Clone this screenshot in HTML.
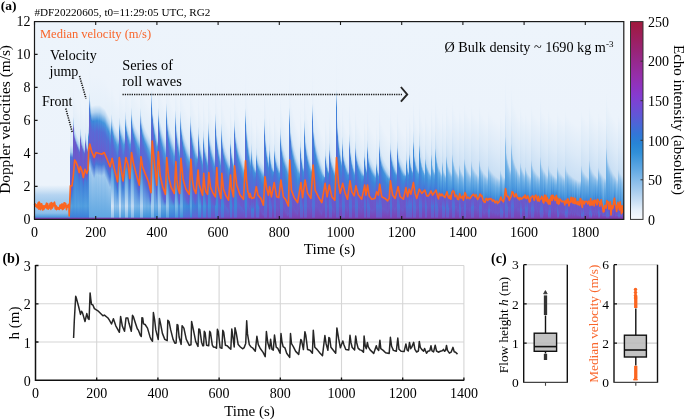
<!DOCTYPE html><html><head><meta charset="utf-8"><style>html,body{margin:0;padding:0;background:#fff;}svg{display:block;will-change:transform;}</style></head><body>
<svg width="685" height="419" viewBox="0 0 685 419" font-family='"Liberation Serif", serif'>
<defs>
<linearGradient id="cb" x1="0" y1="1" x2="0" y2="0"><stop offset="0.000" stop-color="#f8fafd"/><stop offset="0.048" stop-color="#e6f0fa"/><stop offset="0.096" stop-color="#c6ddf3"/><stop offset="0.144" stop-color="#a7ccee"/><stop offset="0.192" stop-color="#89bdea"/><stop offset="0.240" stop-color="#69ade5"/><stop offset="0.288" stop-color="#4d9edf"/><stop offset="0.336" stop-color="#3190d9"/><stop offset="0.384" stop-color="#2784d6"/><stop offset="0.432" stop-color="#3376d7"/><stop offset="0.480" stop-color="#4b66d7"/><stop offset="0.528" stop-color="#6156d6"/><stop offset="0.576" stop-color="#7448d5"/><stop offset="0.624" stop-color="#853bd0"/><stop offset="0.672" stop-color="#8f33c0"/><stop offset="0.720" stop-color="#952fac"/><stop offset="0.768" stop-color="#962b99"/><stop offset="0.816" stop-color="#972786"/><stop offset="0.864" stop-color="#992372"/><stop offset="0.912" stop-color="#9c1f5f"/><stop offset="0.960" stop-color="#9e1c4c"/><stop offset="1" stop-color="#a0193c"/></linearGradient>
<linearGradient id="g0" x2="0" y2="1"><stop offset=".000" stop-color="#edf4fb"/><stop offset=".826" stop-color="#ecf3fb"/><stop offset=".851" stop-color="#d3e5f6"/><stop offset=".876" stop-color="#b5d4f1"/><stop offset=".901" stop-color="#a6ccee"/><stop offset=".937" stop-color="#9cc7ed"/><stop offset=".967" stop-color="#8dbfea"/><stop offset=".987" stop-color="#4c9bde"/><stop offset=".994" stop-color="#7e40b1"/><stop offset="1.000" stop-color="#843aa6"/></linearGradient>
<linearGradient id="g1" x2="0" y2="1"><stop offset=".000" stop-color="#edf4fb"/><stop offset=".826" stop-color="#ecf3fb"/><stop offset=".851" stop-color="#d3e5f6"/><stop offset=".876" stop-color="#b5d4f1"/><stop offset=".901" stop-color="#a6ccee"/><stop offset=".937" stop-color="#9cc7ed"/><stop offset=".967" stop-color="#8dbfea"/><stop offset=".987" stop-color="#4c9bde"/><stop offset=".994" stop-color="#7e40b1"/><stop offset="1.000" stop-color="#843aa6"/></linearGradient>
<linearGradient id="g2" x2="0" y2="1"><stop offset=".000" stop-color="#edf4fb"/><stop offset=".826" stop-color="#ecf3fb"/><stop offset=".851" stop-color="#d3e5f6"/><stop offset=".876" stop-color="#b5d4f1"/><stop offset=".901" stop-color="#a6ccee"/><stop offset=".937" stop-color="#9cc7ed"/><stop offset=".967" stop-color="#8dbfea"/><stop offset=".987" stop-color="#4c9bde"/><stop offset=".994" stop-color="#7e40b1"/><stop offset="1.000" stop-color="#843aa6"/></linearGradient>
<linearGradient id="g3" x2="0" y2="1"><stop offset=".000" stop-color="#edf4fb"/><stop offset=".826" stop-color="#ecf3fb"/><stop offset=".851" stop-color="#d3e5f6"/><stop offset=".876" stop-color="#b5d4f1"/><stop offset=".901" stop-color="#a6ccee"/><stop offset=".937" stop-color="#9cc7ed"/><stop offset=".967" stop-color="#8dbfea"/><stop offset=".987" stop-color="#4c9bde"/><stop offset=".994" stop-color="#7e40b1"/><stop offset="1.000" stop-color="#843aa6"/></linearGradient>
<linearGradient id="g4" x2="0" y2="1"><stop offset=".000" stop-color="#edf4fb"/><stop offset=".826" stop-color="#ecf3fb"/><stop offset=".851" stop-color="#d3e5f6"/><stop offset=".876" stop-color="#b5d4f1"/><stop offset=".901" stop-color="#a6ccee"/><stop offset=".937" stop-color="#9cc7ed"/><stop offset=".967" stop-color="#8dbfea"/><stop offset=".987" stop-color="#4c9bde"/><stop offset=".994" stop-color="#7e40b1"/><stop offset="1.000" stop-color="#843aa6"/></linearGradient>
<linearGradient id="g5" x2="0" y2="1"><stop offset=".000" stop-color="#edf4fb"/><stop offset=".826" stop-color="#ecf3fb"/><stop offset=".851" stop-color="#d3e5f6"/><stop offset=".876" stop-color="#b5d4f1"/><stop offset=".901" stop-color="#a6ccee"/><stop offset=".937" stop-color="#9cc7ed"/><stop offset=".967" stop-color="#8dbfea"/><stop offset=".987" stop-color="#4c9bde"/><stop offset=".994" stop-color="#7e40b1"/><stop offset="1.000" stop-color="#843aa6"/></linearGradient>
<linearGradient id="g6" x2="0" y2="1"><stop offset=".000" stop-color="#edf4fb"/><stop offset=".826" stop-color="#ecf3fb"/><stop offset=".851" stop-color="#d3e5f6"/><stop offset=".876" stop-color="#b5d4f1"/><stop offset=".901" stop-color="#a6ccee"/><stop offset=".937" stop-color="#9cc7ed"/><stop offset=".967" stop-color="#8dbfea"/><stop offset=".987" stop-color="#4c9bde"/><stop offset=".994" stop-color="#7e40b1"/><stop offset="1.000" stop-color="#843aa6"/></linearGradient>
<linearGradient id="g7" x2="0" y2="1"><stop offset=".000" stop-color="#edf4fb"/><stop offset=".826" stop-color="#ecf3fb"/><stop offset=".851" stop-color="#d3e5f6"/><stop offset=".876" stop-color="#b5d4f1"/><stop offset=".901" stop-color="#a6ccee"/><stop offset=".937" stop-color="#9cc7ed"/><stop offset=".967" stop-color="#8dbfea"/><stop offset=".987" stop-color="#4c9bde"/><stop offset=".994" stop-color="#7e40b1"/><stop offset="1.000" stop-color="#843aa6"/></linearGradient>
<linearGradient id="g8" x2="0" y2="1"><stop offset=".000" stop-color="#edf4fb"/><stop offset=".826" stop-color="#ecf3fb"/><stop offset=".851" stop-color="#d3e5f6"/><stop offset=".876" stop-color="#b5d4f1"/><stop offset=".901" stop-color="#a6ccee"/><stop offset=".937" stop-color="#9cc7ed"/><stop offset=".967" stop-color="#8dbfea"/><stop offset=".987" stop-color="#4c9bde"/><stop offset=".994" stop-color="#7e40b1"/><stop offset="1.000" stop-color="#843aa6"/></linearGradient>
<linearGradient id="g9" x2="0" y2="1"><stop offset=".000" stop-color="#edf4fb"/><stop offset=".826" stop-color="#ecf3fb"/><stop offset=".851" stop-color="#d3e5f6"/><stop offset=".876" stop-color="#b5d4f1"/><stop offset=".901" stop-color="#a6ccee"/><stop offset=".937" stop-color="#9cc7ed"/><stop offset=".967" stop-color="#8dbfea"/><stop offset=".987" stop-color="#4c9bde"/><stop offset=".994" stop-color="#7e40b1"/><stop offset="1.000" stop-color="#843aa6"/></linearGradient>
<linearGradient id="g10" x2="0" y2="1"><stop offset=".000" stop-color="#edf4fb"/><stop offset=".826" stop-color="#ecf3fb"/><stop offset=".851" stop-color="#d3e5f6"/><stop offset=".876" stop-color="#b5d4f1"/><stop offset=".901" stop-color="#a6ccee"/><stop offset=".937" stop-color="#9cc7ed"/><stop offset=".967" stop-color="#8dbfea"/><stop offset=".987" stop-color="#4c9bde"/><stop offset=".994" stop-color="#7e40b1"/><stop offset="1.000" stop-color="#843aa6"/></linearGradient>
<linearGradient id="g11" x2="0" y2="1"><stop offset=".000" stop-color="#edf4fb"/><stop offset=".826" stop-color="#ecf3fb"/><stop offset=".851" stop-color="#d3e5f6"/><stop offset=".876" stop-color="#b5d4f1"/><stop offset=".901" stop-color="#a6ccee"/><stop offset=".937" stop-color="#9cc7ed"/><stop offset=".967" stop-color="#8dbfea"/><stop offset=".987" stop-color="#4c9bde"/><stop offset=".994" stop-color="#7e40b1"/><stop offset="1.000" stop-color="#843aa6"/></linearGradient>
<linearGradient id="g12" x2="0" y2="1"><stop offset=".000" stop-color="#edf4fb"/><stop offset=".826" stop-color="#ecf3fb"/><stop offset=".851" stop-color="#d3e5f6"/><stop offset=".876" stop-color="#b5d4f1"/><stop offset=".901" stop-color="#a6ccee"/><stop offset=".937" stop-color="#9cc7ed"/><stop offset=".967" stop-color="#8dbfea"/><stop offset=".987" stop-color="#4c9bde"/><stop offset=".994" stop-color="#7e40b1"/><stop offset="1.000" stop-color="#843aa6"/></linearGradient>
<linearGradient id="g13" x2="0" y2="1"><stop offset=".000" stop-color="#edf4fb"/><stop offset=".826" stop-color="#ecf3fb"/><stop offset=".851" stop-color="#d3e5f6"/><stop offset=".876" stop-color="#b5d4f1"/><stop offset=".901" stop-color="#a6ccee"/><stop offset=".937" stop-color="#9cc7ed"/><stop offset=".967" stop-color="#8dbfea"/><stop offset=".987" stop-color="#4c9bde"/><stop offset=".994" stop-color="#7e40b1"/><stop offset="1.000" stop-color="#843aa6"/></linearGradient>
<linearGradient id="g14" x2="0" y2="1"><stop offset=".000" stop-color="#edf4fb"/><stop offset=".826" stop-color="#ecf3fb"/><stop offset=".851" stop-color="#d3e5f6"/><stop offset=".876" stop-color="#b5d4f1"/><stop offset=".901" stop-color="#a6ccee"/><stop offset=".937" stop-color="#9cc7ed"/><stop offset=".967" stop-color="#8dbfea"/><stop offset=".987" stop-color="#4c9bde"/><stop offset=".994" stop-color="#7e40b1"/><stop offset="1.000" stop-color="#843aa6"/></linearGradient>
<linearGradient id="g15" x2="0" y2="1"><stop offset=".000" stop-color="#edf4fb"/><stop offset=".826" stop-color="#ecf3fb"/><stop offset=".851" stop-color="#d3e5f6"/><stop offset=".876" stop-color="#b5d4f1"/><stop offset=".901" stop-color="#a6ccee"/><stop offset=".937" stop-color="#9cc7ed"/><stop offset=".967" stop-color="#8dbfea"/><stop offset=".987" stop-color="#4c9bde"/><stop offset=".994" stop-color="#7e40b1"/><stop offset="1.000" stop-color="#843aa6"/></linearGradient>
<linearGradient id="g16" x2="0" y2="1"><stop offset=".000" stop-color="#edf4fb"/><stop offset=".826" stop-color="#ecf3fb"/><stop offset=".851" stop-color="#d3e5f6"/><stop offset=".876" stop-color="#b5d4f1"/><stop offset=".901" stop-color="#a6ccee"/><stop offset=".937" stop-color="#9cc7ed"/><stop offset=".967" stop-color="#8dbfea"/><stop offset=".987" stop-color="#4c9bde"/><stop offset=".994" stop-color="#7e40b1"/><stop offset="1.000" stop-color="#843aa6"/></linearGradient>
<linearGradient id="g17" x2="0" y2="1"><stop offset=".000" stop-color="#edf4fb"/><stop offset=".826" stop-color="#ecf3fb"/><stop offset=".851" stop-color="#d3e5f6"/><stop offset=".876" stop-color="#b5d4f1"/><stop offset=".901" stop-color="#a6ccee"/><stop offset=".937" stop-color="#9cc7ed"/><stop offset=".967" stop-color="#8dbfea"/><stop offset=".987" stop-color="#4c9bde"/><stop offset=".994" stop-color="#7e40b1"/><stop offset="1.000" stop-color="#843aa6"/></linearGradient>
<linearGradient id="g18" x2="0" y2="1"><stop offset=".000" stop-color="#edf4fb"/><stop offset=".826" stop-color="#ecf3fb"/><stop offset=".851" stop-color="#d3e5f6"/><stop offset=".876" stop-color="#b5d4f1"/><stop offset=".901" stop-color="#a6ccee"/><stop offset=".937" stop-color="#9cc7ed"/><stop offset=".967" stop-color="#8dbfea"/><stop offset=".987" stop-color="#4c9bde"/><stop offset=".994" stop-color="#7e40b1"/><stop offset="1.000" stop-color="#843aa6"/></linearGradient>
<linearGradient id="g19" x2="0" y2="1"><stop offset=".000" stop-color="#edf4fb"/><stop offset=".826" stop-color="#ecf3fb"/><stop offset=".851" stop-color="#d3e5f6"/><stop offset=".876" stop-color="#b5d4f1"/><stop offset=".901" stop-color="#a6ccee"/><stop offset=".937" stop-color="#9cc7ed"/><stop offset=".967" stop-color="#8dbfea"/><stop offset=".987" stop-color="#4c9bde"/><stop offset=".994" stop-color="#7e40b1"/><stop offset="1.000" stop-color="#843aa6"/></linearGradient>
<linearGradient id="g20" x2="0" y2="1"><stop offset=".000" stop-color="#edf4fb"/><stop offset=".826" stop-color="#ecf3fb"/><stop offset=".851" stop-color="#d3e5f6"/><stop offset=".876" stop-color="#b5d4f1"/><stop offset=".901" stop-color="#a6ccee"/><stop offset=".937" stop-color="#9cc7ed"/><stop offset=".967" stop-color="#8dbfea"/><stop offset=".987" stop-color="#4c9bde"/><stop offset=".994" stop-color="#7e40b1"/><stop offset="1.000" stop-color="#843aa6"/></linearGradient>
<linearGradient id="g21" x2="0" y2="1"><stop offset=".000" stop-color="#edf4fb"/><stop offset=".826" stop-color="#ecf3fb"/><stop offset=".851" stop-color="#d3e5f6"/><stop offset=".876" stop-color="#b5d4f1"/><stop offset=".901" stop-color="#a6ccee"/><stop offset=".937" stop-color="#9cc7ed"/><stop offset=".967" stop-color="#8dbfea"/><stop offset=".987" stop-color="#4c9bde"/><stop offset=".994" stop-color="#7e40b1"/><stop offset="1.000" stop-color="#843aa6"/></linearGradient>
<linearGradient id="g22" x2="0" y2="1"><stop offset=".000" stop-color="#edf4fb"/><stop offset=".826" stop-color="#ecf3fb"/><stop offset=".851" stop-color="#d3e5f6"/><stop offset=".876" stop-color="#b5d4f1"/><stop offset=".901" stop-color="#a6ccee"/><stop offset=".937" stop-color="#9cc7ed"/><stop offset=".967" stop-color="#8dbfea"/><stop offset=".987" stop-color="#4c9bde"/><stop offset=".994" stop-color="#7e40b1"/><stop offset="1.000" stop-color="#843aa6"/></linearGradient>
<linearGradient id="g23" x2="0" y2="1"><stop offset=".000" stop-color="#edf4fb"/><stop offset=".826" stop-color="#ecf3fb"/><stop offset=".851" stop-color="#d3e5f6"/><stop offset=".876" stop-color="#b5d4f1"/><stop offset=".901" stop-color="#a6ccee"/><stop offset=".937" stop-color="#9cc7ed"/><stop offset=".967" stop-color="#8dbfea"/><stop offset=".987" stop-color="#4c9bde"/><stop offset=".994" stop-color="#7e40b1"/><stop offset="1.000" stop-color="#843aa6"/></linearGradient>
<linearGradient id="g24" x2="0" y2="1"><stop offset=".000" stop-color="#edf4fb"/><stop offset=".826" stop-color="#ecf3fb"/><stop offset=".851" stop-color="#d3e5f6"/><stop offset=".876" stop-color="#b5d4f1"/><stop offset=".901" stop-color="#a6ccee"/><stop offset=".937" stop-color="#9cc7ed"/><stop offset=".967" stop-color="#8dbfea"/><stop offset=".987" stop-color="#4c9bde"/><stop offset=".994" stop-color="#7e40b1"/><stop offset="1.000" stop-color="#843aa6"/></linearGradient>
<linearGradient id="g25" x2="0" y2="1"><stop offset=".000" stop-color="#edf4fb"/><stop offset=".826" stop-color="#ecf3fb"/><stop offset=".851" stop-color="#d3e5f6"/><stop offset=".876" stop-color="#b5d4f1"/><stop offset=".901" stop-color="#a6ccee"/><stop offset=".937" stop-color="#9cc7ed"/><stop offset=".967" stop-color="#8dbfea"/><stop offset=".987" stop-color="#4c9bde"/><stop offset=".994" stop-color="#7e40b1"/><stop offset="1.000" stop-color="#843aa6"/></linearGradient>
<linearGradient id="g26" x2="0" y2="1"><stop offset=".000" stop-color="#edf4fb"/><stop offset=".826" stop-color="#ecf3fb"/><stop offset=".851" stop-color="#d3e5f6"/><stop offset=".876" stop-color="#b5d4f1"/><stop offset=".901" stop-color="#a6ccee"/><stop offset=".937" stop-color="#9cc7ed"/><stop offset=".967" stop-color="#8dbfea"/><stop offset=".987" stop-color="#4c9bde"/><stop offset=".994" stop-color="#7e40b1"/><stop offset="1.000" stop-color="#843aa6"/></linearGradient>
<linearGradient id="g27" x2="0" y2="1"><stop offset=".000" stop-color="#edf4fb"/><stop offset=".826" stop-color="#ecf3fb"/><stop offset=".851" stop-color="#d3e5f6"/><stop offset=".876" stop-color="#b5d4f1"/><stop offset=".901" stop-color="#a6ccee"/><stop offset=".937" stop-color="#9cc7ed"/><stop offset=".967" stop-color="#8dbfea"/><stop offset=".987" stop-color="#4c9bde"/><stop offset=".994" stop-color="#7e40b1"/><stop offset="1.000" stop-color="#843aa6"/></linearGradient>
<linearGradient id="g28" x2="0" y2="1"><stop offset=".000" stop-color="#edf4fb"/><stop offset=".826" stop-color="#ecf3fb"/><stop offset=".851" stop-color="#d3e5f6"/><stop offset=".876" stop-color="#b5d4f1"/><stop offset=".901" stop-color="#a6ccee"/><stop offset=".937" stop-color="#9cc7ed"/><stop offset=".967" stop-color="#8dbfea"/><stop offset=".987" stop-color="#4c9bde"/><stop offset=".994" stop-color="#7e40b1"/><stop offset="1.000" stop-color="#843aa6"/></linearGradient>
<linearGradient id="g29" x2="0" y2="1"><stop offset=".000" stop-color="#edf4fb"/><stop offset=".826" stop-color="#ecf3fb"/><stop offset=".851" stop-color="#d3e5f6"/><stop offset=".876" stop-color="#b5d4f1"/><stop offset=".901" stop-color="#a6ccee"/><stop offset=".937" stop-color="#9cc7ed"/><stop offset=".967" stop-color="#8dbfea"/><stop offset=".987" stop-color="#4c9bde"/><stop offset=".994" stop-color="#7e40b1"/><stop offset="1.000" stop-color="#843aa6"/></linearGradient>
<linearGradient id="g30" x2="0" y2="1"><stop offset=".000" stop-color="#edf4fb"/><stop offset=".826" stop-color="#ecf3fb"/><stop offset=".851" stop-color="#d3e5f6"/><stop offset=".876" stop-color="#b5d4f1"/><stop offset=".901" stop-color="#a6ccee"/><stop offset=".937" stop-color="#9cc7ed"/><stop offset=".967" stop-color="#8dbfea"/><stop offset=".987" stop-color="#4c9bde"/><stop offset=".994" stop-color="#7e40b1"/><stop offset="1.000" stop-color="#843aa6"/></linearGradient>
<linearGradient id="g31" x2="0" y2="1"><stop offset=".000" stop-color="#edf4fb"/><stop offset=".826" stop-color="#ecf3fb"/><stop offset=".851" stop-color="#d3e5f6"/><stop offset=".876" stop-color="#b5d4f1"/><stop offset=".901" stop-color="#a6ccee"/><stop offset=".937" stop-color="#9cc7ed"/><stop offset=".967" stop-color="#8dbfea"/><stop offset=".987" stop-color="#4c9bde"/><stop offset=".994" stop-color="#7e40b1"/><stop offset="1.000" stop-color="#843aa6"/></linearGradient>
<linearGradient id="g32" x2="0" y2="1"><stop offset=".000" stop-color="#edf4fb"/><stop offset=".826" stop-color="#ecf3fb"/><stop offset=".851" stop-color="#d3e5f6"/><stop offset=".876" stop-color="#b5d4f1"/><stop offset=".901" stop-color="#a6ccee"/><stop offset=".937" stop-color="#9cc7ed"/><stop offset=".967" stop-color="#8dbfea"/><stop offset=".987" stop-color="#4c9bde"/><stop offset=".994" stop-color="#7e40b1"/><stop offset="1.000" stop-color="#843aa6"/></linearGradient>
<linearGradient id="g33" x2="0" y2="1"><stop offset=".000" stop-color="#edf4fb"/><stop offset=".826" stop-color="#ecf3fb"/><stop offset=".851" stop-color="#d3e5f6"/><stop offset=".876" stop-color="#b5d4f1"/><stop offset=".901" stop-color="#a6ccee"/><stop offset=".937" stop-color="#9cc7ed"/><stop offset=".967" stop-color="#8dbfea"/><stop offset=".987" stop-color="#4c9bde"/><stop offset=".994" stop-color="#7e40b1"/><stop offset="1.000" stop-color="#843aa6"/></linearGradient>
<linearGradient id="g34" x2="0" y2="1"><stop offset=".000" stop-color="#edf4fb"/><stop offset=".826" stop-color="#ecf3fb"/><stop offset=".851" stop-color="#d3e5f6"/><stop offset=".876" stop-color="#b5d4f1"/><stop offset=".901" stop-color="#a6ccee"/><stop offset=".937" stop-color="#9cc7ed"/><stop offset=".967" stop-color="#8dbfea"/><stop offset=".987" stop-color="#4c9bde"/><stop offset=".994" stop-color="#7e40b1"/><stop offset="1.000" stop-color="#843aa6"/></linearGradient>
<linearGradient id="g35" x2="0" y2="1"><stop offset=".000" stop-color="#edf4fb"/><stop offset=".826" stop-color="#ecf3fb"/><stop offset=".851" stop-color="#d3e5f6"/><stop offset=".876" stop-color="#b5d4f1"/><stop offset=".901" stop-color="#a6ccee"/><stop offset=".937" stop-color="#9cc7ed"/><stop offset=".967" stop-color="#8dbfea"/><stop offset=".987" stop-color="#4c9bde"/><stop offset=".994" stop-color="#7e40b1"/><stop offset="1.000" stop-color="#843aa6"/></linearGradient>
<linearGradient id="g36" x2="0" y2="1"><stop offset=".000" stop-color="#edf4fb"/><stop offset=".474" stop-color="#ecf3fb"/><stop offset=".625" stop-color="#dceaf8"/><stop offset=".660" stop-color="#a6ccee"/><stop offset=".685" stop-color="#4977d8"/><stop offset=".737" stop-color="#6361d1"/><stop offset=".810" stop-color="#6a5acb"/><stop offset=".845" stop-color="#6d56c9"/><stop offset=".881" stop-color="#427cd9"/><stop offset=".932" stop-color="#4e9cde"/><stop offset=".987" stop-color="#3d81d9"/><stop offset=".994" stop-color="#813dac"/><stop offset="1.000" stop-color="#843aa6"/></linearGradient>
<linearGradient id="g37" x2="0" y2="1"><stop offset=".000" stop-color="#edf4fb"/><stop offset=".475" stop-color="#ecf3fb"/><stop offset=".626" stop-color="#dceaf8"/><stop offset=".661" stop-color="#a6ccee"/><stop offset=".686" stop-color="#4778d8"/><stop offset=".738" stop-color="#6362d1"/><stop offset=".810" stop-color="#6a5bcc"/><stop offset=".845" stop-color="#6c57c9"/><stop offset=".881" stop-color="#427cd9"/><stop offset=".932" stop-color="#56a1e0"/><stop offset=".987" stop-color="#3d81d9"/><stop offset=".994" stop-color="#813dac"/><stop offset="1.000" stop-color="#843aa6"/></linearGradient>
<linearGradient id="g38" x2="0" y2="1"><stop offset=".000" stop-color="#edf4fb"/><stop offset=".476" stop-color="#ecf3fb"/><stop offset=".627" stop-color="#dceaf8"/><stop offset=".662" stop-color="#a6ccee"/><stop offset=".688" stop-color="#4976d8"/><stop offset=".727" stop-color="#6561d0"/><stop offset=".791" stop-color="#6b59cb"/><stop offset=".826" stop-color="#6d55c8"/><stop offset=".861" stop-color="#407ed9"/><stop offset=".932" stop-color="#509ddf"/><stop offset=".987" stop-color="#3d81d9"/><stop offset=".994" stop-color="#813dac"/><stop offset="1.000" stop-color="#843aa6"/></linearGradient>
<linearGradient id="g39" x2="0" y2="1"><stop offset=".000" stop-color="#edf4fb"/><stop offset=".332" stop-color="#ecf3fb"/><stop offset=".483" stop-color="#e4eef9"/><stop offset=".519" stop-color="#a6ccee"/><stop offset=".544" stop-color="#695dcd"/><stop offset=".640" stop-color="#6c58ca"/><stop offset=".749" stop-color="#675ece"/><stop offset=".785" stop-color="#6a5acb"/><stop offset=".820" stop-color="#427cd9"/><stop offset=".932" stop-color="#4e9cde"/><stop offset=".987" stop-color="#3d81d9"/><stop offset=".994" stop-color="#813dac"/><stop offset="1.000" stop-color="#843aa6"/></linearGradient>
<linearGradient id="g40" x2="0" y2="1"><stop offset=".000" stop-color="#edf4fb"/><stop offset=".382" stop-color="#ecf3fb"/><stop offset=".533" stop-color="#e1edf9"/><stop offset=".568" stop-color="#a6ccee"/><stop offset=".594" stop-color="#6560d0"/><stop offset=".631" stop-color="#6b5acb"/><stop offset=".691" stop-color="#675ece"/><stop offset=".727" stop-color="#6a5bcc"/><stop offset=".762" stop-color="#407ed9"/><stop offset=".932" stop-color="#519edf"/><stop offset=".987" stop-color="#3d81d9"/><stop offset=".994" stop-color="#813dac"/><stop offset="1.000" stop-color="#843aa6"/></linearGradient>
<linearGradient id="g41" x2="0" y2="1"><stop offset=".000" stop-color="#edf4fb"/><stop offset=".403" stop-color="#ecf3fb"/><stop offset=".554" stop-color="#e0ecf9"/><stop offset=".589" stop-color="#a6ccee"/><stop offset=".611" stop-color="#685ecd"/><stop offset=".636" stop-color="#6d55c8"/><stop offset=".685" stop-color="#6b59ca"/><stop offset=".721" stop-color="#6e55c8"/><stop offset=".756" stop-color="#3e7fd9"/><stop offset=".932" stop-color="#55a1e0"/><stop offset=".987" stop-color="#3d81d9"/><stop offset=".994" stop-color="#813dac"/><stop offset="1.000" stop-color="#843aa6"/></linearGradient>
<linearGradient id="g42" x2="0" y2="1"><stop offset=".000" stop-color="#edf4fb"/><stop offset=".418" stop-color="#ecf3fb"/><stop offset=".569" stop-color="#dfecf8"/><stop offset=".604" stop-color="#a6ccee"/><stop offset=".625" stop-color="#5f64d3"/><stop offset=".649" stop-color="#6a5bcc"/><stop offset=".696" stop-color="#685dcd"/><stop offset=".731" stop-color="#6b59cb"/><stop offset=".767" stop-color="#417dd9"/><stop offset=".932" stop-color="#4f9ddf"/><stop offset=".987" stop-color="#3d81d9"/><stop offset=".994" stop-color="#813dac"/><stop offset="1.000" stop-color="#843aa6"/></linearGradient>
<linearGradient id="g43" x2="0" y2="1"><stop offset=".000" stop-color="#edf4fb"/><stop offset=".431" stop-color="#ecf3fb"/><stop offset=".582" stop-color="#dfecf8"/><stop offset=".617" stop-color="#a6ccee"/><stop offset=".638" stop-color="#5d66d4"/><stop offset=".662" stop-color="#6a5bcc"/><stop offset=".709" stop-color="#695ccc"/><stop offset=".745" stop-color="#6c58ca"/><stop offset=".780" stop-color="#407ed9"/><stop offset=".932" stop-color="#539fe0"/><stop offset=".987" stop-color="#3d81d9"/><stop offset=".994" stop-color="#813dac"/><stop offset="1.000" stop-color="#843aa6"/></linearGradient>
<linearGradient id="g44" x2="0" y2="1"><stop offset=".000" stop-color="#edf4fb"/><stop offset=".442" stop-color="#ecf3fb"/><stop offset=".593" stop-color="#deebf8"/><stop offset=".629" stop-color="#a6ccee"/><stop offset=".651" stop-color="#5b68d5"/><stop offset=".678" stop-color="#695dcd"/><stop offset=".729" stop-color="#695ccd"/><stop offset=".764" stop-color="#6b59ca"/><stop offset=".800" stop-color="#407ed9"/><stop offset=".932" stop-color="#56a1e0"/><stop offset=".987" stop-color="#3d81d9"/><stop offset=".994" stop-color="#813dac"/><stop offset="1.000" stop-color="#843aa6"/></linearGradient>
<linearGradient id="g45" x2="0" y2="1"><stop offset=".000" stop-color="#edf4fb"/><stop offset=".453" stop-color="#ecf3fb"/><stop offset=".604" stop-color="#ddebf8"/><stop offset=".639" stop-color="#a6ccee"/><stop offset=".661" stop-color="#5969d5"/><stop offset=".687" stop-color="#695dcd"/><stop offset=".735" stop-color="#6a5bcc"/><stop offset=".771" stop-color="#6c57ca"/><stop offset=".806" stop-color="#437bd9"/><stop offset=".932" stop-color="#539fdf"/><stop offset=".987" stop-color="#3d81d9"/><stop offset=".994" stop-color="#813dac"/><stop offset="1.000" stop-color="#843aa6"/></linearGradient>
<linearGradient id="g46" x2="0" y2="1"><stop offset=".000" stop-color="#edf4fb"/><stop offset=".389" stop-color="#ecf3fb"/><stop offset=".540" stop-color="#e1edf9"/><stop offset=".575" stop-color="#a6ccee"/><stop offset=".600" stop-color="#675ece"/><stop offset=".646" stop-color="#6d56c9"/><stop offset=".715" stop-color="#6b59cb"/><stop offset=".750" stop-color="#6d56c8"/><stop offset=".785" stop-color="#3e7fd9"/><stop offset=".932" stop-color="#509edf"/><stop offset=".987" stop-color="#3d81d9"/><stop offset=".994" stop-color="#813dac"/><stop offset="1.000" stop-color="#843aa6"/></linearGradient>
<linearGradient id="g47" x2="0" y2="1"><stop offset=".000" stop-color="#edf4fb"/><stop offset=".420" stop-color="#ecf3fb"/><stop offset=".571" stop-color="#dfecf8"/><stop offset=".606" stop-color="#a6ccee"/><stop offset=".632" stop-color="#6461d1"/><stop offset=".667" stop-color="#6c57ca"/><stop offset=".728" stop-color="#6b59cb"/><stop offset=".763" stop-color="#6d56c8"/><stop offset=".798" stop-color="#427dd9"/><stop offset=".932" stop-color="#529fdf"/><stop offset=".987" stop-color="#3d81d9"/><stop offset=".994" stop-color="#813dac"/><stop offset="1.000" stop-color="#843aa6"/></linearGradient>
<linearGradient id="g48" x2="0" y2="1"><stop offset=".000" stop-color="#edf4fb"/><stop offset=".437" stop-color="#ecf3fb"/><stop offset=".588" stop-color="#deebf8"/><stop offset=".623" stop-color="#a6ccee"/><stop offset=".648" stop-color="#5e65d3"/><stop offset=".686" stop-color="#6a5bcc"/><stop offset=".748" stop-color="#6a5bcc"/><stop offset=".783" stop-color="#6c58ca"/><stop offset=".818" stop-color="#427dd9"/><stop offset=".932" stop-color="#4e9cdf"/><stop offset=".987" stop-color="#3d81d9"/><stop offset=".994" stop-color="#813dac"/><stop offset="1.000" stop-color="#843aa6"/></linearGradient>
<linearGradient id="g49" x2="0" y2="1"><stop offset=".000" stop-color="#edf4fb"/><stop offset=".450" stop-color="#ecf3fb"/><stop offset=".601" stop-color="#ddebf8"/><stop offset=".636" stop-color="#a6ccee"/><stop offset=".661" stop-color="#576ad6"/><stop offset=".702" stop-color="#675ece"/><stop offset=".765" stop-color="#675ece"/><stop offset=".801" stop-color="#6a5acb"/><stop offset=".836" stop-color="#3e80d9"/><stop offset=".932" stop-color="#4f9ddf"/><stop offset=".987" stop-color="#3d81d9"/><stop offset=".994" stop-color="#813dac"/><stop offset="1.000" stop-color="#843aa6"/></linearGradient>
<linearGradient id="g50" x2="0" y2="1"><stop offset=".000" stop-color="#edf4fb"/><stop offset=".461" stop-color="#ecf3fb"/><stop offset=".612" stop-color="#ddebf8"/><stop offset=".647" stop-color="#a6ccee"/><stop offset=".668" stop-color="#5d66d4"/><stop offset=".692" stop-color="#6b59cb"/><stop offset=".739" stop-color="#6c58ca"/><stop offset=".774" stop-color="#6e54c7"/><stop offset=".810" stop-color="#407ed9"/><stop offset=".932" stop-color="#529fdf"/><stop offset=".987" stop-color="#3d81d9"/><stop offset=".994" stop-color="#813dac"/><stop offset="1.000" stop-color="#843aa6"/></linearGradient>
<linearGradient id="g51" x2="0" y2="1"><stop offset=".000" stop-color="#edf4fb"/><stop offset=".409" stop-color="#ecf3fb"/><stop offset=".560" stop-color="#e0ecf8"/><stop offset=".596" stop-color="#a6ccee"/><stop offset=".621" stop-color="#6561d0"/><stop offset=".665" stop-color="#6c57ca"/><stop offset=".732" stop-color="#6b5acb"/><stop offset=".768" stop-color="#6d56c8"/><stop offset=".803" stop-color="#3e7fd9"/><stop offset=".932" stop-color="#54a0e0"/><stop offset=".987" stop-color="#3d81d9"/><stop offset=".994" stop-color="#813dac"/><stop offset="1.000" stop-color="#843aa6"/></linearGradient>
<linearGradient id="g52" x2="0" y2="1"><stop offset=".000" stop-color="#edf4fb"/><stop offset=".436" stop-color="#ecf3fb"/><stop offset=".587" stop-color="#deebf8"/><stop offset=".623" stop-color="#a6ccee"/><stop offset=".648" stop-color="#5c67d4"/><stop offset=".684" stop-color="#695dcd"/><stop offset=".745" stop-color="#685ecd"/><stop offset=".780" stop-color="#6b5acb"/><stop offset=".815" stop-color="#407dd9"/><stop offset=".932" stop-color="#53a0e0"/><stop offset=".987" stop-color="#3d81d9"/><stop offset=".994" stop-color="#813dac"/><stop offset="1.000" stop-color="#843aa6"/></linearGradient>
<linearGradient id="g53" x2="0" y2="1"><stop offset=".000" stop-color="#edf4fb"/><stop offset=".452" stop-color="#ecf3fb"/><stop offset=".603" stop-color="#ddebf8"/><stop offset=".639" stop-color="#a6ccee"/><stop offset=".661" stop-color="#5969d5"/><stop offset=".687" stop-color="#685ecd"/><stop offset=".737" stop-color="#685dcd"/><stop offset=".772" stop-color="#6b59cb"/><stop offset=".807" stop-color="#427dd9"/><stop offset=".932" stop-color="#4e9cde"/><stop offset=".987" stop-color="#3d81d9"/><stop offset=".994" stop-color="#813dac"/><stop offset="1.000" stop-color="#843aa6"/></linearGradient>
<linearGradient id="g54" x2="0" y2="1"><stop offset=".000" stop-color="#edf4fb"/><stop offset=".376" stop-color="#ecf3fb"/><stop offset=".527" stop-color="#e1edf9"/><stop offset=".562" stop-color="#b3d3f0"/><stop offset=".584" stop-color="#4293dc"/><stop offset=".609" stop-color="#526fd7"/><stop offset=".658" stop-color="#6361d1"/><stop offset=".693" stop-color="#6b59cb"/><stop offset=".729" stop-color="#427dd9"/><stop offset=".932" stop-color="#539fdf"/><stop offset=".987" stop-color="#3d81d9"/><stop offset=".994" stop-color="#813dac"/><stop offset="1.000" stop-color="#843aa6"/></linearGradient>
<linearGradient id="g55" x2="0" y2="1"><stop offset=".000" stop-color="#edf4fb"/><stop offset=".210" stop-color="#ecf3fb"/><stop offset=".361" stop-color="#e9f2fa"/><stop offset=".397" stop-color="#b3d3f0"/><stop offset=".442" stop-color="#457ad8"/><stop offset=".507" stop-color="#6362d1"/><stop offset=".607" stop-color="#685ecd"/><stop offset=".643" stop-color="#6e55c8"/><stop offset=".683" stop-color="#4777d8"/><stop offset=".738" stop-color="#9fc9ed"/><stop offset=".987" stop-color="#60a7e2"/><stop offset=".994" stop-color="#813dac"/><stop offset="1.000" stop-color="#843aa6"/></linearGradient>
<linearGradient id="g56" x2="0" y2="1"><stop offset=".000" stop-color="#edf4fb"/><stop offset=".250" stop-color="#ecf3fb"/><stop offset=".402" stop-color="#e7f1fa"/><stop offset=".437" stop-color="#b3d3f0"/><stop offset=".478" stop-color="#3b84d9"/><stop offset=".528" stop-color="#5b68d5"/><stop offset=".613" stop-color="#6362d1"/><stop offset=".649" stop-color="#6b5acb"/><stop offset=".689" stop-color="#457ad9"/><stop offset=".744" stop-color="#9dc7ed"/><stop offset=".987" stop-color="#60a7e2"/><stop offset=".994" stop-color="#813dac"/><stop offset="1.000" stop-color="#843aa6"/></linearGradient>
<linearGradient id="g57" x2="0" y2="1"><stop offset=".000" stop-color="#edf4fb"/><stop offset=".274" stop-color="#ecf3fb"/><stop offset=".425" stop-color="#e6f0fa"/><stop offset=".460" stop-color="#b3d3f0"/><stop offset=".501" stop-color="#3b86d9"/><stop offset=".550" stop-color="#5b68d5"/><stop offset=".634" stop-color="#6461d1"/><stop offset=".669" stop-color="#6c58ca"/><stop offset=".709" stop-color="#4579d8"/><stop offset=".765" stop-color="#9ec8ed"/><stop offset=".987" stop-color="#60a7e2"/><stop offset=".994" stop-color="#813dac"/><stop offset="1.000" stop-color="#843aa6"/></linearGradient>
<linearGradient id="g58" x2="0" y2="1"><stop offset=".000" stop-color="#edf4fb"/><stop offset=".276" stop-color="#ecf3fb"/><stop offset=".427" stop-color="#e6f0fa"/><stop offset=".462" stop-color="#b3d3f0"/><stop offset=".506" stop-color="#3c89da"/><stop offset=".559" stop-color="#596ad5"/><stop offset=".647" stop-color="#6361d1"/><stop offset=".683" stop-color="#6b59ca"/><stop offset=".723" stop-color="#4976d8"/><stop offset=".778" stop-color="#a1c9ed"/><stop offset=".987" stop-color="#60a7e2"/><stop offset=".994" stop-color="#813dac"/><stop offset="1.000" stop-color="#843aa6"/></linearGradient>
<linearGradient id="g59" x2="0" y2="1"><stop offset=".000" stop-color="#edf4fb"/><stop offset=".274" stop-color="#ecf3fb"/><stop offset=".425" stop-color="#e6f0fa"/><stop offset=".461" stop-color="#b3d3f0"/><stop offset=".505" stop-color="#3b85d9"/><stop offset=".564" stop-color="#5e65d4"/><stop offset=".659" stop-color="#695dcd"/><stop offset=".694" stop-color="#6e54c7"/><stop offset=".735" stop-color="#4778d8"/><stop offset=".790" stop-color="#9bc6ec"/><stop offset=".987" stop-color="#60a7e2"/><stop offset=".994" stop-color="#813dac"/><stop offset="1.000" stop-color="#843aa6"/></linearGradient>
<linearGradient id="g60" x2="0" y2="1"><stop offset=".000" stop-color="#edf4fb"/><stop offset=".273" stop-color="#ecf3fb"/><stop offset=".424" stop-color="#e6f0fa"/><stop offset=".459" stop-color="#b3d3f0"/><stop offset=".504" stop-color="#3d8cda"/><stop offset=".566" stop-color="#576bd6"/><stop offset=".663" stop-color="#6560d0"/><stop offset=".698" stop-color="#6c58ca"/><stop offset=".738" stop-color="#4976d8"/><stop offset=".794" stop-color="#98c5ec"/><stop offset=".987" stop-color="#60a7e2"/><stop offset=".994" stop-color="#813dac"/><stop offset="1.000" stop-color="#843aa6"/></linearGradient>
<linearGradient id="g61" x2="0" y2="1"><stop offset=".000" stop-color="#edf4fb"/><stop offset=".272" stop-color="#ecf3fb"/><stop offset=".423" stop-color="#e6f0fa"/><stop offset=".458" stop-color="#b3d3f0"/><stop offset=".503" stop-color="#3e8dda"/><stop offset=".557" stop-color="#576bd6"/><stop offset=".648" stop-color="#655fcf"/><stop offset=".683" stop-color="#6c57c9"/><stop offset=".723" stop-color="#4778d8"/><stop offset=".779" stop-color="#99c6ec"/><stop offset=".987" stop-color="#60a7e2"/><stop offset=".994" stop-color="#813dac"/><stop offset="1.000" stop-color="#843aa6"/></linearGradient>
<linearGradient id="g62" x2="0" y2="1"><stop offset=".000" stop-color="#edf4fb"/><stop offset=".272" stop-color="#ecf3fb"/><stop offset=".423" stop-color="#e6f0fa"/><stop offset=".458" stop-color="#b3d3f0"/><stop offset=".502" stop-color="#3d8bda"/><stop offset=".554" stop-color="#5969d5"/><stop offset=".643" stop-color="#685ecd"/><stop offset=".678" stop-color="#6e55c8"/><stop offset=".718" stop-color="#4778d8"/><stop offset=".774" stop-color="#99c6ec"/><stop offset=".987" stop-color="#60a7e2"/><stop offset=".994" stop-color="#813dac"/><stop offset="1.000" stop-color="#843aa6"/></linearGradient>
<linearGradient id="g63" x2="0" y2="1"><stop offset=".000" stop-color="#edf4fb"/><stop offset=".272" stop-color="#ecf3fb"/><stop offset=".423" stop-color="#e6f0fa"/><stop offset=".458" stop-color="#b3d3f0"/><stop offset=".502" stop-color="#3d8cda"/><stop offset=".555" stop-color="#5a68d5"/><stop offset=".645" stop-color="#695dcd"/><stop offset=".680" stop-color="#6e54c7"/><stop offset=".720" stop-color="#4778d8"/><stop offset=".775" stop-color="#a0c9ed"/><stop offset=".987" stop-color="#60a7e2"/><stop offset=".994" stop-color="#813dac"/><stop offset="1.000" stop-color="#843aa6"/></linearGradient>
<linearGradient id="g64" x2="0" y2="1"><stop offset=".000" stop-color="#edf4fb"/><stop offset=".272" stop-color="#ecf3fb"/><stop offset=".423" stop-color="#e6f0fa"/><stop offset=".458" stop-color="#b3d3f0"/><stop offset=".503" stop-color="#4393dc"/><stop offset=".556" stop-color="#526fd7"/><stop offset=".646" stop-color="#6362d1"/><stop offset=".681" stop-color="#6b59cb"/><stop offset=".722" stop-color="#4976d8"/><stop offset=".777" stop-color="#9ac6ec"/><stop offset=".987" stop-color="#60a7e2"/><stop offset=".994" stop-color="#813dac"/><stop offset="1.000" stop-color="#843aa6"/></linearGradient>
<linearGradient id="g65" x2="0" y2="1"><stop offset=".000" stop-color="#edf4fb"/><stop offset=".272" stop-color="#ecf3fb"/><stop offset=".423" stop-color="#e6f0fa"/><stop offset=".458" stop-color="#b3d3f0"/><stop offset=".503" stop-color="#3e8edb"/><stop offset=".557" stop-color="#5969d5"/><stop offset=".648" stop-color="#695dcd"/><stop offset=".683" stop-color="#6e54c7"/><stop offset=".723" stop-color="#4976d8"/><stop offset=".778" stop-color="#a0c9ed"/><stop offset=".987" stop-color="#60a7e2"/><stop offset=".994" stop-color="#813dac"/><stop offset="1.000" stop-color="#843aa6"/></linearGradient>
<linearGradient id="g66" x2="0" y2="1"><stop offset=".000" stop-color="#edf4fb"/><stop offset=".274" stop-color="#ecf3fb"/><stop offset=".425" stop-color="#e6f0fa"/><stop offset=".460" stop-color="#b3d3f0"/><stop offset=".505" stop-color="#4595dd"/><stop offset=".558" stop-color="#5071d7"/><stop offset=".649" stop-color="#6262d2"/><stop offset=".684" stop-color="#6b5acb"/><stop offset=".724" stop-color="#4779d8"/><stop offset=".780" stop-color="#a0c9ed"/><stop offset=".987" stop-color="#60a7e2"/><stop offset=".994" stop-color="#813dac"/><stop offset="1.000" stop-color="#843aa6"/></linearGradient>
<linearGradient id="g67" x2="0" y2="1"><stop offset=".000" stop-color="#edf4fb"/><stop offset=".278" stop-color="#ecf3fb"/><stop offset=".429" stop-color="#e6f0fa"/><stop offset=".464" stop-color="#b3d3f0"/><stop offset=".508" stop-color="#4191db"/><stop offset=".561" stop-color="#556cd6"/><stop offset=".650" stop-color="#675fce"/><stop offset=".686" stop-color="#6d56c8"/><stop offset=".726" stop-color="#4976d8"/><stop offset=".781" stop-color="#97c4ec"/><stop offset=".987" stop-color="#60a7e2"/><stop offset=".994" stop-color="#813dac"/><stop offset="1.000" stop-color="#843aa6"/></linearGradient>
<linearGradient id="g68" x2="0" y2="1"><stop offset=".000" stop-color="#edf4fb"/><stop offset=".282" stop-color="#ecf3fb"/><stop offset=".433" stop-color="#e6f0fa"/><stop offset=".468" stop-color="#b3d3f0"/><stop offset=".511" stop-color="#4596dd"/><stop offset=".561" stop-color="#5070d7"/><stop offset=".648" stop-color="#6362d1"/><stop offset=".683" stop-color="#6b59cb"/><stop offset=".723" stop-color="#4976d8"/><stop offset=".779" stop-color="#9fc8ed"/><stop offset=".987" stop-color="#60a7e2"/><stop offset=".994" stop-color="#813dac"/><stop offset="1.000" stop-color="#843aa6"/></linearGradient>
<linearGradient id="g69" x2="0" y2="1"><stop offset=".000" stop-color="#edf4fb"/><stop offset=".286" stop-color="#ecf3fb"/><stop offset=".437" stop-color="#e6f0fa"/><stop offset=".472" stop-color="#b3d3f0"/><stop offset=".513" stop-color="#4495dc"/><stop offset=".561" stop-color="#526fd7"/><stop offset=".644" stop-color="#6561d0"/><stop offset=".680" stop-color="#6c58ca"/><stop offset=".720" stop-color="#4976d8"/><stop offset=".775" stop-color="#a2caee"/><stop offset=".987" stop-color="#60a7e2"/><stop offset=".994" stop-color="#813dac"/><stop offset="1.000" stop-color="#843aa6"/></linearGradient>
<linearGradient id="g70" x2="0" y2="1"><stop offset=".000" stop-color="#edf4fb"/><stop offset=".290" stop-color="#ecf3fb"/><stop offset=".441" stop-color="#e6f0fa"/><stop offset=".476" stop-color="#b3d3f0"/><stop offset=".516" stop-color="#4898dd"/><stop offset=".564" stop-color="#4e72d8"/><stop offset=".645" stop-color="#6163d2"/><stop offset=".681" stop-color="#6a5bcc"/><stop offset=".721" stop-color="#4976d8"/><stop offset=".776" stop-color="#9fc9ed"/><stop offset=".987" stop-color="#60a7e2"/><stop offset=".994" stop-color="#813dac"/><stop offset="1.000" stop-color="#843aa6"/></linearGradient>
<linearGradient id="g71" x2="0" y2="1"><stop offset=".000" stop-color="#edf4fb"/><stop offset=".297" stop-color="#ecf3fb"/><stop offset=".448" stop-color="#e5effa"/><stop offset=".483" stop-color="#b3d3f0"/><stop offset=".524" stop-color="#4696dd"/><stop offset=".573" stop-color="#5070d7"/><stop offset=".657" stop-color="#6461d1"/><stop offset=".692" stop-color="#6b58ca"/><stop offset=".733" stop-color="#4777d8"/><stop offset=".788" stop-color="#9ac6ec"/><stop offset=".987" stop-color="#60a7e2"/><stop offset=".994" stop-color="#813dac"/><stop offset="1.000" stop-color="#843aa6"/></linearGradient>
<linearGradient id="g72" x2="0" y2="1"><stop offset=".000" stop-color="#edf4fb"/><stop offset=".307" stop-color="#ecf3fb"/><stop offset=".458" stop-color="#e5effa"/><stop offset=".493" stop-color="#b3d3f0"/><stop offset=".535" stop-color="#4a99de"/><stop offset=".584" stop-color="#4c73d8"/><stop offset=".669" stop-color="#6164d2"/><stop offset=".704" stop-color="#6a5bcc"/><stop offset=".744" stop-color="#4778d8"/><stop offset=".800" stop-color="#9dc8ed"/><stop offset=".987" stop-color="#60a7e2"/><stop offset=".994" stop-color="#813dac"/><stop offset="1.000" stop-color="#843aa6"/></linearGradient>
<linearGradient id="g73" x2="0" y2="1"><stop offset=".000" stop-color="#edf4fb"/><stop offset=".317" stop-color="#ecf3fb"/><stop offset=".468" stop-color="#e4eff9"/><stop offset=".504" stop-color="#b3d3f0"/><stop offset=".545" stop-color="#4595dc"/><stop offset=".596" stop-color="#526fd7"/><stop offset=".681" stop-color="#6560d0"/><stop offset=".716" stop-color="#6c58ca"/><stop offset=".757" stop-color="#4779d9"/><stop offset=".812" stop-color="#9bc7ed"/><stop offset=".987" stop-color="#60a7e2"/><stop offset=".994" stop-color="#813dac"/><stop offset="1.000" stop-color="#843aa6"/></linearGradient>
<linearGradient id="g74" x2="0" y2="1"><stop offset=".000" stop-color="#edf4fb"/><stop offset=".327" stop-color="#ecf3fb"/><stop offset=".478" stop-color="#e4eff9"/><stop offset=".514" stop-color="#b3d3f0"/><stop offset=".556" stop-color="#4191db"/><stop offset=".607" stop-color="#576bd6"/><stop offset=".694" stop-color="#695dcd"/><stop offset=".729" stop-color="#6e54c7"/><stop offset=".769" stop-color="#4778d8"/><stop offset=".825" stop-color="#9cc7ed"/><stop offset=".987" stop-color="#60a7e2"/><stop offset=".994" stop-color="#813dac"/><stop offset="1.000" stop-color="#843aa6"/></linearGradient>
<linearGradient id="g75" x2="0" y2="1"><stop offset=".000" stop-color="#edf4fb"/><stop offset=".337" stop-color="#ecf3fb"/><stop offset=".488" stop-color="#e3eef9"/><stop offset=".524" stop-color="#b3d3f0"/><stop offset=".567" stop-color="#4999dd"/><stop offset=".618" stop-color="#4e73d8"/><stop offset=".706" stop-color="#6163d2"/><stop offset=".741" stop-color="#6a5acb"/><stop offset=".782" stop-color="#4779d8"/><stop offset=".837" stop-color="#9ac6ec"/><stop offset=".987" stop-color="#60a7e2"/><stop offset=".994" stop-color="#813dac"/><stop offset="1.000" stop-color="#843aa6"/></linearGradient>
<linearGradient id="g76" x2="0" y2="1"><stop offset=".000" stop-color="#edf4fb"/><stop offset=".352" stop-color="#ecf3fb"/><stop offset=".504" stop-color="#e3eef9"/><stop offset=".539" stop-color="#b3d3f0"/><stop offset=".578" stop-color="#4a99de"/><stop offset=".625" stop-color="#4e73d8"/><stop offset=".705" stop-color="#6163d2"/><stop offset=".740" stop-color="#6a5acb"/><stop offset=".781" stop-color="#4976d8"/><stop offset=".836" stop-color="#97c4ec"/><stop offset=".987" stop-color="#60a7e2"/><stop offset=".994" stop-color="#813dac"/><stop offset="1.000" stop-color="#843aa6"/></linearGradient>
<linearGradient id="g77" x2="0" y2="1"><stop offset=".000" stop-color="#edf4fb"/><stop offset=".317" stop-color="#ecf3fb"/><stop offset=".468" stop-color="#e4eff9"/><stop offset=".504" stop-color="#b3d3f0"/><stop offset=".546" stop-color="#3e8edb"/><stop offset=".597" stop-color="#546dd7"/><stop offset=".684" stop-color="#6163d2"/><stop offset=".719" stop-color="#6a5acc"/><stop offset=".754" stop-color="#4999dd"/><stop offset=".932" stop-color="#d4e5f6"/><stop offset=".987" stop-color="#94c3eb"/><stop offset=".994" stop-color="#813dac"/><stop offset="1.000" stop-color="#843aa6"/></linearGradient>
<linearGradient id="g78" x2="0" y2="1"><stop offset=".000" stop-color="#edf4fb"/><stop offset=".339" stop-color="#ecf3fb"/><stop offset=".490" stop-color="#e3eef9"/><stop offset=".526" stop-color="#bad7f2"/><stop offset=".562" stop-color="#4595dc"/><stop offset=".605" stop-color="#536ed7"/><stop offset=".680" stop-color="#6561d0"/><stop offset=".716" stop-color="#6d55c8"/><stop offset=".751" stop-color="#4a99de"/><stop offset=".932" stop-color="#d4e5f6"/><stop offset=".987" stop-color="#93c2eb"/><stop offset=".994" stop-color="#813dac"/><stop offset="1.000" stop-color="#843aa6"/></linearGradient>
<linearGradient id="g79" x2="0" y2="1"><stop offset=".000" stop-color="#edf4fb"/><stop offset=".359" stop-color="#ecf3fb"/><stop offset=".510" stop-color="#e2eef9"/><stop offset=".545" stop-color="#bad7f2"/><stop offset=".582" stop-color="#4494dc"/><stop offset=".627" stop-color="#536ed7"/><stop offset=".704" stop-color="#6361d1"/><stop offset=".739" stop-color="#6d56c9"/><stop offset=".774" stop-color="#4a99de"/><stop offset=".932" stop-color="#cde1f5"/><stop offset=".987" stop-color="#92c2eb"/><stop offset=".994" stop-color="#813dac"/><stop offset="1.000" stop-color="#843aa6"/></linearGradient>
<linearGradient id="g80" x2="0" y2="1"><stop offset=".000" stop-color="#edf4fb"/><stop offset=".375" stop-color="#ecf3fb"/><stop offset=".526" stop-color="#e1edf9"/><stop offset=".561" stop-color="#bad7f2"/><stop offset=".600" stop-color="#4999dd"/><stop offset=".646" stop-color="#4e72d8"/><stop offset=".726" stop-color="#5f64d3"/><stop offset=".761" stop-color="#6b59cb"/><stop offset=".797" stop-color="#3e81d9"/><stop offset=".932" stop-color="#89bdea"/><stop offset=".987" stop-color="#55a1e0"/><stop offset=".994" stop-color="#813dac"/><stop offset="1.000" stop-color="#843aa6"/></linearGradient>
<linearGradient id="g81" x2="0" y2="1"><stop offset=".000" stop-color="#edf4fb"/><stop offset=".384" stop-color="#ecf3fb"/><stop offset=".535" stop-color="#e1edf9"/><stop offset=".570" stop-color="#bad7f2"/><stop offset=".612" stop-color="#4797dd"/><stop offset=".662" stop-color="#526fd7"/><stop offset=".746" stop-color="#6361d1"/><stop offset=".782" stop-color="#6d56c9"/><stop offset=".817" stop-color="#3d81d9"/><stop offset=".932" stop-color="#93c2eb"/><stop offset=".987" stop-color="#54a0e0"/><stop offset=".994" stop-color="#813dac"/><stop offset="1.000" stop-color="#843aa6"/></linearGradient>
<linearGradient id="g82" x2="0" y2="1"><stop offset=".000" stop-color="#edf4fb"/><stop offset=".392" stop-color="#ecf3fb"/><stop offset=".543" stop-color="#e1edf9"/><stop offset=".579" stop-color="#bad7f2"/><stop offset=".623" stop-color="#4c9bde"/><stop offset=".677" stop-color="#4e72d8"/><stop offset=".767" stop-color="#6263d2"/><stop offset=".802" stop-color="#6c57ca"/><stop offset=".837" stop-color="#3c82d9"/><stop offset=".932" stop-color="#8abeea"/><stop offset=".987" stop-color="#54a0e0"/><stop offset=".994" stop-color="#813dac"/><stop offset="1.000" stop-color="#843aa6"/></linearGradient>
<linearGradient id="g83" x2="0" y2="1"><stop offset=".000" stop-color="#edf4fb"/><stop offset=".400" stop-color="#ecf3fb"/><stop offset=".551" stop-color="#e0ecf9"/><stop offset=".586" stop-color="#bad7f2"/><stop offset=".634" stop-color="#4c9bde"/><stop offset=".691" stop-color="#5071d8"/><stop offset=".787" stop-color="#6361d1"/><stop offset=".822" stop-color="#6d56c9"/><stop offset=".857" stop-color="#3e80d9"/><stop offset=".932" stop-color="#90c1eb"/><stop offset=".987" stop-color="#539fe0"/><stop offset=".994" stop-color="#813dac"/><stop offset="1.000" stop-color="#843aa6"/></linearGradient>
<linearGradient id="g84" x2="0" y2="1"><stop offset=".000" stop-color="#edf4fb"/><stop offset=".407" stop-color="#ecf3fb"/><stop offset=".558" stop-color="#e0ecf9"/><stop offset=".594" stop-color="#bad7f2"/><stop offset=".624" stop-color="#4e9cdf"/><stop offset=".660" stop-color="#4e72d8"/><stop offset=".725" stop-color="#6361d1"/><stop offset=".760" stop-color="#6d56c9"/><stop offset=".795" stop-color="#3e7fd9"/><stop offset=".932" stop-color="#8fc0eb"/><stop offset=".987" stop-color="#529fdf"/><stop offset=".994" stop-color="#813dac"/><stop offset="1.000" stop-color="#843aa6"/></linearGradient>
<linearGradient id="g85" x2="0" y2="1"><stop offset=".000" stop-color="#edf4fb"/><stop offset=".333" stop-color="#ecf3fb"/><stop offset=".484" stop-color="#e4eef9"/><stop offset=".519" stop-color="#bad7f2"/><stop offset=".555" stop-color="#3c89da"/><stop offset=".599" stop-color="#5b68d5"/><stop offset=".674" stop-color="#6560d0"/><stop offset=".709" stop-color="#6e55c7"/><stop offset=".745" stop-color="#4696dd"/><stop offset=".932" stop-color="#d0e3f5"/><stop offset=".987" stop-color="#8dbfea"/><stop offset=".994" stop-color="#813dac"/><stop offset="1.000" stop-color="#843aa6"/></linearGradient>
<linearGradient id="g86" x2="0" y2="1"><stop offset=".000" stop-color="#edf4fb"/><stop offset=".358" stop-color="#ecf3fb"/><stop offset=".509" stop-color="#e2eef9"/><stop offset=".545" stop-color="#bad7f2"/><stop offset=".583" stop-color="#3d8cda"/><stop offset=".629" stop-color="#5969d5"/><stop offset=".708" stop-color="#655fcf"/><stop offset=".744" stop-color="#6e54c7"/><stop offset=".779" stop-color="#4998dd"/><stop offset=".932" stop-color="#cce1f5"/><stop offset=".987" stop-color="#8cbfea"/><stop offset=".994" stop-color="#813dac"/><stop offset="1.000" stop-color="#843aa6"/></linearGradient>
<linearGradient id="g87" x2="0" y2="1"><stop offset=".000" stop-color="#edf4fb"/><stop offset=".373" stop-color="#ecf3fb"/><stop offset=".524" stop-color="#e1edf9"/><stop offset=".560" stop-color="#bad7f2"/><stop offset=".602" stop-color="#4191db"/><stop offset=".653" stop-color="#556cd6"/><stop offset=".739" stop-color="#6461d1"/><stop offset=".774" stop-color="#6d56c8"/><stop offset=".810" stop-color="#407ed9"/><stop offset=".932" stop-color="#88bce9"/><stop offset=".987" stop-color="#509edf"/><stop offset=".994" stop-color="#813dac"/><stop offset="1.000" stop-color="#843aa6"/></linearGradient>
<linearGradient id="g88" x2="0" y2="1"><stop offset=".000" stop-color="#edf4fb"/><stop offset=".385" stop-color="#ecf3fb"/><stop offset=".536" stop-color="#e1edf9"/><stop offset=".572" stop-color="#bad7f2"/><stop offset=".618" stop-color="#4494dc"/><stop offset=".674" stop-color="#536ed7"/><stop offset=".768" stop-color="#6361d1"/><stop offset=".803" stop-color="#6d56c9"/><stop offset=".838" stop-color="#407ed9"/><stop offset=".932" stop-color="#8abeea"/><stop offset=".987" stop-color="#4f9ddf"/><stop offset=".994" stop-color="#813dac"/><stop offset="1.000" stop-color="#843aa6"/></linearGradient>
<linearGradient id="g89" x2="0" y2="1"><stop offset=".000" stop-color="#edf4fb"/><stop offset=".395" stop-color="#ecf3fb"/><stop offset=".547" stop-color="#e1edf9"/><stop offset=".582" stop-color="#bad7f2"/><stop offset=".626" stop-color="#4c9bde"/><stop offset=".679" stop-color="#4c74d8"/><stop offset=".768" stop-color="#5f65d3"/><stop offset=".803" stop-color="#6a5acb"/><stop offset=".839" stop-color="#3e80d9"/><stop offset=".932" stop-color="#84bae9"/><stop offset=".987" stop-color="#4f9ddf"/><stop offset=".994" stop-color="#813dac"/><stop offset="1.000" stop-color="#843aa6"/></linearGradient>
<linearGradient id="g90" x2="0" y2="1"><stop offset=".000" stop-color="#edf4fb"/><stop offset=".405" stop-color="#ecf3fb"/><stop offset=".556" stop-color="#e0ecf9"/><stop offset=".591" stop-color="#bad7f2"/><stop offset=".622" stop-color="#4898dd"/><stop offset=".660" stop-color="#526fd7"/><stop offset=".726" stop-color="#6561d0"/><stop offset=".761" stop-color="#6d56c8"/><stop offset=".797" stop-color="#427dd9"/><stop offset=".932" stop-color="#83bae8"/><stop offset=".987" stop-color="#4e9cdf"/><stop offset=".994" stop-color="#813dac"/><stop offset="1.000" stop-color="#843aa6"/></linearGradient>
<linearGradient id="g91" x2="0" y2="1"><stop offset=".000" stop-color="#edf4fb"/><stop offset=".304" stop-color="#ecf3fb"/><stop offset=".455" stop-color="#e5effa"/><stop offset=".490" stop-color="#bad7f2"/><stop offset=".536" stop-color="#3c8ada"/><stop offset=".591" stop-color="#576ad6"/><stop offset=".684" stop-color="#6164d2"/><stop offset=".719" stop-color="#6b58ca"/><stop offset=".754" stop-color="#4595dc"/><stop offset=".932" stop-color="#c7def4"/><stop offset=".987" stop-color="#87bce9"/><stop offset=".994" stop-color="#813dac"/><stop offset="1.000" stop-color="#843aa6"/></linearGradient>
<linearGradient id="g92" x2="0" y2="1"><stop offset=".000" stop-color="#edf4fb"/><stop offset=".341" stop-color="#ecf3fb"/><stop offset=".492" stop-color="#e3eef9"/><stop offset=".527" stop-color="#bad7f2"/><stop offset=".562" stop-color="#3b87d9"/><stop offset=".604" stop-color="#5c67d4"/><stop offset=".677" stop-color="#6560d0"/><stop offset=".713" stop-color="#6e55c8"/><stop offset=".748" stop-color="#4696dd"/><stop offset=".932" stop-color="#c5ddf3"/><stop offset=".987" stop-color="#86bce9"/><stop offset=".994" stop-color="#813dac"/><stop offset="1.000" stop-color="#843aa6"/></linearGradient>
<linearGradient id="g93" x2="0" y2="1"><stop offset=".000" stop-color="#edf4fb"/><stop offset=".365" stop-color="#ecf3fb"/><stop offset=".516" stop-color="#e2eef9"/><stop offset=".551" stop-color="#bad7f2"/><stop offset=".585" stop-color="#4090db"/><stop offset=".625" stop-color="#536ed7"/><stop offset=".695" stop-color="#5f64d3"/><stop offset=".730" stop-color="#6b59cb"/><stop offset=".765" stop-color="#4292dc"/><stop offset=".932" stop-color="#c6def4"/><stop offset=".987" stop-color="#85bbe9"/><stop offset=".994" stop-color="#813dac"/><stop offset="1.000" stop-color="#843aa6"/></linearGradient>
<linearGradient id="g94" x2="0" y2="1"><stop offset=".000" stop-color="#edf4fb"/><stop offset=".381" stop-color="#ecf3fb"/><stop offset=".532" stop-color="#e1edf9"/><stop offset=".568" stop-color="#bad7f2"/><stop offset=".603" stop-color="#4293dc"/><stop offset=".646" stop-color="#526fd7"/><stop offset=".721" stop-color="#6064d3"/><stop offset=".756" stop-color="#6b59ca"/><stop offset=".791" stop-color="#437bd9"/><stop offset=".932" stop-color="#82b9e8"/><stop offset=".987" stop-color="#4c9bde"/><stop offset=".994" stop-color="#813dac"/><stop offset="1.000" stop-color="#843aa6"/></linearGradient>
<linearGradient id="g95" x2="0" y2="1"><stop offset=".000" stop-color="#edf4fb"/><stop offset=".395" stop-color="#ecf3fb"/><stop offset=".546" stop-color="#e1edf9"/><stop offset=".581" stop-color="#bad7f2"/><stop offset=".623" stop-color="#4192dc"/><stop offset=".674" stop-color="#556cd6"/><stop offset=".760" stop-color="#6561d0"/><stop offset=".796" stop-color="#6d55c8"/><stop offset=".831" stop-color="#437bd9"/><stop offset=".932" stop-color="#7db7e7"/><stop offset=".987" stop-color="#4b9ade"/><stop offset=".994" stop-color="#813dac"/><stop offset="1.000" stop-color="#843aa6"/></linearGradient>
<linearGradient id="g96" x2="0" y2="1"><stop offset=".000" stop-color="#edf4fb"/><stop offset=".406" stop-color="#ecf3fb"/><stop offset=".557" stop-color="#e0ecf9"/><stop offset=".593" stop-color="#bad7f2"/><stop offset=".622" stop-color="#4b9ade"/><stop offset=".656" stop-color="#4c73d8"/><stop offset=".719" stop-color="#5e65d4"/><stop offset=".754" stop-color="#6a5acb"/><stop offset=".789" stop-color="#437bd9"/><stop offset=".932" stop-color="#85bbe9"/><stop offset=".987" stop-color="#4b9ade"/><stop offset=".994" stop-color="#813dac"/><stop offset="1.000" stop-color="#843aa6"/></linearGradient>
<linearGradient id="g97" x2="0" y2="1"><stop offset=".000" stop-color="#edf4fb"/><stop offset=".283" stop-color="#ecf3fb"/><stop offset=".434" stop-color="#e6f0fa"/><stop offset=".469" stop-color="#bad7f2"/><stop offset=".510" stop-color="#3b86d9"/><stop offset=".559" stop-color="#5969d5"/><stop offset=".642" stop-color="#5e65d4"/><stop offset=".677" stop-color="#6a5acb"/><stop offset=".712" stop-color="#4090db"/><stop offset=".932" stop-color="#bed9f2"/><stop offset=".987" stop-color="#82b9e8"/><stop offset=".994" stop-color="#813dac"/><stop offset="1.000" stop-color="#843aa6"/></linearGradient>
<linearGradient id="g98" x2="0" y2="1"><stop offset=".000" stop-color="#edf4fb"/><stop offset=".327" stop-color="#ecf3fb"/><stop offset=".478" stop-color="#e4eff9"/><stop offset=".513" stop-color="#bad7f2"/><stop offset=".550" stop-color="#3b88da"/><stop offset=".594" stop-color="#576ad6"/><stop offset=".669" stop-color="#5f65d3"/><stop offset=".705" stop-color="#6b5acb"/><stop offset=".740" stop-color="#4292dc"/><stop offset=".932" stop-color="#c1dbf3"/><stop offset=".987" stop-color="#81b9e8"/><stop offset=".994" stop-color="#813dac"/><stop offset="1.000" stop-color="#843aa6"/></linearGradient>
<linearGradient id="g99" x2="0" y2="1"><stop offset=".000" stop-color="#edf4fb"/><stop offset=".349" stop-color="#ecf3fb"/><stop offset=".500" stop-color="#e3eef9"/><stop offset=".535" stop-color="#bad7f2"/><stop offset=".573" stop-color="#3b87da"/><stop offset=".619" stop-color="#5b68d5"/><stop offset=".697" stop-color="#6461d1"/><stop offset=".732" stop-color="#6d56c8"/><stop offset=".767" stop-color="#3f8fdb"/><stop offset=".932" stop-color="#bcd8f2"/><stop offset=".987" stop-color="#80b8e8"/><stop offset=".994" stop-color="#813dac"/><stop offset="1.000" stop-color="#843aa6"/></linearGradient>
<linearGradient id="g100" x2="0" y2="1"><stop offset=".000" stop-color="#edf4fb"/><stop offset=".364" stop-color="#ecf3fb"/><stop offset=".516" stop-color="#e2eef9"/><stop offset=".551" stop-color="#bad7f2"/><stop offset=".590" stop-color="#3d8dda"/><stop offset=".637" stop-color="#576ad6"/><stop offset=".717" stop-color="#6362d1"/><stop offset=".752" stop-color="#6c57c9"/><stop offset=".788" stop-color="#457ad9"/><stop offset=".932" stop-color="#7eb7e8"/><stop offset=".987" stop-color="#4898dd"/><stop offset=".994" stop-color="#813dac"/><stop offset="1.000" stop-color="#843aa6"/></linearGradient>
<linearGradient id="g101" x2="0" y2="1"><stop offset=".000" stop-color="#edf4fb"/><stop offset=".378" stop-color="#ecf3fb"/><stop offset=".529" stop-color="#e1edf9"/><stop offset=".564" stop-color="#bad7f2"/><stop offset=".605" stop-color="#4394dc"/><stop offset=".654" stop-color="#5070d7"/><stop offset=".737" stop-color="#5f65d3"/><stop offset=".772" stop-color="#6b5acb"/><stop offset=".808" stop-color="#4777d8"/><stop offset=".932" stop-color="#7bb6e7"/><stop offset=".987" stop-color="#4898dd"/><stop offset=".994" stop-color="#813dac"/><stop offset="1.000" stop-color="#843aa6"/></linearGradient>
<linearGradient id="g102" x2="0" y2="1"><stop offset=".000" stop-color="#edf4fb"/><stop offset=".389" stop-color="#ecf3fb"/><stop offset=".540" stop-color="#e1edf9"/><stop offset=".575" stop-color="#bad7f2"/><stop offset=".618" stop-color="#4697dd"/><stop offset=".669" stop-color="#5071d8"/><stop offset=".756" stop-color="#5f65d3"/><stop offset=".791" stop-color="#6b5acb"/><stop offset=".827" stop-color="#4778d8"/><stop offset=".932" stop-color="#77b4e6"/><stop offset=".987" stop-color="#4797dd"/><stop offset=".994" stop-color="#813dac"/><stop offset="1.000" stop-color="#843aa6"/></linearGradient>
<linearGradient id="g103" x2="0" y2="1"><stop offset=".000" stop-color="#edf4fb"/><stop offset=".399" stop-color="#ecf3fb"/><stop offset=".550" stop-color="#e0ecf9"/><stop offset=".586" stop-color="#bad7f2"/><stop offset=".630" stop-color="#4c9bde"/><stop offset=".684" stop-color="#4c74d8"/><stop offset=".774" stop-color="#5d66d4"/><stop offset=".809" stop-color="#6a5bcc"/><stop offset=".845" stop-color="#4b75d8"/><stop offset=".932" stop-color="#75b3e6"/><stop offset=".987" stop-color="#4797dd"/><stop offset=".994" stop-color="#813dac"/><stop offset="1.000" stop-color="#843aa6"/></linearGradient>
<linearGradient id="g104" x2="0" y2="1"><stop offset=".000" stop-color="#edf4fb"/><stop offset=".409" stop-color="#ecf3fb"/><stop offset=".560" stop-color="#e0ecf8"/><stop offset=".595" stop-color="#bad7f2"/><stop offset=".642" stop-color="#4494dc"/><stop offset=".698" stop-color="#556dd6"/><stop offset=".792" stop-color="#665fcf"/><stop offset=".827" stop-color="#6e54c7"/><stop offset=".862" stop-color="#4977d8"/><stop offset=".932" stop-color="#78b4e7"/><stop offset=".987" stop-color="#4696dd"/><stop offset=".994" stop-color="#813dac"/><stop offset="1.000" stop-color="#843aa6"/></linearGradient>
<linearGradient id="g105" x2="0" y2="1"><stop offset=".000" stop-color="#edf4fb"/><stop offset=".418" stop-color="#ecf3fb"/><stop offset=".569" stop-color="#dfecf8"/><stop offset=".604" stop-color="#bad7f2"/><stop offset=".648" stop-color="#4b9ade"/><stop offset=".701" stop-color="#5071d8"/><stop offset=".789" stop-color="#6362d1"/><stop offset=".825" stop-color="#6c57c9"/><stop offset=".860" stop-color="#4b75d8"/><stop offset=".932" stop-color="#72b1e6"/><stop offset=".987" stop-color="#4696dd"/><stop offset=".994" stop-color="#813dac"/><stop offset="1.000" stop-color="#843aa6"/></linearGradient>
<linearGradient id="g106" x2="0" y2="1"><stop offset=".000" stop-color="#edf4fb"/><stop offset=".287" stop-color="#ecf3fb"/><stop offset=".438" stop-color="#e6f0fa"/><stop offset=".473" stop-color="#bad7f2"/><stop offset=".529" stop-color="#407ed9"/><stop offset=".595" stop-color="#6064d3"/><stop offset=".705" stop-color="#6361d1"/><stop offset=".740" stop-color="#6d56c9"/><stop offset=".776" stop-color="#3e8edb"/><stop offset=".932" stop-color="#b4d4f0"/><stop offset=".987" stop-color="#7ab5e7"/><stop offset=".994" stop-color="#813dac"/><stop offset="1.000" stop-color="#843aa6"/></linearGradient>
<linearGradient id="g107" x2="0" y2="1"><stop offset=".000" stop-color="#edf4fb"/><stop offset=".325" stop-color="#ecf3fb"/><stop offset=".477" stop-color="#e4eff9"/><stop offset=".512" stop-color="#bad7f2"/><stop offset=".551" stop-color="#3b83d9"/><stop offset=".598" stop-color="#5d67d4"/><stop offset=".679" stop-color="#6163d2"/><stop offset=".714" stop-color="#6c58ca"/><stop offset=".749" stop-color="#3d8cda"/><stop offset=".932" stop-color="#b5d4f1"/><stop offset=".987" stop-color="#79b5e7"/><stop offset=".994" stop-color="#813dac"/><stop offset="1.000" stop-color="#843aa6"/></linearGradient>
<linearGradient id="g108" x2="0" y2="1"><stop offset=".000" stop-color="#edf4fb"/><stop offset=".351" stop-color="#ecf3fb"/><stop offset=".502" stop-color="#e3eef9"/><stop offset=".537" stop-color="#bad7f2"/><stop offset=".578" stop-color="#3d8cda"/><stop offset=".627" stop-color="#556dd7"/><stop offset=".710" stop-color="#5d66d4"/><stop offset=".746" stop-color="#6a5bcc"/><stop offset=".781" stop-color="#3c8bda"/><stop offset=".932" stop-color="#b5d4f1"/><stop offset=".987" stop-color="#78b4e7"/><stop offset=".994" stop-color="#813dac"/><stop offset="1.000" stop-color="#843aa6"/></linearGradient>
<linearGradient id="g109" x2="0" y2="1"><stop offset=".000" stop-color="#edf4fb"/><stop offset=".367" stop-color="#ecf3fb"/><stop offset=".519" stop-color="#e2eef9"/><stop offset=".554" stop-color="#bad7f2"/><stop offset=".594" stop-color="#3d8cda"/><stop offset=".643" stop-color="#576ad6"/><stop offset=".726" stop-color="#6163d2"/><stop offset=".761" stop-color="#6c58ca"/><stop offset=".796" stop-color="#4c73d8"/><stop offset=".932" stop-color="#75b3e6"/><stop offset=".987" stop-color="#4494dc"/><stop offset=".994" stop-color="#813dac"/><stop offset="1.000" stop-color="#843aa6"/></linearGradient>
<linearGradient id="g110" x2="0" y2="1"><stop offset=".000" stop-color="#edf4fb"/><stop offset=".381" stop-color="#ecf3fb"/><stop offset=".532" stop-color="#e1edf9"/><stop offset=".568" stop-color="#bad7f2"/><stop offset=".608" stop-color="#4292dc"/><stop offset=".656" stop-color="#526fd7"/><stop offset=".739" stop-color="#5f65d3"/><stop offset=".774" stop-color="#6b5acb"/><stop offset=".810" stop-color="#4e73d8"/><stop offset=".932" stop-color="#79b5e7"/><stop offset=".987" stop-color="#4394dc"/><stop offset=".994" stop-color="#813dac"/><stop offset="1.000" stop-color="#843aa6"/></linearGradient>
<linearGradient id="g111" x2="0" y2="1"><stop offset=".000" stop-color="#edf4fb"/><stop offset=".393" stop-color="#ecf3fb"/><stop offset=".544" stop-color="#e1edf9"/><stop offset=".580" stop-color="#bad7f2"/><stop offset=".620" stop-color="#4292dc"/><stop offset=".669" stop-color="#536ed7"/><stop offset=".752" stop-color="#6263d2"/><stop offset=".787" stop-color="#6c57ca"/><stop offset=".823" stop-color="#4e72d8"/><stop offset=".932" stop-color="#74b2e6"/><stop offset=".987" stop-color="#4393dc"/><stop offset=".994" stop-color="#813dac"/><stop offset="1.000" stop-color="#843aa6"/></linearGradient>
<linearGradient id="g112" x2="0" y2="1"><stop offset=".000" stop-color="#edf4fb"/><stop offset=".404" stop-color="#ecf3fb"/><stop offset=".555" stop-color="#e0ecf9"/><stop offset=".590" stop-color="#bad7f2"/><stop offset=".631" stop-color="#4495dc"/><stop offset=".681" stop-color="#536ed7"/><stop offset=".764" stop-color="#6362d1"/><stop offset=".800" stop-color="#6c57c9"/><stop offset=".835" stop-color="#5070d7"/><stop offset=".932" stop-color="#6dafe5"/><stop offset=".987" stop-color="#4293dc"/><stop offset=".994" stop-color="#813dac"/><stop offset="1.000" stop-color="#843aa6"/></linearGradient>
<linearGradient id="g113" x2="0" y2="1"><stop offset=".000" stop-color="#edf4fb"/><stop offset=".414" stop-color="#ecf3fb"/><stop offset=".565" stop-color="#dfecf8"/><stop offset=".600" stop-color="#bad7f2"/><stop offset=".642" stop-color="#4c9bde"/><stop offset=".692" stop-color="#4c74d8"/><stop offset=".777" stop-color="#5e65d3"/><stop offset=".812" stop-color="#6a5acb"/><stop offset=".847" stop-color="#5070d7"/><stop offset=".932" stop-color="#70b0e5"/><stop offset=".987" stop-color="#4292dc"/><stop offset=".994" stop-color="#813dac"/><stop offset="1.000" stop-color="#843aa6"/></linearGradient>
<linearGradient id="g114" x2="0" y2="1"><stop offset=".000" stop-color="#edf4fb"/><stop offset=".423" stop-color="#ecf3fb"/><stop offset=".574" stop-color="#dfecf8"/><stop offset=".610" stop-color="#bad7f2"/><stop offset=".652" stop-color="#519edf"/><stop offset=".703" stop-color="#4976d8"/><stop offset=".789" stop-color="#5d66d4"/><stop offset=".824" stop-color="#6a5bcc"/><stop offset=".860" stop-color="#4e72d8"/><stop offset=".932" stop-color="#74b2e6"/><stop offset=".987" stop-color="#4292dc"/><stop offset=".994" stop-color="#813dac"/><stop offset="1.000" stop-color="#843aa6"/></linearGradient>
<linearGradient id="g115" x2="0" y2="1"><stop offset=".000" stop-color="#edf4fb"/><stop offset=".432" stop-color="#ecf3fb"/><stop offset=".583" stop-color="#deebf8"/><stop offset=".618" stop-color="#bad7f2"/><stop offset=".664" stop-color="#53a0e0"/><stop offset=".719" stop-color="#4976d8"/><stop offset=".811" stop-color="#5d66d4"/><stop offset=".846" stop-color="#6a5bcc"/><stop offset=".881" stop-color="#5070d7"/><stop offset=".932" stop-color="#6aade4"/><stop offset=".987" stop-color="#4192dc"/><stop offset=".994" stop-color="#813dac"/><stop offset="1.000" stop-color="#843aa6"/></linearGradient>
<linearGradient id="g116" x2="0" y2="1"><stop offset=".000" stop-color="#edf4fb"/><stop offset=".441" stop-color="#ecf3fb"/><stop offset=".592" stop-color="#deebf8"/><stop offset=".627" stop-color="#bad7f2"/><stop offset=".676" stop-color="#529fdf"/><stop offset=".735" stop-color="#4b75d8"/><stop offset=".833" stop-color="#6064d3"/><stop offset=".868" stop-color="#6b59ca"/><stop offset=".903" stop-color="#536ed7"/><stop offset=".932" stop-color="#6caee4"/><stop offset=".987" stop-color="#4191db"/><stop offset=".994" stop-color="#813dac"/><stop offset="1.000" stop-color="#843aa6"/></linearGradient>
<linearGradient id="g117" x2="0" y2="1"><stop offset=".000" stop-color="#edf4fb"/><stop offset=".199" stop-color="#ecf3fb"/><stop offset=".350" stop-color="#eaf2fa"/><stop offset=".385" stop-color="#bad7f2"/><stop offset=".441" stop-color="#3d81d9"/><stop offset=".572" stop-color="#5b67d4"/><stop offset=".736" stop-color="#5e65d3"/><stop offset=".771" stop-color="#6a5acb"/><stop offset=".806" stop-color="#3b86d9"/><stop offset=".932" stop-color="#add0ef"/><stop offset=".987" stop-color="#70b0e5"/><stop offset=".994" stop-color="#813dac"/><stop offset="1.000" stop-color="#843aa6"/></linearGradient>
<linearGradient id="g118" x2="0" y2="1"><stop offset=".000" stop-color="#edf4fb"/><stop offset=".282" stop-color="#ecf3fb"/><stop offset=".433" stop-color="#e6f0fa"/><stop offset=".468" stop-color="#bad7f2"/><stop offset=".498" stop-color="#407ed9"/><stop offset=".535" stop-color="#6163d2"/><stop offset=".599" stop-color="#655fcf"/><stop offset=".634" stop-color="#6e54c7"/><stop offset=".669" stop-color="#3b86d9"/><stop offset=".932" stop-color="#aacfef"/><stop offset=".987" stop-color="#6fb0e5"/><stop offset=".994" stop-color="#813dac"/><stop offset="1.000" stop-color="#843aa6"/></linearGradient>
<linearGradient id="g119" x2="0" y2="1"><stop offset=".000" stop-color="#edf4fb"/><stop offset=".324" stop-color="#ecf3fb"/><stop offset=".475" stop-color="#e4eff9"/><stop offset=".510" stop-color="#bad7f2"/><stop offset=".542" stop-color="#3c88da"/><stop offset=".581" stop-color="#596ad5"/><stop offset=".649" stop-color="#6064d3"/><stop offset=".684" stop-color="#6b59ca"/><stop offset=".719" stop-color="#3b85d9"/><stop offset=".932" stop-color="#a7cdee"/><stop offset=".987" stop-color="#6eafe5"/><stop offset=".994" stop-color="#813dac"/><stop offset="1.000" stop-color="#843aa6"/></linearGradient>
<linearGradient id="g120" x2="0" y2="1"><stop offset=".000" stop-color="#edf4fb"/><stop offset=".353" stop-color="#ecf3fb"/><stop offset=".504" stop-color="#e3eef9"/><stop offset=".540" stop-color="#bad7f2"/><stop offset=".577" stop-color="#3b88da"/><stop offset=".621" stop-color="#5b67d4"/><stop offset=".698" stop-color="#6560d0"/><stop offset=".733" stop-color="#6e55c8"/><stop offset=".769" stop-color="#526ed7"/><stop offset=".932" stop-color="#68ace4"/><stop offset=".987" stop-color="#3f8fdb"/><stop offset=".994" stop-color="#813dac"/><stop offset="1.000" stop-color="#843aa6"/></linearGradient>
<linearGradient id="g121" x2="0" y2="1"><stop offset=".000" stop-color="#edf4fb"/><stop offset=".378" stop-color="#ecf3fb"/><stop offset=".529" stop-color="#e1edf9"/><stop offset=".564" stop-color="#bad7f2"/><stop offset=".607" stop-color="#3f8fdb"/><stop offset=".659" stop-color="#556cd6"/><stop offset=".747" stop-color="#6163d2"/><stop offset=".782" stop-color="#6c58ca"/><stop offset=".818" stop-color="#5170d7"/><stop offset=".932" stop-color="#70b0e5"/><stop offset=".987" stop-color="#3f8fdb"/><stop offset=".994" stop-color="#813dac"/><stop offset="1.000" stop-color="#843aa6"/></linearGradient>
<linearGradient id="g122" x2="0" y2="1"><stop offset=".000" stop-color="#edf4fb"/><stop offset=".399" stop-color="#ecf3fb"/><stop offset=".550" stop-color="#e0ecf9"/><stop offset=".586" stop-color="#bad7f2"/><stop offset=".636" stop-color="#4696dd"/><stop offset=".696" stop-color="#4e72d8"/><stop offset=".796" stop-color="#5d66d4"/><stop offset=".832" stop-color="#6a5bcc"/><stop offset=".867" stop-color="#526fd7"/><stop offset=".932" stop-color="#6dafe5"/><stop offset=".987" stop-color="#3f8fdb"/><stop offset=".994" stop-color="#813dac"/><stop offset="1.000" stop-color="#843aa6"/></linearGradient>
<linearGradient id="g123" x2="0" y2="1"><stop offset=".000" stop-color="#edf4fb"/><stop offset=".419" stop-color="#ecf3fb"/><stop offset=".570" stop-color="#dfecf8"/><stop offset=".605" stop-color="#bad7f2"/><stop offset=".632" stop-color="#4595dd"/><stop offset=".664" stop-color="#526fd7"/><stop offset=".722" stop-color="#6263d2"/><stop offset=".757" stop-color="#6c57ca"/><stop offset=".793" stop-color="#556cd6"/><stop offset=".932" stop-color="#68ace4"/><stop offset=".987" stop-color="#3e8edb"/><stop offset=".994" stop-color="#813dac"/><stop offset="1.000" stop-color="#843aa6"/></linearGradient>
<linearGradient id="g124" x2="0" y2="1"><stop offset=".000" stop-color="#edf4fb"/><stop offset=".286" stop-color="#ecf3fb"/><stop offset=".437" stop-color="#e6f0fa"/><stop offset=".473" stop-color="#bad7f2"/><stop offset=".515" stop-color="#3e80d9"/><stop offset=".565" stop-color="#5e65d4"/><stop offset=".651" stop-color="#6163d2"/><stop offset=".687" stop-color="#6c58ca"/><stop offset=".722" stop-color="#3b84d9"/><stop offset=".932" stop-color="#aaceef"/><stop offset=".987" stop-color="#6aade4"/><stop offset=".994" stop-color="#813dac"/><stop offset="1.000" stop-color="#843aa6"/></linearGradient>
<linearGradient id="g125" x2="0" y2="1"><stop offset=".000" stop-color="#edf4fb"/><stop offset=".332" stop-color="#ecf3fb"/><stop offset=".483" stop-color="#e4eef9"/><stop offset=".518" stop-color="#bad7f2"/><stop offset=".566" stop-color="#3b85d9"/><stop offset=".622" stop-color="#5b68d5"/><stop offset=".718" stop-color="#6163d2"/><stop offset=".753" stop-color="#6c58ca"/><stop offset=".788" stop-color="#3c83d9"/><stop offset=".932" stop-color="#a8cdef"/><stop offset=".987" stop-color="#69ace4"/><stop offset=".994" stop-color="#813dac"/><stop offset="1.000" stop-color="#843aa6"/></linearGradient>
<linearGradient id="g126" x2="0" y2="1"><stop offset=".000" stop-color="#edf4fb"/><stop offset=".359" stop-color="#ecf3fb"/><stop offset=".510" stop-color="#e2eef9"/><stop offset=".545" stop-color="#bad7f2"/><stop offset=".598" stop-color="#3d8cda"/><stop offset=".661" stop-color="#556cd6"/><stop offset=".766" stop-color="#5f65d3"/><stop offset=".801" stop-color="#6a5acb"/><stop offset=".836" stop-color="#3c82d9"/><stop offset=".932" stop-color="#a2caee"/><stop offset=".987" stop-color="#68abe4"/><stop offset=".994" stop-color="#813dac"/><stop offset="1.000" stop-color="#843aa6"/></linearGradient>
<linearGradient id="g127" x2="0" y2="1"><stop offset=".000" stop-color="#edf4fb"/><stop offset=".379" stop-color="#ecf3fb"/><stop offset=".530" stop-color="#e1edf9"/><stop offset=".566" stop-color="#bad7f2"/><stop offset=".619" stop-color="#3f8fdb"/><stop offset=".683" stop-color="#556cd6"/><stop offset=".788" stop-color="#6164d2"/><stop offset=".823" stop-color="#6b58ca"/><stop offset=".859" stop-color="#556cd6"/><stop offset=".932" stop-color="#63a9e3"/><stop offset=".987" stop-color="#3d8bda"/><stop offset=".994" stop-color="#813dac"/><stop offset="1.000" stop-color="#843aa6"/></linearGradient>
<linearGradient id="g128" x2="0" y2="1"><stop offset=".000" stop-color="#edf4fb"/><stop offset=".397" stop-color="#ecf3fb"/><stop offset=".548" stop-color="#e0ecf9"/><stop offset=".584" stop-color="#bad7f2"/><stop offset=".638" stop-color="#4090db"/><stop offset=".703" stop-color="#556cd6"/><stop offset=".811" stop-color="#6362d1"/><stop offset=".846" stop-color="#6d57c9"/><stop offset=".881" stop-color="#556cd6"/><stop offset=".932" stop-color="#67abe3"/><stop offset=".987" stop-color="#3c8ada"/><stop offset=".994" stop-color="#813dac"/><stop offset="1.000" stop-color="#843aa6"/></linearGradient>
<linearGradient id="g129" x2="0" y2="1"><stop offset=".000" stop-color="#edf4fb"/><stop offset=".413" stop-color="#ecf3fb"/><stop offset=".564" stop-color="#dfecf8"/><stop offset=".600" stop-color="#bad7f2"/><stop offset=".654" stop-color="#4797dd"/><stop offset=".718" stop-color="#5071d8"/><stop offset=".825" stop-color="#5f65d3"/><stop offset=".861" stop-color="#6b5acb"/><stop offset=".896" stop-color="#596ad5"/><stop offset=".932" stop-color="#63a9e3"/><stop offset=".987" stop-color="#3c89da"/><stop offset=".994" stop-color="#813dac"/><stop offset="1.000" stop-color="#843aa6"/></linearGradient>
<linearGradient id="g130" x2="0" y2="1"><stop offset=".000" stop-color="#edf4fb"/><stop offset=".428" stop-color="#ecf3fb"/><stop offset=".579" stop-color="#dfecf8"/><stop offset=".614" stop-color="#bad7f2"/><stop offset=".668" stop-color="#4797dd"/><stop offset=".733" stop-color="#5070d7"/><stop offset=".840" stop-color="#6163d2"/><stop offset=".875" stop-color="#6c58ca"/><stop offset=".910" stop-color="#556cd6"/><stop offset=".932" stop-color="#60a7e2"/><stop offset=".987" stop-color="#3b88da"/><stop offset=".994" stop-color="#813dac"/><stop offset="1.000" stop-color="#843aa6"/></linearGradient>
<linearGradient id="g131" x2="0" y2="1"><stop offset=".000" stop-color="#edf4fb"/><stop offset=".442" stop-color="#ecf3fb"/><stop offset=".593" stop-color="#deebf8"/><stop offset=".628" stop-color="#bad7f2"/><stop offset=".678" stop-color="#4e9cde"/><stop offset=".738" stop-color="#4c74d8"/><stop offset=".838" stop-color="#5f65d3"/><stop offset=".873" stop-color="#6a5acb"/><stop offset=".909" stop-color="#576bd6"/><stop offset=".932" stop-color="#5ea6e2"/><stop offset=".987" stop-color="#3b87d9"/><stop offset=".994" stop-color="#813dac"/><stop offset="1.000" stop-color="#843aa6"/></linearGradient>
<linearGradient id="g132" x2="0" y2="1"><stop offset=".000" stop-color="#edf4fb"/><stop offset=".262" stop-color="#ecf3fb"/><stop offset=".413" stop-color="#e7f0fa"/><stop offset=".448" stop-color="#bad7f2"/><stop offset=".504" stop-color="#3c82d9"/><stop offset=".579" stop-color="#5b68d5"/><stop offset=".696" stop-color="#5d66d4"/><stop offset=".731" stop-color="#6a5bcc"/><stop offset=".766" stop-color="#3b84d9"/><stop offset=".932" stop-color="#9ac6ec"/><stop offset=".987" stop-color="#5ba4e1"/><stop offset=".994" stop-color="#813dac"/><stop offset="1.000" stop-color="#843aa6"/></linearGradient>
<linearGradient id="g133" x2="0" y2="1"><stop offset=".000" stop-color="#edf4fb"/><stop offset=".328" stop-color="#ecf3fb"/><stop offset=".479" stop-color="#e4eff9"/><stop offset=".515" stop-color="#bad7f2"/><stop offset=".561" stop-color="#3c82d9"/><stop offset=".616" stop-color="#5d66d4"/><stop offset=".709" stop-color="#6163d2"/><stop offset=".744" stop-color="#6c58ca"/><stop offset=".779" stop-color="#3b84d9"/><stop offset=".932" stop-color="#99c6ec"/><stop offset=".987" stop-color="#58a3e1"/><stop offset=".994" stop-color="#813dac"/><stop offset="1.000" stop-color="#843aa6"/></linearGradient>
<linearGradient id="g134" x2="0" y2="1"><stop offset=".000" stop-color="#edf4fb"/><stop offset=".358" stop-color="#ecf3fb"/><stop offset=".509" stop-color="#e2eef9"/><stop offset=".545" stop-color="#bad7f2"/><stop offset=".596" stop-color="#3b88da"/><stop offset=".658" stop-color="#5969d5"/><stop offset=".760" stop-color="#6163d2"/><stop offset=".796" stop-color="#6c58ca"/><stop offset=".831" stop-color="#3c82d9"/><stop offset=".932" stop-color="#8ec0ea"/><stop offset=".987" stop-color="#57a2e0"/><stop offset=".994" stop-color="#813dac"/><stop offset="1.000" stop-color="#843aa6"/></linearGradient>
<linearGradient id="g135" x2="0" y2="1"><stop offset=".000" stop-color="#edf4fb"/><stop offset=".380" stop-color="#ecf3fb"/><stop offset=".531" stop-color="#e1edf9"/><stop offset=".567" stop-color="#bad7f2"/><stop offset=".618" stop-color="#4090db"/><stop offset=".680" stop-color="#526ed7"/><stop offset=".783" stop-color="#5d66d4"/><stop offset=".818" stop-color="#6a5bcc"/><stop offset=".853" stop-color="#596ad5"/><stop offset=".932" stop-color="#54a0e0"/><stop offset=".987" stop-color="#3c82d9"/><stop offset=".994" stop-color="#813dac"/><stop offset="1.000" stop-color="#843aa6"/></linearGradient>
<linearGradient id="g136" x2="0" y2="1"><stop offset=".000" stop-color="#edf4fb"/><stop offset=".399" stop-color="#ecf3fb"/><stop offset=".550" stop-color="#e0ecf9"/><stop offset=".585" stop-color="#bad7f2"/><stop offset=".637" stop-color="#4394dc"/><stop offset=".699" stop-color="#5071d7"/><stop offset=".803" stop-color="#5d66d4"/><stop offset=".838" stop-color="#6a5bcc"/><stop offset=".873" stop-color="#5c67d4"/><stop offset=".932" stop-color="#53a0e0"/><stop offset=".987" stop-color="#3e81d9"/><stop offset=".994" stop-color="#813dac"/><stop offset="1.000" stop-color="#843aa6"/></linearGradient>
<linearGradient id="g137" x2="0" y2="1"><stop offset=".000" stop-color="#edf4fb"/><stop offset=".415" stop-color="#ecf3fb"/><stop offset=".566" stop-color="#dfecf8"/><stop offset=".601" stop-color="#bad7f2"/><stop offset=".653" stop-color="#4697dd"/><stop offset=".716" stop-color="#4e72d8"/><stop offset=".820" stop-color="#5e66d4"/><stop offset=".855" stop-color="#6a5acc"/><stop offset=".890" stop-color="#5969d5"/><stop offset=".932" stop-color="#529fdf"/><stop offset=".987" stop-color="#3e7fd9"/><stop offset=".994" stop-color="#813dac"/><stop offset="1.000" stop-color="#843aa6"/></linearGradient>
<linearGradient id="g138" x2="0" y2="1"><stop offset=".000" stop-color="#edf4fb"/><stop offset=".430" stop-color="#ecf3fb"/><stop offset=".581" stop-color="#dfecf8"/><stop offset=".616" stop-color="#bad7f2"/><stop offset=".667" stop-color="#4494dc"/><stop offset=".728" stop-color="#536ed7"/><stop offset=".830" stop-color="#6362d1"/><stop offset=".865" stop-color="#6d56c9"/><stop offset=".901" stop-color="#5969d5"/><stop offset=".932" stop-color="#519edf"/><stop offset=".987" stop-color="#407ed9"/><stop offset=".994" stop-color="#813dac"/><stop offset="1.000" stop-color="#843aa6"/></linearGradient>
<linearGradient id="g139" x2="0" y2="1"><stop offset=".000" stop-color="#edf4fb"/><stop offset=".443" stop-color="#ecf3fb"/><stop offset=".594" stop-color="#deebf8"/><stop offset=".630" stop-color="#bad7f2"/><stop offset=".680" stop-color="#4e9cdf"/><stop offset=".740" stop-color="#4b75d8"/><stop offset=".841" stop-color="#5d66d4"/><stop offset=".876" stop-color="#6a5bcc"/><stop offset=".911" stop-color="#5b67d4"/><stop offset=".932" stop-color="#4d9cde"/><stop offset=".987" stop-color="#417dd9"/><stop offset=".994" stop-color="#813dac"/><stop offset="1.000" stop-color="#843aa6"/></linearGradient>
<linearGradient id="g140" x2="0" y2="1"><stop offset=".000" stop-color="#edf4fb"/><stop offset=".456" stop-color="#ecf3fb"/><stop offset=".607" stop-color="#ddebf8"/><stop offset=".642" stop-color="#bad7f2"/><stop offset=".684" stop-color="#4797dd"/><stop offset=".734" stop-color="#526fd7"/><stop offset=".820" stop-color="#6560d0"/><stop offset=".855" stop-color="#6d55c8"/><stop offset=".890" stop-color="#5b68d5"/><stop offset=".932" stop-color="#4797dd"/><stop offset=".987" stop-color="#427cd9"/><stop offset=".994" stop-color="#813dac"/><stop offset="1.000" stop-color="#843aa6"/></linearGradient>
<linearGradient id="g141" x2="0" y2="1"><stop offset=".000" stop-color="#edf4fb"/><stop offset=".296" stop-color="#ecf3fb"/><stop offset=".447" stop-color="#e5effa"/><stop offset=".482" stop-color="#bad7f2"/><stop offset=".537" stop-color="#3e80d9"/><stop offset=".611" stop-color="#5d66d4"/><stop offset=".726" stop-color="#6064d3"/><stop offset=".761" stop-color="#6b59cb"/><stop offset=".796" stop-color="#3e80d9"/><stop offset=".932" stop-color="#82bae8"/><stop offset=".987" stop-color="#4a99de"/><stop offset=".994" stop-color="#813dac"/><stop offset="1.000" stop-color="#843aa6"/></linearGradient>
<linearGradient id="g142" x2="0" y2="1"><stop offset=".000" stop-color="#edf4fb"/><stop offset=".362" stop-color="#ecf3fb"/><stop offset=".513" stop-color="#e2eef9"/><stop offset=".548" stop-color="#bad7f2"/><stop offset=".595" stop-color="#407ed9"/><stop offset=".651" stop-color="#6164d2"/><stop offset=".745" stop-color="#6560d0"/><stop offset=".780" stop-color="#6e55c8"/><stop offset=".815" stop-color="#407ed9"/><stop offset=".932" stop-color="#7fb8e8"/><stop offset=".987" stop-color="#4898dd"/><stop offset=".994" stop-color="#813dac"/><stop offset="1.000" stop-color="#843aa6"/></linearGradient>
<linearGradient id="g143" x2="0" y2="1"><stop offset=".000" stop-color="#edf4fb"/><stop offset=".400" stop-color="#ecf3fb"/><stop offset=".551" stop-color="#e0ecf9"/><stop offset=".586" stop-color="#bad7f2"/><stop offset=".637" stop-color="#3c8ada"/><stop offset=".699" stop-color="#576cd6"/><stop offset=".801" stop-color="#5e66d4"/><stop offset=".836" stop-color="#6a5bcc"/><stop offset=".871" stop-color="#407ed9"/><stop offset=".932" stop-color="#75b3e6"/><stop offset=".987" stop-color="#4797dd"/><stop offset=".994" stop-color="#813dac"/><stop offset="1.000" stop-color="#843aa6"/></linearGradient>
<linearGradient id="g144" x2="0" y2="1"><stop offset=".000" stop-color="#edf4fb"/><stop offset=".426" stop-color="#ecf3fb"/><stop offset=".577" stop-color="#dfecf8"/><stop offset=".613" stop-color="#bad7f2"/><stop offset=".664" stop-color="#3c8ada"/><stop offset=".727" stop-color="#5969d5"/><stop offset=".830" stop-color="#6362d1"/><stop offset=".865" stop-color="#6c57c9"/><stop offset=".901" stop-color="#5969d5"/><stop offset=".932" stop-color="#4797dd"/><stop offset=".987" stop-color="#4977d8"/><stop offset=".994" stop-color="#813dac"/><stop offset="1.000" stop-color="#843aa6"/></linearGradient>
<linearGradient id="g145" x2="0" y2="1"><stop offset=".000" stop-color="#edf4fb"/><stop offset=".448" stop-color="#ecf3fb"/><stop offset=".599" stop-color="#deebf8"/><stop offset=".634" stop-color="#bad7f2"/><stop offset=".684" stop-color="#4293dc"/><stop offset=".745" stop-color="#5170d7"/><stop offset=".845" stop-color="#5e66d4"/><stop offset=".880" stop-color="#6a5bcc"/><stop offset=".915" stop-color="#5b68d5"/><stop offset=".932" stop-color="#4696dd"/><stop offset=".987" stop-color="#4976d8"/><stop offset=".994" stop-color="#813dac"/><stop offset="1.000" stop-color="#843aa6"/></linearGradient>
<linearGradient id="g146" x2="0" y2="1"><stop offset=".000" stop-color="#edf4fb"/><stop offset=".300" stop-color="#ecf3fb"/><stop offset=".451" stop-color="#e5effa"/><stop offset=".486" stop-color="#bad7f2"/><stop offset=".542" stop-color="#3c82d9"/><stop offset=".615" stop-color="#5b68d5"/><stop offset=".730" stop-color="#5d66d4"/><stop offset=".766" stop-color="#6a5bcc"/><stop offset=".801" stop-color="#417dd9"/><stop offset=".932" stop-color="#6fafe5"/><stop offset=".987" stop-color="#4393dc"/><stop offset=".994" stop-color="#813dac"/><stop offset="1.000" stop-color="#843aa6"/></linearGradient>
<linearGradient id="g147" x2="0" y2="1"><stop offset=".000" stop-color="#edf4fb"/><stop offset=".354" stop-color="#ecf3fb"/><stop offset=".506" stop-color="#e3eef9"/><stop offset=".541" stop-color="#bad7f2"/><stop offset=".578" stop-color="#3b84d9"/><stop offset=".624" stop-color="#5b68d5"/><stop offset=".701" stop-color="#5f65d3"/><stop offset=".736" stop-color="#6b5acb"/><stop offset=".772" stop-color="#437bd9"/><stop offset=".932" stop-color="#71b1e5"/><stop offset=".987" stop-color="#4292dc"/><stop offset=".994" stop-color="#813dac"/><stop offset="1.000" stop-color="#843aa6"/></linearGradient>
<linearGradient id="g148" x2="0" y2="1"><stop offset=".000" stop-color="#edf4fb"/><stop offset=".385" stop-color="#ecf3fb"/><stop offset=".536" stop-color="#e1edf9"/><stop offset=".572" stop-color="#bad7f2"/><stop offset=".614" stop-color="#3b84d9"/><stop offset=".664" stop-color="#5e66d4"/><stop offset=".750" stop-color="#6560d0"/><stop offset=".786" stop-color="#6e55c8"/><stop offset=".821" stop-color="#437bd9"/><stop offset=".932" stop-color="#6aace4"/><stop offset=".987" stop-color="#4191db"/><stop offset=".994" stop-color="#813dac"/><stop offset="1.000" stop-color="#843aa6"/></linearGradient>
<linearGradient id="g149" x2="0" y2="1"><stop offset=".000" stop-color="#edf4fb"/><stop offset=".407" stop-color="#ecf3fb"/><stop offset=".558" stop-color="#e0ecf9"/><stop offset=".593" stop-color="#bad7f2"/><stop offset=".638" stop-color="#3f8fdb"/><stop offset=".692" stop-color="#536ed7"/><stop offset=".783" stop-color="#5d66d4"/><stop offset=".819" stop-color="#6a5bcc"/><stop offset=".854" stop-color="#5d67d4"/><stop offset=".932" stop-color="#3e8edb"/><stop offset=".987" stop-color="#5071d7"/><stop offset=".994" stop-color="#813dac"/><stop offset="1.000" stop-color="#843aa6"/></linearGradient>
<linearGradient id="g150" x2="0" y2="1"><stop offset=".000" stop-color="#edf4fb"/><stop offset=".425" stop-color="#ecf3fb"/><stop offset=".576" stop-color="#dfecf8"/><stop offset=".611" stop-color="#bad7f2"/><stop offset=".656" stop-color="#3c8bda"/><stop offset=".710" stop-color="#5b68d5"/><stop offset=".801" stop-color="#665fcf"/><stop offset=".837" stop-color="#6e54c7"/><stop offset=".872" stop-color="#5b67d4"/><stop offset=".932" stop-color="#3f8fdb"/><stop offset=".987" stop-color="#5170d7"/><stop offset=".994" stop-color="#813dac"/><stop offset="1.000" stop-color="#843aa6"/></linearGradient>
<linearGradient id="g151" x2="0" y2="1"><stop offset=".000" stop-color="#edf4fb"/><stop offset=".440" stop-color="#ecf3fb"/><stop offset=".591" stop-color="#deebf8"/><stop offset=".627" stop-color="#bad7f2"/><stop offset=".672" stop-color="#3f8fdb"/><stop offset=".727" stop-color="#576ad6"/><stop offset=".820" stop-color="#6560d0"/><stop offset=".855" stop-color="#6e55c8"/><stop offset=".890" stop-color="#5c67d4"/><stop offset=".932" stop-color="#3e8ddb"/><stop offset=".987" stop-color="#526ed7"/><stop offset=".994" stop-color="#813dac"/><stop offset="1.000" stop-color="#843aa6"/></linearGradient>
<linearGradient id="g152" x2="0" y2="1"><stop offset=".000" stop-color="#edf4fb"/><stop offset=".454" stop-color="#ecf3fb"/><stop offset=".605" stop-color="#ddebf8"/><stop offset=".641" stop-color="#bad7f2"/><stop offset=".686" stop-color="#4797dd"/><stop offset=".740" stop-color="#5070d7"/><stop offset=".831" stop-color="#6064d3"/><stop offset=".867" stop-color="#6b59ca"/><stop offset=".902" stop-color="#5f64d3"/><stop offset=".932" stop-color="#3c89da"/><stop offset=".987" stop-color="#546dd7"/><stop offset=".994" stop-color="#813dac"/><stop offset="1.000" stop-color="#843aa6"/></linearGradient>
<linearGradient id="g153" x2="0" y2="1"><stop offset=".000" stop-color="#edf4fb"/><stop offset=".467" stop-color="#ecf3fb"/><stop offset=".618" stop-color="#ddeaf8"/><stop offset=".654" stop-color="#bad7f2"/><stop offset=".697" stop-color="#4c9bde"/><stop offset=".750" stop-color="#4c73d8"/><stop offset=".839" stop-color="#5f65d3"/><stop offset=".874" stop-color="#6a5acb"/><stop offset=".910" stop-color="#6064d3"/><stop offset=".932" stop-color="#3c89da"/><stop offset=".987" stop-color="#556cd6"/><stop offset=".994" stop-color="#813dac"/><stop offset="1.000" stop-color="#843aa6"/></linearGradient>
<linearGradient id="g154" x2="0" y2="1"><stop offset=".000" stop-color="#edf4fb"/><stop offset=".480" stop-color="#ecf3fb"/><stop offset=".631" stop-color="#dceaf8"/><stop offset=".666" stop-color="#bad7f2"/><stop offset=".709" stop-color="#4797dd"/><stop offset=".760" stop-color="#536ed7"/><stop offset=".847" stop-color="#6560d0"/><stop offset=".882" stop-color="#6e55c8"/><stop offset=".917" stop-color="#5f64d3"/><stop offset=".932" stop-color="#3b87d9"/><stop offset=".987" stop-color="#576bd6"/><stop offset=".994" stop-color="#813dac"/><stop offset="1.000" stop-color="#843aa6"/></linearGradient>
<linearGradient id="g155" x2="0" y2="1"><stop offset=".000" stop-color="#edf4fb"/><stop offset=".491" stop-color="#ecf3fb"/><stop offset=".642" stop-color="#dceaf8"/><stop offset=".678" stop-color="#bad7f2"/><stop offset=".711" stop-color="#4f9ddf"/><stop offset=".751" stop-color="#4c74d8"/><stop offset=".821" stop-color="#6164d2"/><stop offset=".857" stop-color="#6b58ca"/><stop offset=".892" stop-color="#5f65d3"/><stop offset=".932" stop-color="#3c89da"/><stop offset=".987" stop-color="#596ad6"/><stop offset=".994" stop-color="#813dac"/><stop offset="1.000" stop-color="#843aa6"/></linearGradient>
<linearGradient id="g156" x2="0" y2="1"><stop offset=".000" stop-color="#edf4fb"/><stop offset=".324" stop-color="#ecf3fb"/><stop offset=".475" stop-color="#e4eff9"/><stop offset=".510" stop-color="#bad7f2"/><stop offset=".560" stop-color="#407dd9"/><stop offset=".619" stop-color="#6163d2"/><stop offset=".717" stop-color="#6561d0"/><stop offset=".753" stop-color="#6d55c8"/><stop offset=".788" stop-color="#447bd9"/><stop offset=".932" stop-color="#5fa7e2"/><stop offset=".987" stop-color="#3b88da"/><stop offset=".994" stop-color="#813dac"/><stop offset="1.000" stop-color="#843aa6"/></linearGradient>
<linearGradient id="g157" x2="0" y2="1"><stop offset=".000" stop-color="#edf4fb"/><stop offset=".368" stop-color="#ecf3fb"/><stop offset=".519" stop-color="#e2edf9"/><stop offset=".555" stop-color="#bad7f2"/><stop offset=".594" stop-color="#3c89da"/><stop offset=".642" stop-color="#576ad6"/><stop offset=".724" stop-color="#5f65d3"/><stop offset=".759" stop-color="#6a5acb"/><stop offset=".794" stop-color="#4579d8"/><stop offset=".932" stop-color="#59a3e1"/><stop offset=".987" stop-color="#3b87d9"/><stop offset=".994" stop-color="#813dac"/><stop offset="1.000" stop-color="#843aa6"/></linearGradient>
<linearGradient id="g158" x2="0" y2="1"><stop offset=".000" stop-color="#edf4fb"/><stop offset=".397" stop-color="#ecf3fb"/><stop offset=".548" stop-color="#e0ecf9"/><stop offset=".584" stop-color="#bad7f2"/><stop offset=".632" stop-color="#3b88da"/><stop offset=".689" stop-color="#5b68d5"/><stop offset=".786" stop-color="#6461d1"/><stop offset=".821" stop-color="#6d56c8"/><stop offset=".856" stop-color="#6064d3"/><stop offset=".932" stop-color="#3b84d9"/><stop offset=".987" stop-color="#5c67d4"/><stop offset=".994" stop-color="#813dac"/><stop offset="1.000" stop-color="#843aa6"/></linearGradient>
<linearGradient id="g159" x2="0" y2="1"><stop offset=".000" stop-color="#edf4fb"/><stop offset=".420" stop-color="#ecf3fb"/><stop offset=".571" stop-color="#dfecf8"/><stop offset=".607" stop-color="#bad7f2"/><stop offset=".656" stop-color="#4191db"/><stop offset=".715" stop-color="#526fd7"/><stop offset=".813" stop-color="#5e65d3"/><stop offset=".849" stop-color="#6a5acb"/><stop offset=".884" stop-color="#6163d2"/><stop offset=".932" stop-color="#3b86d9"/><stop offset=".987" stop-color="#5d66d4"/><stop offset=".994" stop-color="#813dac"/><stop offset="1.000" stop-color="#843aa6"/></linearGradient>
<linearGradient id="g160" x2="0" y2="1"><stop offset=".000" stop-color="#edf4fb"/><stop offset=".440" stop-color="#ecf3fb"/><stop offset=".591" stop-color="#deebf8"/><stop offset=".627" stop-color="#bad7f2"/><stop offset=".675" stop-color="#4192dc"/><stop offset=".734" stop-color="#546ed7"/><stop offset=".831" stop-color="#6163d2"/><stop offset=".867" stop-color="#6c58ca"/><stop offset=".902" stop-color="#6262d2"/><stop offset=".932" stop-color="#3e81d9"/><stop offset=".987" stop-color="#5f65d3"/><stop offset=".994" stop-color="#813dac"/><stop offset="1.000" stop-color="#843aa6"/></linearGradient>
<linearGradient id="g161" x2="0" y2="1"><stop offset=".000" stop-color="#edf4fb"/><stop offset=".458" stop-color="#ecf3fb"/><stop offset=".609" stop-color="#ddebf8"/><stop offset=".645" stop-color="#bad7f2"/><stop offset=".692" stop-color="#4998dd"/><stop offset=".748" stop-color="#4e72d8"/><stop offset=".843" stop-color="#5e66d4"/><stop offset=".878" stop-color="#6a5acc"/><stop offset=".914" stop-color="#6064d3"/><stop offset=".932" stop-color="#407fd9"/><stop offset=".987" stop-color="#6064d3"/><stop offset=".994" stop-color="#813dac"/><stop offset="1.000" stop-color="#843aa6"/></linearGradient>
<linearGradient id="g162" x2="0" y2="1"><stop offset=".000" stop-color="#edf4fb"/><stop offset=".475" stop-color="#ecf3fb"/><stop offset=".626" stop-color="#dceaf8"/><stop offset=".661" stop-color="#bad7f2"/><stop offset=".697" stop-color="#4596dd"/><stop offset=".741" stop-color="#526fd7"/><stop offset=".816" stop-color="#6362d1"/><stop offset=".851" stop-color="#6d56c9"/><stop offset=".886" stop-color="#6361d1"/><stop offset=".932" stop-color="#407dd9"/><stop offset=".987" stop-color="#6163d2"/><stop offset=".994" stop-color="#813dac"/><stop offset="1.000" stop-color="#843aa6"/></linearGradient>
<linearGradient id="g163" x2="0" y2="1"><stop offset=".000" stop-color="#edf4fb"/><stop offset=".490" stop-color="#ecf3fb"/><stop offset=".641" stop-color="#dceaf8"/><stop offset=".676" stop-color="#bad7f2"/><stop offset=".696" stop-color="#4b9ade"/><stop offset=".718" stop-color="#4e72d8"/><stop offset=".763" stop-color="#6163d2"/><stop offset=".798" stop-color="#6c58ca"/><stop offset=".833" stop-color="#6361d1"/><stop offset=".932" stop-color="#427dd9"/><stop offset=".987" stop-color="#6362d1"/><stop offset=".994" stop-color="#813dac"/><stop offset="1.000" stop-color="#843aa6"/></linearGradient>
<linearGradient id="g164" x2="0" y2="1"><stop offset=".000" stop-color="#edf4fb"/><stop offset=".381" stop-color="#ecf3fb"/><stop offset=".532" stop-color="#e1edf9"/><stop offset=".567" stop-color="#bad7f2"/><stop offset=".612" stop-color="#3e80d9"/><stop offset=".666" stop-color="#5d66d4"/><stop offset=".756" stop-color="#6064d3"/><stop offset=".791" stop-color="#6b59ca"/><stop offset=".827" stop-color="#4579d8"/><stop offset=".932" stop-color="#519edf"/><stop offset=".987" stop-color="#407ed9"/><stop offset=".994" stop-color="#813dac"/><stop offset="1.000" stop-color="#843aa6"/></linearGradient>
<linearGradient id="g165" x2="0" y2="1"><stop offset=".000" stop-color="#edf4fb"/><stop offset=".433" stop-color="#ecf3fb"/><stop offset=".584" stop-color="#deebf8"/><stop offset=".619" stop-color="#bad7f2"/><stop offset=".664" stop-color="#3b85d9"/><stop offset=".717" stop-color="#5b68d5"/><stop offset=".807" stop-color="#6163d2"/><stop offset=".842" stop-color="#6c58ca"/><stop offset=".878" stop-color="#4976d8"/><stop offset=".932" stop-color="#4f9ddf"/><stop offset=".987" stop-color="#417dd9"/><stop offset=".994" stop-color="#813dac"/><stop offset="1.000" stop-color="#843aa6"/></linearGradient>
<linearGradient id="g166" x2="0" y2="1"><stop offset=".000" stop-color="#edf4fb"/><stop offset=".460" stop-color="#ecf3fb"/><stop offset=".611" stop-color="#ddebf8"/><stop offset=".646" stop-color="#bad7f2"/><stop offset=".688" stop-color="#3b88da"/><stop offset=".738" stop-color="#5969d5"/><stop offset=".824" stop-color="#6362d1"/><stop offset=".859" stop-color="#6c57c9"/><stop offset=".894" stop-color="#457ad9"/><stop offset=".932" stop-color="#4d9cde"/><stop offset=".987" stop-color="#427cd9"/><stop offset=".994" stop-color="#813dac"/><stop offset="1.000" stop-color="#843aa6"/></linearGradient>
<linearGradient id="g167" x2="0" y2="1"><stop offset=".000" stop-color="#edf4fb"/><stop offset=".481" stop-color="#ecf3fb"/><stop offset=".632" stop-color="#dceaf8"/><stop offset=".667" stop-color="#bad7f2"/><stop offset=".708" stop-color="#3d8cda"/><stop offset=".756" stop-color="#596ad6"/><stop offset=".840" stop-color="#6362d1"/><stop offset=".875" stop-color="#6d56c9"/><stop offset=".910" stop-color="#6163d2"/><stop offset=".932" stop-color="#427cd9"/><stop offset=".987" stop-color="#675ece"/><stop offset=".994" stop-color="#813dac"/><stop offset="1.000" stop-color="#843aa6"/></linearGradient>
<linearGradient id="g168" x2="0" y2="1"><stop offset=".000" stop-color="#edf4fb"/><stop offset=".499" stop-color="#ecf3fb"/><stop offset=".650" stop-color="#dceaf8"/><stop offset=".685" stop-color="#bad7f2"/><stop offset=".725" stop-color="#4394dc"/><stop offset=".773" stop-color="#5070d7"/><stop offset=".855" stop-color="#5e65d3"/><stop offset=".890" stop-color="#6a5acb"/><stop offset=".925" stop-color="#6461d1"/><stop offset=".932" stop-color="#4778d8"/><stop offset=".987" stop-color="#685ecd"/><stop offset=".994" stop-color="#813dac"/><stop offset="1.000" stop-color="#843aa6"/></linearGradient>
<linearGradient id="g169" x2="0" y2="1"><stop offset=".000" stop-color="#edf4fb"/><stop offset=".396" stop-color="#ecf3fb"/><stop offset=".547" stop-color="#e0ecf9"/><stop offset=".583" stop-color="#bad7f2"/><stop offset=".626" stop-color="#3b83d9"/><stop offset=".679" stop-color="#5969d5"/><stop offset=".767" stop-color="#5d67d4"/><stop offset=".802" stop-color="#6a5bcc"/><stop offset=".838" stop-color="#4778d8"/><stop offset=".932" stop-color="#4393dc"/><stop offset=".987" stop-color="#4778d8"/><stop offset=".994" stop-color="#813dac"/><stop offset="1.000" stop-color="#843aa6"/></linearGradient>
<linearGradient id="g170" x2="0" y2="1"><stop offset=".000" stop-color="#edf4fb"/><stop offset=".445" stop-color="#ecf3fb"/><stop offset=".596" stop-color="#deebf8"/><stop offset=".631" stop-color="#bad7f2"/><stop offset=".671" stop-color="#3b87d9"/><stop offset=".718" stop-color="#576ad6"/><stop offset=".799" stop-color="#5f65d3"/><stop offset=".834" stop-color="#6b5acb"/><stop offset=".870" stop-color="#4976d8"/><stop offset=".932" stop-color="#4595dc"/><stop offset=".987" stop-color="#4977d8"/><stop offset=".994" stop-color="#813dac"/><stop offset="1.000" stop-color="#843aa6"/></linearGradient>
<linearGradient id="g171" x2="0" y2="1"><stop offset=".000" stop-color="#edf4fb"/><stop offset=".470" stop-color="#ecf3fb"/><stop offset=".621" stop-color="#dceaf8"/><stop offset=".657" stop-color="#bad7f2"/><stop offset=".697" stop-color="#3b86d9"/><stop offset=".746" stop-color="#5b68d5"/><stop offset=".829" stop-color="#6461d1"/><stop offset=".864" stop-color="#6d55c8"/><stop offset=".899" stop-color="#4976d8"/><stop offset=".932" stop-color="#4192dc"/><stop offset=".987" stop-color="#4976d8"/><stop offset=".994" stop-color="#813dac"/><stop offset="1.000" stop-color="#843aa6"/></linearGradient>
<linearGradient id="g172" x2="0" y2="1"><stop offset=".000" stop-color="#edf4fb"/><stop offset=".490" stop-color="#ecf3fb"/><stop offset=".641" stop-color="#dceaf8"/><stop offset=".676" stop-color="#bad7f2"/><stop offset=".716" stop-color="#3d8dda"/><stop offset=".763" stop-color="#556cd6"/><stop offset=".844" stop-color="#6163d2"/><stop offset=".879" stop-color="#6c57c9"/><stop offset=".915" stop-color="#6362d1"/><stop offset=".932" stop-color="#4a75d8"/><stop offset=".987" stop-color="#6b5acb"/><stop offset=".994" stop-color="#813dac"/><stop offset="1.000" stop-color="#843aa6"/></linearGradient>
<linearGradient id="g173" x2="0" y2="1"><stop offset=".000" stop-color="#edf4fb"/><stop offset=".507" stop-color="#ecf3fb"/><stop offset=".658" stop-color="#dceaf8"/><stop offset=".693" stop-color="#bad7f2"/><stop offset=".730" stop-color="#4494dc"/><stop offset=".775" stop-color="#4e72d8"/><stop offset=".852" stop-color="#5d66d4"/><stop offset=".887" stop-color="#6a5bcc"/><stop offset=".922" stop-color="#665fcf"/><stop offset=".932" stop-color="#4b74d8"/><stop offset=".987" stop-color="#6b59ca"/><stop offset=".994" stop-color="#813dac"/><stop offset="1.000" stop-color="#843aa6"/></linearGradient>
<linearGradient id="g174" x2="0" y2="1"><stop offset=".000" stop-color="#edf4fb"/><stop offset=".357" stop-color="#ecf3fb"/><stop offset=".508" stop-color="#e2eef9"/><stop offset=".543" stop-color="#bad7f2"/><stop offset=".597" stop-color="#3b83d9"/><stop offset=".663" stop-color="#596ad5"/><stop offset=".771" stop-color="#5d67d4"/><stop offset=".806" stop-color="#6a5bcc"/><stop offset=".841" stop-color="#4c73d8"/><stop offset=".932" stop-color="#4192dc"/><stop offset=".987" stop-color="#4e72d8"/><stop offset=".994" stop-color="#813dac"/><stop offset="1.000" stop-color="#843aa6"/></linearGradient>
<linearGradient id="g175" x2="0" y2="1"><stop offset=".000" stop-color="#edf4fb"/><stop offset=".410" stop-color="#ecf3fb"/><stop offset=".561" stop-color="#e0ecf8"/><stop offset=".596" stop-color="#bad7f2"/><stop offset=".638" stop-color="#3e80d9"/><stop offset=".689" stop-color="#5e65d4"/><stop offset=".774" stop-color="#6560d0"/><stop offset=".809" stop-color="#6e55c7"/><stop offset=".845" stop-color="#4777d8"/><stop offset=".932" stop-color="#3f8fdb"/><stop offset=".987" stop-color="#5071d7"/><stop offset=".994" stop-color="#813dac"/><stop offset="1.000" stop-color="#843aa6"/></linearGradient>
<linearGradient id="g176" x2="0" y2="1"><stop offset=".000" stop-color="#edf4fb"/><stop offset=".438" stop-color="#ecf3fb"/><stop offset=".589" stop-color="#deebf8"/><stop offset=".624" stop-color="#bad7f2"/><stop offset=".670" stop-color="#3d8bda"/><stop offset=".725" stop-color="#546dd7"/><stop offset=".817" stop-color="#5e65d3"/><stop offset=".852" stop-color="#6b5acb"/><stop offset=".887" stop-color="#4c73d8"/><stop offset=".932" stop-color="#3e8ddb"/><stop offset=".987" stop-color="#5070d7"/><stop offset=".994" stop-color="#813dac"/><stop offset="1.000" stop-color="#843aa6"/></linearGradient>
<linearGradient id="g177" x2="0" y2="1"><stop offset=".000" stop-color="#edf4fb"/><stop offset=".459" stop-color="#ecf3fb"/><stop offset=".610" stop-color="#ddebf8"/><stop offset=".645" stop-color="#bad7f2"/><stop offset=".689" stop-color="#3d8cda"/><stop offset=".741" stop-color="#556cd6"/><stop offset=".829" stop-color="#6362d1"/><stop offset=".864" stop-color="#6d56c9"/><stop offset=".899" stop-color="#675fcf"/><stop offset=".932" stop-color="#556dd6"/><stop offset=".987" stop-color="#6d56c9"/><stop offset=".994" stop-color="#813dac"/><stop offset="1.000" stop-color="#843aa6"/></linearGradient>
<linearGradient id="g178" x2="0" y2="1"><stop offset=".000" stop-color="#edf4fb"/><stop offset=".477" stop-color="#ecf3fb"/><stop offset=".628" stop-color="#dceaf8"/><stop offset=".664" stop-color="#bad7f2"/><stop offset=".705" stop-color="#4292dc"/><stop offset=".756" stop-color="#5070d7"/><stop offset=".841" stop-color="#5f64d3"/><stop offset=".876" stop-color="#6b59ca"/><stop offset=".912" stop-color="#665fcf"/><stop offset=".932" stop-color="#526fd7"/><stop offset=".987" stop-color="#6d56c8"/><stop offset=".994" stop-color="#813dac"/><stop offset="1.000" stop-color="#843aa6"/></linearGradient>
<linearGradient id="g179" x2="0" y2="1"><stop offset=".000" stop-color="#edf4fb"/><stop offset=".493" stop-color="#ecf3fb"/><stop offset=".644" stop-color="#dceaf8"/><stop offset=".680" stop-color="#bad7f2"/><stop offset=".720" stop-color="#4797dd"/><stop offset=".768" stop-color="#4b75d8"/><stop offset=".850" stop-color="#5d66d4"/><stop offset=".885" stop-color="#6a5acb"/><stop offset=".921" stop-color="#675ece"/><stop offset=".932" stop-color="#546ed7"/><stop offset=".987" stop-color="#6d56c8"/><stop offset=".994" stop-color="#813dac"/><stop offset="1.000" stop-color="#843aa6"/></linearGradient>
<linearGradient id="g180" x2="0" y2="1"><stop offset=".000" stop-color="#edf4fb"/><stop offset=".508" stop-color="#ecf3fb"/><stop offset=".659" stop-color="#dceaf8"/><stop offset=".694" stop-color="#bad7f2"/><stop offset=".733" stop-color="#4393dc"/><stop offset=".779" stop-color="#526fd7"/><stop offset=".858" stop-color="#6361d1"/><stop offset=".893" stop-color="#6e55c8"/><stop offset=".928" stop-color="#6560d0"/><stop offset=".933" stop-color="#536ed7"/><stop offset=".987" stop-color="#6d55c8"/><stop offset=".994" stop-color="#813dac"/><stop offset="1.000" stop-color="#843aa6"/></linearGradient>
<linearGradient id="g181" x2="0" y2="1"><stop offset=".000" stop-color="#edf4fb"/><stop offset=".313" stop-color="#ecf3fb"/><stop offset=".464" stop-color="#e5eff9"/><stop offset=".499" stop-color="#bad7f2"/><stop offset=".554" stop-color="#407ed9"/><stop offset=".689" stop-color="#5b67d4"/><stop offset=".855" stop-color="#6064d3"/><stop offset=".890" stop-color="#6c58ca"/><stop offset=".925" stop-color="#4d73d8"/><stop offset=".932" stop-color="#3f8fdb"/><stop offset=".987" stop-color="#526fd7"/><stop offset=".994" stop-color="#813dac"/><stop offset="1.000" stop-color="#843aa6"/></linearGradient>
<linearGradient id="g182" x2="0" y2="1"><stop offset=".000" stop-color="#edf4fb"/><stop offset=".387" stop-color="#ecf3fb"/><stop offset=".538" stop-color="#e1edf9"/><stop offset=".573" stop-color="#bad7f2"/><stop offset=".615" stop-color="#3c83d9"/><stop offset=".665" stop-color="#596ad5"/><stop offset=".750" stop-color="#5f65d3"/><stop offset=".785" stop-color="#6b59ca"/><stop offset=".820" stop-color="#4c74d8"/><stop offset=".932" stop-color="#3f8fdb"/><stop offset=".987" stop-color="#536ed7"/><stop offset=".994" stop-color="#813dac"/><stop offset="1.000" stop-color="#843aa6"/></linearGradient>
<linearGradient id="g183" x2="0" y2="1"><stop offset=".000" stop-color="#edf4fb"/><stop offset=".428" stop-color="#ecf3fb"/><stop offset=".579" stop-color="#dfecf8"/><stop offset=".615" stop-color="#bad7f2"/><stop offset=".653" stop-color="#3b86d9"/><stop offset=".699" stop-color="#576bd6"/><stop offset=".778" stop-color="#6163d2"/><stop offset=".814" stop-color="#6c57c9"/><stop offset=".849" stop-color="#4e73d8"/><stop offset=".932" stop-color="#3d8dda"/><stop offset=".987" stop-color="#536ed7"/><stop offset=".994" stop-color="#813dac"/><stop offset="1.000" stop-color="#843aa6"/></linearGradient>
<linearGradient id="g184" x2="0" y2="1"><stop offset=".000" stop-color="#edf4fb"/><stop offset=".457" stop-color="#ecf3fb"/><stop offset=".608" stop-color="#ddebf8"/><stop offset=".643" stop-color="#bad7f2"/><stop offset=".686" stop-color="#3c8ada"/><stop offset=".736" stop-color="#556cd6"/><stop offset=".823" stop-color="#6262d2"/><stop offset=".858" stop-color="#6d56c9"/><stop offset=".893" stop-color="#675fce"/><stop offset=".932" stop-color="#536ed7"/><stop offset=".987" stop-color="#6e55c8"/><stop offset=".994" stop-color="#813dac"/><stop offset="1.000" stop-color="#843aa6"/></linearGradient>
<linearGradient id="g185" x2="0" y2="1"><stop offset=".000" stop-color="#edf4fb"/><stop offset=".481" stop-color="#ecf3fb"/><stop offset=".632" stop-color="#dceaf8"/><stop offset=".667" stop-color="#bad7f2"/><stop offset=".709" stop-color="#4090db"/><stop offset=".760" stop-color="#5071d8"/><stop offset=".846" stop-color="#5f65d3"/><stop offset=".881" stop-color="#6b59ca"/><stop offset=".916" stop-color="#695dcd"/><stop offset=".932" stop-color="#546dd7"/><stop offset=".987" stop-color="#6e54c7"/><stop offset=".994" stop-color="#813dac"/><stop offset="1.000" stop-color="#843aa6"/></linearGradient>
<linearGradient id="g186" x2="0" y2="1"><stop offset=".000" stop-color="#edf4fb"/><stop offset=".501" stop-color="#ecf3fb"/><stop offset=".652" stop-color="#dceaf8"/><stop offset=".687" stop-color="#bad7f2"/><stop offset=".729" stop-color="#4293dc"/><stop offset=".780" stop-color="#4e72d8"/><stop offset=".865" stop-color="#5f64d3"/><stop offset=".900" stop-color="#6c58ca"/><stop offset=".936" stop-color="#6560d0"/><stop offset=".941" stop-color="#536ed7"/><stop offset=".987" stop-color="#6e54c7"/><stop offset=".994" stop-color="#813dac"/><stop offset="1.000" stop-color="#843aa6"/></linearGradient>
<linearGradient id="g187" x2="0" y2="1"><stop offset=".000" stop-color="#edf4fb"/><stop offset=".363" stop-color="#ecf3fb"/><stop offset=".514" stop-color="#e2eef9"/><stop offset=".549" stop-color="#bad7f2"/><stop offset=".605" stop-color="#3d81d9"/><stop offset=".676" stop-color="#576bd6"/><stop offset=".789" stop-color="#5d66d4"/><stop offset=".824" stop-color="#6a5acb"/><stop offset=".860" stop-color="#4e71d8"/><stop offset=".932" stop-color="#3c8ada"/><stop offset=".987" stop-color="#556dd7"/><stop offset=".994" stop-color="#813dac"/><stop offset="1.000" stop-color="#843aa6"/></linearGradient>
<linearGradient id="g188" x2="0" y2="1"><stop offset=".000" stop-color="#edf4fb"/><stop offset=".421" stop-color="#ecf3fb"/><stop offset=".572" stop-color="#dfecf8"/><stop offset=".607" stop-color="#bad7f2"/><stop offset=".648" stop-color="#407ed9"/><stop offset=".697" stop-color="#5d67d4"/><stop offset=".780" stop-color="#6361d1"/><stop offset=".815" stop-color="#6e55c8"/><stop offset=".851" stop-color="#5071d8"/><stop offset=".932" stop-color="#3c8ada"/><stop offset=".987" stop-color="#556dd7"/><stop offset=".994" stop-color="#813dac"/><stop offset="1.000" stop-color="#843aa6"/></linearGradient>
<linearGradient id="g189" x2="0" y2="1"><stop offset=".000" stop-color="#edf4fb"/><stop offset=".449" stop-color="#ecf3fb"/><stop offset=".600" stop-color="#ddebf8"/><stop offset=".636" stop-color="#bad7f2"/><stop offset=".681" stop-color="#3b83d9"/><stop offset=".735" stop-color="#5969d5"/><stop offset=".827" stop-color="#6561d0"/><stop offset=".862" stop-color="#6e54c7"/><stop offset=".897" stop-color="#4e73d8"/><stop offset=".932" stop-color="#3d8bda"/><stop offset=".987" stop-color="#556dd6"/><stop offset=".994" stop-color="#813dac"/><stop offset="1.000" stop-color="#843aa6"/></linearGradient>
<linearGradient id="g190" x2="0" y2="1"><stop offset=".000" stop-color="#edf4fb"/><stop offset=".470" stop-color="#ecf3fb"/><stop offset=".621" stop-color="#dceaf8"/><stop offset=".656" stop-color="#bad7f2"/><stop offset=".700" stop-color="#3b87d9"/><stop offset=".752" stop-color="#576bd6"/><stop offset=".840" stop-color="#6561d0"/><stop offset=".876" stop-color="#6e54c7"/><stop offset=".911" stop-color="#695dcd"/><stop offset=".932" stop-color="#5969d5"/><stop offset=".987" stop-color="#6f53c6"/><stop offset=".994" stop-color="#813dac"/><stop offset="1.000" stop-color="#843aa6"/></linearGradient>
<linearGradient id="g191" x2="0" y2="1"><stop offset=".000" stop-color="#edf4fb"/><stop offset=".487" stop-color="#ecf3fb"/><stop offset=".638" stop-color="#dceaf8"/><stop offset=".673" stop-color="#bad7f2"/><stop offset=".716" stop-color="#3f8fdb"/><stop offset=".767" stop-color="#5071d8"/><stop offset=".854" stop-color="#6064d3"/><stop offset=".889" stop-color="#6c58ca"/><stop offset=".925" stop-color="#685dcd"/><stop offset=".932" stop-color="#576bd6"/><stop offset=".987" stop-color="#6f53c6"/><stop offset=".994" stop-color="#813dac"/><stop offset="1.000" stop-color="#843aa6"/></linearGradient>
<linearGradient id="g192" x2="0" y2="1"><stop offset=".000" stop-color="#edf4fb"/><stop offset=".501" stop-color="#ecf3fb"/><stop offset=".653" stop-color="#dceaf8"/><stop offset=".688" stop-color="#bad7f2"/><stop offset=".729" stop-color="#3e8edb"/><stop offset=".779" stop-color="#536ed7"/><stop offset=".864" stop-color="#6560d0"/><stop offset=".900" stop-color="#6e54c7"/><stop offset=".935" stop-color="#695dcd"/><stop offset=".940" stop-color="#566cd6"/><stop offset=".987" stop-color="#6f53c6"/><stop offset=".994" stop-color="#813dac"/><stop offset="1.000" stop-color="#843aa6"/></linearGradient>
<linearGradient id="g193" x2="0" y2="1"><stop offset=".000" stop-color="#edf4fb"/><stop offset=".515" stop-color="#ecf3fb"/><stop offset=".666" stop-color="#dceaf8"/><stop offset=".701" stop-color="#bad7f2"/><stop offset=".742" stop-color="#4191db"/><stop offset=".790" stop-color="#5070d7"/><stop offset=".873" stop-color="#6461d1"/><stop offset=".908" stop-color="#6e54c7"/><stop offset=".944" stop-color="#675fcf"/><stop offset=".949" stop-color="#556dd6"/><stop offset=".987" stop-color="#6f53c6"/><stop offset=".994" stop-color="#813dac"/><stop offset="1.000" stop-color="#843aa6"/></linearGradient>
<linearGradient id="g194" x2="0" y2="1"><stop offset=".000" stop-color="#edf4fb"/><stop offset=".527" stop-color="#ecf3fb"/><stop offset=".678" stop-color="#dceaf8"/><stop offset=".713" stop-color="#bad7f2"/><stop offset=".753" stop-color="#4596dd"/><stop offset=".800" stop-color="#4c74d8"/><stop offset=".882" stop-color="#6262d2"/><stop offset=".917" stop-color="#6d56c8"/><stop offset=".952" stop-color="#675fce"/><stop offset=".957" stop-color="#596ad6"/><stop offset=".987" stop-color="#6f52c6"/><stop offset=".994" stop-color="#813dac"/><stop offset="1.000" stop-color="#843aa6"/></linearGradient>
<linearGradient id="g195" x2="0" y2="1"><stop offset=".000" stop-color="#edf4fb"/><stop offset=".538" stop-color="#ecf3fb"/><stop offset=".690" stop-color="#dceaf8"/><stop offset=".725" stop-color="#bad7f2"/><stop offset=".746" stop-color="#4999dd"/><stop offset=".771" stop-color="#4976d8"/><stop offset=".819" stop-color="#6163d2"/><stop offset=".854" stop-color="#6d56c9"/><stop offset=".889" stop-color="#655fcf"/><stop offset=".932" stop-color="#5a69d5"/><stop offset=".987" stop-color="#7052c6"/><stop offset=".994" stop-color="#813dac"/><stop offset="1.000" stop-color="#843aa6"/></linearGradient>
<linearGradient id="g196" x2="0" y2="1"><stop offset=".000" stop-color="#edf4fb"/><stop offset=".431" stop-color="#ecf3fb"/><stop offset=".582" stop-color="#dfecf8"/><stop offset=".617" stop-color="#bad7f2"/><stop offset=".649" stop-color="#3c82d9"/><stop offset=".688" stop-color="#556cd6"/><stop offset=".756" stop-color="#5d66d4"/><stop offset=".791" stop-color="#6b59cb"/><stop offset=".826" stop-color="#4e72d8"/><stop offset=".932" stop-color="#3c89da"/><stop offset=".987" stop-color="#576bd6"/><stop offset=".994" stop-color="#813dac"/><stop offset="1.000" stop-color="#843aa6"/></linearGradient>
<linearGradient id="g197" x2="0" y2="1"><stop offset=".000" stop-color="#edf4fb"/><stop offset=".474" stop-color="#ecf3fb"/><stop offset=".625" stop-color="#dceaf8"/><stop offset=".660" stop-color="#bad7f2"/><stop offset=".697" stop-color="#3b83d9"/><stop offset=".742" stop-color="#576bd6"/><stop offset=".819" stop-color="#6263d2"/><stop offset=".854" stop-color="#6d56c8"/><stop offset=".889" stop-color="#5071d7"/><stop offset=".932" stop-color="#3c89da"/><stop offset=".987" stop-color="#576ad6"/><stop offset=".994" stop-color="#813dac"/><stop offset="1.000" stop-color="#843aa6"/></linearGradient>
<linearGradient id="g198" x2="0" y2="1"><stop offset=".000" stop-color="#edf4fb"/><stop offset=".501" stop-color="#ecf3fb"/><stop offset=".652" stop-color="#dceaf8"/><stop offset=".687" stop-color="#bad7f2"/><stop offset=".724" stop-color="#3e8edb"/><stop offset=".768" stop-color="#4c73d8"/><stop offset=".843" stop-color="#5b68d5"/><stop offset=".878" stop-color="#6a5acc"/><stop offset=".914" stop-color="#675ece"/><stop offset=".932" stop-color="#596ad5"/><stop offset=".987" stop-color="#7052c5"/><stop offset=".994" stop-color="#813dac"/><stop offset="1.000" stop-color="#843aa6"/></linearGradient>
<linearGradient id="g199" x2="0" y2="1"><stop offset=".000" stop-color="#edf4fb"/><stop offset=".523" stop-color="#ecf3fb"/><stop offset=".674" stop-color="#dceaf8"/><stop offset=".709" stop-color="#bad7f2"/><stop offset=".746" stop-color="#4292dc"/><stop offset=".789" stop-color="#4976d8"/><stop offset=".865" stop-color="#5b68d5"/><stop offset=".900" stop-color="#6a5bcc"/><stop offset=".936" stop-color="#675fce"/><stop offset=".941" stop-color="#5b67d5"/><stop offset=".987" stop-color="#7051c5"/><stop offset=".994" stop-color="#813dac"/><stop offset="1.000" stop-color="#843aa6"/></linearGradient>
<linearGradient id="g200" x2="0" y2="1"><stop offset=".000" stop-color="#edf4fb"/><stop offset=".343" stop-color="#ecf3fb"/><stop offset=".494" stop-color="#e3eef9"/><stop offset=".529" stop-color="#bad7f2"/><stop offset=".572" stop-color="#427dd9"/><stop offset=".623" stop-color="#5969d5"/><stop offset=".709" stop-color="#6163d2"/><stop offset=".745" stop-color="#6d56c8"/><stop offset=".780" stop-color="#526fd7"/><stop offset=".932" stop-color="#3b85d9"/><stop offset=".987" stop-color="#596ad5"/><stop offset=".994" stop-color="#813dac"/><stop offset="1.000" stop-color="#843aa6"/></linearGradient>
<linearGradient id="g201" x2="0" y2="1"><stop offset=".000" stop-color="#edf4fb"/><stop offset=".396" stop-color="#ecf3fb"/><stop offset=".547" stop-color="#e1edf9"/><stop offset=".582" stop-color="#bad7f2"/><stop offset=".622" stop-color="#3d81d9"/><stop offset=".671" stop-color="#596ad6"/><stop offset=".753" stop-color="#6362d1"/><stop offset=".788" stop-color="#6e55c8"/><stop offset=".823" stop-color="#4e72d8"/><stop offset=".932" stop-color="#3c89da"/><stop offset=".987" stop-color="#5969d5"/><stop offset=".994" stop-color="#813dac"/><stop offset="1.000" stop-color="#843aa6"/></linearGradient>
<linearGradient id="g202" x2="0" y2="1"><stop offset=".000" stop-color="#edf4fb"/><stop offset=".426" stop-color="#ecf3fb"/><stop offset=".577" stop-color="#dfecf8"/><stop offset=".612" stop-color="#bad7f2"/><stop offset=".656" stop-color="#3d8bda"/><stop offset=".708" stop-color="#4e72d8"/><stop offset=".796" stop-color="#5d66d4"/><stop offset=".832" stop-color="#6b59ca"/><stop offset=".867" stop-color="#4e71d8"/><stop offset=".932" stop-color="#3b87d9"/><stop offset=".987" stop-color="#5969d5"/><stop offset=".994" stop-color="#813dac"/><stop offset="1.000" stop-color="#843aa6"/></linearGradient>
<linearGradient id="g203" x2="0" y2="1"><stop offset=".000" stop-color="#edf4fb"/><stop offset=".450" stop-color="#ecf3fb"/><stop offset=".601" stop-color="#ddebf8"/><stop offset=".636" stop-color="#bad7f2"/><stop offset=".679" stop-color="#3e8ddb"/><stop offset=".731" stop-color="#4e72d8"/><stop offset=".819" stop-color="#5f64d3"/><stop offset=".854" stop-color="#6c57c9"/><stop offset=".889" stop-color="#685ecd"/><stop offset=".932" stop-color="#5d66d4"/><stop offset=".987" stop-color="#7151c4"/><stop offset=".994" stop-color="#813dac"/><stop offset="1.000" stop-color="#843aa6"/></linearGradient>
<linearGradient id="g204" x2="0" y2="1"><stop offset=".000" stop-color="#edf4fb"/><stop offset=".470" stop-color="#ecf3fb"/><stop offset=".621" stop-color="#dceaf8"/><stop offset=".656" stop-color="#bad7f2"/><stop offset=".698" stop-color="#4293dc"/><stop offset=".748" stop-color="#4976d8"/><stop offset=".834" stop-color="#5d66d4"/><stop offset=".869" stop-color="#6b59cb"/><stop offset=".904" stop-color="#695dcd"/><stop offset=".932" stop-color="#5e66d4"/><stop offset=".987" stop-color="#7150c4"/><stop offset=".994" stop-color="#813dac"/><stop offset="1.000" stop-color="#843aa6"/></linearGradient>
<linearGradient id="g205" x2="0" y2="1"><stop offset=".000" stop-color="#edf4fb"/><stop offset=".488" stop-color="#ecf3fb"/><stop offset=".639" stop-color="#dceaf8"/><stop offset=".674" stop-color="#bad7f2"/><stop offset=".715" stop-color="#4191db"/><stop offset=".765" stop-color="#4e73d8"/><stop offset=".849" stop-color="#6262d2"/><stop offset=".884" stop-color="#6e55c8"/><stop offset=".919" stop-color="#685ecd"/><stop offset=".932" stop-color="#5969d5"/><stop offset=".987" stop-color="#7150c4"/><stop offset=".994" stop-color="#813dac"/><stop offset="1.000" stop-color="#843aa6"/></linearGradient>
<linearGradient id="g206" x2="0" y2="1"><stop offset=".000" stop-color="#edf4fb"/><stop offset=".504" stop-color="#ecf3fb"/><stop offset=".655" stop-color="#dceaf8"/><stop offset=".690" stop-color="#bad7f2"/><stop offset=".730" stop-color="#4394dc"/><stop offset=".777" stop-color="#4b75d8"/><stop offset=".859" stop-color="#6263d2"/><stop offset=".894" stop-color="#6e55c8"/><stop offset=".929" stop-color="#675ece"/><stop offset=".934" stop-color="#5969d5"/><stop offset=".987" stop-color="#7150c4"/><stop offset=".994" stop-color="#813dac"/><stop offset="1.000" stop-color="#843aa6"/></linearGradient>
<linearGradient id="g207" x2="0" y2="1"><stop offset=".000" stop-color="#edf4fb"/><stop offset=".519" stop-color="#ecf3fb"/><stop offset=".670" stop-color="#dceaf8"/><stop offset=".705" stop-color="#bad7f2"/><stop offset=".743" stop-color="#4999dd"/><stop offset=".788" stop-color="#4779d8"/><stop offset=".865" stop-color="#5f65d3"/><stop offset=".900" stop-color="#6c57c9"/><stop offset=".935" stop-color="#695ccd"/><stop offset=".940" stop-color="#5a69d5"/><stop offset=".987" stop-color="#7150c3"/><stop offset=".994" stop-color="#813dac"/><stop offset="1.000" stop-color="#843aa6"/></linearGradient>
<linearGradient id="g208" x2="0" y2="1"><stop offset=".000" stop-color="#edf4fb"/><stop offset=".533" stop-color="#ecf3fb"/><stop offset=".684" stop-color="#dceaf8"/><stop offset=".719" stop-color="#bad7f2"/><stop offset=".755" stop-color="#539fdf"/><stop offset=".797" stop-color="#407fd9"/><stop offset=".871" stop-color="#5a69d5"/><stop offset=".907" stop-color="#6a5bcc"/><stop offset=".942" stop-color="#685ecd"/><stop offset=".947" stop-color="#5e65d3"/><stop offset=".987" stop-color="#724fc3"/><stop offset=".994" stop-color="#813dac"/><stop offset="1.000" stop-color="#843aa6"/></linearGradient>
<linearGradient id="g209" x2="0" y2="1"><stop offset=".000" stop-color="#edf4fb"/><stop offset=".546" stop-color="#ecf3fb"/><stop offset=".697" stop-color="#dceaf8"/><stop offset=".732" stop-color="#bad7f2"/><stop offset=".766" stop-color="#4f9ddf"/><stop offset=".807" stop-color="#437cd9"/><stop offset=".878" stop-color="#5e65d3"/><stop offset=".913" stop-color="#6c58ca"/><stop offset=".948" stop-color="#6a5acb"/><stop offset=".953" stop-color="#5f65d3"/><stop offset=".987" stop-color="#724fc3"/><stop offset=".994" stop-color="#813dac"/><stop offset="1.000" stop-color="#843aa6"/></linearGradient>
<linearGradient id="g210" x2="0" y2="1"><stop offset=".000" stop-color="#edf4fb"/><stop offset=".559" stop-color="#ecf3fb"/><stop offset=".710" stop-color="#dceaf8"/><stop offset=".745" stop-color="#bad7f2"/><stop offset=".752" stop-color="#4b9ade"/><stop offset=".759" stop-color="#4778d8"/><stop offset=".781" stop-color="#6361d1"/><stop offset=".816" stop-color="#6e54c7"/><stop offset=".851" stop-color="#685ece"/><stop offset=".932" stop-color="#5b68d5"/><stop offset=".987" stop-color="#724fc3"/><stop offset=".994" stop-color="#813dac"/><stop offset="1.000" stop-color="#843aa6"/></linearGradient>
<linearGradient id="g211" x2="0" y2="1"><stop offset=".000" stop-color="#edf4fb"/><stop offset=".288" stop-color="#ecf3fb"/><stop offset=".439" stop-color="#e6f0fa"/><stop offset=".475" stop-color="#bad7f2"/><stop offset=".524" stop-color="#3b84d9"/><stop offset=".584" stop-color="#4e71d8"/><stop offset=".684" stop-color="#5969d5"/><stop offset=".720" stop-color="#6a5bcc"/><stop offset=".755" stop-color="#5070d7"/><stop offset=".932" stop-color="#3b85d9"/><stop offset=".987" stop-color="#5c67d4"/><stop offset=".994" stop-color="#813dac"/><stop offset="1.000" stop-color="#843aa6"/></linearGradient>
<linearGradient id="g212" x2="0" y2="1"><stop offset=".000" stop-color="#edf4fb"/><stop offset=".364" stop-color="#ecf3fb"/><stop offset=".515" stop-color="#e2eef9"/><stop offset=".551" stop-color="#bad7f2"/><stop offset=".605" stop-color="#3c89da"/><stop offset=".671" stop-color="#4c74d8"/><stop offset=".779" stop-color="#5969d5"/><stop offset=".815" stop-color="#6a5bcc"/><stop offset=".850" stop-color="#5170d7"/><stop offset=".932" stop-color="#3b86d9"/><stop offset=".987" stop-color="#5d67d4"/><stop offset=".994" stop-color="#813dac"/><stop offset="1.000" stop-color="#843aa6"/></linearGradient>
<linearGradient id="g213" x2="0" y2="1"><stop offset=".000" stop-color="#edf4fb"/><stop offset=".411" stop-color="#ecf3fb"/><stop offset=".562" stop-color="#e0ecf8"/><stop offset=".597" stop-color="#bad7f2"/><stop offset=".651" stop-color="#3d8bda"/><stop offset=".716" stop-color="#4c74d8"/><stop offset=".823" stop-color="#5c67d4"/><stop offset=".858" stop-color="#6b59ca"/><stop offset=".893" stop-color="#695dcd"/><stop offset=".932" stop-color="#6064d3"/><stop offset=".987" stop-color="#724fc2"/><stop offset=".994" stop-color="#813dac"/><stop offset="1.000" stop-color="#843aa6"/></linearGradient>
<linearGradient id="g214" x2="0" y2="1"><stop offset=".000" stop-color="#edf4fb"/><stop offset=".447" stop-color="#ecf3fb"/><stop offset=".598" stop-color="#deebf8"/><stop offset=".633" stop-color="#bad7f2"/><stop offset=".685" stop-color="#3f8edb"/><stop offset=".747" stop-color="#4a75d8"/><stop offset=".851" stop-color="#5d66d4"/><stop offset=".886" stop-color="#6c58ca"/><stop offset=".921" stop-color="#695dcd"/><stop offset=".932" stop-color="#5b67d5"/><stop offset=".987" stop-color="#734ec2"/><stop offset=".994" stop-color="#813dac"/><stop offset="1.000" stop-color="#843aa6"/></linearGradient>
<linearGradient id="g215" x2="0" y2="1"><stop offset=".000" stop-color="#edf4fb"/><stop offset=".478" stop-color="#ecf3fb"/><stop offset=".629" stop-color="#dceaf8"/><stop offset=".664" stop-color="#bad7f2"/><stop offset=".713" stop-color="#4192dc"/><stop offset=".771" stop-color="#4777d8"/><stop offset=".869" stop-color="#5d66d4"/><stop offset=".904" stop-color="#6c58ca"/><stop offset=".939" stop-color="#6a5bcc"/><stop offset=".944" stop-color="#6064d3"/><stop offset=".987" stop-color="#734ec2"/><stop offset=".994" stop-color="#813dac"/><stop offset="1.000" stop-color="#843aa6"/></linearGradient>
<linearGradient id="g216" x2="0" y2="1"><stop offset=".000" stop-color="#edf4fb"/><stop offset=".505" stop-color="#ecf3fb"/><stop offset=".656" stop-color="#dceaf8"/><stop offset=".692" stop-color="#bad7f2"/><stop offset=".730" stop-color="#4090db"/><stop offset=".776" stop-color="#4c74d8"/><stop offset=".855" stop-color="#6262d2"/><stop offset=".891" stop-color="#6e54c7"/><stop offset=".926" stop-color="#6a5acb"/><stop offset=".932" stop-color="#5d66d4"/><stop offset=".987" stop-color="#734ec2"/><stop offset=".994" stop-color="#813dac"/><stop offset="1.000" stop-color="#843aa6"/></linearGradient>
<linearGradient id="g217" x2="0" y2="1"><stop offset=".000" stop-color="#edf4fb"/><stop offset=".463" stop-color="#ecf3fb"/><stop offset=".614" stop-color="#ddebf8"/><stop offset=".650" stop-color="#bad7f2"/><stop offset=".702" stop-color="#3d8cda"/><stop offset=".765" stop-color="#4976d8"/><stop offset=".870" stop-color="#5a68d5"/><stop offset=".905" stop-color="#6a5acb"/><stop offset=".941" stop-color="#536ed7"/><stop offset=".946" stop-color="#3e81d9"/><stop offset=".987" stop-color="#5e65d4"/><stop offset=".994" stop-color="#813dac"/><stop offset="1.000" stop-color="#843aa6"/></linearGradient>
<linearGradient id="g218" x2="0" y2="1"><stop offset=".000" stop-color="#edf4fb"/><stop offset=".512" stop-color="#ecf3fb"/><stop offset=".663" stop-color="#dceaf8"/><stop offset=".698" stop-color="#bad7f2"/><stop offset=".739" stop-color="#3d8cda"/><stop offset=".788" stop-color="#4b74d8"/><stop offset=".872" stop-color="#5e65d4"/><stop offset=".907" stop-color="#6c57c9"/><stop offset=".942" stop-color="#546dd7"/><stop offset=".947" stop-color="#3c82d9"/><stop offset=".987" stop-color="#5e65d3"/><stop offset=".994" stop-color="#813dac"/><stop offset="1.000" stop-color="#843aa6"/></linearGradient>
<linearGradient id="g219" x2="0" y2="1"><stop offset=".000" stop-color="#edf4fb"/><stop offset=".533" stop-color="#ecf3fb"/><stop offset=".684" stop-color="#dceaf8"/><stop offset=".719" stop-color="#bad7f2"/><stop offset=".754" stop-color="#4192dc"/><stop offset=".797" stop-color="#4779d8"/><stop offset=".870" stop-color="#5b67d5"/><stop offset=".905" stop-color="#6b59cb"/><stop offset=".941" stop-color="#5070d7"/><stop offset=".946" stop-color="#3b85d9"/><stop offset=".987" stop-color="#5f65d3"/><stop offset=".994" stop-color="#813dac"/><stop offset="1.000" stop-color="#843aa6"/></linearGradient>
<linearGradient id="g220" x2="0" y2="1"><stop offset=".000" stop-color="#edf4fb"/><stop offset=".548" stop-color="#ecf3fb"/><stop offset=".699" stop-color="#dceaf8"/><stop offset=".735" stop-color="#bad7f2"/><stop offset=".764" stop-color="#4191dc"/><stop offset=".799" stop-color="#4977d8"/><stop offset=".861" stop-color="#5f65d3"/><stop offset=".896" stop-color="#6d56c9"/><stop offset=".932" stop-color="#6b59cb"/><stop offset=".937" stop-color="#6362d1"/><stop offset=".987" stop-color="#734dc1"/><stop offset=".994" stop-color="#813dac"/><stop offset="1.000" stop-color="#843aa6"/></linearGradient>
<linearGradient id="g221" x2="0" y2="1"><stop offset=".000" stop-color="#edf4fb"/><stop offset=".561" stop-color="#ecf3fb"/><stop offset=".712" stop-color="#dceaf8"/><stop offset=".747" stop-color="#bad7f2"/><stop offset=".767" stop-color="#4696dd"/><stop offset=".790" stop-color="#447ad9"/><stop offset=".835" stop-color="#5d66d4"/><stop offset=".870" stop-color="#6c58ca"/><stop offset=".906" stop-color="#6a5acb"/><stop offset=".932" stop-color="#6362d1"/><stop offset=".987" stop-color="#744dc1"/><stop offset=".994" stop-color="#813dac"/><stop offset="1.000" stop-color="#843aa6"/></linearGradient>
<linearGradient id="g222" x2="0" y2="1"><stop offset=".000" stop-color="#edf4fb"/><stop offset=".486" stop-color="#ecf3fb"/><stop offset=".637" stop-color="#dceaf8"/><stop offset=".673" stop-color="#bad7f2"/><stop offset=".707" stop-color="#3b88da"/><stop offset=".748" stop-color="#4e72d8"/><stop offset=".819" stop-color="#6163d2"/><stop offset=".854" stop-color="#6e55c8"/><stop offset=".890" stop-color="#536ed7"/><stop offset=".932" stop-color="#3c82d9"/><stop offset=".987" stop-color="#5f64d3"/><stop offset=".994" stop-color="#813dac"/><stop offset="1.000" stop-color="#843aa6"/></linearGradient>
<linearGradient id="g223" x2="0" y2="1"><stop offset=".000" stop-color="#edf4fb"/><stop offset=".514" stop-color="#ecf3fb"/><stop offset=".665" stop-color="#dceaf8"/><stop offset=".701" stop-color="#bad7f2"/><stop offset=".734" stop-color="#3f8edb"/><stop offset=".774" stop-color="#4977d8"/><stop offset=".844" stop-color="#5e66d4"/><stop offset=".879" stop-color="#6c57c9"/><stop offset=".915" stop-color="#5070d7"/><stop offset=".932" stop-color="#3c83d9"/><stop offset=".987" stop-color="#6064d3"/><stop offset=".994" stop-color="#813dac"/><stop offset="1.000" stop-color="#843aa6"/></linearGradient>
<linearGradient id="g224" x2="0" y2="1"><stop offset=".000" stop-color="#edf4fb"/><stop offset=".529" stop-color="#ecf3fb"/><stop offset=".680" stop-color="#dceaf8"/><stop offset=".715" stop-color="#bad7f2"/><stop offset=".749" stop-color="#4090db"/><stop offset=".789" stop-color="#4977d8"/><stop offset=".859" stop-color="#5f64d3"/><stop offset=".895" stop-color="#6d56c9"/><stop offset=".930" stop-color="#556cd6"/><stop offset=".935" stop-color="#3e80d9"/><stop offset=".987" stop-color="#6064d3"/><stop offset=".994" stop-color="#813dac"/><stop offset="1.000" stop-color="#843aa6"/></linearGradient>
<linearGradient id="g225" x2="0" y2="1"><stop offset=".000" stop-color="#edf4fb"/><stop offset=".540" stop-color="#ecf3fb"/><stop offset=".691" stop-color="#dceaf8"/><stop offset=".726" stop-color="#bad7f2"/><stop offset=".758" stop-color="#4596dd"/><stop offset=".797" stop-color="#437bd9"/><stop offset=".865" stop-color="#5d67d4"/><stop offset=".900" stop-color="#6c58ca"/><stop offset=".936" stop-color="#6a5bcc"/><stop offset=".941" stop-color="#6163d2"/><stop offset=".987" stop-color="#744cc0"/><stop offset=".994" stop-color="#813dac"/><stop offset="1.000" stop-color="#843aa6"/></linearGradient>
<linearGradient id="g226" x2="0" y2="1"><stop offset=".000" stop-color="#edf4fb"/><stop offset=".549" stop-color="#ecf3fb"/><stop offset=".700" stop-color="#dceaf8"/><stop offset=".735" stop-color="#bad7f2"/><stop offset=".767" stop-color="#4495dc"/><stop offset=".804" stop-color="#4779d9"/><stop offset=".871" stop-color="#6064d3"/><stop offset=".906" stop-color="#6e55c8"/><stop offset=".941" stop-color="#6d57c9"/><stop offset=".946" stop-color="#6c57c9"/><stop offset=".987" stop-color="#7b44b7"/><stop offset=".994" stop-color="#813dac"/><stop offset="1.000" stop-color="#843aa6"/></linearGradient>
<linearGradient id="g227" x2="0" y2="1"><stop offset=".000" stop-color="#edf4fb"/><stop offset=".557" stop-color="#ecf3fb"/><stop offset=".708" stop-color="#dceaf8"/><stop offset=".743" stop-color="#bad7f2"/><stop offset=".775" stop-color="#4f9ddf"/><stop offset=".814" stop-color="#3e81d9"/><stop offset=".881" stop-color="#5969d5"/><stop offset=".916" stop-color="#6a5acb"/><stop offset=".952" stop-color="#6c57c9"/><stop offset=".957" stop-color="#6b59cb"/><stop offset=".987" stop-color="#7b44b7"/><stop offset=".994" stop-color="#813dac"/><stop offset="1.000" stop-color="#843aa6"/></linearGradient>
<linearGradient id="g228" x2="0" y2="1"><stop offset=".000" stop-color="#edf4fb"/><stop offset=".564" stop-color="#ecf3fb"/><stop offset=".715" stop-color="#dceaf8"/><stop offset=".751" stop-color="#bad7f2"/><stop offset=".784" stop-color="#4e9cdf"/><stop offset=".824" stop-color="#3e7fd9"/><stop offset=".895" stop-color="#5c67d4"/><stop offset=".930" stop-color="#6c58ca"/><stop offset=".965" stop-color="#6e55c8"/><stop offset=".970" stop-color="#6c58ca"/><stop offset=".987" stop-color="#7b44b7"/><stop offset=".994" stop-color="#813dac"/><stop offset="1.000" stop-color="#843aa6"/></linearGradient>
<linearGradient id="g229" x2="0" y2="1"><stop offset=".000" stop-color="#edf4fb"/><stop offset=".571" stop-color="#ecf3fb"/><stop offset=".722" stop-color="#dceaf8"/><stop offset=".757" stop-color="#bad7f2"/><stop offset=".790" stop-color="#4a99de"/><stop offset=".829" stop-color="#437bd9"/><stop offset=".898" stop-color="#6163d2"/><stop offset=".933" stop-color="#6e54c7"/><stop offset=".968" stop-color="#6d56c9"/><stop offset=".973" stop-color="#695ccc"/><stop offset=".987" stop-color="#7b44b7"/><stop offset=".994" stop-color="#813dac"/><stop offset="1.000" stop-color="#843aa6"/></linearGradient>
<linearGradient id="g230" x2="0" y2="1"><stop offset=".000" stop-color="#edf4fb"/><stop offset=".337" stop-color="#ecf3fb"/><stop offset=".488" stop-color="#e3eef9"/><stop offset=".524" stop-color="#bad7f2"/><stop offset=".579" stop-color="#427dd9"/><stop offset=".675" stop-color="#526fd7"/><stop offset=".809" stop-color="#5e66d4"/><stop offset=".844" stop-color="#6c57c9"/><stop offset=".879" stop-color="#5969d5"/><stop offset=".932" stop-color="#4c74d8"/><stop offset=".987" stop-color="#6a5acb"/><stop offset=".994" stop-color="#813dac"/><stop offset="1.000" stop-color="#843aa6"/></linearGradient>
<linearGradient id="g231" x2="0" y2="1"><stop offset=".000" stop-color="#edf4fb"/><stop offset=".413" stop-color="#ecf3fb"/><stop offset=".564" stop-color="#dfecf8"/><stop offset=".599" stop-color="#bad7f2"/><stop offset=".642" stop-color="#3b83d9"/><stop offset=".694" stop-color="#4c73d8"/><stop offset=".781" stop-color="#5b68d5"/><stop offset=".816" stop-color="#6b59cb"/><stop offset=".852" stop-color="#5969d5"/><stop offset=".932" stop-color="#4e71d8"/><stop offset=".987" stop-color="#6a5acb"/><stop offset=".994" stop-color="#813dac"/><stop offset="1.000" stop-color="#843aa6"/></linearGradient>
<linearGradient id="g232" x2="0" y2="1"><stop offset=".000" stop-color="#edf4fb"/><stop offset=".462" stop-color="#ecf3fb"/><stop offset=".613" stop-color="#ddebf8"/><stop offset=".648" stop-color="#bad7f2"/><stop offset=".687" stop-color="#3c8ada"/><stop offset=".735" stop-color="#4778d8"/><stop offset=".816" stop-color="#596ad5"/><stop offset=".851" stop-color="#6a5acc"/><stop offset=".886" stop-color="#5969d5"/><stop offset=".932" stop-color="#4b75d8"/><stop offset=".987" stop-color="#6a5acb"/><stop offset=".994" stop-color="#813dac"/><stop offset="1.000" stop-color="#843aa6"/></linearGradient>
<linearGradient id="g233" x2="0" y2="1"><stop offset=".000" stop-color="#edf4fb"/><stop offset=".494" stop-color="#ecf3fb"/><stop offset=".645" stop-color="#dceaf8"/><stop offset=".680" stop-color="#bad7f2"/><stop offset=".717" stop-color="#3c8ada"/><stop offset=".762" stop-color="#4976d8"/><stop offset=".839" stop-color="#5d66d4"/><stop offset=".874" stop-color="#6c57c9"/><stop offset=".909" stop-color="#6e55c8"/><stop offset=".932" stop-color="#6c57c9"/><stop offset=".987" stop-color="#7b44b7"/><stop offset=".994" stop-color="#813dac"/><stop offset="1.000" stop-color="#843aa6"/></linearGradient>
<linearGradient id="g234" x2="0" y2="1"><stop offset=".000" stop-color="#edf4fb"/><stop offset=".520" stop-color="#ecf3fb"/><stop offset=".671" stop-color="#dceaf8"/><stop offset=".706" stop-color="#bad7f2"/><stop offset=".740" stop-color="#3e8ddb"/><stop offset=".781" stop-color="#4777d8"/><stop offset=".853" stop-color="#5e65d4"/><stop offset=".888" stop-color="#6d56c9"/><stop offset=".924" stop-color="#6c58ca"/><stop offset=".932" stop-color="#6c57c9"/><stop offset=".987" stop-color="#7b44b7"/><stop offset=".994" stop-color="#813dac"/><stop offset="1.000" stop-color="#843aa6"/></linearGradient>
<linearGradient id="g235" x2="0" y2="1"><stop offset=".000" stop-color="#edf4fb"/><stop offset=".463" stop-color="#ecf3fb"/><stop offset=".614" stop-color="#ddebf8"/><stop offset=".650" stop-color="#bad7f2"/><stop offset=".690" stop-color="#3c8bda"/><stop offset=".738" stop-color="#4779d8"/><stop offset=".821" stop-color="#5969d5"/><stop offset=".856" stop-color="#6a5acb"/><stop offset=".891" stop-color="#596ad6"/><stop offset=".932" stop-color="#4e72d8"/><stop offset=".987" stop-color="#6a5acb"/><stop offset=".994" stop-color="#813dac"/><stop offset="1.000" stop-color="#843aa6"/></linearGradient>
<linearGradient id="g236" x2="0" y2="1"><stop offset=".000" stop-color="#edf4fb"/><stop offset=".505" stop-color="#ecf3fb"/><stop offset=".656" stop-color="#dceaf8"/><stop offset=".691" stop-color="#bad7f2"/><stop offset=".725" stop-color="#3d8cda"/><stop offset=".766" stop-color="#4779d8"/><stop offset=".838" stop-color="#5b68d5"/><stop offset=".873" stop-color="#6b59ca"/><stop offset=".909" stop-color="#576ad6"/><stop offset=".932" stop-color="#5071d8"/><stop offset=".987" stop-color="#6a5acb"/><stop offset=".994" stop-color="#813dac"/><stop offset="1.000" stop-color="#843aa6"/></linearGradient>
<linearGradient id="g237" x2="0" y2="1"><stop offset=".000" stop-color="#edf4fb"/><stop offset=".532" stop-color="#ecf3fb"/><stop offset=".683" stop-color="#dceaf8"/><stop offset=".718" stop-color="#bad7f2"/><stop offset=".752" stop-color="#3c8ada"/><stop offset=".792" stop-color="#4b75d8"/><stop offset=".863" stop-color="#6163d2"/><stop offset=".898" stop-color="#6e54c7"/><stop offset=".933" stop-color="#576ad6"/><stop offset=".938" stop-color="#4b74d8"/><stop offset=".987" stop-color="#6a5acb"/><stop offset=".994" stop-color="#813dac"/><stop offset="1.000" stop-color="#843aa6"/></linearGradient>
<linearGradient id="g238" x2="0" y2="1"><stop offset=".000" stop-color="#edf4fb"/><stop offset=".549" stop-color="#ecf3fb"/><stop offset=".700" stop-color="#dceaf8"/><stop offset=".736" stop-color="#bad7f2"/><stop offset=".759" stop-color="#4393dc"/><stop offset=".786" stop-color="#407dd9"/><stop offset=".837" stop-color="#5a69d5"/><stop offset=".872" stop-color="#6b59cb"/><stop offset=".907" stop-color="#6c58ca"/><stop offset=".932" stop-color="#6a5acc"/><stop offset=".987" stop-color="#7b44b7"/><stop offset=".994" stop-color="#813dac"/><stop offset="1.000" stop-color="#843aa6"/></linearGradient>
<linearGradient id="g239" x2="0" y2="1"><stop offset=".000" stop-color="#edf4fb"/><stop offset=".564" stop-color="#ecf3fb"/><stop offset=".715" stop-color="#dceaf8"/><stop offset=".750" stop-color="#bad7f2"/><stop offset=".763" stop-color="#4090db"/><stop offset=".778" stop-color="#4778d8"/><stop offset=".811" stop-color="#6163d2"/><stop offset=".847" stop-color="#6e54c7"/><stop offset=".882" stop-color="#6c58ca"/><stop offset=".932" stop-color="#6a5bcc"/><stop offset=".987" stop-color="#7b44b7"/><stop offset=".994" stop-color="#813dac"/><stop offset="1.000" stop-color="#843aa6"/></linearGradient>
<linearGradient id="g240" x2="0" y2="1"><stop offset=".000" stop-color="#edf4fb"/><stop offset=".466" stop-color="#ecf3fb"/><stop offset=".617" stop-color="#ddeaf8"/><stop offset=".653" stop-color="#bad7f2"/><stop offset=".688" stop-color="#3b84d9"/><stop offset=".729" stop-color="#4976d8"/><stop offset=".802" stop-color="#5969d5"/><stop offset=".837" stop-color="#6b5acb"/><stop offset=".873" stop-color="#576bd6"/><stop offset=".932" stop-color="#4c74d8"/><stop offset=".987" stop-color="#6a5acb"/><stop offset=".994" stop-color="#813dac"/><stop offset="1.000" stop-color="#843aa6"/></linearGradient>
<linearGradient id="g241" x2="0" y2="1"><stop offset=".000" stop-color="#edf4fb"/><stop offset=".500" stop-color="#ecf3fb"/><stop offset=".651" stop-color="#dceaf8"/><stop offset=".687" stop-color="#bad7f2"/><stop offset=".720" stop-color="#3b84d9"/><stop offset=".760" stop-color="#4c74d8"/><stop offset=".831" stop-color="#5f65d3"/><stop offset=".866" stop-color="#6d56c8"/><stop offset=".901" stop-color="#5b68d5"/><stop offset=".932" stop-color="#4e73d8"/><stop offset=".987" stop-color="#6a5acb"/><stop offset=".994" stop-color="#813dac"/><stop offset="1.000" stop-color="#843aa6"/></linearGradient>
<linearGradient id="g242" x2="0" y2="1"><stop offset=".000" stop-color="#edf4fb"/><stop offset=".521" stop-color="#ecf3fb"/><stop offset=".672" stop-color="#dceaf8"/><stop offset=".707" stop-color="#bad7f2"/><stop offset=".743" stop-color="#3b88da"/><stop offset=".785" stop-color="#4a75d8"/><stop offset=".859" stop-color="#5f64d3"/><stop offset=".895" stop-color="#6e55c8"/><stop offset=".930" stop-color="#6b58ca"/><stop offset=".935" stop-color="#6a5acb"/><stop offset=".987" stop-color="#7b44b7"/><stop offset=".994" stop-color="#813dac"/><stop offset="1.000" stop-color="#843aa6"/></linearGradient>
<linearGradient id="g243" x2="0" y2="1"><stop offset=".000" stop-color="#edf4fb"/><stop offset=".537" stop-color="#ecf3fb"/><stop offset=".688" stop-color="#dceaf8"/><stop offset=".724" stop-color="#bad7f2"/><stop offset=".757" stop-color="#3c8ada"/><stop offset=".797" stop-color="#4976d8"/><stop offset=".867" stop-color="#6164d2"/><stop offset=".902" stop-color="#6e54c7"/><stop offset=".937" stop-color="#6c58ca"/><stop offset=".942" stop-color="#6a5acc"/><stop offset=".987" stop-color="#7b44b7"/><stop offset=".994" stop-color="#813dac"/><stop offset="1.000" stop-color="#843aa6"/></linearGradient>
<linearGradient id="g244" x2="0" y2="1"><stop offset=".000" stop-color="#edf4fb"/><stop offset=".551" stop-color="#ecf3fb"/><stop offset=".702" stop-color="#dceaf8"/><stop offset=".737" stop-color="#bad7f2"/><stop offset=".768" stop-color="#4292dc"/><stop offset=".804" stop-color="#427dd9"/><stop offset=".869" stop-color="#5b67d4"/><stop offset=".904" stop-color="#6c58ca"/><stop offset=".939" stop-color="#6c57c9"/><stop offset=".944" stop-color="#6b59cb"/><stop offset=".987" stop-color="#7b44b7"/><stop offset=".994" stop-color="#813dac"/><stop offset="1.000" stop-color="#843aa6"/></linearGradient>
<linearGradient id="g245" x2="0" y2="1"><stop offset=".000" stop-color="#edf4fb"/><stop offset=".563" stop-color="#ecf3fb"/><stop offset=".714" stop-color="#dceaf8"/><stop offset=".749" stop-color="#bad7f2"/><stop offset=".769" stop-color="#4a99de"/><stop offset=".792" stop-color="#3c83d9"/><stop offset=".837" stop-color="#576bd6"/><stop offset=".872" stop-color="#6a5bcc"/><stop offset=".908" stop-color="#6c58ca"/><stop offset=".932" stop-color="#6c57c9"/><stop offset=".987" stop-color="#7b44b7"/><stop offset=".994" stop-color="#813dac"/><stop offset="1.000" stop-color="#843aa6"/></linearGradient>
<linearGradient id="g246" x2="0" y2="1"><stop offset=".000" stop-color="#edf4fb"/><stop offset=".382" stop-color="#ecf3fb"/><stop offset=".533" stop-color="#e1edf9"/><stop offset=".569" stop-color="#bad7f2"/><stop offset=".623" stop-color="#3c82d9"/><stop offset=".689" stop-color="#4976d8"/><stop offset=".797" stop-color="#576ad6"/><stop offset=".832" stop-color="#6a5acb"/><stop offset=".867" stop-color="#5b68d5"/><stop offset=".932" stop-color="#4976d8"/><stop offset=".987" stop-color="#6a5acb"/><stop offset=".994" stop-color="#813dac"/><stop offset="1.000" stop-color="#843aa6"/></linearGradient>
<linearGradient id="g247" x2="0" y2="1"><stop offset=".000" stop-color="#edf4fb"/><stop offset=".436" stop-color="#ecf3fb"/><stop offset=".587" stop-color="#deebf8"/><stop offset=".623" stop-color="#bad7f2"/><stop offset=".665" stop-color="#3e7fd9"/><stop offset=".715" stop-color="#5071d8"/><stop offset=".801" stop-color="#6163d2"/><stop offset=".836" stop-color="#6e54c7"/><stop offset=".872" stop-color="#5969d5"/><stop offset=".932" stop-color="#4e73d8"/><stop offset=".987" stop-color="#6a5acb"/><stop offset=".994" stop-color="#813dac"/><stop offset="1.000" stop-color="#843aa6"/></linearGradient>
<linearGradient id="g248" x2="0" y2="1"><stop offset=".000" stop-color="#edf4fb"/><stop offset=".464" stop-color="#ecf3fb"/><stop offset=".615" stop-color="#ddebf8"/><stop offset=".650" stop-color="#bad7f2"/><stop offset=".694" stop-color="#3d8cda"/><stop offset=".746" stop-color="#427cd9"/><stop offset=".835" stop-color="#576ad6"/><stop offset=".870" stop-color="#6a5acb"/><stop offset=".905" stop-color="#576bd6"/><stop offset=".932" stop-color="#4e72d8"/><stop offset=".987" stop-color="#6a5acb"/><stop offset=".994" stop-color="#813dac"/><stop offset="1.000" stop-color="#843aa6"/></linearGradient>
<linearGradient id="g249" x2="0" y2="1"><stop offset=".000" stop-color="#edf4fb"/><stop offset=".485" stop-color="#ecf3fb"/><stop offset=".636" stop-color="#dceaf8"/><stop offset=".671" stop-color="#bad7f2"/><stop offset=".718" stop-color="#4090db"/><stop offset=".773" stop-color="#407ed9"/><stop offset=".866" stop-color="#576ad6"/><stop offset=".901" stop-color="#6a5acb"/><stop offset=".936" stop-color="#6c58ca"/><stop offset=".941" stop-color="#6c58ca"/><stop offset=".987" stop-color="#7b44b7"/><stop offset=".994" stop-color="#813dac"/><stop offset="1.000" stop-color="#843aa6"/></linearGradient>
<linearGradient id="g250" x2="0" y2="1"><stop offset=".000" stop-color="#edf4fb"/><stop offset=".503" stop-color="#ecf3fb"/><stop offset=".654" stop-color="#dceaf8"/><stop offset=".689" stop-color="#bad7f2"/><stop offset=".732" stop-color="#3e8ddb"/><stop offset=".784" stop-color="#4579d8"/><stop offset=".872" stop-color="#5f65d3"/><stop offset=".908" stop-color="#6e55c8"/><stop offset=".943" stop-color="#6c58ca"/><stop offset=".948" stop-color="#6c57c9"/><stop offset=".987" stop-color="#7b44b7"/><stop offset=".994" stop-color="#813dac"/><stop offset="1.000" stop-color="#843aa6"/></linearGradient>
<linearGradient id="g251" x2="0" y2="1"><stop offset=".000" stop-color="#edf4fb"/><stop offset=".518" stop-color="#ecf3fb"/><stop offset=".669" stop-color="#dceaf8"/><stop offset=".705" stop-color="#bad7f2"/><stop offset=".746" stop-color="#4393dc"/><stop offset=".795" stop-color="#407ed9"/><stop offset=".879" stop-color="#5b67d4"/><stop offset=".914" stop-color="#6c57c9"/><stop offset=".950" stop-color="#6c57c9"/><stop offset=".955" stop-color="#6a5bcc"/><stop offset=".987" stop-color="#7b44b7"/><stop offset=".994" stop-color="#813dac"/><stop offset="1.000" stop-color="#843aa6"/></linearGradient>
<linearGradient id="g252" x2="0" y2="1"><stop offset=".000" stop-color="#edf4fb"/><stop offset=".532" stop-color="#ecf3fb"/><stop offset=".683" stop-color="#dceaf8"/><stop offset=".718" stop-color="#bad7f2"/><stop offset=".758" stop-color="#4797dd"/><stop offset=".807" stop-color="#3c82d9"/><stop offset=".889" stop-color="#5a69d5"/><stop offset=".924" stop-color="#6c58ca"/><stop offset=".959" stop-color="#6e55c8"/><stop offset=".964" stop-color="#6a5acb"/><stop offset=".987" stop-color="#7b44b7"/><stop offset=".994" stop-color="#813dac"/><stop offset="1.000" stop-color="#843aa6"/></linearGradient>
<linearGradient id="g253" x2="0" y2="1"><stop offset=".000" stop-color="#edf4fb"/><stop offset=".545" stop-color="#ecf3fb"/><stop offset=".696" stop-color="#dceaf8"/><stop offset=".731" stop-color="#bad7f2"/><stop offset=".771" stop-color="#4e9cdf"/><stop offset=".819" stop-color="#3b85d9"/><stop offset=".901" stop-color="#576bd6"/><stop offset=".936" stop-color="#6a5acb"/><stop offset=".971" stop-color="#6c58ca"/><stop offset=".976" stop-color="#6a5bcc"/><stop offset=".987" stop-color="#7b44b7"/><stop offset=".994" stop-color="#813dac"/><stop offset="1.000" stop-color="#843aa6"/></linearGradient>
<linearGradient id="g254" x2="0" y2="1"><stop offset=".000" stop-color="#edf4fb"/><stop offset=".557" stop-color="#ecf3fb"/><stop offset=".708" stop-color="#dceaf8"/><stop offset=".743" stop-color="#bad7f2"/><stop offset=".778" stop-color="#4e9cdf"/><stop offset=".820" stop-color="#3b85d9"/><stop offset=".894" stop-color="#5969d5"/><stop offset=".929" stop-color="#6b59ca"/><stop offset=".964" stop-color="#6e55c8"/><stop offset=".969" stop-color="#6a5bcc"/><stop offset=".987" stop-color="#7b44b7"/><stop offset=".994" stop-color="#813dac"/><stop offset="1.000" stop-color="#843aa6"/></linearGradient>
<linearGradient id="g255" x2="0" y2="1"><stop offset=".000" stop-color="#edf4fb"/><stop offset=".283" stop-color="#ecf3fb"/><stop offset=".434" stop-color="#e6f0fa"/><stop offset=".469" stop-color="#bad7f2"/><stop offset=".525" stop-color="#3e81d9"/><stop offset=".599" stop-color="#4777d8"/><stop offset=".715" stop-color="#576ad6"/><stop offset=".751" stop-color="#6b5acb"/><stop offset=".786" stop-color="#5b68d5"/><stop offset=".932" stop-color="#5071d7"/><stop offset=".987" stop-color="#6a5acb"/><stop offset=".994" stop-color="#813dac"/><stop offset="1.000" stop-color="#843aa6"/></linearGradient>
<linearGradient id="g256" x2="0" y2="1"><stop offset=".000" stop-color="#edf4fb"/><stop offset=".374" stop-color="#ecf3fb"/><stop offset=".525" stop-color="#e1edf9"/><stop offset=".560" stop-color="#bad7f2"/><stop offset=".606" stop-color="#407ed9"/><stop offset=".660" stop-color="#4e72d8"/><stop offset=".751" stop-color="#6064d3"/><stop offset=".786" stop-color="#6e54c7"/><stop offset=".822" stop-color="#576ad6"/><stop offset=".932" stop-color="#4b75d8"/><stop offset=".987" stop-color="#6a5acb"/><stop offset=".994" stop-color="#813dac"/><stop offset="1.000" stop-color="#843aa6"/></linearGradient>
<linearGradient id="g257" x2="0" y2="1"><stop offset=".000" stop-color="#edf4fb"/><stop offset=".414" stop-color="#ecf3fb"/><stop offset=".565" stop-color="#dfecf8"/><stop offset=".601" stop-color="#bad7f2"/><stop offset=".656" stop-color="#3b83d9"/><stop offset=".723" stop-color="#4a75d8"/><stop offset=".833" stop-color="#5f64d3"/><stop offset=".868" stop-color="#6e54c7"/><stop offset=".903" stop-color="#596ad5"/><stop offset=".932" stop-color="#4e73d8"/><stop offset=".987" stop-color="#6a5acb"/><stop offset=".994" stop-color="#813dac"/><stop offset="1.000" stop-color="#843aa6"/></linearGradient>
<linearGradient id="g258" x2="0" y2="1"><stop offset=".000" stop-color="#edf4fb"/><stop offset=".443" stop-color="#ecf3fb"/><stop offset=".594" stop-color="#deebf8"/><stop offset=".630" stop-color="#bad7f2"/><stop offset=".681" stop-color="#3e8edb"/><stop offset=".743" stop-color="#407ed9"/><stop offset=".846" stop-color="#596ad5"/><stop offset=".881" stop-color="#6b59ca"/><stop offset=".917" stop-color="#6c58ca"/><stop offset=".932" stop-color="#6a5acb"/><stop offset=".987" stop-color="#7b44b7"/><stop offset=".994" stop-color="#813dac"/><stop offset="1.000" stop-color="#843aa6"/></linearGradient>
<linearGradient id="g259" x2="0" y2="1"><stop offset=".000" stop-color="#edf4fb"/><stop offset=".467" stop-color="#ecf3fb"/><stop offset=".618" stop-color="#ddeaf8"/><stop offset=".653" stop-color="#bad7f2"/><stop offset=".702" stop-color="#3e8ddb"/><stop offset=".761" stop-color="#427cd9"/><stop offset=".860" stop-color="#5d66d4"/><stop offset=".895" stop-color="#6d56c8"/><stop offset=".930" stop-color="#6d55c8"/><stop offset=".935" stop-color="#6b59cb"/><stop offset=".987" stop-color="#7b44b7"/><stop offset=".994" stop-color="#813dac"/><stop offset="1.000" stop-color="#843aa6"/></linearGradient>
<linearGradient id="g260" x2="0" y2="1"><stop offset=".000" stop-color="#edf4fb"/><stop offset=".487" stop-color="#ecf3fb"/><stop offset=".639" stop-color="#dceaf8"/><stop offset=".674" stop-color="#bad7f2"/><stop offset=".721" stop-color="#4393dc"/><stop offset=".777" stop-color="#3e80d9"/><stop offset=".871" stop-color="#5a68d5"/><stop offset=".907" stop-color="#6c58ca"/><stop offset=".942" stop-color="#6d56c9"/><stop offset=".947" stop-color="#6b5acb"/><stop offset=".987" stop-color="#7b44b7"/><stop offset=".994" stop-color="#813dac"/><stop offset="1.000" stop-color="#843aa6"/></linearGradient>
<linearGradient id="g261" x2="0" y2="1"><stop offset=".000" stop-color="#edf4fb"/><stop offset=".506" stop-color="#ecf3fb"/><stop offset=".657" stop-color="#dceaf8"/><stop offset=".692" stop-color="#bad7f2"/><stop offset=".736" stop-color="#4595dc"/><stop offset=".789" stop-color="#3c82d9"/><stop offset=".879" stop-color="#5b68d5"/><stop offset=".914" stop-color="#6c57c9"/><stop offset=".949" stop-color="#6d55c8"/><stop offset=".954" stop-color="#6a5bcc"/><stop offset=".987" stop-color="#7b44b7"/><stop offset=".994" stop-color="#813dac"/><stop offset="1.000" stop-color="#843aa6"/></linearGradient>
<linearGradient id="g262" x2="0" y2="1"><stop offset=".000" stop-color="#edf4fb"/><stop offset=".522" stop-color="#ecf3fb"/><stop offset=".674" stop-color="#dceaf8"/><stop offset=".709" stop-color="#bad7f2"/><stop offset=".751" stop-color="#4797dd"/><stop offset=".801" stop-color="#3c82d9"/><stop offset=".886" stop-color="#5b67d5"/><stop offset=".921" stop-color="#6d57c9"/><stop offset=".957" stop-color="#6e55c8"/><stop offset=".962" stop-color="#6c58ca"/><stop offset=".987" stop-color="#7b44b7"/><stop offset=".994" stop-color="#813dac"/><stop offset="1.000" stop-color="#843aa6"/></linearGradient>
<linearGradient id="g263" x2="0" y2="1"><stop offset=".000" stop-color="#edf4fb"/><stop offset=".538" stop-color="#ecf3fb"/><stop offset=".689" stop-color="#dceaf8"/><stop offset=".724" stop-color="#bad7f2"/><stop offset=".764" stop-color="#4f9ddf"/><stop offset=".812" stop-color="#3b88da"/><stop offset=".894" stop-color="#576bd6"/><stop offset=".929" stop-color="#6a5acb"/><stop offset=".964" stop-color="#6e55c8"/><stop offset=".969" stop-color="#6c58ca"/><stop offset=".987" stop-color="#7b44b7"/><stop offset=".994" stop-color="#813dac"/><stop offset="1.000" stop-color="#843aa6"/></linearGradient>
<linearGradient id="g264" x2="0" y2="1"><stop offset=".000" stop-color="#edf4fb"/><stop offset=".552" stop-color="#ecf3fb"/><stop offset=".703" stop-color="#dceaf8"/><stop offset=".739" stop-color="#bad7f2"/><stop offset=".768" stop-color="#539fdf"/><stop offset=".804" stop-color="#3c89da"/><stop offset=".867" stop-color="#576bd6"/><stop offset=".902" stop-color="#6a5acb"/><stop offset=".937" stop-color="#6c57c9"/><stop offset=".942" stop-color="#6a5bcc"/><stop offset=".987" stop-color="#7b44b7"/><stop offset=".994" stop-color="#813dac"/><stop offset="1.000" stop-color="#843aa6"/></linearGradient>
<linearGradient id="g265" x2="0" y2="1"><stop offset=".000" stop-color="#edf4fb"/><stop offset=".566" stop-color="#ecf3fb"/><stop offset=".717" stop-color="#dceaf8"/><stop offset=".752" stop-color="#bad7f2"/><stop offset=".771" stop-color="#57a2e0"/><stop offset=".793" stop-color="#3c8bda"/><stop offset=".836" stop-color="#556cd6"/><stop offset=".872" stop-color="#6a5bcc"/><stop offset=".907" stop-color="#6e55c8"/><stop offset=".932" stop-color="#6b5acb"/><stop offset=".987" stop-color="#7b44b7"/><stop offset=".994" stop-color="#813dac"/><stop offset="1.000" stop-color="#843aa6"/></linearGradient>
<linearGradient id="g266" x2="0" y2="1"><stop offset=".000" stop-color="#edf4fb"/><stop offset=".447" stop-color="#ecf3fb"/><stop offset=".598" stop-color="#deebf8"/><stop offset=".633" stop-color="#bad7f2"/><stop offset=".674" stop-color="#407fd9"/><stop offset=".722" stop-color="#4b75d8"/><stop offset=".806" stop-color="#5e65d4"/><stop offset=".841" stop-color="#6e55c8"/><stop offset=".876" stop-color="#576bd6"/><stop offset=".932" stop-color="#4977d8"/><stop offset=".987" stop-color="#6a5acb"/><stop offset=".994" stop-color="#813dac"/><stop offset="1.000" stop-color="#843aa6"/></linearGradient>
<linearGradient id="g267" x2="0" y2="1"><stop offset=".000" stop-color="#edf4fb"/><stop offset=".501" stop-color="#ecf3fb"/><stop offset=".652" stop-color="#dceaf8"/><stop offset=".687" stop-color="#bad7f2"/><stop offset=".718" stop-color="#3c82d9"/><stop offset=".755" stop-color="#4977d8"/><stop offset=".820" stop-color="#5e65d4"/><stop offset=".855" stop-color="#6e55c8"/><stop offset=".891" stop-color="#5b68d5"/><stop offset=".932" stop-color="#5071d7"/><stop offset=".987" stop-color="#6a5acb"/><stop offset=".994" stop-color="#813dac"/><stop offset="1.000" stop-color="#843aa6"/></linearGradient>
<linearGradient id="g268" x2="0" y2="1"><stop offset=".000" stop-color="#edf4fb"/><stop offset=".531" stop-color="#ecf3fb"/><stop offset=".682" stop-color="#dceaf8"/><stop offset=".717" stop-color="#bad7f2"/><stop offset=".752" stop-color="#3b88da"/><stop offset=".793" stop-color="#447bd9"/><stop offset=".865" stop-color="#5c67d4"/><stop offset=".900" stop-color="#6d56c9"/><stop offset=".935" stop-color="#5969d5"/><stop offset=".940" stop-color="#4e72d8"/><stop offset=".987" stop-color="#6a5acb"/><stop offset=".994" stop-color="#813dac"/><stop offset="1.000" stop-color="#843aa6"/></linearGradient>
<linearGradient id="g269" x2="0" y2="1"><stop offset=".000" stop-color="#edf4fb"/><stop offset=".552" stop-color="#ecf3fb"/><stop offset=".703" stop-color="#dceaf8"/><stop offset=".738" stop-color="#bad7f2"/><stop offset=".760" stop-color="#4192dc"/><stop offset=".787" stop-color="#3c83d9"/><stop offset=".837" stop-color="#556cd6"/><stop offset=".873" stop-color="#6a5bcc"/><stop offset=".908" stop-color="#6d56c9"/><stop offset=".932" stop-color="#6b5acb"/><stop offset=".987" stop-color="#7b44b7"/><stop offset=".994" stop-color="#813dac"/><stop offset="1.000" stop-color="#843aa6"/></linearGradient>
<linearGradient id="g270" x2="0" y2="1"><stop offset=".000" stop-color="#edf4fb"/><stop offset=".346" stop-color="#ecf3fb"/><stop offset=".497" stop-color="#e3eef9"/><stop offset=".533" stop-color="#bad7f2"/><stop offset=".588" stop-color="#3d81d9"/><stop offset=".675" stop-color="#457ad9"/><stop offset=".802" stop-color="#576bd6"/><stop offset=".837" stop-color="#6a5acb"/><stop offset=".873" stop-color="#5969d5"/><stop offset=".932" stop-color="#4b75d8"/><stop offset=".987" stop-color="#6a5acb"/><stop offset=".994" stop-color="#813dac"/><stop offset="1.000" stop-color="#843aa6"/></linearGradient>
<linearGradient id="g271" x2="0" y2="1"><stop offset=".000" stop-color="#edf4fb"/><stop offset=".421" stop-color="#ecf3fb"/><stop offset=".573" stop-color="#dfecf8"/><stop offset=".608" stop-color="#bad7f2"/><stop offset=".651" stop-color="#3c82d9"/><stop offset=".703" stop-color="#4778d8"/><stop offset=".792" stop-color="#5a68d5"/><stop offset=".827" stop-color="#6c57c9"/><stop offset=".862" stop-color="#596ad6"/><stop offset=".932" stop-color="#4b75d8"/><stop offset=".987" stop-color="#6a5acb"/><stop offset=".994" stop-color="#813dac"/><stop offset="1.000" stop-color="#843aa6"/></linearGradient>
<linearGradient id="g272" x2="0" y2="1"><stop offset=".000" stop-color="#edf4fb"/><stop offset=".458" stop-color="#ecf3fb"/><stop offset=".609" stop-color="#ddebf8"/><stop offset=".645" stop-color="#bad7f2"/><stop offset=".686" stop-color="#3b88da"/><stop offset=".735" stop-color="#427cd9"/><stop offset=".818" stop-color="#596ad5"/><stop offset=".854" stop-color="#6b58ca"/><stop offset=".889" stop-color="#5969d5"/><stop offset=".932" stop-color="#5071d8"/><stop offset=".987" stop-color="#6a5acb"/><stop offset=".994" stop-color="#813dac"/><stop offset="1.000" stop-color="#843aa6"/></linearGradient>
<linearGradient id="g273" x2="0" y2="1"><stop offset=".000" stop-color="#edf4fb"/><stop offset=".484" stop-color="#ecf3fb"/><stop offset=".635" stop-color="#dceaf8"/><stop offset=".671" stop-color="#bad7f2"/><stop offset=".712" stop-color="#3b87da"/><stop offset=".761" stop-color="#4579d8"/><stop offset=".845" stop-color="#5f65d3"/><stop offset=".881" stop-color="#6e54c7"/><stop offset=".916" stop-color="#6e55c8"/><stop offset=".932" stop-color="#6c58ca"/><stop offset=".987" stop-color="#7b44b7"/><stop offset=".994" stop-color="#813dac"/><stop offset="1.000" stop-color="#843aa6"/></linearGradient>
<linearGradient id="g274" x2="0" y2="1"><stop offset=".000" stop-color="#edf4fb"/><stop offset=".506" stop-color="#ecf3fb"/><stop offset=".657" stop-color="#dceaf8"/><stop offset=".692" stop-color="#bad7f2"/><stop offset=".730" stop-color="#4191db"/><stop offset=".776" stop-color="#3c82d9"/><stop offset=".855" stop-color="#576ad6"/><stop offset=".890" stop-color="#6b59cb"/><stop offset=".925" stop-color="#6e55c8"/><stop offset=".932" stop-color="#6a5acc"/><stop offset=".987" stop-color="#7b44b7"/><stop offset=".994" stop-color="#813dac"/><stop offset="1.000" stop-color="#843aa6"/></linearGradient>
<linearGradient id="g275" x2="0" y2="1"><stop offset=".000" stop-color="#edf4fb"/><stop offset=".524" stop-color="#ecf3fb"/><stop offset=".675" stop-color="#dceaf8"/><stop offset=".710" stop-color="#bad7f2"/><stop offset=".746" stop-color="#4696dd"/><stop offset=".788" stop-color="#3b85d9"/><stop offset=".862" stop-color="#576cd6"/><stop offset=".898" stop-color="#6a5acb"/><stop offset=".933" stop-color="#6d56c9"/><stop offset=".938" stop-color="#6c58ca"/><stop offset=".987" stop-color="#7b44b7"/><stop offset=".994" stop-color="#813dac"/><stop offset="1.000" stop-color="#843aa6"/></linearGradient>
<linearGradient id="g276" x2="0" y2="1"><stop offset=".000" stop-color="#edf4fb"/><stop offset=".540" stop-color="#ecf3fb"/><stop offset=".691" stop-color="#dceaf8"/><stop offset=".726" stop-color="#bad7f2"/><stop offset=".760" stop-color="#4797dd"/><stop offset=".800" stop-color="#3b84d9"/><stop offset=".870" stop-color="#596ad5"/><stop offset=".905" stop-color="#6b59ca"/><stop offset=".941" stop-color="#6d56c8"/><stop offset=".946" stop-color="#6a5acb"/><stop offset=".987" stop-color="#7b44b7"/><stop offset=".994" stop-color="#813dac"/><stop offset="1.000" stop-color="#843aa6"/></linearGradient>
<linearGradient id="g277" x2="0" y2="1"><stop offset=".000" stop-color="#edf4fb"/><stop offset=".555" stop-color="#ecf3fb"/><stop offset=".706" stop-color="#dceaf8"/><stop offset=".741" stop-color="#bad7f2"/><stop offset=".760" stop-color="#4393dc"/><stop offset=".783" stop-color="#3e7fd9"/><stop offset=".827" stop-color="#5f65d3"/><stop offset=".862" stop-color="#6e54c7"/><stop offset=".898" stop-color="#6d57c9"/><stop offset=".932" stop-color="#6b59cb"/><stop offset=".987" stop-color="#7b44b7"/><stop offset=".994" stop-color="#813dac"/><stop offset="1.000" stop-color="#843aa6"/></linearGradient>
<linearGradient id="g278" x2="0" y2="1"><stop offset=".000" stop-color="#edf4fb"/><stop offset=".266" stop-color="#ecf3fb"/><stop offset=".417" stop-color="#e7f0fa"/><stop offset=".453" stop-color="#bad7f2"/><stop offset=".508" stop-color="#407dd9"/><stop offset=".611" stop-color="#4976d8"/><stop offset=".751" stop-color="#5b68d5"/><stop offset=".786" stop-color="#6c57c9"/><stop offset=".821" stop-color="#5b68d5"/><stop offset=".932" stop-color="#5071d8"/><stop offset=".987" stop-color="#6a5acb"/><stop offset=".994" stop-color="#813dac"/><stop offset="1.000" stop-color="#843aa6"/></linearGradient>
<linearGradient id="g279" x2="0" y2="1"><stop offset=".000" stop-color="#edf4fb"/><stop offset=".369" stop-color="#ecf3fb"/><stop offset=".520" stop-color="#e2edf9"/><stop offset=".555" stop-color="#bad7f2"/><stop offset=".596" stop-color="#3c83d9"/><stop offset=".646" stop-color="#4779d8"/><stop offset=".730" stop-color="#5b68d5"/><stop offset=".765" stop-color="#6c57c9"/><stop offset=".801" stop-color="#596ad5"/><stop offset=".932" stop-color="#4d73d8"/><stop offset=".987" stop-color="#6a5acb"/><stop offset=".994" stop-color="#813dac"/><stop offset="1.000" stop-color="#843aa6"/></linearGradient>
<linearGradient id="g280" x2="0" y2="1"><stop offset=".000" stop-color="#edf4fb"/><stop offset=".410" stop-color="#ecf3fb"/><stop offset=".561" stop-color="#e0ecf8"/><stop offset=".596" stop-color="#bad7f2"/><stop offset=".643" stop-color="#3d8cda"/><stop offset=".699" stop-color="#3e80d9"/><stop offset=".793" stop-color="#556cd6"/><stop offset=".829" stop-color="#6a5bcc"/><stop offset=".864" stop-color="#596ad5"/><stop offset=".932" stop-color="#4e72d8"/><stop offset=".987" stop-color="#6a5acb"/><stop offset=".994" stop-color="#813dac"/><stop offset="1.000" stop-color="#843aa6"/></linearGradient>
<linearGradient id="g281" x2="0" y2="1"><stop offset=".000" stop-color="#edf4fb"/><stop offset=".440" stop-color="#ecf3fb"/><stop offset=".591" stop-color="#deebf8"/><stop offset=".626" stop-color="#bad7f2"/><stop offset=".676" stop-color="#3c8ada"/><stop offset=".736" stop-color="#437bd9"/><stop offset=".835" stop-color="#5d66d4"/><stop offset=".871" stop-color="#6d55c8"/><stop offset=".906" stop-color="#6c58ca"/><stop offset=".932" stop-color="#6c58ca"/><stop offset=".987" stop-color="#7b44b7"/><stop offset=".994" stop-color="#813dac"/><stop offset="1.000" stop-color="#843aa6"/></linearGradient>
<linearGradient id="g282" x2="0" y2="1"><stop offset=".000" stop-color="#edf4fb"/><stop offset=".465" stop-color="#ecf3fb"/><stop offset=".616" stop-color="#ddeaf8"/><stop offset=".651" stop-color="#bad7f2"/><stop offset=".697" stop-color="#4191db"/><stop offset=".753" stop-color="#3d81d9"/><stop offset=".846" stop-color="#5969d5"/><stop offset=".881" stop-color="#6c58ca"/><stop offset=".916" stop-color="#6e55c8"/><stop offset=".932" stop-color="#6a5acb"/><stop offset=".987" stop-color="#7b44b7"/><stop offset=".994" stop-color="#813dac"/><stop offset="1.000" stop-color="#843aa6"/></linearGradient>
<linearGradient id="g283" x2="0" y2="1"><stop offset=".000" stop-color="#edf4fb"/><stop offset=".486" stop-color="#ecf3fb"/><stop offset=".637" stop-color="#dceaf8"/><stop offset=".673" stop-color="#bad7f2"/><stop offset=".716" stop-color="#4596dd"/><stop offset=".768" stop-color="#3b84d9"/><stop offset=".856" stop-color="#576bd6"/><stop offset=".891" stop-color="#6b5acb"/><stop offset=".926" stop-color="#6d56c9"/><stop offset=".932" stop-color="#6c58ca"/><stop offset=".987" stop-color="#7b44b7"/><stop offset=".994" stop-color="#813dac"/><stop offset="1.000" stop-color="#843aa6"/></linearGradient>
<linearGradient id="g284" x2="0" y2="1"><stop offset=".000" stop-color="#edf4fb"/><stop offset=".506" stop-color="#ecf3fb"/><stop offset=".657" stop-color="#dceaf8"/><stop offset=".692" stop-color="#bad7f2"/><stop offset=".733" stop-color="#4697dd"/><stop offset=".782" stop-color="#3b84d9"/><stop offset=".866" stop-color="#5969d5"/><stop offset=".901" stop-color="#6c58ca"/><stop offset=".936" stop-color="#6e55c8"/><stop offset=".941" stop-color="#6c58ca"/><stop offset=".987" stop-color="#7b44b7"/><stop offset=".994" stop-color="#813dac"/><stop offset="1.000" stop-color="#843aa6"/></linearGradient>
<linearGradient id="g285" x2="0" y2="1"><stop offset=".000" stop-color="#edf4fb"/><stop offset=".523" stop-color="#ecf3fb"/><stop offset=".674" stop-color="#dceaf8"/><stop offset=".710" stop-color="#bad7f2"/><stop offset=".748" stop-color="#4a9ade"/><stop offset=".795" stop-color="#3b85d9"/><stop offset=".875" stop-color="#596ad5"/><stop offset=".910" stop-color="#6b58ca"/><stop offset=".945" stop-color="#6c57c9"/><stop offset=".950" stop-color="#6b59cb"/><stop offset=".987" stop-color="#7b44b7"/><stop offset=".994" stop-color="#813dac"/><stop offset="1.000" stop-color="#843aa6"/></linearGradient>
<linearGradient id="g286" x2="0" y2="1"><stop offset=".000" stop-color="#edf4fb"/><stop offset=".540" stop-color="#ecf3fb"/><stop offset=".691" stop-color="#dceaf8"/><stop offset=".726" stop-color="#bad7f2"/><stop offset=".763" stop-color="#4d9bde"/><stop offset=".807" stop-color="#3b86d9"/><stop offset=".883" stop-color="#5969d5"/><stop offset=".918" stop-color="#6c58ca"/><stop offset=".954" stop-color="#6c57c9"/><stop offset=".959" stop-color="#6b59ca"/><stop offset=".987" stop-color="#7b44b7"/><stop offset=".994" stop-color="#813dac"/><stop offset="1.000" stop-color="#843aa6"/></linearGradient>
<linearGradient id="g287" x2="0" y2="1"><stop offset=".000" stop-color="#edf4fb"/><stop offset=".555" stop-color="#ecf3fb"/><stop offset=".706" stop-color="#dceaf8"/><stop offset=".741" stop-color="#bad7f2"/><stop offset=".776" stop-color="#4999dd"/><stop offset=".818" stop-color="#3c82d9"/><stop offset=".892" stop-color="#5e65d4"/><stop offset=".927" stop-color="#6e55c8"/><stop offset=".962" stop-color="#6d56c9"/><stop offset=".967" stop-color="#6a5bcc"/><stop offset=".987" stop-color="#7b44b7"/><stop offset=".994" stop-color="#813dac"/><stop offset="1.000" stop-color="#843aa6"/></linearGradient>
<linearGradient id="g288" x2="0" y2="1"><stop offset=".000" stop-color="#edf4fb"/><stop offset=".569" stop-color="#ecf3fb"/><stop offset=".720" stop-color="#dceaf8"/><stop offset=".756" stop-color="#bad7f2"/><stop offset=".783" stop-color="#55a0e0"/><stop offset=".815" stop-color="#3c89da"/><stop offset=".874" stop-color="#576bd6"/><stop offset=".909" stop-color="#6b5acb"/><stop offset=".944" stop-color="#6c57c9"/><stop offset=".949" stop-color="#6b59ca"/><stop offset=".987" stop-color="#7b44b7"/><stop offset=".994" stop-color="#813dac"/><stop offset="1.000" stop-color="#843aa6"/></linearGradient>
<linearGradient id="g289" x2="0" y2="1"><stop offset=".000" stop-color="#edf4fb"/><stop offset=".583" stop-color="#ecf3fb"/><stop offset=".734" stop-color="#dceaf8"/><stop offset=".769" stop-color="#bad7f2"/><stop offset=".785" stop-color="#58a3e1"/><stop offset=".805" stop-color="#3c8bda"/><stop offset=".844" stop-color="#576cd6"/><stop offset=".880" stop-color="#6a5acb"/><stop offset=".915" stop-color="#6c58ca"/><stop offset=".932" stop-color="#6a5acb"/><stop offset=".987" stop-color="#7b44b7"/><stop offset=".994" stop-color="#813dac"/><stop offset="1.000" stop-color="#843aa6"/></linearGradient>
<linearGradient id="g290" x2="0" y2="1"><stop offset=".000" stop-color="#edf4fb"/><stop offset=".596" stop-color="#ecf3fb"/><stop offset=".747" stop-color="#dceaf8"/><stop offset=".782" stop-color="#bad7f2"/><stop offset=".788" stop-color="#58a2e1"/><stop offset=".795" stop-color="#3c8ada"/><stop offset=".815" stop-color="#576ad6"/><stop offset=".850" stop-color="#6b59cb"/><stop offset=".886" stop-color="#6c58ca"/><stop offset=".932" stop-color="#6b59cb"/><stop offset=".987" stop-color="#7b44b7"/><stop offset=".994" stop-color="#813dac"/><stop offset="1.000" stop-color="#843aa6"/></linearGradient>
<linearGradient id="g291" x2="0" y2="1"><stop offset=".000" stop-color="#edf4fb"/><stop offset=".492" stop-color="#ecf3fb"/><stop offset=".643" stop-color="#dceaf8"/><stop offset=".678" stop-color="#bad7f2"/><stop offset=".709" stop-color="#3e7fd9"/><stop offset=".746" stop-color="#4b75d8"/><stop offset=".811" stop-color="#5f65d3"/><stop offset=".846" stop-color="#6e54c7"/><stop offset=".882" stop-color="#5969d5"/><stop offset=".932" stop-color="#4e72d8"/><stop offset=".987" stop-color="#6a5acb"/><stop offset=".994" stop-color="#813dac"/><stop offset="1.000" stop-color="#843aa6"/></linearGradient>
<linearGradient id="g292" x2="0" y2="1"><stop offset=".000" stop-color="#edf4fb"/><stop offset=".526" stop-color="#ecf3fb"/><stop offset=".678" stop-color="#dceaf8"/><stop offset=".713" stop-color="#bad7f2"/><stop offset=".743" stop-color="#3b85d9"/><stop offset=".780" stop-color="#4778d8"/><stop offset=".845" stop-color="#5d66d4"/><stop offset=".880" stop-color="#6e55c8"/><stop offset=".915" stop-color="#5b68d5"/><stop offset=".932" stop-color="#4e71d8"/><stop offset=".987" stop-color="#6a5acb"/><stop offset=".994" stop-color="#813dac"/><stop offset="1.000" stop-color="#843aa6"/></linearGradient>
<linearGradient id="g293" x2="0" y2="1"><stop offset=".000" stop-color="#edf4fb"/><stop offset=".549" stop-color="#ecf3fb"/><stop offset=".700" stop-color="#dceaf8"/><stop offset=".735" stop-color="#bad7f2"/><stop offset=".762" stop-color="#3e8dda"/><stop offset=".795" stop-color="#407ed9"/><stop offset=".854" stop-color="#5969d5"/><stop offset=".890" stop-color="#6c58ca"/><stop offset=".925" stop-color="#6d56c8"/><stop offset=".932" stop-color="#6a5bcc"/><stop offset=".987" stop-color="#7b44b7"/><stop offset=".994" stop-color="#813dac"/><stop offset="1.000" stop-color="#843aa6"/></linearGradient>
<linearGradient id="g294" x2="0" y2="1"><stop offset=".000" stop-color="#edf4fb"/><stop offset=".566" stop-color="#ecf3fb"/><stop offset=".717" stop-color="#dceaf8"/><stop offset=".752" stop-color="#bad7f2"/><stop offset=".769" stop-color="#3d8cda"/><stop offset=".788" stop-color="#427cd9"/><stop offset=".828" stop-color="#5e65d4"/><stop offset=".863" stop-color="#6e55c8"/><stop offset=".898" stop-color="#6c57c9"/><stop offset=".932" stop-color="#6b59cb"/><stop offset=".987" stop-color="#7b44b7"/><stop offset=".994" stop-color="#813dac"/><stop offset="1.000" stop-color="#843aa6"/></linearGradient>
<linearGradient id="g295" x2="0" y2="1"><stop offset=".000" stop-color="#edf4fb"/><stop offset=".461" stop-color="#ecf3fb"/><stop offset=".612" stop-color="#ddebf8"/><stop offset=".647" stop-color="#bad7f2"/><stop offset=".685" stop-color="#437bd9"/><stop offset=".732" stop-color="#4d73d8"/><stop offset=".811" stop-color="#5e65d3"/><stop offset=".846" stop-color="#6e55c7"/><stop offset=".881" stop-color="#576ad6"/><stop offset=".932" stop-color="#4976d8"/><stop offset=".987" stop-color="#6a5acb"/><stop offset=".994" stop-color="#813dac"/><stop offset="1.000" stop-color="#843aa6"/></linearGradient>
<linearGradient id="g296" x2="0" y2="1"><stop offset=".000" stop-color="#edf4fb"/><stop offset=".499" stop-color="#ecf3fb"/><stop offset=".650" stop-color="#dceaf8"/><stop offset=".685" stop-color="#bad7f2"/><stop offset=".720" stop-color="#3c82d9"/><stop offset=".762" stop-color="#4977d8"/><stop offset=".834" stop-color="#5d66d4"/><stop offset=".870" stop-color="#6e55c8"/><stop offset=".905" stop-color="#5969d5"/><stop offset=".932" stop-color="#4976d8"/><stop offset=".987" stop-color="#6a5acb"/><stop offset=".994" stop-color="#813dac"/><stop offset="1.000" stop-color="#843aa6"/></linearGradient>
<linearGradient id="g297" x2="0" y2="1"><stop offset=".000" stop-color="#edf4fb"/><stop offset=".520" stop-color="#ecf3fb"/><stop offset=".671" stop-color="#dceaf8"/><stop offset=".707" stop-color="#bad7f2"/><stop offset=".742" stop-color="#3e8edb"/><stop offset=".784" stop-color="#3d81d9"/><stop offset=".858" stop-color="#556dd6"/><stop offset=".893" stop-color="#6a5bcc"/><stop offset=".928" stop-color="#576ad6"/><stop offset=".934" stop-color="#4977d8"/><stop offset=".987" stop-color="#6a5acb"/><stop offset=".994" stop-color="#813dac"/><stop offset="1.000" stop-color="#843aa6"/></linearGradient>
<linearGradient id="g298" x2="0" y2="1"><stop offset=".000" stop-color="#edf4fb"/><stop offset=".537" stop-color="#ecf3fb"/><stop offset=".688" stop-color="#dceaf8"/><stop offset=".723" stop-color="#bad7f2"/><stop offset=".757" stop-color="#3c8ada"/><stop offset=".798" stop-color="#437bd9"/><stop offset=".869" stop-color="#5e66d4"/><stop offset=".904" stop-color="#6e55c8"/><stop offset=".939" stop-color="#6c58ca"/><stop offset=".944" stop-color="#6a5acb"/><stop offset=".987" stop-color="#7b44b7"/><stop offset=".994" stop-color="#813dac"/><stop offset="1.000" stop-color="#843aa6"/></linearGradient>
<linearGradient id="g299" x2="0" y2="1"><stop offset=".000" stop-color="#edf4fb"/><stop offset=".551" stop-color="#ecf3fb"/><stop offset=".702" stop-color="#dceaf8"/><stop offset=".737" stop-color="#bad7f2"/><stop offset=".769" stop-color="#4192dc"/><stop offset=".807" stop-color="#3d81d9"/><stop offset=".874" stop-color="#5969d5"/><stop offset=".910" stop-color="#6c58ca"/><stop offset=".945" stop-color="#6d56c9"/><stop offset=".950" stop-color="#6b5acb"/><stop offset=".987" stop-color="#7b44b7"/><stop offset=".994" stop-color="#813dac"/><stop offset="1.000" stop-color="#843aa6"/></linearGradient>
<linearGradient id="g300" x2="0" y2="1"><stop offset=".000" stop-color="#edf4fb"/><stop offset=".563" stop-color="#ecf3fb"/><stop offset=".714" stop-color="#dceaf8"/><stop offset=".750" stop-color="#bad7f2"/><stop offset=".780" stop-color="#4293dc"/><stop offset=".816" stop-color="#3e81d9"/><stop offset=".880" stop-color="#5b67d5"/><stop offset=".915" stop-color="#6d56c9"/><stop offset=".951" stop-color="#6d56c8"/><stop offset=".956" stop-color="#6b5acb"/><stop offset=".987" stop-color="#7b44b7"/><stop offset=".994" stop-color="#813dac"/><stop offset="1.000" stop-color="#843aa6"/></linearGradient>
<linearGradient id="g301" x2="0" y2="1"><stop offset=".000" stop-color="#edf4fb"/><stop offset=".574" stop-color="#ecf3fb"/><stop offset=".726" stop-color="#dceaf8"/><stop offset=".761" stop-color="#bad7f2"/><stop offset=".766" stop-color="#4b9ade"/><stop offset=".773" stop-color="#3b87d9"/><stop offset=".793" stop-color="#556cd6"/><stop offset=".829" stop-color="#6a5acc"/><stop offset=".864" stop-color="#6e55c8"/><stop offset=".932" stop-color="#6b58ca"/><stop offset=".987" stop-color="#7b44b7"/><stop offset=".994" stop-color="#813dac"/><stop offset="1.000" stop-color="#843aa6"/></linearGradient>
<linearGradient id="g302" x2="0" y2="1"><stop offset=".000" stop-color="#edf4fb"/><stop offset=".195" stop-color="#ecf3fb"/><stop offset=".346" stop-color="#eaf2fa"/><stop offset=".381" stop-color="#bad7f2"/><stop offset=".437" stop-color="#3c82d9"/><stop offset=".533" stop-color="#447ad9"/><stop offset=".667" stop-color="#556cd6"/><stop offset=".702" stop-color="#6a5bcc"/><stop offset=".738" stop-color="#596ad5"/><stop offset=".932" stop-color="#4e72d8"/><stop offset=".987" stop-color="#6a5acb"/><stop offset=".994" stop-color="#813dac"/><stop offset="1.000" stop-color="#843aa6"/></linearGradient>
<linearGradient id="g303" x2="0" y2="1"><stop offset=".000" stop-color="#edf4fb"/><stop offset=".351" stop-color="#ecf3fb"/><stop offset=".502" stop-color="#e3eef9"/><stop offset=".537" stop-color="#bad7f2"/><stop offset=".583" stop-color="#407fd9"/><stop offset=".639" stop-color="#4b74d8"/><stop offset=".732" stop-color="#5f65d3"/><stop offset=".768" stop-color="#6e54c7"/><stop offset=".803" stop-color="#576bd6"/><stop offset=".932" stop-color="#4977d8"/><stop offset=".987" stop-color="#6a5acb"/><stop offset=".994" stop-color="#813dac"/><stop offset="1.000" stop-color="#843aa6"/></linearGradient>
<linearGradient id="g304" x2="0" y2="1"><stop offset=".000" stop-color="#edf4fb"/><stop offset=".408" stop-color="#ecf3fb"/><stop offset=".559" stop-color="#e0ecf8"/><stop offset=".594" stop-color="#bad7f2"/><stop offset=".643" stop-color="#3c89da"/><stop offset=".701" stop-color="#427cd9"/><stop offset=".798" stop-color="#5969d5"/><stop offset=".833" stop-color="#6c58ca"/><stop offset=".868" stop-color="#596ad5"/><stop offset=".932" stop-color="#4e71d8"/><stop offset=".987" stop-color="#6a5acb"/><stop offset=".994" stop-color="#813dac"/><stop offset="1.000" stop-color="#843aa6"/></linearGradient>
<linearGradient id="g305" x2="0" y2="1"><stop offset=".000" stop-color="#edf4fb"/><stop offset=".451" stop-color="#ecf3fb"/><stop offset=".602" stop-color="#ddebf8"/><stop offset=".637" stop-color="#bad7f2"/><stop offset=".682" stop-color="#3c89da"/><stop offset=".736" stop-color="#447bd9"/><stop offset=".827" stop-color="#5d66d4"/><stop offset=".862" stop-color="#6e55c8"/><stop offset=".898" stop-color="#6c57c9"/><stop offset=".932" stop-color="#6b5acb"/><stop offset=".987" stop-color="#7b44b7"/><stop offset=".994" stop-color="#813dac"/><stop offset="1.000" stop-color="#843aa6"/></linearGradient>
<linearGradient id="g306" x2="0" y2="1"><stop offset=".000" stop-color="#edf4fb"/><stop offset=".486" stop-color="#ecf3fb"/><stop offset=".637" stop-color="#dceaf8"/><stop offset=".672" stop-color="#bad7f2"/><stop offset=".712" stop-color="#3f8fdb"/><stop offset=".760" stop-color="#3e7fd9"/><stop offset=".842" stop-color="#5b68d5"/><stop offset=".877" stop-color="#6c57c9"/><stop offset=".912" stop-color="#6e55c8"/><stop offset=".932" stop-color="#6a5bcc"/><stop offset=".987" stop-color="#7b44b7"/><stop offset=".994" stop-color="#813dac"/><stop offset="1.000" stop-color="#843aa6"/></linearGradient>
<linearGradient id="g307" x2="0" y2="1"><stop offset=".000" stop-color="#edf4fb"/><stop offset=".517" stop-color="#ecf3fb"/><stop offset=".668" stop-color="#dceaf8"/><stop offset=".703" stop-color="#bad7f2"/><stop offset=".730" stop-color="#4494dc"/><stop offset=".763" stop-color="#3c83d9"/><stop offset=".822" stop-color="#5969d5"/><stop offset=".857" stop-color="#6c58ca"/><stop offset=".892" stop-color="#6c58ca"/><stop offset=".932" stop-color="#6b59ca"/><stop offset=".987" stop-color="#7b44b7"/><stop offset=".994" stop-color="#813dac"/><stop offset="1.000" stop-color="#843aa6"/></linearGradient>
<linearGradient id="g308" x2="0" y2="1"><stop offset=".000" stop-color="#edf4fb"/><stop offset=".430" stop-color="#ecf3fb"/><stop offset=".581" stop-color="#dfecf8"/><stop offset=".616" stop-color="#bad7f2"/><stop offset=".660" stop-color="#3c82d9"/><stop offset=".713" stop-color="#447bd9"/><stop offset=".802" stop-color="#556dd6"/><stop offset=".837" stop-color="#6a5bcc"/><stop offset=".872" stop-color="#5b68d5"/><stop offset=".932" stop-color="#4c74d8"/><stop offset=".987" stop-color="#6a5acb"/><stop offset=".994" stop-color="#813dac"/><stop offset="1.000" stop-color="#843aa6"/></linearGradient>
<linearGradient id="g309" x2="0" y2="1"><stop offset=".000" stop-color="#edf4fb"/><stop offset=".493" stop-color="#ecf3fb"/><stop offset=".644" stop-color="#dceaf8"/><stop offset=".679" stop-color="#bad7f2"/><stop offset=".711" stop-color="#3c83d9"/><stop offset=".748" stop-color="#4778d8"/><stop offset=".814" stop-color="#5b68d5"/><stop offset=".849" stop-color="#6c57c9"/><stop offset=".884" stop-color="#576bd6"/><stop offset=".932" stop-color="#4975d8"/><stop offset=".987" stop-color="#6a5acb"/><stop offset=".994" stop-color="#813dac"/><stop offset="1.000" stop-color="#843aa6"/></linearGradient>
<linearGradient id="g310" x2="0" y2="1"><stop offset=".000" stop-color="#edf4fb"/><stop offset=".516" stop-color="#ecf3fb"/><stop offset=".667" stop-color="#dceaf8"/><stop offset=".703" stop-color="#bad7f2"/><stop offset=".733" stop-color="#3c89da"/><stop offset=".769" stop-color="#427cd9"/><stop offset=".834" stop-color="#5969d5"/><stop offset=".869" stop-color="#6c58ca"/><stop offset=".904" stop-color="#5b68d5"/><stop offset=".932" stop-color="#4c74d8"/><stop offset=".987" stop-color="#6a5acb"/><stop offset=".994" stop-color="#813dac"/><stop offset="1.000" stop-color="#843aa6"/></linearGradient>
<linearGradient id="g311" x2="0" y2="1"><stop offset=".000" stop-color="#edf4fb"/><stop offset=".534" stop-color="#ecf3fb"/><stop offset=".685" stop-color="#dceaf8"/><stop offset=".720" stop-color="#bad7f2"/><stop offset=".751" stop-color="#3f8fdb"/><stop offset=".787" stop-color="#3e80d9"/><stop offset=".852" stop-color="#576ad6"/><stop offset=".887" stop-color="#6b59cb"/><stop offset=".922" stop-color="#6e55c8"/><stop offset=".932" stop-color="#6b59ca"/><stop offset=".987" stop-color="#7b44b7"/><stop offset=".994" stop-color="#813dac"/><stop offset="1.000" stop-color="#843aa6"/></linearGradient>
<linearGradient id="g312" x2="0" y2="1"><stop offset=".000" stop-color="#edf4fb"/><stop offset=".548" stop-color="#ecf3fb"/><stop offset=".699" stop-color="#dceaf8"/><stop offset=".735" stop-color="#bad7f2"/><stop offset=".765" stop-color="#4090db"/><stop offset=".800" stop-color="#3e80d9"/><stop offset=".864" stop-color="#5b68d5"/><stop offset=".900" stop-color="#6c57c9"/><stop offset=".935" stop-color="#6c58ca"/><stop offset=".940" stop-color="#6a5acb"/><stop offset=".987" stop-color="#7b44b7"/><stop offset=".994" stop-color="#813dac"/><stop offset="1.000" stop-color="#843aa6"/></linearGradient>
<linearGradient id="g313" x2="0" y2="1"><stop offset=".000" stop-color="#edf4fb"/><stop offset=".561" stop-color="#ecf3fb"/><stop offset=".712" stop-color="#dceaf8"/><stop offset=".747" stop-color="#bad7f2"/><stop offset=".777" stop-color="#4090db"/><stop offset=".813" stop-color="#407ed9"/><stop offset=".877" stop-color="#5e65d3"/><stop offset=".912" stop-color="#6e54c7"/><stop offset=".948" stop-color="#6c58ca"/><stop offset=".953" stop-color="#6b59cb"/><stop offset=".987" stop-color="#7b44b7"/><stop offset=".994" stop-color="#813dac"/><stop offset="1.000" stop-color="#843aa6"/></linearGradient>
<linearGradient id="g314" x2="0" y2="1"><stop offset=".000" stop-color="#edf4fb"/><stop offset=".572" stop-color="#ecf3fb"/><stop offset=".723" stop-color="#dceaf8"/><stop offset=".759" stop-color="#bad7f2"/><stop offset=".776" stop-color="#4595dc"/><stop offset=".798" stop-color="#3c82d9"/><stop offset=".840" stop-color="#5b67d5"/><stop offset=".876" stop-color="#6d56c9"/><stop offset=".911" stop-color="#6c57c9"/><stop offset=".932" stop-color="#6c58ca"/><stop offset=".987" stop-color="#7b44b7"/><stop offset=".994" stop-color="#813dac"/><stop offset="1.000" stop-color="#843aa6"/></linearGradient>
<linearGradient id="g315" x2="0" y2="1"><stop offset=".000" stop-color="#edf4fb"/><stop offset=".417" stop-color="#ecf3fb"/><stop offset=".568" stop-color="#dfecf8"/><stop offset=".604" stop-color="#bad7f2"/><stop offset=".651" stop-color="#457ad8"/><stop offset=".708" stop-color="#4e72d8"/><stop offset=".803" stop-color="#5f65d3"/><stop offset=".839" stop-color="#6e54c7"/><stop offset=".874" stop-color="#5b68d5"/><stop offset=".932" stop-color="#4e72d8"/><stop offset=".987" stop-color="#6a5acb"/><stop offset=".994" stop-color="#813dac"/><stop offset="1.000" stop-color="#843aa6"/></linearGradient>
<linearGradient id="g316" x2="0" y2="1"><stop offset=".000" stop-color="#edf4fb"/><stop offset=".473" stop-color="#ecf3fb"/><stop offset=".624" stop-color="#dceaf8"/><stop offset=".660" stop-color="#bad7f2"/><stop offset=".692" stop-color="#3b84d9"/><stop offset=".732" stop-color="#447bd9"/><stop offset=".801" stop-color="#576bd6"/><stop offset=".836" stop-color="#6b5acb"/><stop offset=".871" stop-color="#576bd6"/><stop offset=".932" stop-color="#4c74d8"/><stop offset=".987" stop-color="#6a5acb"/><stop offset=".994" stop-color="#813dac"/><stop offset="1.000" stop-color="#843aa6"/></linearGradient>
<linearGradient id="g317" x2="0" y2="1"><stop offset=".000" stop-color="#edf4fb"/><stop offset=".509" stop-color="#ecf3fb"/><stop offset=".660" stop-color="#dceaf8"/><stop offset=".695" stop-color="#bad7f2"/><stop offset=".727" stop-color="#3b88da"/><stop offset=".766" stop-color="#427cd9"/><stop offset=".833" stop-color="#596ad6"/><stop offset=".868" stop-color="#6b59ca"/><stop offset=".903" stop-color="#576bd6"/><stop offset=".932" stop-color="#4e72d8"/><stop offset=".987" stop-color="#6a5acb"/><stop offset=".994" stop-color="#813dac"/><stop offset="1.000" stop-color="#843aa6"/></linearGradient>
<linearGradient id="g318" x2="0" y2="1"><stop offset=".000" stop-color="#edf4fb"/><stop offset=".533" stop-color="#ecf3fb"/><stop offset=".684" stop-color="#dceaf8"/><stop offset=".719" stop-color="#bad7f2"/><stop offset=".748" stop-color="#3e8ddb"/><stop offset=".783" stop-color="#3e80d9"/><stop offset=".846" stop-color="#576bd6"/><stop offset=".881" stop-color="#6b5acb"/><stop offset=".917" stop-color="#6d55c8"/><stop offset=".932" stop-color="#6c57c9"/><stop offset=".987" stop-color="#7b44b7"/><stop offset=".994" stop-color="#813dac"/><stop offset="1.000" stop-color="#843aa6"/></linearGradient>
<linearGradient id="g319" x2="0" y2="1"><stop offset=".000" stop-color="#edf4fb"/><stop offset=".552" stop-color="#ecf3fb"/><stop offset=".703" stop-color="#dceaf8"/><stop offset=".738" stop-color="#bad7f2"/><stop offset=".765" stop-color="#4292dc"/><stop offset=".797" stop-color="#3c83d9"/><stop offset=".855" stop-color="#576cd6"/><stop offset=".890" stop-color="#6a5acb"/><stop offset=".925" stop-color="#6e55c8"/><stop offset=".932" stop-color="#6b5acb"/><stop offset=".987" stop-color="#7b44b7"/><stop offset=".994" stop-color="#813dac"/><stop offset="1.000" stop-color="#843aa6"/></linearGradient>
<linearGradient id="g320" x2="0" y2="1"><stop offset=".000" stop-color="#edf4fb"/><stop offset=".568" stop-color="#ecf3fb"/><stop offset=".719" stop-color="#dceaf8"/><stop offset=".754" stop-color="#bad7f2"/><stop offset=".776" stop-color="#4495dc"/><stop offset=".802" stop-color="#3b84d9"/><stop offset=".852" stop-color="#576bd6"/><stop offset=".887" stop-color="#6b5acb"/><stop offset=".922" stop-color="#6c58ca"/><stop offset=".932" stop-color="#695ccc"/><stop offset=".987" stop-color="#7b44b7"/><stop offset=".994" stop-color="#813dac"/><stop offset="1.000" stop-color="#843aa6"/></linearGradient>
<linearGradient id="g321" x2="0" y2="1"><stop offset=".000" stop-color="#edf4fb"/><stop offset=".451" stop-color="#ecf3fb"/><stop offset=".602" stop-color="#ddebf8"/><stop offset=".638" stop-color="#bad7f2"/><stop offset=".681" stop-color="#407ed9"/><stop offset=".733" stop-color="#4977d8"/><stop offset=".822" stop-color="#5a68d5"/><stop offset=".857" stop-color="#6c57ca"/><stop offset=".893" stop-color="#596ad6"/><stop offset=".932" stop-color="#4e72d8"/><stop offset=".987" stop-color="#6a5acb"/><stop offset=".994" stop-color="#813dac"/><stop offset="1.000" stop-color="#843aa6"/></linearGradient>
<linearGradient id="g322" x2="0" y2="1"><stop offset=".000" stop-color="#edf4fb"/><stop offset=".493" stop-color="#ecf3fb"/><stop offset=".644" stop-color="#dceaf8"/><stop offset=".679" stop-color="#bad7f2"/><stop offset=".712" stop-color="#3e81d9"/><stop offset=".752" stop-color="#4976d8"/><stop offset=".821" stop-color="#5e66d4"/><stop offset=".857" stop-color="#6e55c8"/><stop offset=".892" stop-color="#576bd6"/><stop offset=".932" stop-color="#4b74d8"/><stop offset=".987" stop-color="#6a5acb"/><stop offset=".994" stop-color="#813dac"/><stop offset="1.000" stop-color="#843aa6"/></linearGradient>
<linearGradient id="g323" x2="0" y2="1"><stop offset=".000" stop-color="#edf4fb"/><stop offset=".514" stop-color="#ecf3fb"/><stop offset=".665" stop-color="#dceaf8"/><stop offset=".700" stop-color="#bad7f2"/><stop offset=".732" stop-color="#3c8ada"/><stop offset=".771" stop-color="#407dd9"/><stop offset=".840" stop-color="#5969d5"/><stop offset=".875" stop-color="#6c58ca"/><stop offset=".910" stop-color="#576bd6"/><stop offset=".932" stop-color="#4a75d8"/><stop offset=".987" stop-color="#6a5acb"/><stop offset=".994" stop-color="#813dac"/><stop offset="1.000" stop-color="#843aa6"/></linearGradient>
<linearGradient id="g324" x2="0" y2="1"><stop offset=".000" stop-color="#edf4fb"/><stop offset=".530" stop-color="#ecf3fb"/><stop offset=".681" stop-color="#dceaf8"/><stop offset=".716" stop-color="#bad7f2"/><stop offset=".749" stop-color="#3f8fdb"/><stop offset=".788" stop-color="#3e80d9"/><stop offset=".857" stop-color="#576ad6"/><stop offset=".892" stop-color="#6b59cb"/><stop offset=".928" stop-color="#6d56c8"/><stop offset=".933" stop-color="#6a5acb"/><stop offset=".987" stop-color="#7b44b7"/><stop offset=".994" stop-color="#813dac"/><stop offset="1.000" stop-color="#843aa6"/></linearGradient>
<linearGradient id="g325" x2="0" y2="1"><stop offset=".000" stop-color="#edf4fb"/><stop offset=".543" stop-color="#ecf3fb"/><stop offset=".694" stop-color="#dceaf8"/><stop offset=".729" stop-color="#bad7f2"/><stop offset=".760" stop-color="#4494dc"/><stop offset=".798" stop-color="#3b84d9"/><stop offset=".863" stop-color="#566cd6"/><stop offset=".899" stop-color="#6a5acb"/><stop offset=".934" stop-color="#6c58ca"/><stop offset=".939" stop-color="#6b5acb"/><stop offset=".987" stop-color="#7b44b7"/><stop offset=".994" stop-color="#813dac"/><stop offset="1.000" stop-color="#843aa6"/></linearGradient>
<linearGradient id="g326" x2="0" y2="1"><stop offset=".000" stop-color="#edf4fb"/><stop offset=".555" stop-color="#ecf3fb"/><stop offset=".706" stop-color="#dceaf8"/><stop offset=".741" stop-color="#bad7f2"/><stop offset=".771" stop-color="#4393dc"/><stop offset=".806" stop-color="#3d81d9"/><stop offset=".870" stop-color="#5b68d5"/><stop offset=".905" stop-color="#6c57c9"/><stop offset=".940" stop-color="#6c57ca"/><stop offset=".945" stop-color="#6b58ca"/><stop offset=".987" stop-color="#7b44b7"/><stop offset=".994" stop-color="#813dac"/><stop offset="1.000" stop-color="#843aa6"/></linearGradient>
<linearGradient id="g327" x2="0" y2="1"><stop offset=".000" stop-color="#edf4fb"/><stop offset=".565" stop-color="#ecf3fb"/><stop offset=".716" stop-color="#dceaf8"/><stop offset=".752" stop-color="#bad7f2"/><stop offset=".780" stop-color="#4a99de"/><stop offset=".814" stop-color="#3b86d9"/><stop offset=".876" stop-color="#576bd6"/><stop offset=".911" stop-color="#6b5acb"/><stop offset=".946" stop-color="#6d56c8"/><stop offset=".951" stop-color="#6b59ca"/><stop offset=".987" stop-color="#7b44b7"/><stop offset=".994" stop-color="#813dac"/><stop offset="1.000" stop-color="#843aa6"/></linearGradient>
<linearGradient id="g328" x2="0" y2="1"><stop offset=".000" stop-color="#edf4fb"/><stop offset=".575" stop-color="#ecf3fb"/><stop offset=".726" stop-color="#dceaf8"/><stop offset=".761" stop-color="#bad7f2"/><stop offset=".783" stop-color="#4d9cde"/><stop offset=".809" stop-color="#3b87da"/><stop offset=".858" stop-color="#576bd6"/><stop offset=".893" stop-color="#6a5acb"/><stop offset=".929" stop-color="#6d56c8"/><stop offset=".934" stop-color="#6b5acb"/><stop offset=".987" stop-color="#7b44b7"/><stop offset=".994" stop-color="#813dac"/><stop offset="1.000" stop-color="#843aa6"/></linearGradient>
<linearGradient id="g329" x2="0" y2="1"><stop offset=".000" stop-color="#edf4fb"/><stop offset=".584" stop-color="#ecf3fb"/><stop offset=".735" stop-color="#dceaf8"/><stop offset=".770" stop-color="#bad7f2"/><stop offset=".784" stop-color="#4b9ade"/><stop offset=".800" stop-color="#3b85d9"/><stop offset=".835" stop-color="#5b68d5"/><stop offset=".870" stop-color="#6c57c9"/><stop offset=".905" stop-color="#6d56c9"/><stop offset=".932" stop-color="#6b59ca"/><stop offset=".987" stop-color="#7b44b7"/><stop offset=".994" stop-color="#813dac"/><stop offset="1.000" stop-color="#843aa6"/></linearGradient>
<linearGradient id="g330" x2="0" y2="1"><stop offset=".000" stop-color="#edf4fb"/><stop offset=".494" stop-color="#ecf3fb"/><stop offset=".645" stop-color="#dceaf8"/><stop offset=".681" stop-color="#bad7f2"/><stop offset=".711" stop-color="#3b83d9"/><stop offset=".747" stop-color="#4579d8"/><stop offset=".811" stop-color="#5969d5"/><stop offset=".846" stop-color="#6c58ca"/><stop offset=".881" stop-color="#576bd6"/><stop offset=".932" stop-color="#4e72d8"/><stop offset=".987" stop-color="#6a5acb"/><stop offset=".994" stop-color="#813dac"/><stop offset="1.000" stop-color="#843aa6"/></linearGradient>
<linearGradient id="g331" x2="0" y2="1"><stop offset=".000" stop-color="#edf4fb"/><stop offset=".534" stop-color="#ecf3fb"/><stop offset=".685" stop-color="#dceaf8"/><stop offset=".721" stop-color="#bad7f2"/><stop offset=".748" stop-color="#3b84d9"/><stop offset=".781" stop-color="#4778d8"/><stop offset=".840" stop-color="#5e65d4"/><stop offset=".875" stop-color="#6e55c8"/><stop offset=".910" stop-color="#596ad5"/><stop offset=".932" stop-color="#4c73d8"/><stop offset=".987" stop-color="#6a5acb"/><stop offset=".994" stop-color="#813dac"/><stop offset="1.000" stop-color="#843aa6"/></linearGradient>
<linearGradient id="g332" x2="0" y2="1"><stop offset=".000" stop-color="#edf4fb"/><stop offset=".559" stop-color="#ecf3fb"/><stop offset=".710" stop-color="#dceaf8"/><stop offset=".745" stop-color="#bad7f2"/><stop offset=".766" stop-color="#3e8edb"/><stop offset=".790" stop-color="#3e80d9"/><stop offset=".838" stop-color="#576ad6"/><stop offset=".873" stop-color="#6b59cb"/><stop offset=".908" stop-color="#6e55c8"/><stop offset=".932" stop-color="#6b58ca"/><stop offset=".987" stop-color="#7b44b7"/><stop offset=".994" stop-color="#813dac"/><stop offset="1.000" stop-color="#843aa6"/></linearGradient>
<linearGradient id="g333" x2="0" y2="1"><stop offset=".000" stop-color="#edf4fb"/><stop offset=".447" stop-color="#ecf3fb"/><stop offset=".598" stop-color="#deebf8"/><stop offset=".633" stop-color="#bad7f2"/><stop offset=".674" stop-color="#3c82d9"/><stop offset=".723" stop-color="#457ad9"/><stop offset=".806" stop-color="#576bd6"/><stop offset=".841" stop-color="#6b5acb"/><stop offset=".877" stop-color="#5b68d5"/><stop offset=".932" stop-color="#5071d8"/><stop offset=".987" stop-color="#6a5acb"/><stop offset=".994" stop-color="#813dac"/><stop offset="1.000" stop-color="#843aa6"/></linearGradient>
<linearGradient id="g334" x2="0" y2="1"><stop offset=".000" stop-color="#edf4fb"/><stop offset=".501" stop-color="#ecf3fb"/><stop offset=".652" stop-color="#dceaf8"/><stop offset=".687" stop-color="#bad7f2"/><stop offset=".722" stop-color="#3b87d9"/><stop offset=".765" stop-color="#437cd9"/><stop offset=".838" stop-color="#596ad5"/><stop offset=".873" stop-color="#6b59ca"/><stop offset=".909" stop-color="#5b67d5"/><stop offset=".932" stop-color="#4c74d8"/><stop offset=".987" stop-color="#6a5acb"/><stop offset=".994" stop-color="#813dac"/><stop offset="1.000" stop-color="#843aa6"/></linearGradient>
<linearGradient id="g335" x2="0" y2="1"><stop offset=".000" stop-color="#edf4fb"/><stop offset=".521" stop-color="#ecf3fb"/><stop offset=".672" stop-color="#dceaf8"/><stop offset=".707" stop-color="#bad7f2"/><stop offset=".743" stop-color="#3e8dda"/><stop offset=".787" stop-color="#3e80d9"/><stop offset=".863" stop-color="#576bd6"/><stop offset=".898" stop-color="#6a5acb"/><stop offset=".933" stop-color="#5a69d5"/><stop offset=".938" stop-color="#4b75d8"/><stop offset=".987" stop-color="#6a5acb"/><stop offset=".994" stop-color="#813dac"/><stop offset="1.000" stop-color="#843aa6"/></linearGradient>
<linearGradient id="g336" x2="0" y2="1"><stop offset=".000" stop-color="#edf4fb"/><stop offset=".536" stop-color="#ecf3fb"/><stop offset=".687" stop-color="#dceaf8"/><stop offset=".722" stop-color="#bad7f2"/><stop offset=".756" stop-color="#3d8cda"/><stop offset=".797" stop-color="#427cd9"/><stop offset=".869" stop-color="#5d67d4"/><stop offset=".904" stop-color="#6d56c8"/><stop offset=".940" stop-color="#6d56c9"/><stop offset=".945" stop-color="#6a5bcc"/><stop offset=".987" stop-color="#7b44b7"/><stop offset=".994" stop-color="#813dac"/><stop offset="1.000" stop-color="#843aa6"/></linearGradient>
<linearGradient id="g337" x2="0" y2="1"><stop offset=".000" stop-color="#edf4fb"/><stop offset=".548" stop-color="#ecf3fb"/><stop offset=".699" stop-color="#dceaf8"/><stop offset=".734" stop-color="#bad7f2"/><stop offset=".767" stop-color="#4191db"/><stop offset=".807" stop-color="#3e80d9"/><stop offset=".876" stop-color="#5b68d5"/><stop offset=".911" stop-color="#6c57c9"/><stop offset=".946" stop-color="#6e55c8"/><stop offset=".951" stop-color="#6b59cb"/><stop offset=".987" stop-color="#7b44b7"/><stop offset=".994" stop-color="#813dac"/><stop offset="1.000" stop-color="#843aa6"/></linearGradient>
<linearGradient id="g338" x2="0" y2="1"><stop offset=".000" stop-color="#edf4fb"/><stop offset=".559" stop-color="#ecf3fb"/><stop offset=".710" stop-color="#dceaf8"/><stop offset=".745" stop-color="#bad7f2"/><stop offset=".775" stop-color="#4394dc"/><stop offset=".812" stop-color="#3c82d9"/><stop offset=".876" stop-color="#5b68d5"/><stop offset=".911" stop-color="#6c57c9"/><stop offset=".947" stop-color="#6e55c8"/><stop offset=".952" stop-color="#6b5acb"/><stop offset=".987" stop-color="#7b44b7"/><stop offset=".994" stop-color="#813dac"/><stop offset="1.000" stop-color="#843aa6"/></linearGradient>
<linearGradient id="g339" x2="0" y2="1"><stop offset=".000" stop-color="#edf4fb"/><stop offset=".568" stop-color="#ecf3fb"/><stop offset=".719" stop-color="#dceaf8"/><stop offset=".755" stop-color="#bad7f2"/><stop offset=".782" stop-color="#4797dd"/><stop offset=".815" stop-color="#3b84d9"/><stop offset=".875" stop-color="#5a69d5"/><stop offset=".910" stop-color="#6c58ca"/><stop offset=".945" stop-color="#6d56c9"/><stop offset=".950" stop-color="#6c58ca"/><stop offset=".987" stop-color="#7b44b7"/><stop offset=".994" stop-color="#813dac"/><stop offset="1.000" stop-color="#843aa6"/></linearGradient>
<linearGradient id="g340" x2="0" y2="1"><stop offset=".000" stop-color="#edf4fb"/><stop offset=".577" stop-color="#ecf3fb"/><stop offset=".728" stop-color="#dceaf8"/><stop offset=".763" stop-color="#bad7f2"/><stop offset=".788" stop-color="#4e9cde"/><stop offset=".819" stop-color="#3b87da"/><stop offset=".874" stop-color="#576bd6"/><stop offset=".909" stop-color="#6b5acb"/><stop offset=".944" stop-color="#6c58ca"/><stop offset=".949" stop-color="#6c58ca"/><stop offset=".987" stop-color="#7b44b7"/><stop offset=".994" stop-color="#813dac"/><stop offset="1.000" stop-color="#843aa6"/></linearGradient>
<linearGradient id="g341" x2="0" y2="1"><stop offset=".000" stop-color="#edf4fb"/><stop offset=".585" stop-color="#ecf3fb"/><stop offset=".736" stop-color="#dceaf8"/><stop offset=".771" stop-color="#bad7f2"/><stop offset=".792" stop-color="#4c9bde"/><stop offset=".816" stop-color="#3b85d9"/><stop offset=".863" stop-color="#5b68d5"/><stop offset=".898" stop-color="#6c57c9"/><stop offset=".934" stop-color="#6c57c9"/><stop offset=".939" stop-color="#6c57ca"/><stop offset=".987" stop-color="#7b44b7"/><stop offset=".994" stop-color="#813dac"/><stop offset="1.000" stop-color="#843aa6"/></linearGradient>
<linearGradient id="g342" x2="0" y2="1"><stop offset=".000" stop-color="#edf4fb"/><stop offset=".530" stop-color="#ecf3fb"/><stop offset=".681" stop-color="#dceaf8"/><stop offset=".717" stop-color="#bad7f2"/><stop offset=".746" stop-color="#3e8dda"/><stop offset=".781" stop-color="#427cd9"/><stop offset=".843" stop-color="#5e65d3"/><stop offset=".879" stop-color="#6e55c7"/><stop offset=".914" stop-color="#5969d5"/><stop offset=".932" stop-color="#5071d8"/><stop offset=".987" stop-color="#6a5acb"/><stop offset=".994" stop-color="#813dac"/><stop offset="1.000" stop-color="#843aa6"/></linearGradient>
<linearGradient id="g343" x2="0" y2="1"><stop offset=".000" stop-color="#edf4fb"/><stop offset=".562" stop-color="#ecf3fb"/><stop offset=".713" stop-color="#dceaf8"/><stop offset=".748" stop-color="#bad7f2"/><stop offset=".770" stop-color="#4090db"/><stop offset=".797" stop-color="#407ed9"/><stop offset=".847" stop-color="#5e66d4"/><stop offset=".883" stop-color="#6e55c8"/><stop offset=".918" stop-color="#5a68d5"/><stop offset=".932" stop-color="#4b75d8"/><stop offset=".987" stop-color="#6a5acb"/><stop offset=".994" stop-color="#813dac"/><stop offset="1.000" stop-color="#843aa6"/></linearGradient>
<linearGradient id="g344" x2="0" y2="1"><stop offset=".000" stop-color="#edf4fb"/><stop offset=".578" stop-color="#ecf3fb"/><stop offset=".729" stop-color="#dceaf8"/><stop offset=".764" stop-color="#bad7f2"/><stop offset=".783" stop-color="#4c9bde"/><stop offset=".807" stop-color="#3b88da"/><stop offset=".852" stop-color="#556dd7"/><stop offset=".888" stop-color="#6a5bcc"/><stop offset=".923" stop-color="#5969d5"/><stop offset=".932" stop-color="#4e72d8"/><stop offset=".987" stop-color="#6a5acb"/><stop offset=".994" stop-color="#813dac"/><stop offset="1.000" stop-color="#843aa6"/></linearGradient>
<linearGradient id="g345" x2="0" y2="1"><stop offset=".000" stop-color="#edf4fb"/><stop offset=".443" stop-color="#ecf3fb"/><stop offset=".594" stop-color="#deebf8"/><stop offset=".629" stop-color="#bad7f2"/><stop offset=".672" stop-color="#3e80d9"/><stop offset=".723" stop-color="#4778d8"/><stop offset=".810" stop-color="#596ad5"/><stop offset=".845" stop-color="#6b59ca"/><stop offset=".881" stop-color="#596ad5"/><stop offset=".932" stop-color="#4c73d8"/><stop offset=".987" stop-color="#6a5acb"/><stop offset=".994" stop-color="#813dac"/><stop offset="1.000" stop-color="#843aa6"/></linearGradient>
<linearGradient id="g346" x2="0" y2="1"><stop offset=".000" stop-color="#edf4fb"/><stop offset=".492" stop-color="#ecf3fb"/><stop offset=".643" stop-color="#dceaf8"/><stop offset=".678" stop-color="#bad7f2"/><stop offset=".713" stop-color="#3b86d9"/><stop offset=".754" stop-color="#437cd9"/><stop offset=".827" stop-color="#576ad6"/><stop offset=".862" stop-color="#6b59cb"/><stop offset=".897" stop-color="#5969d5"/><stop offset=".932" stop-color="#4c73d8"/><stop offset=".987" stop-color="#6a5acb"/><stop offset=".994" stop-color="#813dac"/><stop offset="1.000" stop-color="#843aa6"/></linearGradient>
<linearGradient id="g347" x2="0" y2="1"><stop offset=".000" stop-color="#edf4fb"/><stop offset=".513" stop-color="#ecf3fb"/><stop offset=".664" stop-color="#dceaf8"/><stop offset=".699" stop-color="#bad7f2"/><stop offset=".737" stop-color="#3c89da"/><stop offset=".781" stop-color="#427dd9"/><stop offset=".858" stop-color="#5969d5"/><stop offset=".894" stop-color="#6c58ca"/><stop offset=".929" stop-color="#576bd6"/><stop offset=".934" stop-color="#4c73d8"/><stop offset=".987" stop-color="#6a5acb"/><stop offset=".994" stop-color="#813dac"/><stop offset="1.000" stop-color="#843aa6"/></linearGradient>
<linearGradient id="g348" x2="0" y2="1"><stop offset=".000" stop-color="#edf4fb"/><stop offset=".529" stop-color="#ecf3fb"/><stop offset=".680" stop-color="#dceaf8"/><stop offset=".715" stop-color="#bad7f2"/><stop offset=".750" stop-color="#3e8edb"/><stop offset=".793" stop-color="#3e80d9"/><stop offset=".867" stop-color="#596ad5"/><stop offset=".902" stop-color="#6b59ca"/><stop offset=".937" stop-color="#6d56c8"/><stop offset=".942" stop-color="#6a5bcc"/><stop offset=".987" stop-color="#7b44b7"/><stop offset=".994" stop-color="#813dac"/><stop offset="1.000" stop-color="#843aa6"/></linearGradient>
<linearGradient id="g349" x2="0" y2="1"><stop offset=".000" stop-color="#edf4fb"/><stop offset=".541" stop-color="#ecf3fb"/><stop offset=".692" stop-color="#dceaf8"/><stop offset=".728" stop-color="#bad7f2"/><stop offset=".760" stop-color="#4191db"/><stop offset=".800" stop-color="#3d81d9"/><stop offset=".869" stop-color="#5969d5"/><stop offset=".904" stop-color="#6c58ca"/><stop offset=".940" stop-color="#6c58ca"/><stop offset=".945" stop-color="#6b5acb"/><stop offset=".987" stop-color="#7b44b7"/><stop offset=".994" stop-color="#813dac"/><stop offset="1.000" stop-color="#843aa6"/></linearGradient>
<linearGradient id="g350" x2="0" y2="1"><stop offset=".000" stop-color="#edf4fb"/><stop offset=".552" stop-color="#ecf3fb"/><stop offset=".703" stop-color="#dceaf8"/><stop offset=".739" stop-color="#bad7f2"/><stop offset=".769" stop-color="#4293dc"/><stop offset=".806" stop-color="#3e81d9"/><stop offset=".872" stop-color="#5b68d5"/><stop offset=".907" stop-color="#6c57c9"/><stop offset=".942" stop-color="#6c58ca"/><stop offset=".947" stop-color="#6a5bcc"/><stop offset=".987" stop-color="#7b44b7"/><stop offset=".994" stop-color="#813dac"/><stop offset="1.000" stop-color="#843aa6"/></linearGradient>
<linearGradient id="g351" x2="0" y2="1"><stop offset=".000" stop-color="#edf4fb"/><stop offset=".562" stop-color="#ecf3fb"/><stop offset=".713" stop-color="#dceaf8"/><stop offset=".748" stop-color="#bad7f2"/><stop offset=".777" stop-color="#4696dd"/><stop offset=".813" stop-color="#3b83d9"/><stop offset=".875" stop-color="#5a69d5"/><stop offset=".910" stop-color="#6c58ca"/><stop offset=".946" stop-color="#6c58ca"/><stop offset=".951" stop-color="#6b59cb"/><stop offset=".987" stop-color="#7b44b7"/><stop offset=".994" stop-color="#813dac"/><stop offset="1.000" stop-color="#843aa6"/></linearGradient>
<linearGradient id="g352" x2="0" y2="1"><stop offset=".000" stop-color="#edf4fb"/><stop offset=".571" stop-color="#ecf3fb"/><stop offset=".722" stop-color="#dceaf8"/><stop offset=".757" stop-color="#bad7f2"/><stop offset=".785" stop-color="#4d9cde"/><stop offset=".819" stop-color="#3b87da"/><stop offset=".880" stop-color="#576bd6"/><stop offset=".915" stop-color="#6a5acb"/><stop offset=".951" stop-color="#6c58ca"/><stop offset=".956" stop-color="#6b59cb"/><stop offset=".987" stop-color="#7b44b7"/><stop offset=".994" stop-color="#813dac"/><stop offset="1.000" stop-color="#843aa6"/></linearGradient>
<linearGradient id="g353" x2="0" y2="1"><stop offset=".000" stop-color="#edf4fb"/><stop offset=".579" stop-color="#ecf3fb"/><stop offset=".730" stop-color="#dceaf8"/><stop offset=".765" stop-color="#bad7f2"/><stop offset=".793" stop-color="#4697dd"/><stop offset=".826" stop-color="#3d81d9"/><stop offset=".885" stop-color="#5f65d3"/><stop offset=".920" stop-color="#6e54c7"/><stop offset=".956" stop-color="#6e55c8"/><stop offset=".961" stop-color="#6b59cb"/><stop offset=".987" stop-color="#7b44b7"/><stop offset=".994" stop-color="#813dac"/><stop offset="1.000" stop-color="#843aa6"/></linearGradient>
<linearGradient id="g354" x2="0" y2="1"><stop offset=".000" stop-color="#edf4fb"/><stop offset=".587" stop-color="#ecf3fb"/><stop offset=".738" stop-color="#dceaf8"/><stop offset=".773" stop-color="#bad7f2"/><stop offset=".797" stop-color="#4f9ddf"/><stop offset=".826" stop-color="#3b87d9"/><stop offset=".879" stop-color="#5969d5"/><stop offset=".914" stop-color="#6c58ca"/><stop offset=".949" stop-color="#6c58ca"/><stop offset=".954" stop-color="#6a5acb"/><stop offset=".987" stop-color="#7b44b7"/><stop offset=".994" stop-color="#813dac"/><stop offset="1.000" stop-color="#843aa6"/></linearGradient>
<linearGradient id="g355" x2="0" y2="1"><stop offset=".000" stop-color="#edf4fb"/><stop offset=".594" stop-color="#ecf3fb"/><stop offset=".745" stop-color="#dceaf8"/><stop offset=".780" stop-color="#bad7f2"/><stop offset=".795" stop-color="#53a0e0"/><stop offset=".814" stop-color="#3c89da"/><stop offset=".851" stop-color="#596ad6"/><stop offset=".886" stop-color="#6b59ca"/><stop offset=".922" stop-color="#6e55c8"/><stop offset=".932" stop-color="#6a5bcc"/><stop offset=".987" stop-color="#7b44b7"/><stop offset=".994" stop-color="#813dac"/><stop offset="1.000" stop-color="#843aa6"/></linearGradient>
<linearGradient id="g356" x2="0" y2="1"><stop offset=".000" stop-color="#edf4fb"/><stop offset=".459" stop-color="#ecf3fb"/><stop offset=".610" stop-color="#ddebf8"/><stop offset=".645" stop-color="#bad7f2"/><stop offset=".678" stop-color="#437cd9"/><stop offset=".718" stop-color="#4d73d8"/><stop offset=".788" stop-color="#5f65d3"/><stop offset=".823" stop-color="#6e54c7"/><stop offset=".859" stop-color="#596ad5"/><stop offset=".932" stop-color="#4c74d8"/><stop offset=".987" stop-color="#6a5acb"/><stop offset=".994" stop-color="#813dac"/><stop offset="1.000" stop-color="#843aa6"/></linearGradient>
<linearGradient id="g357" x2="0" y2="1"><stop offset=".000" stop-color="#edf4fb"/><stop offset=".494" stop-color="#ecf3fb"/><stop offset=".645" stop-color="#dceaf8"/><stop offset=".680" stop-color="#bad7f2"/><stop offset=".713" stop-color="#3b88da"/><stop offset=".752" stop-color="#427dd9"/><stop offset=".821" stop-color="#576ad6"/><stop offset=".856" stop-color="#6b59cb"/><stop offset=".891" stop-color="#5b68d5"/><stop offset=".932" stop-color="#4976d8"/><stop offset=".987" stop-color="#6a5acb"/><stop offset=".994" stop-color="#813dac"/><stop offset="1.000" stop-color="#843aa6"/></linearGradient>
<linearGradient id="g358" x2="0" y2="1"><stop offset=".000" stop-color="#edf4fb"/><stop offset=".516" stop-color="#ecf3fb"/><stop offset=".667" stop-color="#dceaf8"/><stop offset=".702" stop-color="#bad7f2"/><stop offset=".738" stop-color="#3c89da"/><stop offset=".780" stop-color="#427cd9"/><stop offset=".853" stop-color="#5b68d5"/><stop offset=".888" stop-color="#6c57c9"/><stop offset=".924" stop-color="#6d56c9"/><stop offset=".932" stop-color="#6a5bcc"/><stop offset=".987" stop-color="#7b44b7"/><stop offset=".994" stop-color="#813dac"/><stop offset="1.000" stop-color="#843aa6"/></linearGradient>
<linearGradient id="g359" x2="0" y2="1"><stop offset=".000" stop-color="#edf4fb"/><stop offset=".534" stop-color="#ecf3fb"/><stop offset=".685" stop-color="#dceaf8"/><stop offset=".720" stop-color="#bad7f2"/><stop offset=".753" stop-color="#4091db"/><stop offset=".793" stop-color="#3c82d9"/><stop offset=".862" stop-color="#576bd6"/><stop offset=".898" stop-color="#6b5acb"/><stop offset=".933" stop-color="#6e55c8"/><stop offset=".938" stop-color="#6c58ca"/><stop offset=".987" stop-color="#7b44b7"/><stop offset=".994" stop-color="#813dac"/><stop offset="1.000" stop-color="#843aa6"/></linearGradient>
<linearGradient id="g360" x2="0" y2="1"><stop offset=".000" stop-color="#edf4fb"/><stop offset=".548" stop-color="#ecf3fb"/><stop offset=".699" stop-color="#dceaf8"/><stop offset=".735" stop-color="#bad7f2"/><stop offset=".766" stop-color="#3f8fdb"/><stop offset=".803" stop-color="#407ed9"/><stop offset=".869" stop-color="#5d67d4"/><stop offset=".904" stop-color="#6d56c8"/><stop offset=".940" stop-color="#6e55c8"/><stop offset=".945" stop-color="#6a5bcc"/><stop offset=".987" stop-color="#7b44b7"/><stop offset=".994" stop-color="#813dac"/><stop offset="1.000" stop-color="#843aa6"/></linearGradient>
<linearGradient id="g361" x2="0" y2="1"><stop offset=".000" stop-color="#edf4fb"/><stop offset=".561" stop-color="#ecf3fb"/><stop offset=".712" stop-color="#dceaf8"/><stop offset=".748" stop-color="#bad7f2"/><stop offset=".775" stop-color="#4293dc"/><stop offset=".807" stop-color="#3e80d9"/><stop offset=".865" stop-color="#5c67d4"/><stop offset=".901" stop-color="#6d56c8"/><stop offset=".936" stop-color="#6d56c8"/><stop offset=".941" stop-color="#6a5bcc"/><stop offset=".987" stop-color="#7b44b7"/><stop offset=".994" stop-color="#813dac"/><stop offset="1.000" stop-color="#843aa6"/></linearGradient>
<linearGradient id="g362" x2="0" y2="1"><stop offset=".000" stop-color="#edf4fb"/><stop offset=".573" stop-color="#ecf3fb"/><stop offset=".724" stop-color="#dceaf8"/><stop offset=".760" stop-color="#bad7f2"/><stop offset=".779" stop-color="#4797dd"/><stop offset=".801" stop-color="#3b84d9"/><stop offset=".846" stop-color="#5969d5"/><stop offset=".881" stop-color="#6c58ca"/><stop offset=".916" stop-color="#6e55c8"/><stop offset=".932" stop-color="#6a5acb"/><stop offset=".987" stop-color="#7b44b7"/><stop offset=".994" stop-color="#813dac"/><stop offset="1.000" stop-color="#843aa6"/></linearGradient>
<linearGradient id="g363" x2="0" y2="1"><stop offset=".000" stop-color="#edf4fb"/><stop offset=".451" stop-color="#ecf3fb"/><stop offset=".602" stop-color="#ddebf8"/><stop offset=".637" stop-color="#bad7f2"/><stop offset=".682" stop-color="#407ed9"/><stop offset=".736" stop-color="#4a75d8"/><stop offset=".826" stop-color="#5d66d4"/><stop offset=".861" stop-color="#6d55c8"/><stop offset=".896" stop-color="#576bd6"/><stop offset=".932" stop-color="#4e73d8"/><stop offset=".987" stop-color="#6a5acb"/><stop offset=".994" stop-color="#813dac"/><stop offset="1.000" stop-color="#843aa6"/></linearGradient>
<linearGradient id="g364" x2="0" y2="1"><stop offset=".000" stop-color="#edf4fb"/><stop offset=".502" stop-color="#ecf3fb"/><stop offset=".653" stop-color="#dceaf8"/><stop offset=".688" stop-color="#bad7f2"/><stop offset=".720" stop-color="#3b88da"/><stop offset=".757" stop-color="#427dd9"/><stop offset=".824" stop-color="#576ad6"/><stop offset=".860" stop-color="#6b59cb"/><stop offset=".895" stop-color="#596ad5"/><stop offset=".932" stop-color="#4b75d8"/><stop offset=".987" stop-color="#6a5acb"/><stop offset=".994" stop-color="#813dac"/><stop offset="1.000" stop-color="#843aa6"/></linearGradient>
<linearGradient id="g365" x2="0" y2="1"><stop offset=".000" stop-color="#edf4fb"/><stop offset=".522" stop-color="#ecf3fb"/><stop offset=".673" stop-color="#dceaf8"/><stop offset=".708" stop-color="#bad7f2"/><stop offset=".741" stop-color="#3b87d9"/><stop offset=".780" stop-color="#4579d8"/><stop offset=".849" stop-color="#5e65d4"/><stop offset=".885" stop-color="#6e55c8"/><stop offset=".920" stop-color="#5a68d5"/><stop offset=".932" stop-color="#4c74d8"/><stop offset=".987" stop-color="#6a5acb"/><stop offset=".994" stop-color="#813dac"/><stop offset="1.000" stop-color="#843aa6"/></linearGradient>
<linearGradient id="g366" x2="0" y2="1"><stop offset=".000" stop-color="#edf4fb"/><stop offset=".536" stop-color="#ecf3fb"/><stop offset=".687" stop-color="#dceaf8"/><stop offset=".723" stop-color="#bbd7f2"/><stop offset=".756" stop-color="#3e8dda"/><stop offset=".796" stop-color="#407dd9"/><stop offset=".866" stop-color="#5b67d4"/><stop offset=".901" stop-color="#6d56c9"/><stop offset=".937" stop-color="#6c57c9"/><stop offset=".942" stop-color="#6c58ca"/><stop offset=".987" stop-color="#7b44b7"/><stop offset=".994" stop-color="#813dac"/><stop offset="1.000" stop-color="#843aa6"/></linearGradient>
<linearGradient id="g367" x2="0" y2="1"><stop offset=".000" stop-color="#edf4fb"/><stop offset=".547" stop-color="#ecf3fb"/><stop offset=".698" stop-color="#dceaf8"/><stop offset=".735" stop-color="#bbd7f2"/><stop offset=".767" stop-color="#4595dc"/><stop offset=".804" stop-color="#3b84d9"/><stop offset=".870" stop-color="#576bd6"/><stop offset=".905" stop-color="#6b59cb"/><stop offset=".940" stop-color="#6d56c9"/><stop offset=".945" stop-color="#6b59cb"/><stop offset=".987" stop-color="#7b44b7"/><stop offset=".994" stop-color="#813dac"/><stop offset="1.000" stop-color="#843aa6"/></linearGradient>
<linearGradient id="g368" x2="0" y2="1"><stop offset=".000" stop-color="#edf4fb"/><stop offset=".556" stop-color="#ecf3fb"/><stop offset=".707" stop-color="#dceaf8"/><stop offset=".746" stop-color="#bbd8f2"/><stop offset=".775" stop-color="#4797dd"/><stop offset=".811" stop-color="#3b85d9"/><stop offset=".874" stop-color="#576bd6"/><stop offset=".909" stop-color="#6c58ca"/><stop offset=".944" stop-color="#6c58ca"/><stop offset=".949" stop-color="#6a5bcc"/><stop offset=".987" stop-color="#7b44b7"/><stop offset=".994" stop-color="#813dac"/><stop offset="1.000" stop-color="#843aa6"/></linearGradient>
<linearGradient id="g369" x2="0" y2="1"><stop offset=".000" stop-color="#edf4fb"/><stop offset=".564" stop-color="#ecf3fb"/><stop offset=".715" stop-color="#dceaf8"/><stop offset=".755" stop-color="#bbd8f2"/><stop offset=".783" stop-color="#4898dd"/><stop offset=".816" stop-color="#3b85d9"/><stop offset=".875" stop-color="#5969d5"/><stop offset=".910" stop-color="#6d56c9"/><stop offset=".945" stop-color="#6c58ca"/><stop offset=".950" stop-color="#6c58ca"/><stop offset=".987" stop-color="#7b44b7"/><stop offset=".994" stop-color="#813dac"/><stop offset="1.000" stop-color="#843aa6"/></linearGradient>
<linearGradient id="g370" x2="0" y2="1"><stop offset=".000" stop-color="#edf4fb"/><stop offset=".571" stop-color="#ecf3fb"/><stop offset=".722" stop-color="#dceaf8"/><stop offset=".764" stop-color="#bbd8f2"/><stop offset=".783" stop-color="#4e9cdf"/><stop offset=".807" stop-color="#3b88da"/><stop offset=".851" stop-color="#576bd6"/><stop offset=".887" stop-color="#6c57ca"/><stop offset=".922" stop-color="#6e55c8"/><stop offset=".932" stop-color="#6c58ca"/><stop offset=".987" stop-color="#7b44b7"/><stop offset=".994" stop-color="#813dac"/><stop offset="1.000" stop-color="#843aa6"/></linearGradient>
<linearGradient id="g371" x2="0" y2="1"><stop offset=".000" stop-color="#edf4fb"/><stop offset=".577" stop-color="#ecf3fb"/><stop offset=".728" stop-color="#dceaf8"/><stop offset=".772" stop-color="#bcd8f2"/><stop offset=".784" stop-color="#4e9cdf"/><stop offset=".797" stop-color="#3b87d9"/><stop offset=".828" stop-color="#596ad5"/><stop offset=".863" stop-color="#6d56c8"/><stop offset=".899" stop-color="#6c57c9"/><stop offset=".932" stop-color="#695ccc"/><stop offset=".987" stop-color="#7b44b7"/><stop offset=".994" stop-color="#813dac"/><stop offset="1.000" stop-color="#843aa6"/></linearGradient>
<linearGradient id="g372" x2="0" y2="1"><stop offset=".000" stop-color="#edf4fb"/><stop offset=".500" stop-color="#ecf3fb"/><stop offset=".651" stop-color="#dceaf8"/><stop offset=".696" stop-color="#bcd8f2"/><stop offset=".728" stop-color="#3f8fdb"/><stop offset=".767" stop-color="#3d81d9"/><stop offset=".835" stop-color="#556cd6"/><stop offset=".870" stop-color="#6c57c9"/><stop offset=".905" stop-color="#5a68d5"/><stop offset=".932" stop-color="#4e71d8"/><stop offset=".987" stop-color="#6a5acb"/><stop offset=".994" stop-color="#813dac"/><stop offset="1.000" stop-color="#843aa6"/></linearGradient>
<linearGradient id="g373" x2="0" y2="1"><stop offset=".000" stop-color="#edf4fb"/><stop offset=".539" stop-color="#ecf3fb"/><stop offset=".690" stop-color="#dceaf8"/><stop offset=".737" stop-color="#bcd8f2"/><stop offset=".766" stop-color="#4697dd"/><stop offset=".800" stop-color="#3b87da"/><stop offset=".862" stop-color="#5070d7"/><stop offset=".897" stop-color="#6b5acb"/><stop offset=".932" stop-color="#576bd6"/><stop offset=".937" stop-color="#5071d8"/><stop offset=".987" stop-color="#6a5acb"/><stop offset=".994" stop-color="#813dac"/><stop offset="1.000" stop-color="#843aa6"/></linearGradient>
<linearGradient id="g374" x2="0" y2="1"><stop offset=".000" stop-color="#edf4fb"/><stop offset=".558" stop-color="#ecf3fb"/><stop offset=".710" stop-color="#dceaf8"/><stop offset=".758" stop-color="#bdd8f2"/><stop offset=".777" stop-color="#4595dd"/><stop offset=".800" stop-color="#3b85d9"/><stop offset=".845" stop-color="#576cd6"/><stop offset=".880" stop-color="#6d56c8"/><stop offset=".915" stop-color="#596ad5"/><stop offset=".932" stop-color="#4e72d8"/><stop offset=".987" stop-color="#6a5acb"/><stop offset=".994" stop-color="#813dac"/><stop offset="1.000" stop-color="#843aa6"/></linearGradient>
<linearGradient id="g375" x2="0" y2="1"><stop offset=".000" stop-color="#edf4fb"/><stop offset=".470" stop-color="#ecf3fb"/><stop offset=".621" stop-color="#dceaf8"/><stop offset=".671" stop-color="#bdd8f2"/><stop offset=".708" stop-color="#3e8ddb"/><stop offset=".753" stop-color="#3b84d9"/><stop offset=".830" stop-color="#4e72d8"/><stop offset=".865" stop-color="#6a5acb"/><stop offset=".900" stop-color="#5969d5"/><stop offset=".932" stop-color="#4e73d8"/><stop offset=".987" stop-color="#6a5acb"/><stop offset=".994" stop-color="#813dac"/><stop offset="1.000" stop-color="#843aa6"/></linearGradient>
<linearGradient id="g376" x2="0" y2="1"><stop offset=".000" stop-color="#edf4fb"/><stop offset=".510" stop-color="#ecf3fb"/><stop offset=".661" stop-color="#dceaf8"/><stop offset=".712" stop-color="#bdd9f2"/><stop offset=".743" stop-color="#3f8edb"/><stop offset=".780" stop-color="#3c82d9"/><stop offset=".846" stop-color="#536ed7"/><stop offset=".881" stop-color="#6d57c9"/><stop offset=".916" stop-color="#576bd6"/><stop offset=".932" stop-color="#4976d8"/><stop offset=".987" stop-color="#6a5acb"/><stop offset=".994" stop-color="#813dac"/><stop offset="1.000" stop-color="#843aa6"/></linearGradient>
<linearGradient id="g377" x2="0" y2="1"><stop offset=".000" stop-color="#edf4fb"/><stop offset=".532" stop-color="#ecf3fb"/><stop offset=".683" stop-color="#dceaf8"/><stop offset=".735" stop-color="#bdd9f2"/><stop offset=".759" stop-color="#4393dc"/><stop offset=".786" stop-color="#3b85d9"/><stop offset=".838" stop-color="#526ed7"/><stop offset=".873" stop-color="#6d56c9"/><stop offset=".908" stop-color="#5b68d5"/><stop offset=".932" stop-color="#4976d8"/><stop offset=".987" stop-color="#6a5acb"/><stop offset=".994" stop-color="#813dac"/><stop offset="1.000" stop-color="#843aa6"/></linearGradient>
<linearGradient id="g378" x2="0" y2="1"><stop offset=".000" stop-color="#edf4fb"/><stop offset=".548" stop-color="#ecf3fb"/><stop offset=".699" stop-color="#dceaf8"/><stop offset=".753" stop-color="#bed9f2"/><stop offset=".766" stop-color="#4f9ddf"/><stop offset=".782" stop-color="#3e8ddb"/><stop offset=".815" stop-color="#4b75d8"/><stop offset=".850" stop-color="#6a5bcc"/><stop offset=".885" stop-color="#6c58ca"/><stop offset=".932" stop-color="#6c58ca"/><stop offset=".987" stop-color="#7b44b7"/><stop offset=".994" stop-color="#813dac"/><stop offset="1.000" stop-color="#843aa6"/></linearGradient>
<linearGradient id="g379" x2="0" y2="1"><stop offset=".000" stop-color="#edf4fb"/><stop offset=".401" stop-color="#ecf3fb"/><stop offset=".552" stop-color="#e0ecf9"/><stop offset=".608" stop-color="#bed9f2"/><stop offset=".652" stop-color="#3c8bda"/><stop offset=".706" stop-color="#3c83d9"/><stop offset=".797" stop-color="#4e72d8"/><stop offset=".832" stop-color="#6c58ca"/><stop offset=".867" stop-color="#596ad5"/><stop offset=".932" stop-color="#5071d7"/><stop offset=".987" stop-color="#6a5acb"/><stop offset=".994" stop-color="#813dac"/><stop offset="1.000" stop-color="#843aa6"/></linearGradient>
<linearGradient id="g380" x2="0" y2="1"><stop offset=".000" stop-color="#edf4fb"/><stop offset=".470" stop-color="#ecf3fb"/><stop offset=".621" stop-color="#dceaf8"/><stop offset=".679" stop-color="#bed9f2"/><stop offset=".714" stop-color="#3f8edb"/><stop offset=".756" stop-color="#3b84d9"/><stop offset=".829" stop-color="#5071d7"/><stop offset=".864" stop-color="#6d57c9"/><stop offset=".899" stop-color="#576ad6"/><stop offset=".932" stop-color="#4e73d8"/><stop offset=".987" stop-color="#6a5acb"/><stop offset=".994" stop-color="#813dac"/><stop offset="1.000" stop-color="#843aa6"/></linearGradient>
<linearGradient id="g381" x2="0" y2="1"><stop offset=".000" stop-color="#edf4fb"/><stop offset=".495" stop-color="#ecf3fb"/><stop offset=".646" stop-color="#dceaf8"/><stop offset=".705" stop-color="#bed9f2"/><stop offset=".739" stop-color="#4a99de"/><stop offset=".781" stop-color="#3d8cda"/><stop offset=".854" stop-color="#4777d8"/><stop offset=".889" stop-color="#6a5bcc"/><stop offset=".924" stop-color="#576ad6"/><stop offset=".932" stop-color="#4e73d8"/><stop offset=".987" stop-color="#6a5acb"/><stop offset=".994" stop-color="#813dac"/><stop offset="1.000" stop-color="#843aa6"/></linearGradient>
<linearGradient id="g382" x2="0" y2="1"><stop offset=".000" stop-color="#edf4fb"/><stop offset=".513" stop-color="#ecf3fb"/><stop offset=".664" stop-color="#dceaf8"/><stop offset=".724" stop-color="#bed9f2"/><stop offset=".758" stop-color="#4e9cde"/><stop offset=".798" stop-color="#3e8ddb"/><stop offset=".869" stop-color="#4976d8"/><stop offset=".904" stop-color="#6a5acb"/><stop offset=".939" stop-color="#6c58ca"/><stop offset=".944" stop-color="#6b59cb"/><stop offset=".987" stop-color="#7b44b7"/><stop offset=".994" stop-color="#813dac"/><stop offset="1.000" stop-color="#843aa6"/></linearGradient>
<linearGradient id="g383" x2="0" y2="1"><stop offset=".000" stop-color="#edf4fb"/><stop offset=".527" stop-color="#ecf3fb"/><stop offset=".678" stop-color="#dceaf8"/><stop offset=".740" stop-color="#bfdaf2"/><stop offset=".768" stop-color="#519edf"/><stop offset=".801" stop-color="#3e8edb"/><stop offset=".860" stop-color="#4975d8"/><stop offset=".895" stop-color="#6b59ca"/><stop offset=".931" stop-color="#6e55c8"/><stop offset=".936" stop-color="#6a5bcc"/><stop offset=".987" stop-color="#7b44b7"/><stop offset=".994" stop-color="#813dac"/><stop offset="1.000" stop-color="#843aa6"/></linearGradient>
<linearGradient id="g384" x2="0" y2="1"><stop offset=".000" stop-color="#edf4fb"/><stop offset=".540" stop-color="#ecf3fb"/><stop offset=".691" stop-color="#dceaf8"/><stop offset=".754" stop-color="#bfdaf2"/><stop offset=".773" stop-color="#4f9ddf"/><stop offset=".797" stop-color="#3d8cda"/><stop offset=".842" stop-color="#4e72d8"/><stop offset=".877" stop-color="#6e55c8"/><stop offset=".912" stop-color="#6c57c9"/><stop offset=".932" stop-color="#6c58ca"/><stop offset=".987" stop-color="#7b44b7"/><stop offset=".994" stop-color="#813dac"/><stop offset="1.000" stop-color="#843aa6"/></linearGradient>
<linearGradient id="g385" x2="0" y2="1"><stop offset=".000" stop-color="#edf4fb"/><stop offset=".409" stop-color="#ecf3fb"/><stop offset=".560" stop-color="#e0ecf8"/><stop offset=".625" stop-color="#bfdaf2"/><stop offset=".673" stop-color="#4090db"/><stop offset=".731" stop-color="#3b87d9"/><stop offset=".828" stop-color="#4976d8"/><stop offset=".864" stop-color="#6c58ca"/><stop offset=".899" stop-color="#5969d5"/><stop offset=".932" stop-color="#4b75d8"/><stop offset=".987" stop-color="#6a5acb"/><stop offset=".994" stop-color="#813dac"/><stop offset="1.000" stop-color="#843aa6"/></linearGradient>
<linearGradient id="g386" x2="0" y2="1"><stop offset=".000" stop-color="#edf4fb"/><stop offset=".466" stop-color="#ecf3fb"/><stop offset=".617" stop-color="#ddeaf8"/><stop offset=".683" stop-color="#c0daf2"/><stop offset=".719" stop-color="#4696dd"/><stop offset=".762" stop-color="#3d8bda"/><stop offset=".837" stop-color="#4778d8"/><stop offset=".872" stop-color="#6b5acb"/><stop offset=".907" stop-color="#596ad5"/><stop offset=".932" stop-color="#4e72d8"/><stop offset=".987" stop-color="#6a5acb"/><stop offset=".994" stop-color="#813dac"/><stop offset="1.000" stop-color="#843aa6"/></linearGradient>
<linearGradient id="g387" x2="0" y2="1"><stop offset=".000" stop-color="#edf4fb"/><stop offset=".493" stop-color="#ecf3fb"/><stop offset=".644" stop-color="#dceaf8"/><stop offset=".712" stop-color="#c0daf2"/><stop offset=".743" stop-color="#4a9ade"/><stop offset=".780" stop-color="#3e8ddb"/><stop offset=".845" stop-color="#4778d8"/><stop offset=".881" stop-color="#6b59ca"/><stop offset=".916" stop-color="#576bd6"/><stop offset=".932" stop-color="#4b74d8"/><stop offset=".987" stop-color="#6a5acb"/><stop offset=".994" stop-color="#813dac"/><stop offset="1.000" stop-color="#843aa6"/></linearGradient>
<linearGradient id="g388" x2="0" y2="1"><stop offset=".000" stop-color="#edf4fb"/><stop offset=".512" stop-color="#ecf3fb"/><stop offset=".663" stop-color="#dceaf8"/><stop offset=".732" stop-color="#c0daf3"/><stop offset=".758" stop-color="#54a0e0"/><stop offset=".788" stop-color="#4192dc"/><stop offset=".844" stop-color="#437bd9"/><stop offset=".879" stop-color="#6a5acc"/><stop offset=".915" stop-color="#6c57c9"/><stop offset=".932" stop-color="#6b59cb"/><stop offset=".987" stop-color="#7b44b7"/><stop offset=".994" stop-color="#813dac"/><stop offset="1.000" stop-color="#843aa6"/></linearGradient>
<linearGradient id="g389" x2="0" y2="1"><stop offset=".000" stop-color="#edf4fb"/><stop offset=".527" stop-color="#ecf3fb"/><stop offset=".678" stop-color="#dceaf8"/><stop offset=".748" stop-color="#c0daf3"/><stop offset=".768" stop-color="#53a0e0"/><stop offset=".792" stop-color="#4090db"/><stop offset=".839" stop-color="#4777d8"/><stop offset=".874" stop-color="#6c57c9"/><stop offset=".909" stop-color="#6d56c9"/><stop offset=".932" stop-color="#6a5acb"/><stop offset=".987" stop-color="#7b44b7"/><stop offset=".994" stop-color="#813dac"/><stop offset="1.000" stop-color="#843aa6"/></linearGradient>
<linearGradient id="g390" x2="0" y2="1"><stop offset=".000" stop-color="#edf4fb"/><stop offset=".539" stop-color="#ecf3fb"/><stop offset=".690" stop-color="#dceaf8"/><stop offset=".762" stop-color="#c0daf3"/><stop offset=".778" stop-color="#62a8e2"/><stop offset=".796" stop-color="#4697dd"/><stop offset=".833" stop-color="#407dd9"/><stop offset=".868" stop-color="#6a5bcc"/><stop offset=".903" stop-color="#6c58ca"/><stop offset=".932" stop-color="#6a5acb"/><stop offset=".987" stop-color="#7b44b7"/><stop offset=".994" stop-color="#813dac"/><stop offset="1.000" stop-color="#843aa6"/></linearGradient>
<linearGradient id="g391" x2="0" y2="1"><stop offset=".000" stop-color="#edf4fb"/><stop offset=".468" stop-color="#ecf3fb"/><stop offset=".619" stop-color="#ddeaf8"/><stop offset=".693" stop-color="#c1dbf3"/><stop offset=".727" stop-color="#529fdf"/><stop offset=".769" stop-color="#4192dc"/><stop offset=".842" stop-color="#427cd9"/><stop offset=".877" stop-color="#6b5acb"/><stop offset=".912" stop-color="#5969d5"/><stop offset=".932" stop-color="#4a75d8"/><stop offset=".987" stop-color="#6a5acb"/><stop offset=".994" stop-color="#813dac"/><stop offset="1.000" stop-color="#843aa6"/></linearGradient>
<linearGradient id="g392" x2="0" y2="1"><stop offset=".000" stop-color="#edf4fb"/><stop offset=".492" stop-color="#ecf3fb"/><stop offset=".643" stop-color="#dceaf8"/><stop offset=".719" stop-color="#c1dbf3"/><stop offset=".751" stop-color="#509edf"/><stop offset=".789" stop-color="#3f8fdb"/><stop offset=".856" stop-color="#4777d8"/><stop offset=".891" stop-color="#6d55c8"/><stop offset=".927" stop-color="#5969d5"/><stop offset=".932" stop-color="#4e73d8"/><stop offset=".987" stop-color="#6a5acb"/><stop offset=".994" stop-color="#813dac"/><stop offset="1.000" stop-color="#843aa6"/></linearGradient>
<linearGradient id="g393" x2="0" y2="1"><stop offset=".000" stop-color="#edf4fb"/><stop offset=".507" stop-color="#ecf3fb"/><stop offset=".659" stop-color="#dceaf8"/><stop offset=".735" stop-color="#c1dbf3"/><stop offset=".764" stop-color="#56a1e0"/><stop offset=".799" stop-color="#4191db"/><stop offset=".861" stop-color="#4778d8"/><stop offset=".896" stop-color="#6d56c8"/><stop offset=".931" stop-color="#6d56c9"/><stop offset=".936" stop-color="#6b5acb"/><stop offset=".987" stop-color="#7b44b7"/><stop offset=".994" stop-color="#813dac"/><stop offset="1.000" stop-color="#843aa6"/></linearGradient>
<linearGradient id="g394" x2="0" y2="1"><stop offset=".000" stop-color="#edf4fb"/><stop offset=".519" stop-color="#ecf3fb"/><stop offset=".670" stop-color="#dceaf8"/><stop offset=".748" stop-color="#c1dbf3"/><stop offset=".774" stop-color="#62a9e3"/><stop offset=".805" stop-color="#4797dd"/><stop offset=".861" stop-color="#407dd9"/><stop offset=".896" stop-color="#6b59ca"/><stop offset=".931" stop-color="#6c58ca"/><stop offset=".936" stop-color="#6c58ca"/><stop offset=".987" stop-color="#7b44b7"/><stop offset=".994" stop-color="#813dac"/><stop offset="1.000" stop-color="#843aa6"/></linearGradient>
<linearGradient id="g395" x2="0" y2="1"><stop offset=".000" stop-color="#edf4fb"/><stop offset=".529" stop-color="#ecf3fb"/><stop offset=".680" stop-color="#dceaf8"/><stop offset=".760" stop-color="#c1dbf3"/><stop offset=".780" stop-color="#64a9e3"/><stop offset=".804" stop-color="#4797dd"/><stop offset=".850" stop-color="#427cd9"/><stop offset=".886" stop-color="#6c57ca"/><stop offset=".921" stop-color="#6c58ca"/><stop offset=".932" stop-color="#6c57c9"/><stop offset=".987" stop-color="#7b44b7"/><stop offset=".994" stop-color="#813dac"/><stop offset="1.000" stop-color="#843aa6"/></linearGradient>
<linearGradient id="g396" x2="0" y2="1"><stop offset=".000" stop-color="#edf4fb"/><stop offset=".537" stop-color="#ecf3fb"/><stop offset=".688" stop-color="#dceaf8"/><stop offset=".769" stop-color="#c2dbf3"/><stop offset=".785" stop-color="#67abe4"/><stop offset=".803" stop-color="#4797dd"/><stop offset=".840" stop-color="#427cd9"/><stop offset=".876" stop-color="#6c57c9"/><stop offset=".911" stop-color="#6d56c9"/><stop offset=".932" stop-color="#6b5acb"/><stop offset=".987" stop-color="#7b44b7"/><stop offset=".994" stop-color="#813dac"/><stop offset="1.000" stop-color="#843aa6"/></linearGradient>
<linearGradient id="g397" x2="0" y2="1"><stop offset=".000" stop-color="#edf4fb"/><stop offset=".437" stop-color="#ecf3fb"/><stop offset=".588" stop-color="#deebf8"/><stop offset=".671" stop-color="#c2dbf3"/><stop offset=".711" stop-color="#5da5e1"/><stop offset=".759" stop-color="#4797dd"/><stop offset=".842" stop-color="#3d81d9"/><stop offset=".877" stop-color="#6a5acb"/><stop offset=".912" stop-color="#5b67d5"/><stop offset=".932" stop-color="#4976d8"/><stop offset=".987" stop-color="#6a5acb"/><stop offset=".994" stop-color="#813dac"/><stop offset="1.000" stop-color="#843aa6"/></linearGradient>
<linearGradient id="g398" x2="0" y2="1"><stop offset=".000" stop-color="#edf4fb"/><stop offset=".489" stop-color="#ecf3fb"/><stop offset=".640" stop-color="#dceaf8"/><stop offset=".724" stop-color="#c2dcf3"/><stop offset=".754" stop-color="#5fa7e2"/><stop offset=".791" stop-color="#4797dd"/><stop offset=".855" stop-color="#3e7fd9"/><stop offset=".890" stop-color="#6b58ca"/><stop offset=".926" stop-color="#5b67d5"/><stop offset=".932" stop-color="#4976d8"/><stop offset=".987" stop-color="#6a5acb"/><stop offset=".994" stop-color="#813dac"/><stop offset="1.000" stop-color="#843aa6"/></linearGradient>
<linearGradient id="g399" x2="0" y2="1"><stop offset=".000" stop-color="#edf4fb"/><stop offset=".507" stop-color="#ecf3fb"/><stop offset=".658" stop-color="#dceaf8"/><stop offset=".744" stop-color="#c3dcf3"/><stop offset=".768" stop-color="#62a9e3"/><stop offset=".797" stop-color="#4898dd"/><stop offset=".850" stop-color="#407fd9"/><stop offset=".885" stop-color="#6c57ca"/><stop offset=".920" stop-color="#596ad5"/><stop offset=".932" stop-color="#4975d8"/><stop offset=".987" stop-color="#6a5acb"/><stop offset=".994" stop-color="#813dac"/><stop offset="1.000" stop-color="#843aa6"/></linearGradient>
<linearGradient id="g400" x2="0" y2="1"><stop offset=".000" stop-color="#edf4fb"/><stop offset=".520" stop-color="#ecf3fb"/><stop offset=".671" stop-color="#dceaf8"/><stop offset=".758" stop-color="#c3dcf3"/><stop offset=".777" stop-color="#60a7e2"/><stop offset=".799" stop-color="#4595dd"/><stop offset=".842" stop-color="#437bd9"/><stop offset=".878" stop-color="#6e54c7"/><stop offset=".913" stop-color="#6c57c9"/><stop offset=".932" stop-color="#695ccc"/><stop offset=".987" stop-color="#7b44b7"/><stop offset=".994" stop-color="#813dac"/><stop offset="1.000" stop-color="#843aa6"/></linearGradient>
<linearGradient id="g401" x2="0" y2="1"><stop offset=".000" stop-color="#edf4fb"/><stop offset=".402" stop-color="#ecf3fb"/><stop offset=".553" stop-color="#e0ecf9"/><stop offset=".641" stop-color="#c3dcf3"/><stop offset=".687" stop-color="#54a0e0"/><stop offset=".742" stop-color="#4495dc"/><stop offset=".835" stop-color="#3e80d9"/><stop offset=".870" stop-color="#6c58ca"/><stop offset=".906" stop-color="#576cd6"/><stop offset=".932" stop-color="#4e73d8"/><stop offset=".987" stop-color="#6a5acb"/><stop offset=".994" stop-color="#813dac"/><stop offset="1.000" stop-color="#843aa6"/></linearGradient>
<linearGradient id="g402" x2="0" y2="1"><stop offset=".000" stop-color="#edf4fb"/><stop offset=".442" stop-color="#ecf3fb"/><stop offset=".593" stop-color="#deebf8"/><stop offset=".684" stop-color="#c3dcf3"/><stop offset=".721" stop-color="#539fdf"/><stop offset=".765" stop-color="#4293dc"/><stop offset=".841" stop-color="#407dd9"/><stop offset=".876" stop-color="#6e55c8"/><stop offset=".912" stop-color="#5b68d5"/><stop offset=".932" stop-color="#4977d8"/><stop offset=".987" stop-color="#6a5acb"/><stop offset=".994" stop-color="#813dac"/><stop offset="1.000" stop-color="#843aa6"/></linearGradient>
<linearGradient id="g403" x2="0" y2="1"><stop offset=".000" stop-color="#edf4fb"/><stop offset=".468" stop-color="#ecf3fb"/><stop offset=".619" stop-color="#ddeaf8"/><stop offset=".711" stop-color="#c4dcf3"/><stop offset=".746" stop-color="#5ca5e1"/><stop offset=".788" stop-color="#4797dd"/><stop offset=".861" stop-color="#3e80d9"/><stop offset=".896" stop-color="#6d56c9"/><stop offset=".931" stop-color="#576ad6"/><stop offset=".936" stop-color="#4c74d8"/><stop offset=".987" stop-color="#6a5acb"/><stop offset=".994" stop-color="#813dac"/><stop offset="1.000" stop-color="#843aa6"/></linearGradient>
<linearGradient id="g404" x2="0" y2="1"><stop offset=".000" stop-color="#edf4fb"/><stop offset=".484" stop-color="#ecf3fb"/><stop offset=".635" stop-color="#dceaf8"/><stop offset=".729" stop-color="#c4dcf3"/><stop offset=".763" stop-color="#69ace4"/><stop offset=".804" stop-color="#4e9cdf"/><stop offset=".875" stop-color="#3b84d9"/><stop offset=".910" stop-color="#6b59cb"/><stop offset=".945" stop-color="#6c57c9"/><stop offset=".950" stop-color="#6a5bcc"/><stop offset=".987" stop-color="#7b44b7"/><stop offset=".994" stop-color="#813dac"/><stop offset="1.000" stop-color="#843aa6"/></linearGradient>
<linearGradient id="g405" x2="0" y2="1"><stop offset=".000" stop-color="#edf4fb"/><stop offset=".497" stop-color="#ecf3fb"/><stop offset=".648" stop-color="#dceaf8"/><stop offset=".743" stop-color="#c4dcf3"/><stop offset=".767" stop-color="#69ace4"/><stop offset=".796" stop-color="#4c9bde"/><stop offset=".849" stop-color="#3c82d9"/><stop offset=".884" stop-color="#6d56c9"/><stop offset=".920" stop-color="#6c58ca"/><stop offset=".932" stop-color="#6c57c9"/><stop offset=".987" stop-color="#7b44b7"/><stop offset=".994" stop-color="#813dac"/><stop offset="1.000" stop-color="#843aa6"/></linearGradient>
<linearGradient id="g406" x2="0" y2="1"><stop offset=".000" stop-color="#edf4fb"/><stop offset=".508" stop-color="#ecf3fb"/><stop offset=".659" stop-color="#dceaf8"/><stop offset=".755" stop-color="#c4ddf3"/><stop offset=".778" stop-color="#78b4e7"/><stop offset=".806" stop-color="#57a2e0"/><stop offset=".857" stop-color="#3b88da"/><stop offset=".892" stop-color="#6a5bcc"/><stop offset=".927" stop-color="#6e55c8"/><stop offset=".932" stop-color="#6a5bcc"/><stop offset=".987" stop-color="#7b44b7"/><stop offset=".994" stop-color="#813dac"/><stop offset="1.000" stop-color="#843aa6"/></linearGradient>
<linearGradient id="g407" x2="0" y2="1"><stop offset=".000" stop-color="#edf4fb"/><stop offset=".517" stop-color="#ecf3fb"/><stop offset=".668" stop-color="#dceaf8"/><stop offset=".766" stop-color="#c4ddf3"/><stop offset=".786" stop-color="#7cb6e7"/><stop offset=".809" stop-color="#59a3e1"/><stop offset=".854" stop-color="#3b88da"/><stop offset=".889" stop-color="#6a5bcc"/><stop offset=".925" stop-color="#6d56c8"/><stop offset=".932" stop-color="#6b59cb"/><stop offset=".987" stop-color="#7b44b7"/><stop offset=".994" stop-color="#813dac"/><stop offset="1.000" stop-color="#843aa6"/></linearGradient>
<linearGradient id="g408" x2="0" y2="1"><stop offset=".000" stop-color="#edf4fb"/><stop offset=".458" stop-color="#ecf3fb"/><stop offset=".610" stop-color="#ddebf8"/><stop offset=".709" stop-color="#c5ddf3"/><stop offset=".743" stop-color="#6bade4"/><stop offset=".785" stop-color="#4e9cde"/><stop offset=".856" stop-color="#3c82d9"/><stop offset=".892" stop-color="#6d55c8"/><stop offset=".927" stop-color="#596ad5"/><stop offset=".932" stop-color="#4e73d8"/><stop offset=".987" stop-color="#6a5acb"/><stop offset=".994" stop-color="#813dac"/><stop offset="1.000" stop-color="#843aa6"/></linearGradient>
<linearGradient id="g409" x2="0" y2="1"><stop offset=".000" stop-color="#edf4fb"/><stop offset=".496" stop-color="#ecf3fb"/><stop offset=".648" stop-color="#dceaf8"/><stop offset=".748" stop-color="#c5ddf3"/><stop offset=".774" stop-color="#7db7e8"/><stop offset=".805" stop-color="#5ba4e1"/><stop offset=".862" stop-color="#3c8ada"/><stop offset=".897" stop-color="#6a5bcc"/><stop offset=".932" stop-color="#5969d5"/><stop offset=".937" stop-color="#4c74d8"/><stop offset=".987" stop-color="#6a5acb"/><stop offset=".994" stop-color="#813dac"/><stop offset="1.000" stop-color="#843aa6"/></linearGradient>
<linearGradient id="g410" x2="0" y2="1"><stop offset=".000" stop-color="#edf4fb"/><stop offset=".509" stop-color="#ecf3fb"/><stop offset=".660" stop-color="#dceaf8"/><stop offset=".763" stop-color="#c5ddf3"/><stop offset=".786" stop-color="#70b0e5"/><stop offset=".814" stop-color="#4f9ddf"/><stop offset=".865" stop-color="#3c82d9"/><stop offset=".900" stop-color="#6e54c7"/><stop offset=".936" stop-color="#576cd6"/><stop offset=".941" stop-color="#4977d8"/><stop offset=".987" stop-color="#6a5acb"/><stop offset=".994" stop-color="#813dac"/><stop offset="1.000" stop-color="#843aa6"/></linearGradient>
<linearGradient id="g411" x2="0" y2="1"><stop offset=".000" stop-color="#edf4fb"/><stop offset=".519" stop-color="#ecf3fb"/><stop offset=".670" stop-color="#dceaf8"/><stop offset=".774" stop-color="#c6ddf4"/><stop offset=".793" stop-color="#7ab5e7"/><stop offset=".816" stop-color="#56a1e0"/><stop offset=".861" stop-color="#3b85d9"/><stop offset=".896" stop-color="#6d56c9"/><stop offset=".932" stop-color="#6e55c8"/><stop offset=".937" stop-color="#6b5acb"/><stop offset=".987" stop-color="#7b44b7"/><stop offset=".994" stop-color="#813dac"/><stop offset="1.000" stop-color="#843aa6"/></linearGradient>
<linearGradient id="g412" x2="0" y2="1"><stop offset=".000" stop-color="#edf4fb"/><stop offset=".424" stop-color="#ecf3fb"/><stop offset=".575" stop-color="#dfecf8"/><stop offset=".680" stop-color="#c6ddf4"/><stop offset=".719" stop-color="#67abe3"/><stop offset=".766" stop-color="#4e9cdf"/><stop offset=".846" stop-color="#3b86d9"/><stop offset=".882" stop-color="#6d56c8"/><stop offset=".917" stop-color="#5969d5"/><stop offset=".932" stop-color="#4b74d8"/><stop offset=".987" stop-color="#6a5acb"/><stop offset=".994" stop-color="#813dac"/><stop offset="1.000" stop-color="#843aa6"/></linearGradient>
<linearGradient id="g413" x2="0" y2="1"><stop offset=".000" stop-color="#edf4fb"/><stop offset=".457" stop-color="#ecf3fb"/><stop offset=".608" stop-color="#ddebf8"/><stop offset=".715" stop-color="#c6def4"/><stop offset=".746" stop-color="#71b1e5"/><stop offset=".784" stop-color="#55a1e0"/><stop offset=".851" stop-color="#3c89da"/><stop offset=".886" stop-color="#6c58ca"/><stop offset=".922" stop-color="#5969d5"/><stop offset=".932" stop-color="#4977d8"/><stop offset=".987" stop-color="#6a5acb"/><stop offset=".994" stop-color="#813dac"/><stop offset="1.000" stop-color="#843aa6"/></linearGradient>
<linearGradient id="g414" x2="0" y2="1"><stop offset=".000" stop-color="#edf4fb"/><stop offset=".473" stop-color="#ecf3fb"/><stop offset=".624" stop-color="#dceaf8"/><stop offset=".732" stop-color="#c6def4"/><stop offset=".764" stop-color="#7ab5e7"/><stop offset=".801" stop-color="#5aa4e1"/><stop offset=".868" stop-color="#3c8bda"/><stop offset=".903" stop-color="#6b59cb"/><stop offset=".939" stop-color="#5a68d5"/><stop offset=".944" stop-color="#4a75d8"/><stop offset=".987" stop-color="#6a5acb"/><stop offset=".994" stop-color="#813dac"/><stop offset="1.000" stop-color="#843aa6"/></linearGradient>
<linearGradient id="g415" x2="0" y2="1"><stop offset=".000" stop-color="#edf4fb"/><stop offset=".485" stop-color="#ecf3fb"/><stop offset=".636" stop-color="#dceaf8"/><stop offset=".746" stop-color="#c6def4"/><stop offset=".774" stop-color="#7bb6e7"/><stop offset=".807" stop-color="#5aa4e1"/><stop offset=".868" stop-color="#3c8ada"/><stop offset=".903" stop-color="#6c58ca"/><stop offset=".939" stop-color="#6c57ca"/><stop offset=".944" stop-color="#6a5acb"/><stop offset=".987" stop-color="#7b44b7"/><stop offset=".994" stop-color="#813dac"/><stop offset="1.000" stop-color="#843aa6"/></linearGradient>
<linearGradient id="g416" x2="0" y2="1"><stop offset=".000" stop-color="#edf4fb"/><stop offset=".494" stop-color="#ecf3fb"/><stop offset=".645" stop-color="#dceaf8"/><stop offset=".757" stop-color="#c7def4"/><stop offset=".782" stop-color="#7cb6e7"/><stop offset=".813" stop-color="#5aa4e1"/><stop offset=".869" stop-color="#3c89da"/><stop offset=".904" stop-color="#6d56c9"/><stop offset=".939" stop-color="#6d56c8"/><stop offset=".944" stop-color="#6c57c9"/><stop offset=".987" stop-color="#7b44b7"/><stop offset=".994" stop-color="#813dac"/><stop offset="1.000" stop-color="#843aa6"/></linearGradient>
<linearGradient id="g417" x2="0" y2="1"><stop offset=".000" stop-color="#edf4fb"/><stop offset=".502" stop-color="#ecf3fb"/><stop offset=".653" stop-color="#dceaf8"/><stop offset=".766" stop-color="#c7def4"/><stop offset=".787" stop-color="#84bae9"/><stop offset=".811" stop-color="#5fa7e2"/><stop offset=".857" stop-color="#3d8bda"/><stop offset=".892" stop-color="#6c58ca"/><stop offset=".927" stop-color="#6c58ca"/><stop offset=".933" stop-color="#6a5acb"/><stop offset=".987" stop-color="#7b44b7"/><stop offset=".994" stop-color="#813dac"/><stop offset="1.000" stop-color="#843aa6"/></linearGradient>
<linearGradient id="g418" x2="0" y2="1"><stop offset=".000" stop-color="#edf4fb"/><stop offset=".405" stop-color="#ecf3fb"/><stop offset=".556" stop-color="#e0ecf9"/><stop offset=".671" stop-color="#c7def4"/><stop offset=".710" stop-color="#7eb7e8"/><stop offset=".757" stop-color="#61a8e2"/><stop offset=".838" stop-color="#4090db"/><stop offset=".874" stop-color="#6a5bcc"/><stop offset=".909" stop-color="#576ad6"/><stop offset=".932" stop-color="#4c73d8"/><stop offset=".987" stop-color="#6a5acb"/><stop offset=".994" stop-color="#813dac"/><stop offset="1.000" stop-color="#843aa6"/></linearGradient>
<linearGradient id="g419" x2="0" y2="1"><stop offset=".000" stop-color="#edf4fb"/><stop offset=".439" stop-color="#ecf3fb"/><stop offset=".590" stop-color="#deebf8"/><stop offset=".706" stop-color="#c8dff4"/><stop offset=".736" stop-color="#77b4e6"/><stop offset=".772" stop-color="#5aa4e1"/><stop offset=".837" stop-color="#3d8bda"/><stop offset=".872" stop-color="#6d57c9"/><stop offset=".907" stop-color="#576ad6"/><stop offset=".932" stop-color="#4976d8"/><stop offset=".987" stop-color="#6a5acb"/><stop offset=".994" stop-color="#813dac"/><stop offset="1.000" stop-color="#843aa6"/></linearGradient>
<linearGradient id="g420" x2="0" y2="1"><stop offset=".000" stop-color="#edf4fb"/><stop offset=".460" stop-color="#ecf3fb"/><stop offset=".611" stop-color="#ddebf8"/><stop offset=".728" stop-color="#c8dff4"/><stop offset=".757" stop-color="#86bce9"/><stop offset=".790" stop-color="#66aae3"/><stop offset=".851" stop-color="#4091db"/><stop offset=".886" stop-color="#6a5acc"/><stop offset=".922" stop-color="#576bd6"/><stop offset=".932" stop-color="#4c74d8"/><stop offset=".987" stop-color="#6a5acb"/><stop offset=".994" stop-color="#813dac"/><stop offset="1.000" stop-color="#843aa6"/></linearGradient>
<linearGradient id="g421" x2="0" y2="1"><stop offset=".000" stop-color="#edf4fb"/><stop offset=".473" stop-color="#ecf3fb"/><stop offset=".624" stop-color="#dceaf8"/><stop offset=".743" stop-color="#c8dff4"/><stop offset=".770" stop-color="#88bce9"/><stop offset=".802" stop-color="#66aae3"/><stop offset=".860" stop-color="#4090db"/><stop offset=".895" stop-color="#6b59cb"/><stop offset=".930" stop-color="#6e55c8"/><stop offset=".935" stop-color="#6b59cb"/><stop offset=".987" stop-color="#7b44b7"/><stop offset=".994" stop-color="#813dac"/><stop offset="1.000" stop-color="#843aa6"/></linearGradient>
<linearGradient id="g422" x2="0" y2="1"><stop offset=".000" stop-color="#edf4fb"/><stop offset=".483" stop-color="#ecf3fb"/><stop offset=".634" stop-color="#dceaf8"/><stop offset=".755" stop-color="#c8dff4"/><stop offset=".778" stop-color="#8abeea"/><stop offset=".806" stop-color="#67abe3"/><stop offset=".859" stop-color="#4090db"/><stop offset=".894" stop-color="#6b59ca"/><stop offset=".929" stop-color="#6c57c9"/><stop offset=".934" stop-color="#695ccc"/><stop offset=".987" stop-color="#7b44b7"/><stop offset=".994" stop-color="#813dac"/><stop offset="1.000" stop-color="#843aa6"/></linearGradient>
<linearGradient id="g423" x2="0" y2="1"><stop offset=".000" stop-color="#edf4fb"/><stop offset=".492" stop-color="#ecf3fb"/><stop offset=".643" stop-color="#dceaf8"/><stop offset=".765" stop-color="#c9dff4"/><stop offset=".791" stop-color="#86bce9"/><stop offset=".821" stop-color="#62a8e3"/><stop offset=".877" stop-color="#3e8dda"/><stop offset=".912" stop-color="#6d56c8"/><stop offset=".948" stop-color="#6d56c8"/><stop offset=".953" stop-color="#6a5acb"/><stop offset=".987" stop-color="#7b44b7"/><stop offset=".994" stop-color="#813dac"/><stop offset="1.000" stop-color="#843aa6"/></linearGradient>
<linearGradient id="g424" x2="0" y2="1"><stop offset=".000" stop-color="#edf4fb"/><stop offset=".499" stop-color="#ecf3fb"/><stop offset=".650" stop-color="#dceaf8"/><stop offset=".774" stop-color="#c9dff4"/><stop offset=".798" stop-color="#89bdea"/><stop offset=".826" stop-color="#64a9e3"/><stop offset=".878" stop-color="#3e8ddb"/><stop offset=".914" stop-color="#6d56c8"/><stop offset=".949" stop-color="#6c57c9"/><stop offset=".954" stop-color="#6a5bcc"/><stop offset=".987" stop-color="#7b44b7"/><stop offset=".994" stop-color="#813dac"/><stop offset="1.000" stop-color="#843aa6"/></linearGradient>
<linearGradient id="g425" x2="0" y2="1"><stop offset=".000" stop-color="#edf4fb"/><stop offset=".447" stop-color="#ecf3fb"/><stop offset=".598" stop-color="#deebf8"/><stop offset=".724" stop-color="#c9dff4"/><stop offset=".754" stop-color="#8dbfea"/><stop offset=".790" stop-color="#6bade4"/><stop offset=".855" stop-color="#4293dc"/><stop offset=".890" stop-color="#6b5acb"/><stop offset=".925" stop-color="#576bd6"/><stop offset=".932" stop-color="#4d73d8"/><stop offset=".987" stop-color="#6a5acb"/><stop offset=".994" stop-color="#813dac"/><stop offset="1.000" stop-color="#843aa6"/></linearGradient>
<linearGradient id="g426" x2="0" y2="1"><stop offset=".000" stop-color="#edf4fb"/><stop offset=".468" stop-color="#ecf3fb"/><stop offset=".619" stop-color="#dceaf8"/><stop offset=".745" stop-color="#c9dff4"/><stop offset=".773" stop-color="#88bde9"/><stop offset=".806" stop-color="#65aae3"/><stop offset=".866" stop-color="#3f8fdb"/><stop offset=".902" stop-color="#6d56c9"/><stop offset=".937" stop-color="#5a69d5"/><stop offset=".942" stop-color="#4976d8"/><stop offset=".987" stop-color="#6a5acb"/><stop offset=".994" stop-color="#813dac"/><stop offset="1.000" stop-color="#843aa6"/></linearGradient>
<linearGradient id="g427" x2="0" y2="1"><stop offset=".000" stop-color="#edf4fb"/><stop offset=".481" stop-color="#ecf3fb"/><stop offset=".633" stop-color="#dceaf8"/><stop offset=".758" stop-color="#c9dff4"/><stop offset=".784" stop-color="#88bde9"/><stop offset=".814" stop-color="#64a9e3"/><stop offset=".869" stop-color="#3e8edb"/><stop offset=".905" stop-color="#6d55c8"/><stop offset=".940" stop-color="#6d57c9"/><stop offset=".945" stop-color="#6a5acb"/><stop offset=".987" stop-color="#7b44b7"/><stop offset=".994" stop-color="#813dac"/><stop offset="1.000" stop-color="#843aa6"/></linearGradient>
<linearGradient id="g428" x2="0" y2="1"><stop offset=".000" stop-color="#edf4fb"/><stop offset=".492" stop-color="#ecf3fb"/><stop offset=".643" stop-color="#dceaf8"/><stop offset=".769" stop-color="#c9dff4"/><stop offset=".790" stop-color="#8fc0eb"/><stop offset=".815" stop-color="#6aade4"/><stop offset=".862" stop-color="#4091db"/><stop offset=".898" stop-color="#6c57ca"/><stop offset=".933" stop-color="#6c57c9"/><stop offset=".938" stop-color="#6a5bcc"/><stop offset=".987" stop-color="#7b44b7"/><stop offset=".994" stop-color="#813dac"/><stop offset="1.000" stop-color="#843aa6"/></linearGradient>
<linearGradient id="g429" x2="0" y2="1"><stop offset=".000" stop-color="#edf4fb"/><stop offset=".500" stop-color="#ecf3fb"/><stop offset=".651" stop-color="#dceaf8"/><stop offset=".777" stop-color="#c9dff4"/><stop offset=".800" stop-color="#93c2eb"/><stop offset=".828" stop-color="#6daee5"/><stop offset=".879" stop-color="#4191dc"/><stop offset=".915" stop-color="#6c58ca"/><stop offset=".950" stop-color="#6d56c8"/><stop offset=".955" stop-color="#6c58ca"/><stop offset=".987" stop-color="#7b44b7"/><stop offset=".994" stop-color="#813dac"/><stop offset="1.000" stop-color="#843aa6"/></linearGradient>
<linearGradient id="g430" x2="0" y2="1"><stop offset=".000" stop-color="#edf4fb"/><stop offset=".417" stop-color="#ecf3fb"/><stop offset=".568" stop-color="#dfecf8"/><stop offset=".694" stop-color="#c9dff4"/><stop offset=".732" stop-color="#7ab5e7"/><stop offset=".777" stop-color="#5da5e1"/><stop offset=".856" stop-color="#3e8dda"/><stop offset=".891" stop-color="#6e54c7"/><stop offset=".926" stop-color="#576bd6"/><stop offset=".932" stop-color="#4e71d8"/><stop offset=".987" stop-color="#6a5acb"/><stop offset=".994" stop-color="#813dac"/><stop offset="1.000" stop-color="#843aa6"/></linearGradient>
<linearGradient id="g431" x2="0" y2="1"><stop offset=".000" stop-color="#edf4fb"/><stop offset=".443" stop-color="#ecf3fb"/><stop offset=".594" stop-color="#deebf8"/><stop offset=".719" stop-color="#c9dff4"/><stop offset=".749" stop-color="#7fb8e8"/><stop offset=".785" stop-color="#60a7e2"/><stop offset=".849" stop-color="#3e8edb"/><stop offset=".884" stop-color="#6e55c8"/><stop offset=".920" stop-color="#5a69d5"/><stop offset=".932" stop-color="#5071d8"/><stop offset=".987" stop-color="#6a5acb"/><stop offset=".994" stop-color="#813dac"/><stop offset="1.000" stop-color="#843aa6"/></linearGradient>
<linearGradient id="g432" x2="0" y2="1"><stop offset=".000" stop-color="#edf4fb"/><stop offset=".458" stop-color="#ecf3fb"/><stop offset=".609" stop-color="#ddebf8"/><stop offset=".735" stop-color="#c9dff4"/><stop offset=".766" stop-color="#90c1eb"/><stop offset=".803" stop-color="#6dafe5"/><stop offset=".868" stop-color="#4394dc"/><stop offset=".904" stop-color="#6a5acb"/><stop offset=".939" stop-color="#6d55c8"/><stop offset=".944" stop-color="#6c57ca"/><stop offset=".987" stop-color="#7b44b7"/><stop offset=".994" stop-color="#813dac"/><stop offset="1.000" stop-color="#843aa6"/></linearGradient>
<linearGradient id="g433" x2="0" y2="1"><stop offset=".000" stop-color="#edf4fb"/><stop offset=".470" stop-color="#ecf3fb"/><stop offset=".621" stop-color="#dceaf8"/><stop offset=".747" stop-color="#c9dff4"/><stop offset=".775" stop-color="#93c2eb"/><stop offset=".808" stop-color="#6fafe5"/><stop offset=".867" stop-color="#4494dc"/><stop offset=".903" stop-color="#6a5acb"/><stop offset=".938" stop-color="#6d56c9"/><stop offset=".943" stop-color="#6c57c9"/><stop offset=".987" stop-color="#7b44b7"/><stop offset=".994" stop-color="#813dac"/><stop offset="1.000" stop-color="#843aa6"/></linearGradient>
<linearGradient id="g434" x2="0" y2="1"><stop offset=".000" stop-color="#edf4fb"/><stop offset=".480" stop-color="#ecf3fb"/><stop offset=".631" stop-color="#dceaf8"/><stop offset=".757" stop-color="#c9dff4"/><stop offset=".783" stop-color="#91c1eb"/><stop offset=".813" stop-color="#6daee5"/><stop offset=".869" stop-color="#4293dc"/><stop offset=".904" stop-color="#6b59cb"/><stop offset=".940" stop-color="#6e55c8"/><stop offset=".945" stop-color="#6c57ca"/><stop offset=".987" stop-color="#7b44b7"/><stop offset=".994" stop-color="#813dac"/><stop offset="1.000" stop-color="#843aa6"/></linearGradient>
<linearGradient id="g435" x2="0" y2="1"><stop offset=".000" stop-color="#edf4fb"/><stop offset=".489" stop-color="#ecf3fb"/><stop offset=".640" stop-color="#dceaf8"/><stop offset=".766" stop-color="#c9dff4"/><stop offset=".790" stop-color="#91c1eb"/><stop offset=".820" stop-color="#6bade4"/><stop offset=".873" stop-color="#4191db"/><stop offset=".909" stop-color="#6c58ca"/><stop offset=".944" stop-color="#6c58ca"/><stop offset=".949" stop-color="#6a5bcc"/><stop offset=".987" stop-color="#7b44b7"/><stop offset=".994" stop-color="#813dac"/><stop offset="1.000" stop-color="#843aa6"/></linearGradient>
<linearGradient id="g436" x2="0" y2="1"><stop offset=".000" stop-color="#edf4fb"/><stop offset=".497" stop-color="#ecf3fb"/><stop offset=".648" stop-color="#dceaf8"/><stop offset=".774" stop-color="#c9dff4"/><stop offset=".796" stop-color="#8abeea"/><stop offset=".821" stop-color="#65aae3"/><stop offset=".870" stop-color="#3e8edb"/><stop offset=".905" stop-color="#6e55c8"/><stop offset=".941" stop-color="#6c57c9"/><stop offset=".946" stop-color="#6a5acb"/><stop offset=".987" stop-color="#7b44b7"/><stop offset=".994" stop-color="#813dac"/><stop offset="1.000" stop-color="#843aa6"/></linearGradient>
<linearGradient id="g437" x2="0" y2="1"><stop offset=".000" stop-color="#edf4fb"/><stop offset=".428" stop-color="#ecf3fb"/><stop offset=".579" stop-color="#dfecf8"/><stop offset=".705" stop-color="#c9dff4"/><stop offset=".742" stop-color="#87bce9"/><stop offset=".786" stop-color="#67abe3"/><stop offset=".862" stop-color="#4191db"/><stop offset=".897" stop-color="#6c58ca"/><stop offset=".933" stop-color="#5b68d5"/><stop offset=".938" stop-color="#4a75d8"/><stop offset=".987" stop-color="#6a5acb"/><stop offset=".994" stop-color="#813dac"/><stop offset="1.000" stop-color="#843aa6"/></linearGradient>
<linearGradient id="g438" x2="0" y2="1"><stop offset=".000" stop-color="#edf4fb"/><stop offset=".453" stop-color="#ecf3fb"/><stop offset=".604" stop-color="#ddebf8"/><stop offset=".730" stop-color="#c9dff4"/><stop offset=".759" stop-color="#93c2eb"/><stop offset=".794" stop-color="#70b0e5"/><stop offset=".857" stop-color="#4595dc"/><stop offset=".892" stop-color="#6a5bcc"/><stop offset=".928" stop-color="#5b68d5"/><stop offset=".933" stop-color="#4b75d8"/><stop offset=".987" stop-color="#6a5acb"/><stop offset=".994" stop-color="#813dac"/><stop offset="1.000" stop-color="#843aa6"/></linearGradient>
<linearGradient id="g439" x2="0" y2="1"><stop offset=".000" stop-color="#edf4fb"/><stop offset=".465" stop-color="#ecf3fb"/><stop offset=".616" stop-color="#ddeaf8"/><stop offset=".742" stop-color="#c9dff4"/><stop offset=".768" stop-color="#8ec0ea"/><stop offset=".798" stop-color="#6aade4"/><stop offset=".853" stop-color="#4192dc"/><stop offset=".888" stop-color="#6c58ca"/><stop offset=".924" stop-color="#5b68d5"/><stop offset=".932" stop-color="#4a75d8"/><stop offset=".987" stop-color="#6a5acb"/><stop offset=".994" stop-color="#813dac"/><stop offset="1.000" stop-color="#843aa6"/></linearGradient>
<linearGradient id="g440" x2="0" y2="1"><stop offset=".000" stop-color="#edf4fb"/><stop offset=".475" stop-color="#ecf3fb"/><stop offset=".626" stop-color="#dceaf8"/><stop offset=".752" stop-color="#c9dff4"/><stop offset=".776" stop-color="#96c4ec"/><stop offset=".806" stop-color="#71b0e5"/><stop offset=".860" stop-color="#4494dc"/><stop offset=".895" stop-color="#6a5bcc"/><stop offset=".930" stop-color="#6e55c8"/><stop offset=".935" stop-color="#6a5bcc"/><stop offset=".987" stop-color="#7b44b7"/><stop offset=".994" stop-color="#813dac"/><stop offset="1.000" stop-color="#843aa6"/></linearGradient>
<linearGradient id="g441" x2="0" y2="1"><stop offset=".000" stop-color="#edf4fb"/><stop offset=".483" stop-color="#ecf3fb"/><stop offset=".634" stop-color="#dceaf8"/><stop offset=".760" stop-color="#c9dff4"/><stop offset=".782" stop-color="#95c4ec"/><stop offset=".809" stop-color="#6fb0e5"/><stop offset=".860" stop-color="#4393dc"/><stop offset=".895" stop-color="#6b5acb"/><stop offset=".930" stop-color="#6e55c8"/><stop offset=".935" stop-color="#6a5bcc"/><stop offset=".987" stop-color="#7b44b7"/><stop offset=".994" stop-color="#813dac"/><stop offset="1.000" stop-color="#843aa6"/></linearGradient>
<linearGradient id="g442" x2="0" y2="1"><stop offset=".000" stop-color="#edf4fb"/><stop offset=".490" stop-color="#ecf3fb"/><stop offset=".641" stop-color="#dceaf8"/><stop offset=".767" stop-color="#c9dff4"/><stop offset=".789" stop-color="#89bdea"/><stop offset=".816" stop-color="#64a9e3"/><stop offset=".866" stop-color="#3e8dda"/><stop offset=".901" stop-color="#6e54c7"/><stop offset=".936" stop-color="#6c57c9"/><stop offset=".941" stop-color="#6a5acb"/><stop offset=".987" stop-color="#7b44b7"/><stop offset=".994" stop-color="#813dac"/><stop offset="1.000" stop-color="#843aa6"/></linearGradient>
<linearGradient id="g443" x2="0" y2="1"><stop offset=".000" stop-color="#edf4fb"/><stop offset=".497" stop-color="#ecf3fb"/><stop offset=".648" stop-color="#dceaf8"/><stop offset=".773" stop-color="#c9dff4"/><stop offset=".797" stop-color="#99c5ec"/><stop offset=".825" stop-color="#71b0e5"/><stop offset=".877" stop-color="#4393dc"/><stop offset=".913" stop-color="#6b5acb"/><stop offset=".948" stop-color="#6d56c9"/><stop offset=".953" stop-color="#6b59cb"/><stop offset=".987" stop-color="#7b44b7"/><stop offset=".994" stop-color="#813dac"/><stop offset="1.000" stop-color="#843aa6"/></linearGradient>
<linearGradient id="g444" x2="0" y2="1"><stop offset=".000" stop-color="#edf4fb"/><stop offset=".502" stop-color="#ecf3fb"/><stop offset=".653" stop-color="#dceaf8"/><stop offset=".779" stop-color="#c9dff4"/><stop offset=".800" stop-color="#96c4ec"/><stop offset=".825" stop-color="#6eafe5"/><stop offset=".872" stop-color="#4191dc"/><stop offset=".907" stop-color="#6c58ca"/><stop offset=".943" stop-color="#6d56c9"/><stop offset=".948" stop-color="#6a5acb"/><stop offset=".987" stop-color="#7b44b7"/><stop offset=".994" stop-color="#813dac"/><stop offset="1.000" stop-color="#843aa6"/></linearGradient>
<linearGradient id="g445" x2="0" y2="1"><stop offset=".000" stop-color="#edf4fb"/><stop offset=".423" stop-color="#ecf3fb"/><stop offset=".575" stop-color="#dfecf8"/><stop offset=".700" stop-color="#c9dff4"/><stop offset=".738" stop-color="#81b9e8"/><stop offset=".783" stop-color="#60a7e2"/><stop offset=".861" stop-color="#3e8ddb"/><stop offset=".896" stop-color="#6e55c8"/><stop offset=".931" stop-color="#5b68d5"/><stop offset=".936" stop-color="#4e72d8"/><stop offset=".987" stop-color="#6a5acb"/><stop offset=".994" stop-color="#813dac"/><stop offset="1.000" stop-color="#843aa6"/></linearGradient>
<linearGradient id="g446" x2="0" y2="1"><stop offset=".000" stop-color="#edf4fb"/><stop offset=".453" stop-color="#ecf3fb"/><stop offset=".605" stop-color="#ddebf8"/><stop offset=".730" stop-color="#c9dff4"/><stop offset=".759" stop-color="#83bae9"/><stop offset=".794" stop-color="#62a8e2"/><stop offset=".856" stop-color="#3e8edb"/><stop offset=".891" stop-color="#6e55c8"/><stop offset=".927" stop-color="#576bd6"/><stop offset=".932" stop-color="#4a75d8"/><stop offset=".987" stop-color="#6a5acb"/><stop offset=".994" stop-color="#813dac"/><stop offset="1.000" stop-color="#843aa6"/></linearGradient>
<linearGradient id="g447" x2="0" y2="1"><stop offset=".000" stop-color="#edf4fb"/><stop offset=".467" stop-color="#ecf3fb"/><stop offset=".618" stop-color="#ddeaf8"/><stop offset=".744" stop-color="#c9dff4"/><stop offset=".770" stop-color="#92c2eb"/><stop offset=".801" stop-color="#6eafe5"/><stop offset=".858" stop-color="#4393dc"/><stop offset=".894" stop-color="#6b5acb"/><stop offset=".929" stop-color="#576bd6"/><stop offset=".934" stop-color="#5071d8"/><stop offset=".987" stop-color="#6a5acb"/><stop offset=".994" stop-color="#813dac"/><stop offset="1.000" stop-color="#843aa6"/></linearGradient>
<linearGradient id="g448" x2="0" y2="1"><stop offset=".000" stop-color="#edf4fb"/><stop offset=".476" stop-color="#ecf3fb"/><stop offset=".627" stop-color="#dceaf8"/><stop offset=".753" stop-color="#c9dff4"/><stop offset=".780" stop-color="#86bce9"/><stop offset=".812" stop-color="#62a8e3"/><stop offset=".870" stop-color="#3e8dda"/><stop offset=".906" stop-color="#6e54c7"/><stop offset=".941" stop-color="#6e55c8"/><stop offset=".946" stop-color="#6b59cb"/><stop offset=".987" stop-color="#7b44b7"/><stop offset=".994" stop-color="#813dac"/><stop offset="1.000" stop-color="#843aa6"/></linearGradient>
<linearGradient id="g449" x2="0" y2="1"><stop offset=".000" stop-color="#edf4fb"/><stop offset=".484" stop-color="#ecf3fb"/><stop offset=".635" stop-color="#dceaf8"/><stop offset=".761" stop-color="#c9dff4"/><stop offset=".790" stop-color="#98c5ec"/><stop offset=".825" stop-color="#71b1e5"/><stop offset=".887" stop-color="#4494dc"/><stop offset=".922" stop-color="#6a5acb"/><stop offset=".957" stop-color="#6c57c9"/><stop offset=".962" stop-color="#6a5bcc"/><stop offset=".987" stop-color="#7b44b7"/><stop offset=".994" stop-color="#813dac"/><stop offset="1.000" stop-color="#843aa6"/></linearGradient>
<linearGradient id="g450" x2="0" y2="1"><stop offset=".000" stop-color="#edf4fb"/><stop offset=".491" stop-color="#ecf3fb"/><stop offset=".642" stop-color="#dceaf8"/><stop offset=".768" stop-color="#c9dff4"/><stop offset=".796" stop-color="#89bdea"/><stop offset=".830" stop-color="#64a9e3"/><stop offset=".891" stop-color="#3e8dda"/><stop offset=".927" stop-color="#6e54c7"/><stop offset=".962" stop-color="#6c57c9"/><stop offset=".967" stop-color="#6a5acb"/><stop offset=".987" stop-color="#7b44b7"/><stop offset=".994" stop-color="#813dac"/><stop offset="1.000" stop-color="#843aa6"/></linearGradient>
<linearGradient id="g451" x2="0" y2="1"><stop offset=".000" stop-color="#edf4fb"/><stop offset=".497" stop-color="#ecf3fb"/><stop offset=".648" stop-color="#dceaf8"/><stop offset=".774" stop-color="#c9dff4"/><stop offset=".798" stop-color="#8abeea"/><stop offset=".828" stop-color="#64a9e3"/><stop offset=".883" stop-color="#3d8cda"/><stop offset=".918" stop-color="#6e54c7"/><stop offset=".954" stop-color="#6c58ca"/><stop offset=".959" stop-color="#6c57c9"/><stop offset=".987" stop-color="#7b44b7"/><stop offset=".994" stop-color="#813dac"/><stop offset="1.000" stop-color="#843aa6"/></linearGradient>
<linearGradient id="g452" x2="0" y2="1"><stop offset=".000" stop-color="#edf4fb"/><stop offset=".502" stop-color="#ecf3fb"/><stop offset=".653" stop-color="#dceaf8"/><stop offset=".779" stop-color="#c9dff4"/><stop offset=".800" stop-color="#98c5ec"/><stop offset=".825" stop-color="#70b0e5"/><stop offset=".874" stop-color="#4292dc"/><stop offset=".909" stop-color="#6b59ca"/><stop offset=".944" stop-color="#6d56c8"/><stop offset=".949" stop-color="#6a5bcc"/><stop offset=".987" stop-color="#7b44b7"/><stop offset=".994" stop-color="#813dac"/><stop offset="1.000" stop-color="#843aa6"/></linearGradient>
<linearGradient id="g453" x2="0" y2="1"><stop offset=".000" stop-color="#edf4fb"/><stop offset=".507" stop-color="#ecf3fb"/><stop offset=".658" stop-color="#dceaf8"/><stop offset=".784" stop-color="#c9dff4"/><stop offset=".806" stop-color="#8dbfea"/><stop offset=".833" stop-color="#65aae3"/><stop offset=".883" stop-color="#3e8dda"/><stop offset=".918" stop-color="#6e54c7"/><stop offset=".954" stop-color="#6c57c9"/><stop offset=".959" stop-color="#6a5acb"/><stop offset=".987" stop-color="#7b44b7"/><stop offset=".994" stop-color="#813dac"/><stop offset="1.000" stop-color="#843aa6"/></linearGradient>
<linearGradient id="g454" x2="0" y2="1"><stop offset=".000" stop-color="#edf4fb"/><stop offset=".451" stop-color="#ecf3fb"/><stop offset=".602" stop-color="#ddebf8"/><stop offset=".728" stop-color="#c9dff4"/><stop offset=".763" stop-color="#87bce9"/><stop offset=".805" stop-color="#65aae3"/><stop offset=".878" stop-color="#3f8fdb"/><stop offset=".914" stop-color="#6d56c9"/><stop offset=".949" stop-color="#5969d5"/><stop offset=".954" stop-color="#4a75d8"/><stop offset=".987" stop-color="#6a5acb"/><stop offset=".994" stop-color="#813dac"/><stop offset="1.000" stop-color="#843aa6"/></linearGradient>
<linearGradient id="g455" x2="0" y2="1"><stop offset=".000" stop-color="#edf4fb"/><stop offset=".466" stop-color="#ecf3fb"/><stop offset=".617" stop-color="#ddeaf8"/><stop offset=".743" stop-color="#c9dff4"/><stop offset=".773" stop-color="#94c3eb"/><stop offset=".810" stop-color="#70b0e5"/><stop offset=".875" stop-color="#4494dc"/><stop offset=".910" stop-color="#6a5acb"/><stop offset=".945" stop-color="#5969d5"/><stop offset=".950" stop-color="#4977d8"/><stop offset=".987" stop-color="#6a5acb"/><stop offset=".994" stop-color="#813dac"/><stop offset="1.000" stop-color="#843aa6"/></linearGradient>
<linearGradient id="g456" x2="0" y2="1"><stop offset=".000" stop-color="#edf4fb"/><stop offset=".475" stop-color="#ecf3fb"/><stop offset=".626" stop-color="#dceaf8"/><stop offset=".752" stop-color="#c9dff4"/><stop offset=".780" stop-color="#87bce9"/><stop offset=".814" stop-color="#63a9e3"/><stop offset=".876" stop-color="#3e8ddb"/><stop offset=".911" stop-color="#6e55c8"/><stop offset=".946" stop-color="#6c57c9"/><stop offset=".951" stop-color="#6a5bcc"/><stop offset=".987" stop-color="#7b44b7"/><stop offset=".994" stop-color="#813dac"/><stop offset="1.000" stop-color="#843aa6"/></linearGradient>
<linearGradient id="g457" x2="0" y2="1"><stop offset=".000" stop-color="#edf4fb"/><stop offset=".482" stop-color="#ecf3fb"/><stop offset=".633" stop-color="#dceaf8"/><stop offset=".759" stop-color="#c9dff4"/><stop offset=".786" stop-color="#94c3eb"/><stop offset=".819" stop-color="#6eafe5"/><stop offset=".878" stop-color="#4292dc"/><stop offset=".913" stop-color="#6b59ca"/><stop offset=".948" stop-color="#6c58ca"/><stop offset=".953" stop-color="#6a5acb"/><stop offset=".987" stop-color="#7b44b7"/><stop offset=".994" stop-color="#813dac"/><stop offset="1.000" stop-color="#843aa6"/></linearGradient>
<linearGradient id="g458" x2="0" y2="1"><stop offset=".000" stop-color="#edf4fb"/><stop offset=".488" stop-color="#ecf3fb"/><stop offset=".639" stop-color="#dceaf8"/><stop offset=".765" stop-color="#c9dff4"/><stop offset=".793" stop-color="#91c1eb"/><stop offset=".826" stop-color="#6aade4"/><stop offset=".886" stop-color="#4090db"/><stop offset=".922" stop-color="#6c57c9"/><stop offset=".957" stop-color="#6c57c9"/><stop offset=".962" stop-color="#6a5acb"/><stop offset=".987" stop-color="#7b44b7"/><stop offset=".994" stop-color="#813dac"/><stop offset="1.000" stop-color="#843aa6"/></linearGradient>
<linearGradient id="g459" x2="0" y2="1"><stop offset=".000" stop-color="#edf4fb"/><stop offset=".494" stop-color="#ecf3fb"/><stop offset=".645" stop-color="#dceaf8"/><stop offset=".771" stop-color="#c9dff4"/><stop offset=".796" stop-color="#98c5ec"/><stop offset=".826" stop-color="#70b0e5"/><stop offset=".882" stop-color="#4293dc"/><stop offset=".917" stop-color="#6b59cb"/><stop offset=".952" stop-color="#6d57c9"/><stop offset=".957" stop-color="#6c58ca"/><stop offset=".987" stop-color="#7b44b7"/><stop offset=".994" stop-color="#813dac"/><stop offset="1.000" stop-color="#843aa6"/></linearGradient>
<linearGradient id="g460" x2="0" y2="1"><stop offset=".000" stop-color="#edf4fb"/><stop offset=".499" stop-color="#ecf3fb"/><stop offset=".650" stop-color="#dceaf8"/><stop offset=".776" stop-color="#c9dff4"/><stop offset=".801" stop-color="#96c4ec"/><stop offset=".831" stop-color="#6dafe5"/><stop offset=".886" stop-color="#4191db"/><stop offset=".921" stop-color="#6c58ca"/><stop offset=".957" stop-color="#6d55c8"/><stop offset=".962" stop-color="#6b59cb"/><stop offset=".987" stop-color="#7b44b7"/><stop offset=".994" stop-color="#813dac"/><stop offset="1.000" stop-color="#843aa6"/></linearGradient>
<linearGradient id="g461" x2="0" y2="1"><stop offset=".000" stop-color="#edf4fb"/><stop offset=".503" stop-color="#ecf3fb"/><stop offset=".654" stop-color="#dceaf8"/><stop offset=".780" stop-color="#c9dff4"/><stop offset=".806" stop-color="#9dc8ed"/><stop offset=".836" stop-color="#74b2e6"/><stop offset=".892" stop-color="#4494dc"/><stop offset=".928" stop-color="#6a5acb"/><stop offset=".963" stop-color="#6c58ca"/><stop offset=".968" stop-color="#6c58ca"/><stop offset=".987" stop-color="#7b44b7"/><stop offset=".994" stop-color="#813dac"/><stop offset="1.000" stop-color="#843aa6"/></linearGradient>
<linearGradient id="g462" x2="0" y2="1"><stop offset=".000" stop-color="#edf4fb"/><stop offset=".507" stop-color="#ecf3fb"/><stop offset=".658" stop-color="#dceaf8"/><stop offset=".784" stop-color="#c9dff4"/><stop offset=".808" stop-color="#97c4ec"/><stop offset=".836" stop-color="#6dafe5"/><stop offset=".888" stop-color="#4091db"/><stop offset=".923" stop-color="#6c58ca"/><stop offset=".958" stop-color="#6c57c9"/><stop offset=".963" stop-color="#6b59cb"/><stop offset=".987" stop-color="#7b44b7"/><stop offset=".994" stop-color="#813dac"/><stop offset="1.000" stop-color="#843aa6"/></linearGradient>
<linearGradient id="g463" x2="0" y2="1"><stop offset=".000" stop-color="#edf4fb"/><stop offset=".511" stop-color="#ecf3fb"/><stop offset=".662" stop-color="#dceaf8"/><stop offset=".788" stop-color="#c9dff4"/><stop offset=".813" stop-color="#90c1eb"/><stop offset=".842" stop-color="#67abe4"/><stop offset=".897" stop-color="#3e8ddb"/><stop offset=".932" stop-color="#6e55c8"/><stop offset=".967" stop-color="#6c57c9"/><stop offset=".972" stop-color="#6a5acb"/><stop offset=".987" stop-color="#7b44b7"/><stop offset=".994" stop-color="#813dac"/><stop offset="1.000" stop-color="#843aa6"/></linearGradient>
<linearGradient id="g464" x2="0" y2="1"><stop offset=".000" stop-color="#edf4fb"/><stop offset=".515" stop-color="#ecf3fb"/><stop offset=".666" stop-color="#dceaf8"/><stop offset=".792" stop-color="#c9dff4"/><stop offset=".814" stop-color="#9bc6ec"/><stop offset=".842" stop-color="#70b0e5"/><stop offset=".892" stop-color="#4192dc"/><stop offset=".927" stop-color="#6b58ca"/><stop offset=".963" stop-color="#6b58ca"/><stop offset=".968" stop-color="#6b59cb"/><stop offset=".987" stop-color="#7b44b7"/><stop offset=".994" stop-color="#813dac"/><stop offset="1.000" stop-color="#843aa6"/></linearGradient>
<linearGradient id="g465" x2="0" y2="1"><stop offset=".000" stop-color="#edf4fb"/><stop offset=".518" stop-color="#ecf3fb"/><stop offset=".669" stop-color="#dceaf8"/><stop offset=".795" stop-color="#c9dff4"/><stop offset=".816" stop-color="#99c5ec"/><stop offset=".840" stop-color="#6eafe5"/><stop offset=".887" stop-color="#4091db"/><stop offset=".922" stop-color="#6c58ca"/><stop offset=".957" stop-color="#6d56c9"/><stop offset=".962" stop-color="#6b5acb"/><stop offset=".987" stop-color="#7b44b7"/><stop offset=".994" stop-color="#813dac"/><stop offset="1.000" stop-color="#843aa6"/></linearGradient>
<linearGradient id="g466" x2="0" y2="1"><stop offset=".000" stop-color="#edf4fb"/><stop offset=".474" stop-color="#ecf3fb"/><stop offset=".625" stop-color="#dceaf8"/><stop offset=".751" stop-color="#c9dff4"/><stop offset=".779" stop-color="#92c2eb"/><stop offset=".812" stop-color="#6caee4"/><stop offset=".872" stop-color="#4091db"/><stop offset=".907" stop-color="#6c58ca"/><stop offset=".943" stop-color="#5a69d5"/><stop offset=".948" stop-color="#4976d8"/><stop offset=".987" stop-color="#6a5acb"/><stop offset=".994" stop-color="#813dac"/><stop offset="1.000" stop-color="#843aa6"/></linearGradient>
<linearGradient id="g467" x2="0" y2="1"><stop offset=".000" stop-color="#edf4fb"/><stop offset=".490" stop-color="#ecf3fb"/><stop offset=".641" stop-color="#dceaf8"/><stop offset=".767" stop-color="#c9dff4"/><stop offset=".792" stop-color="#89bdea"/><stop offset=".822" stop-color="#63a9e3"/><stop offset=".877" stop-color="#3d8cda"/><stop offset=".912" stop-color="#6e54c7"/><stop offset=".947" stop-color="#576bd6"/><stop offset=".952" stop-color="#4e72d8"/><stop offset=".987" stop-color="#6a5acb"/><stop offset=".994" stop-color="#813dac"/><stop offset="1.000" stop-color="#843aa6"/></linearGradient>
<linearGradient id="g468" x2="0" y2="1"><stop offset=".000" stop-color="#edf4fb"/><stop offset=".499" stop-color="#ecf3fb"/><stop offset=".650" stop-color="#dceaf8"/><stop offset=".776" stop-color="#c9dff4"/><stop offset=".801" stop-color="#9bc6ec"/><stop offset=".830" stop-color="#72b1e6"/><stop offset=".884" stop-color="#4394dc"/><stop offset=".920" stop-color="#6a5acb"/><stop offset=".955" stop-color="#5b68d5"/><stop offset=".960" stop-color="#4a75d8"/><stop offset=".987" stop-color="#6a5acb"/><stop offset=".994" stop-color="#813dac"/><stop offset="1.000" stop-color="#843aa6"/></linearGradient>
<linearGradient id="g469" x2="0" y2="1"><stop offset=".000" stop-color="#edf4fb"/><stop offset=".505" stop-color="#ecf3fb"/><stop offset=".656" stop-color="#dceaf8"/><stop offset=".782" stop-color="#c9dff4"/><stop offset=".806" stop-color="#9ec8ed"/><stop offset=".835" stop-color="#74b2e6"/><stop offset=".888" stop-color="#4495dc"/><stop offset=".924" stop-color="#6a5bcc"/><stop offset=".959" stop-color="#6d56c9"/><stop offset=".964" stop-color="#6c58ca"/><stop offset=".987" stop-color="#7b44b7"/><stop offset=".994" stop-color="#813dac"/><stop offset="1.000" stop-color="#843aa6"/></linearGradient>
<linearGradient id="g470" x2="0" y2="1"><stop offset=".000" stop-color="#edf4fb"/><stop offset=".510" stop-color="#ecf3fb"/><stop offset=".661" stop-color="#dceaf8"/><stop offset=".787" stop-color="#c9dff4"/><stop offset=".805" stop-color="#8fc0eb"/><stop offset=".827" stop-color="#67abe3"/><stop offset=".869" stop-color="#3e8ddb"/><stop offset=".905" stop-color="#6e55c8"/><stop offset=".940" stop-color="#6e55c8"/><stop offset=".945" stop-color="#6c57c9"/><stop offset=".987" stop-color="#7b44b7"/><stop offset=".994" stop-color="#813dac"/><stop offset="1.000" stop-color="#843aa6"/></linearGradient>
<linearGradient id="g471" x2="0" y2="1"><stop offset=".000" stop-color="#edf4fb"/><stop offset=".306" stop-color="#ecf3fb"/><stop offset=".457" stop-color="#e5effa"/><stop offset=".583" stop-color="#c9dff4"/><stop offset=".638" stop-color="#81b9e8"/><stop offset=".712" stop-color="#67abe4"/><stop offset=".828" stop-color="#4495dc"/><stop offset=".864" stop-color="#6a5bcc"/><stop offset=".899" stop-color="#596ad6"/><stop offset=".932" stop-color="#4976d8"/><stop offset=".987" stop-color="#6a5acb"/><stop offset=".994" stop-color="#813dac"/><stop offset="1.000" stop-color="#843aa6"/></linearGradient>
<linearGradient id="g472" x2="0" y2="1"><stop offset=".000" stop-color="#edf4fb"/><stop offset=".386" stop-color="#ecf3fb"/><stop offset=".537" stop-color="#e1edf9"/><stop offset=".663" stop-color="#c9dff4"/><stop offset=".708" stop-color="#78b4e7"/><stop offset=".763" stop-color="#5da6e2"/><stop offset=".855" stop-color="#3e8edb"/><stop offset=".890" stop-color="#6d56c8"/><stop offset=".926" stop-color="#596ad5"/><stop offset=".932" stop-color="#4e72d8"/><stop offset=".987" stop-color="#6a5acb"/><stop offset=".994" stop-color="#813dac"/><stop offset="1.000" stop-color="#843aa6"/></linearGradient>
<linearGradient id="g473" x2="0" y2="1"><stop offset=".000" stop-color="#edf4fb"/><stop offset=".415" stop-color="#ecf3fb"/><stop offset=".566" stop-color="#dfecf8"/><stop offset=".692" stop-color="#c9dff4"/><stop offset=".733" stop-color="#7bb6e7"/><stop offset=".781" stop-color="#5ea6e2"/><stop offset=".864" stop-color="#3e8edb"/><stop offset=".899" stop-color="#6e55c8"/><stop offset=".934" stop-color="#5b67d5"/><stop offset=".939" stop-color="#4e73d8"/><stop offset=".987" stop-color="#6a5acb"/><stop offset=".994" stop-color="#813dac"/><stop offset="1.000" stop-color="#843aa6"/></linearGradient>
<linearGradient id="g474" x2="0" y2="1"><stop offset=".000" stop-color="#edf4fb"/><stop offset=".437" stop-color="#ecf3fb"/><stop offset=".588" stop-color="#deebf8"/><stop offset=".714" stop-color="#c9dff4"/><stop offset=".749" stop-color="#7db7e8"/><stop offset=".791" stop-color="#5ea6e2"/><stop offset=".865" stop-color="#3e8ddb"/><stop offset=".900" stop-color="#6e55c8"/><stop offset=".935" stop-color="#6d56c9"/><stop offset=".940" stop-color="#6a5bcc"/><stop offset=".987" stop-color="#7b44b7"/><stop offset=".994" stop-color="#813dac"/><stop offset="1.000" stop-color="#843aa6"/></linearGradient>
<linearGradient id="g475" x2="0" y2="1"><stop offset=".000" stop-color="#edf4fb"/><stop offset=".455" stop-color="#ecf3fb"/><stop offset=".606" stop-color="#ddebf8"/><stop offset=".732" stop-color="#c9dff4"/><stop offset=".767" stop-color="#80b8e8"/><stop offset=".808" stop-color="#60a7e2"/><stop offset=".880" stop-color="#3e8ddb"/><stop offset=".916" stop-color="#6e55c7"/><stop offset=".951" stop-color="#6c58ca"/><stop offset=".956" stop-color="#6a5bcc"/><stop offset=".987" stop-color="#7b44b7"/><stop offset=".994" stop-color="#813dac"/><stop offset="1.000" stop-color="#843aa6"/></linearGradient>
<linearGradient id="g476" x2="0" y2="1"><stop offset=".000" stop-color="#edf4fb"/><stop offset=".471" stop-color="#ecf3fb"/><stop offset=".622" stop-color="#dceaf8"/><stop offset=".748" stop-color="#c9dff4"/><stop offset=".776" stop-color="#84bae9"/><stop offset=".810" stop-color="#62a8e2"/><stop offset=".870" stop-color="#3e8edb"/><stop offset=".905" stop-color="#6e55c8"/><stop offset=".941" stop-color="#6c57c9"/><stop offset=".946" stop-color="#6b59ca"/><stop offset=".987" stop-color="#7b44b7"/><stop offset=".994" stop-color="#813dac"/><stop offset="1.000" stop-color="#843aa6"/></linearGradient>
<linearGradient id="g477" x2="0" y2="1"><stop offset=".000" stop-color="#edf4fb"/><stop offset=".339" stop-color="#ecf3fb"/><stop offset=".490" stop-color="#e3eef9"/><stop offset=".616" stop-color="#c9dff4"/><stop offset=".672" stop-color="#82b9e8"/><stop offset=".742" stop-color="#68ace4"/><stop offset=".855" stop-color="#4595dc"/><stop offset=".890" stop-color="#6a5bcc"/><stop offset=".926" stop-color="#576bd6"/><stop offset=".932" stop-color="#4e72d8"/><stop offset=".987" stop-color="#6a5acb"/><stop offset=".994" stop-color="#813dac"/><stop offset="1.000" stop-color="#843aa6"/></linearGradient>
<linearGradient id="g478" x2="0" y2="1"><stop offset=".000" stop-color="#edf4fb"/><stop offset=".392" stop-color="#ecf3fb"/><stop offset=".543" stop-color="#e1edf9"/><stop offset=".669" stop-color="#c9dff4"/><stop offset=".709" stop-color="#85bbe9"/><stop offset=".758" stop-color="#69ace4"/><stop offset=".841" stop-color="#4595dc"/><stop offset=".876" stop-color="#6a5bcc"/><stop offset=".912" stop-color="#596ad5"/><stop offset=".932" stop-color="#5071d8"/><stop offset=".987" stop-color="#6a5acb"/><stop offset=".994" stop-color="#813dac"/><stop offset="1.000" stop-color="#843aa6"/></linearGradient>
<linearGradient id="g479" x2="0" y2="1"><stop offset=".000" stop-color="#edf4fb"/><stop offset=".417" stop-color="#ecf3fb"/><stop offset=".568" stop-color="#dfecf8"/><stop offset=".694" stop-color="#c9dff4"/><stop offset=".731" stop-color="#86bbe9"/><stop offset=".774" stop-color="#68ace4"/><stop offset=".850" stop-color="#4393dc"/><stop offset=".885" stop-color="#6b5acb"/><stop offset=".920" stop-color="#5969d5"/><stop offset=".932" stop-color="#4e72d8"/><stop offset=".987" stop-color="#6a5acb"/><stop offset=".994" stop-color="#813dac"/><stop offset="1.000" stop-color="#843aa6"/></linearGradient>
<linearGradient id="g480" x2="0" y2="1"><stop offset=".000" stop-color="#edf4fb"/><stop offset=".435" stop-color="#ecf3fb"/><stop offset=".586" stop-color="#deebf8"/><stop offset=".712" stop-color="#c9dff4"/><stop offset=".748" stop-color="#81b9e8"/><stop offset=".790" stop-color="#62a9e3"/><stop offset=".864" stop-color="#3f8fdb"/><stop offset=".899" stop-color="#6d56c9"/><stop offset=".934" stop-color="#6d55c8"/><stop offset=".939" stop-color="#6b58ca"/><stop offset=".987" stop-color="#7b44b7"/><stop offset=".994" stop-color="#813dac"/><stop offset="1.000" stop-color="#843aa6"/></linearGradient>
<linearGradient id="g481" x2="0" y2="1"><stop offset=".000" stop-color="#edf4fb"/><stop offset=".450" stop-color="#ecf3fb"/><stop offset=".601" stop-color="#ddebf8"/><stop offset=".727" stop-color="#c9dff4"/><stop offset=".757" stop-color="#91c1eb"/><stop offset=".793" stop-color="#6fafe5"/><stop offset=".857" stop-color="#4595dc"/><stop offset=".892" stop-color="#6a5bcc"/><stop offset=".927" stop-color="#6c58ca"/><stop offset=".932" stop-color="#6b59cb"/><stop offset=".987" stop-color="#7b44b7"/><stop offset=".994" stop-color="#813dac"/><stop offset="1.000" stop-color="#843aa6"/></linearGradient>
<linearGradient id="g482" x2="0" y2="1"><stop offset=".000" stop-color="#edf4fb"/><stop offset=".462" stop-color="#ecf3fb"/><stop offset=".613" stop-color="#ddebf8"/><stop offset=".739" stop-color="#c9dff4"/><stop offset=".766" stop-color="#80b9e8"/><stop offset=".798" stop-color="#5fa7e2"/><stop offset=".857" stop-color="#3d8cda"/><stop offset=".892" stop-color="#6e54c7"/><stop offset=".927" stop-color="#6c58ca"/><stop offset=".932" stop-color="#6b59cb"/><stop offset=".987" stop-color="#7b44b7"/><stop offset=".994" stop-color="#813dac"/><stop offset="1.000" stop-color="#843aa6"/></linearGradient>
<linearGradient id="g483" x2="0" y2="1"><stop offset=".000" stop-color="#edf4fb"/><stop offset=".474" stop-color="#ecf3fb"/><stop offset=".625" stop-color="#dceaf8"/><stop offset=".750" stop-color="#c9dff4"/><stop offset=".778" stop-color="#94c3eb"/><stop offset=".811" stop-color="#6fb0e5"/><stop offset=".871" stop-color="#4494dc"/><stop offset=".906" stop-color="#6a5acb"/><stop offset=".941" stop-color="#6e55c8"/><stop offset=".946" stop-color="#6b5acb"/><stop offset=".987" stop-color="#7b44b7"/><stop offset=".994" stop-color="#813dac"/><stop offset="1.000" stop-color="#843aa6"/></linearGradient>
<linearGradient id="g484" x2="0" y2="1"><stop offset=".000" stop-color="#edf4fb"/><stop offset=".484" stop-color="#ecf3fb"/><stop offset=".635" stop-color="#dceaf8"/><stop offset=".761" stop-color="#c9dff4"/><stop offset=".786" stop-color="#8ec0ea"/><stop offset=".816" stop-color="#69ace4"/><stop offset=".871" stop-color="#4090db"/><stop offset=".906" stop-color="#6c57c9"/><stop offset=".941" stop-color="#6d56c8"/><stop offset=".946" stop-color="#6a5bcc"/><stop offset=".987" stop-color="#7b44b7"/><stop offset=".994" stop-color="#813dac"/><stop offset="1.000" stop-color="#843aa6"/></linearGradient>
<linearGradient id="g485" x2="0" y2="1"><stop offset=".000" stop-color="#edf4fb"/><stop offset=".493" stop-color="#ecf3fb"/><stop offset=".644" stop-color="#dceaf8"/><stop offset=".770" stop-color="#c9dff4"/><stop offset=".794" stop-color="#8bbeea"/><stop offset=".823" stop-color="#66abe3"/><stop offset=".877" stop-color="#3f8edb"/><stop offset=".912" stop-color="#6d56c8"/><stop offset=".947" stop-color="#6d55c8"/><stop offset=".952" stop-color="#6c58ca"/><stop offset=".987" stop-color="#7b44b7"/><stop offset=".994" stop-color="#813dac"/><stop offset="1.000" stop-color="#843aa6"/></linearGradient>
<linearGradient id="g486" x2="0" y2="1"><stop offset=".000" stop-color="#edf4fb"/><stop offset=".436" stop-color="#ecf3fb"/><stop offset=".587" stop-color="#deebf8"/><stop offset=".712" stop-color="#c9dff4"/><stop offset=".750" stop-color="#8abeea"/><stop offset=".795" stop-color="#69ace4"/><stop offset=".873" stop-color="#4293dc"/><stop offset=".908" stop-color="#6b59cb"/><stop offset=".943" stop-color="#576bd6"/><stop offset=".949" stop-color="#4976d8"/><stop offset=".987" stop-color="#6a5acb"/><stop offset=".994" stop-color="#813dac"/><stop offset="1.000" stop-color="#843aa6"/></linearGradient>
<linearGradient id="g487" x2="0" y2="1"><stop offset=".000" stop-color="#edf4fb"/><stop offset=".458" stop-color="#ecf3fb"/><stop offset=".609" stop-color="#ddebf8"/><stop offset=".735" stop-color="#c9dff4"/><stop offset=".767" stop-color="#80b9e8"/><stop offset=".806" stop-color="#60a7e2"/><stop offset=".874" stop-color="#3e8dda"/><stop offset=".909" stop-color="#6e54c7"/><stop offset=".945" stop-color="#596ad5"/><stop offset=".950" stop-color="#4b75d8"/><stop offset=".987" stop-color="#6a5acb"/><stop offset=".994" stop-color="#813dac"/><stop offset="1.000" stop-color="#843aa6"/></linearGradient>
<linearGradient id="g488" x2="0" y2="1"><stop offset=".000" stop-color="#edf4fb"/><stop offset=".472" stop-color="#ecf3fb"/><stop offset=".623" stop-color="#dceaf8"/><stop offset=".749" stop-color="#c9dff4"/><stop offset=".777" stop-color="#8bbeea"/><stop offset=".812" stop-color="#67abe4"/><stop offset=".873" stop-color="#4090db"/><stop offset=".908" stop-color="#6c57c9"/><stop offset=".944" stop-color="#6d56c8"/><stop offset=".949" stop-color="#6a5acb"/><stop offset=".987" stop-color="#7b44b7"/><stop offset=".994" stop-color="#813dac"/><stop offset="1.000" stop-color="#843aa6"/></linearGradient>
<linearGradient id="g489" x2="0" y2="1"><stop offset=".000" stop-color="#edf4fb"/><stop offset=".483" stop-color="#ecf3fb"/><stop offset=".634" stop-color="#dceaf8"/><stop offset=".760" stop-color="#c9dff4"/><stop offset=".783" stop-color="#91c1eb"/><stop offset=".812" stop-color="#6caee4"/><stop offset=".865" stop-color="#4292dc"/><stop offset=".900" stop-color="#6b59ca"/><stop offset=".935" stop-color="#6d55c8"/><stop offset=".940" stop-color="#6c58ca"/><stop offset=".987" stop-color="#7b44b7"/><stop offset=".994" stop-color="#813dac"/><stop offset="1.000" stop-color="#843aa6"/></linearGradient>
<linearGradient id="g490" x2="0" y2="1"><stop offset=".000" stop-color="#edf4fb"/><stop offset=".492" stop-color="#ecf3fb"/><stop offset=".643" stop-color="#dceaf8"/><stop offset=".769" stop-color="#c9dff4"/><stop offset=".791" stop-color="#93c3eb"/><stop offset=".817" stop-color="#6eafe5"/><stop offset=".866" stop-color="#4292dc"/><stop offset=".901" stop-color="#6b59cb"/><stop offset=".937" stop-color="#6c58ca"/><stop offset=".942" stop-color="#6c57c9"/><stop offset=".987" stop-color="#7b44b7"/><stop offset=".994" stop-color="#813dac"/><stop offset="1.000" stop-color="#843aa6"/></linearGradient>
<linearGradient id="g491" x2="0" y2="1"><stop offset=".000" stop-color="#edf4fb"/><stop offset=".457" stop-color="#ecf3fb"/><stop offset=".608" stop-color="#ddebf8"/><stop offset=".734" stop-color="#c9dff4"/><stop offset=".764" stop-color="#8abeea"/><stop offset=".800" stop-color="#65aae3"/><stop offset=".864" stop-color="#3f8edb"/><stop offset=".899" stop-color="#6d56c8"/><stop offset=".934" stop-color="#5969d5"/><stop offset=".939" stop-color="#4b74d8"/><stop offset=".987" stop-color="#6a5acb"/><stop offset=".994" stop-color="#813dac"/><stop offset="1.000" stop-color="#843aa6"/></linearGradient>
<linearGradient id="g492" x2="0" y2="1"><stop offset=".000" stop-color="#edf4fb"/><stop offset=".476" stop-color="#ecf3fb"/><stop offset=".627" stop-color="#dceaf8"/><stop offset=".753" stop-color="#c9dff4"/><stop offset=".780" stop-color="#86bce9"/><stop offset=".813" stop-color="#62a8e2"/><stop offset=".873" stop-color="#3d8cda"/><stop offset=".909" stop-color="#6e54c7"/><stop offset=".944" stop-color="#596ad5"/><stop offset=".949" stop-color="#4976d8"/><stop offset=".987" stop-color="#6a5acb"/><stop offset=".994" stop-color="#813dac"/><stop offset="1.000" stop-color="#843aa6"/></linearGradient>
<linearGradient id="g493" x2="0" y2="1"><stop offset=".000" stop-color="#edf4fb"/><stop offset=".487" stop-color="#ecf3fb"/><stop offset=".638" stop-color="#dceaf8"/><stop offset=".764" stop-color="#c9dff4"/><stop offset=".786" stop-color="#99c6ec"/><stop offset=".813" stop-color="#72b1e6"/><stop offset=".863" stop-color="#4494dc"/><stop offset=".898" stop-color="#6a5acc"/><stop offset=".933" stop-color="#576ad6"/><stop offset=".938" stop-color="#4c73d8"/><stop offset=".987" stop-color="#6a5acb"/><stop offset=".994" stop-color="#813dac"/><stop offset="1.000" stop-color="#843aa6"/></linearGradient>
<linearGradient id="g494" x2="0" y2="1"><stop offset=".000" stop-color="#edf4fb"/><stop offset=".495" stop-color="#ecf3fb"/><stop offset=".646" stop-color="#dceaf8"/><stop offset=".772" stop-color="#c9dff4"/><stop offset=".794" stop-color="#95c4ec"/><stop offset=".819" stop-color="#6eafe5"/><stop offset=".868" stop-color="#4192dc"/><stop offset=".903" stop-color="#6b58ca"/><stop offset=".938" stop-color="#6e55c8"/><stop offset=".943" stop-color="#6b59ca"/><stop offset=".987" stop-color="#7b44b7"/><stop offset=".994" stop-color="#813dac"/><stop offset="1.000" stop-color="#843aa6"/></linearGradient>
<linearGradient id="g495" x2="0" y2="1"><stop offset=".000" stop-color="#edf4fb"/><stop offset=".501" stop-color="#ecf3fb"/><stop offset=".652" stop-color="#dceaf8"/><stop offset=".778" stop-color="#c9dff4"/><stop offset=".804" stop-color="#95c3eb"/><stop offset=".834" stop-color="#6daee5"/><stop offset=".890" stop-color="#4191db"/><stop offset=".926" stop-color="#6c58ca"/><stop offset=".961" stop-color="#6d56c8"/><stop offset=".966" stop-color="#6b59ca"/><stop offset=".987" stop-color="#7b44b7"/><stop offset=".994" stop-color="#813dac"/><stop offset="1.000" stop-color="#843aa6"/></linearGradient>
<linearGradient id="g496" x2="0" y2="1"><stop offset=".000" stop-color="#edf4fb"/><stop offset=".507" stop-color="#ecf3fb"/><stop offset=".658" stop-color="#dceaf8"/><stop offset=".784" stop-color="#c9dff4"/><stop offset=".805" stop-color="#93c2eb"/><stop offset=".830" stop-color="#6aade4"/><stop offset=".879" stop-color="#3f8fdb"/><stop offset=".914" stop-color="#6d57c9"/><stop offset=".949" stop-color="#6d56c9"/><stop offset=".954" stop-color="#6b59cb"/><stop offset=".987" stop-color="#7b44b7"/><stop offset=".994" stop-color="#813dac"/><stop offset="1.000" stop-color="#843aa6"/></linearGradient>
<linearGradient id="g497" x2="0" y2="1"><stop offset=".000" stop-color="#edf4fb"/><stop offset=".423" stop-color="#ecf3fb"/><stop offset=".575" stop-color="#dfecf8"/><stop offset=".700" stop-color="#c9dff4"/><stop offset=".739" stop-color="#88bce9"/><stop offset=".786" stop-color="#67abe3"/><stop offset=".865" stop-color="#4091db"/><stop offset=".901" stop-color="#6c58ca"/><stop offset=".936" stop-color="#5b68d5"/><stop offset=".941" stop-color="#4976d8"/><stop offset=".987" stop-color="#6a5acb"/><stop offset=".994" stop-color="#813dac"/><stop offset="1.000" stop-color="#843aa6"/></linearGradient>
<linearGradient id="g498" x2="0" y2="1"><stop offset=".000" stop-color="#edf4fb"/><stop offset=".451" stop-color="#ecf3fb"/><stop offset=".602" stop-color="#ddebf8"/><stop offset=".728" stop-color="#c9dff4"/><stop offset=".759" stop-color="#84bae9"/><stop offset=".796" stop-color="#62a8e3"/><stop offset=".861" stop-color="#3e8edb"/><stop offset=".896" stop-color="#6d55c8"/><stop offset=".932" stop-color="#576ad6"/><stop offset=".937" stop-color="#4e72d8"/><stop offset=".987" stop-color="#6a5acb"/><stop offset=".994" stop-color="#813dac"/><stop offset="1.000" stop-color="#843aa6"/></linearGradient>
<linearGradient id="g499" x2="0" y2="1"><stop offset=".000" stop-color="#edf4fb"/><stop offset=".465" stop-color="#ecf3fb"/><stop offset=".616" stop-color="#ddeaf8"/><stop offset=".742" stop-color="#c9dff4"/><stop offset=".771" stop-color="#95c3eb"/><stop offset=".806" stop-color="#70b0e5"/><stop offset=".869" stop-color="#4495dc"/><stop offset=".904" stop-color="#6a5bcc"/><stop offset=".940" stop-color="#596ad5"/><stop offset=".945" stop-color="#4c74d8"/><stop offset=".987" stop-color="#6a5acb"/><stop offset=".994" stop-color="#813dac"/><stop offset="1.000" stop-color="#843aa6"/></linearGradient>
<linearGradient id="g500" x2="0" y2="1"><stop offset=".000" stop-color="#edf4fb"/><stop offset=".475" stop-color="#ecf3fb"/><stop offset=".626" stop-color="#dceaf8"/><stop offset=".752" stop-color="#c9dff4"/><stop offset=".781" stop-color="#8abeea"/><stop offset=".815" stop-color="#65aae3"/><stop offset=".878" stop-color="#3f8fdb"/><stop offset=".913" stop-color="#6d56c8"/><stop offset=".948" stop-color="#6c58ca"/><stop offset=".953" stop-color="#6a5acc"/><stop offset=".987" stop-color="#7b44b7"/><stop offset=".994" stop-color="#813dac"/><stop offset="1.000" stop-color="#843aa6"/></linearGradient>
<linearGradient id="g501" x2="0" y2="1"><stop offset=".000" stop-color="#edf4fb"/><stop offset=".482" stop-color="#ecf3fb"/><stop offset=".634" stop-color="#dceaf8"/><stop offset=".759" stop-color="#c9dff4"/><stop offset=".782" stop-color="#98c5ec"/><stop offset=".809" stop-color="#71b0e5"/><stop offset=".859" stop-color="#4394dc"/><stop offset=".894" stop-color="#6a5acb"/><stop offset=".930" stop-color="#6d56c9"/><stop offset=".935" stop-color="#6b59cb"/><stop offset=".987" stop-color="#7b44b7"/><stop offset=".994" stop-color="#813dac"/><stop offset="1.000" stop-color="#843aa6"/></linearGradient>
<linearGradient id="g502" x2="0" y2="1"><stop offset=".000" stop-color="#edf4fb"/><stop offset=".489" stop-color="#ecf3fb"/><stop offset=".640" stop-color="#dceaf8"/><stop offset=".766" stop-color="#c9dff4"/><stop offset=".789" stop-color="#9cc7ed"/><stop offset=".816" stop-color="#74b2e6"/><stop offset=".867" stop-color="#4595dc"/><stop offset=".902" stop-color="#6a5bcc"/><stop offset=".938" stop-color="#6c58ca"/><stop offset=".943" stop-color="#6a5bcc"/><stop offset=".987" stop-color="#7b44b7"/><stop offset=".994" stop-color="#813dac"/><stop offset="1.000" stop-color="#843aa6"/></linearGradient>
<linearGradient id="g503" x2="0" y2="1"><stop offset=".000" stop-color="#edf4fb"/><stop offset=".495" stop-color="#ecf3fb"/><stop offset=".646" stop-color="#dceaf8"/><stop offset=".772" stop-color="#c9dff4"/><stop offset=".797" stop-color="#8abeea"/><stop offset=".828" stop-color="#63a9e3"/><stop offset=".884" stop-color="#3d8cda"/><stop offset=".919" stop-color="#6e54c7"/><stop offset=".954" stop-color="#6d57c9"/><stop offset=".959" stop-color="#6b59cb"/><stop offset=".987" stop-color="#7b44b7"/><stop offset=".994" stop-color="#813dac"/><stop offset="1.000" stop-color="#843aa6"/></linearGradient>
<linearGradient id="g504" x2="0" y2="1"><stop offset=".000" stop-color="#edf4fb"/><stop offset=".501" stop-color="#ecf3fb"/><stop offset=".652" stop-color="#dceaf8"/><stop offset=".777" stop-color="#c9dff4"/><stop offset=".797" stop-color="#99c5ec"/><stop offset=".821" stop-color="#70b0e5"/><stop offset=".866" stop-color="#4293dc"/><stop offset=".901" stop-color="#6b59cb"/><stop offset=".936" stop-color="#6d56c8"/><stop offset=".941" stop-color="#6c58ca"/><stop offset=".987" stop-color="#7b44b7"/><stop offset=".994" stop-color="#813dac"/><stop offset="1.000" stop-color="#843aa6"/></linearGradient>
<linearGradient id="g505" x2="0" y2="1"><stop offset=".000" stop-color="#edf4fb"/><stop offset=".506" stop-color="#ecf3fb"/><stop offset=".657" stop-color="#dceaf8"/><stop offset=".782" stop-color="#c9dff4"/><stop offset=".805" stop-color="#92c2eb"/><stop offset=".832" stop-color="#6aace4"/><stop offset=".883" stop-color="#3f8fdb"/><stop offset=".919" stop-color="#6d56c9"/><stop offset=".954" stop-color="#6b58ca"/><stop offset=".959" stop-color="#6b5acb"/><stop offset=".987" stop-color="#7b44b7"/><stop offset=".994" stop-color="#813dac"/><stop offset="1.000" stop-color="#843aa6"/></linearGradient>
<linearGradient id="g506" x2="0" y2="1"><stop offset=".000" stop-color="#edf4fb"/><stop offset=".406" stop-color="#ecf3fb"/><stop offset=".557" stop-color="#e0ecf9"/><stop offset=".683" stop-color="#c9dff4"/><stop offset=".729" stop-color="#84bbe9"/><stop offset=".784" stop-color="#65aae3"/><stop offset=".876" stop-color="#4091db"/><stop offset=".911" stop-color="#6c58ca"/><stop offset=".946" stop-color="#576bd6"/><stop offset=".951" stop-color="#4e72d8"/><stop offset=".987" stop-color="#6a5acb"/><stop offset=".994" stop-color="#813dac"/><stop offset="1.000" stop-color="#843aa6"/></linearGradient>
<linearGradient id="g507" x2="0" y2="1"><stop offset=".000" stop-color="#edf4fb"/><stop offset=".445" stop-color="#ecf3fb"/><stop offset=".596" stop-color="#deebf8"/><stop offset=".722" stop-color="#c9dff4"/><stop offset=".756" stop-color="#8bbeea"/><stop offset=".796" stop-color="#6aace4"/><stop offset=".866" stop-color="#4292dc"/><stop offset=".901" stop-color="#6b59ca"/><stop offset=".936" stop-color="#576ad6"/><stop offset=".941" stop-color="#4d73d8"/><stop offset=".987" stop-color="#6a5acb"/><stop offset=".994" stop-color="#813dac"/><stop offset="1.000" stop-color="#843aa6"/></linearGradient>
<linearGradient id="g508" x2="0" y2="1"><stop offset=".000" stop-color="#edf4fb"/><stop offset=".460" stop-color="#ecf3fb"/><stop offset=".611" stop-color="#ddebf8"/><stop offset=".736" stop-color="#c9dff4"/><stop offset=".768" stop-color="#88bde9"/><stop offset=".806" stop-color="#66aae3"/><stop offset=".872" stop-color="#4090db"/><stop offset=".907" stop-color="#6c57c9"/><stop offset=".943" stop-color="#596ad5"/><stop offset=".948" stop-color="#4e72d8"/><stop offset=".987" stop-color="#6a5acb"/><stop offset=".994" stop-color="#813dac"/><stop offset="1.000" stop-color="#843aa6"/></linearGradient>
<linearGradient id="g509" x2="0" y2="1"><stop offset=".000" stop-color="#edf4fb"/><stop offset=".470" stop-color="#ecf3fb"/><stop offset=".621" stop-color="#dceaf8"/><stop offset=".747" stop-color="#c9dff4"/><stop offset=".781" stop-color="#8cbfea"/><stop offset=".822" stop-color="#68ace4"/><stop offset=".894" stop-color="#4090db"/><stop offset=".929" stop-color="#6c57c9"/><stop offset=".964" stop-color="#6c57c9"/><stop offset=".969" stop-color="#6a5bcc"/><stop offset=".987" stop-color="#7b44b7"/><stop offset=".994" stop-color="#813dac"/><stop offset="1.000" stop-color="#843aa6"/></linearGradient>
<linearGradient id="g510" x2="0" y2="1"><stop offset=".000" stop-color="#edf4fb"/><stop offset=".479" stop-color="#ecf3fb"/><stop offset=".630" stop-color="#dceaf8"/><stop offset=".756" stop-color="#c9dff4"/><stop offset=".779" stop-color="#8dbfea"/><stop offset=".806" stop-color="#69ace4"/><stop offset=".858" stop-color="#4090db"/><stop offset=".893" stop-color="#6c57c9"/><stop offset=".928" stop-color="#6c57c9"/><stop offset=".933" stop-color="#6b59cb"/><stop offset=".987" stop-color="#7b44b7"/><stop offset=".994" stop-color="#813dac"/><stop offset="1.000" stop-color="#843aa6"/></linearGradient>
<linearGradient id="g511" x2="0" y2="1"><stop offset=".000" stop-color="#edf4fb"/><stop offset=".487" stop-color="#ecf3fb"/><stop offset=".638" stop-color="#dceaf8"/><stop offset=".764" stop-color="#c9dff4"/><stop offset=".789" stop-color="#93c3eb"/><stop offset=".818" stop-color="#6daee5"/><stop offset=".873" stop-color="#4292dc"/><stop offset=".908" stop-color="#6b59ca"/><stop offset=".943" stop-color="#6b58ca"/><stop offset=".948" stop-color="#695ccc"/><stop offset=".987" stop-color="#7b44b7"/><stop offset=".994" stop-color="#813dac"/><stop offset="1.000" stop-color="#843aa6"/></linearGradient>
<linearGradient id="g512" x2="0" y2="1"><stop offset=".000" stop-color="#edf4fb"/><stop offset=".494" stop-color="#ecf3fb"/><stop offset=".645" stop-color="#dceaf8"/><stop offset=".771" stop-color="#c9dff4"/><stop offset=".797" stop-color="#99c5ec"/><stop offset=".828" stop-color="#71b1e5"/><stop offset=".884" stop-color="#4394dc"/><stop offset=".920" stop-color="#6a5acb"/><stop offset=".955" stop-color="#6c58ca"/><stop offset=".960" stop-color="#6c58ca"/><stop offset=".987" stop-color="#7b44b7"/><stop offset=".994" stop-color="#813dac"/><stop offset="1.000" stop-color="#843aa6"/></linearGradient>
<linearGradient id="g513" x2="0" y2="1"><stop offset=".000" stop-color="#edf4fb"/><stop offset=".500" stop-color="#ecf3fb"/><stop offset=".651" stop-color="#dceaf8"/><stop offset=".777" stop-color="#c9dff4"/><stop offset=".800" stop-color="#92c2eb"/><stop offset=".827" stop-color="#6aade4"/><stop offset=".878" stop-color="#4090db"/><stop offset=".913" stop-color="#6c57c9"/><stop offset=".949" stop-color="#6c57ca"/><stop offset=".954" stop-color="#6c58ca"/><stop offset=".987" stop-color="#7b44b7"/><stop offset=".994" stop-color="#813dac"/><stop offset="1.000" stop-color="#843aa6"/></linearGradient>
<linearGradient id="g514" x2="0" y2="1"><stop offset=".000" stop-color="#edf4fb"/><stop offset=".449" stop-color="#ecf3fb"/><stop offset=".600" stop-color="#ddebf8"/><stop offset=".726" stop-color="#c9dff4"/><stop offset=".767" stop-color="#8abeea"/><stop offset=".816" stop-color="#66abe3"/><stop offset=".900" stop-color="#3f8fdb"/><stop offset=".935" stop-color="#6d56c9"/><stop offset=".970" stop-color="#576bd6"/><stop offset=".975" stop-color="#4e72d8"/><stop offset=".987" stop-color="#6a5acb"/><stop offset=".994" stop-color="#813dac"/><stop offset="1.000" stop-color="#843aa6"/></linearGradient>
<linearGradient id="g515" x2="0" y2="1"><stop offset=".000" stop-color="#edf4fb"/><stop offset=".469" stop-color="#ecf3fb"/><stop offset=".620" stop-color="#dceaf8"/><stop offset=".746" stop-color="#c9dff4"/><stop offset=".777" stop-color="#93c3eb"/><stop offset=".815" stop-color="#6eafe5"/><stop offset=".882" stop-color="#4393dc"/><stop offset=".917" stop-color="#6b5acb"/><stop offset=".953" stop-color="#5b67d5"/><stop offset=".958" stop-color="#4976d8"/><stop offset=".987" stop-color="#6a5acb"/><stop offset=".994" stop-color="#813dac"/><stop offset="1.000" stop-color="#843aa6"/></linearGradient>
<linearGradient id="g516" x2="0" y2="1"><stop offset=".000" stop-color="#edf4fb"/><stop offset=".480" stop-color="#ecf3fb"/><stop offset=".631" stop-color="#dceaf8"/><stop offset=".757" stop-color="#c9dff4"/><stop offset=".786" stop-color="#94c3eb"/><stop offset=".821" stop-color="#6eafe5"/><stop offset=".884" stop-color="#4293dc"/><stop offset=".919" stop-color="#6b59cb"/><stop offset=".954" stop-color="#576ad6"/><stop offset=".959" stop-color="#4e72d8"/><stop offset=".987" stop-color="#6a5acb"/><stop offset=".994" stop-color="#813dac"/><stop offset="1.000" stop-color="#843aa6"/></linearGradient>
<linearGradient id="g517" x2="0" y2="1"><stop offset=".000" stop-color="#edf4fb"/><stop offset=".488" stop-color="#ecf3fb"/><stop offset=".639" stop-color="#dceaf8"/><stop offset=".765" stop-color="#c9dff4"/><stop offset=".786" stop-color="#8bbeea"/><stop offset=".811" stop-color="#65aae3"/><stop offset=".859" stop-color="#3e8edb"/><stop offset=".894" stop-color="#6e55c8"/><stop offset=".930" stop-color="#6d56c9"/><stop offset=".935" stop-color="#6a5bcc"/><stop offset=".987" stop-color="#7b44b7"/><stop offset=".994" stop-color="#813dac"/><stop offset="1.000" stop-color="#843aa6"/></linearGradient>
<linearGradient id="g518" x2="0" y2="1"><stop offset=".000" stop-color="#edf4fb"/><stop offset=".494" stop-color="#ecf3fb"/><stop offset=".645" stop-color="#dceaf8"/><stop offset=".771" stop-color="#c9dff4"/><stop offset=".794" stop-color="#94c3eb"/><stop offset=".821" stop-color="#6daee5"/><stop offset=".872" stop-color="#4191db"/><stop offset=".907" stop-color="#6c58ca"/><stop offset=".942" stop-color="#6d56c8"/><stop offset=".948" stop-color="#6a5bcc"/><stop offset=".987" stop-color="#7b44b7"/><stop offset=".994" stop-color="#813dac"/><stop offset="1.000" stop-color="#843aa6"/></linearGradient>
<linearGradient id="g519" x2="0" y2="1"><stop offset=".000" stop-color="#edf4fb"/><stop offset=".499" stop-color="#ecf3fb"/><stop offset=".650" stop-color="#dceaf8"/><stop offset=".776" stop-color="#c9dff4"/><stop offset=".796" stop-color="#8bbeea"/><stop offset=".819" stop-color="#64aae3"/><stop offset=".864" stop-color="#3d8dda"/><stop offset=".899" stop-color="#6e54c7"/><stop offset=".934" stop-color="#6e55c8"/><stop offset=".939" stop-color="#6c57c9"/><stop offset=".987" stop-color="#7b44b7"/><stop offset=".994" stop-color="#813dac"/><stop offset="1.000" stop-color="#843aa6"/></linearGradient>
<linearGradient id="g520" x2="0" y2="1"><stop offset=".000" stop-color="#edf4fb"/><stop offset=".504" stop-color="#ecf3fb"/><stop offset=".655" stop-color="#dceaf8"/><stop offset=".781" stop-color="#c9dff4"/><stop offset=".803" stop-color="#91c1eb"/><stop offset=".828" stop-color="#69ace4"/><stop offset=".877" stop-color="#3f8fdb"/><stop offset=".912" stop-color="#6d56c8"/><stop offset=".948" stop-color="#6d56c9"/><stop offset=".953" stop-color="#6c57c9"/><stop offset=".987" stop-color="#7b44b7"/><stop offset=".994" stop-color="#813dac"/><stop offset="1.000" stop-color="#843aa6"/></linearGradient>
<linearGradient id="g521" x2="0" y2="1"><stop offset=".000" stop-color="#edf4fb"/><stop offset=".508" stop-color="#ecf3fb"/><stop offset=".659" stop-color="#dceaf8"/><stop offset=".785" stop-color="#c9dff4"/><stop offset=".804" stop-color="#9bc6ec"/><stop offset=".826" stop-color="#71b1e5"/><stop offset=".869" stop-color="#4293dc"/><stop offset=".904" stop-color="#6b59cb"/><stop offset=".940" stop-color="#6c57c9"/><stop offset=".945" stop-color="#6a5bcc"/><stop offset=".987" stop-color="#7b44b7"/><stop offset=".994" stop-color="#813dac"/><stop offset="1.000" stop-color="#843aa6"/></linearGradient>
<linearGradient id="g522" x2="0" y2="1"><stop offset=".000" stop-color="#edf4fb"/><stop offset=".512" stop-color="#ecf3fb"/><stop offset=".663" stop-color="#dceaf8"/><stop offset=".789" stop-color="#c9dff4"/><stop offset=".806" stop-color="#9dc8ed"/><stop offset=".825" stop-color="#73b2e6"/><stop offset=".864" stop-color="#4394dc"/><stop offset=".899" stop-color="#6a5acb"/><stop offset=".934" stop-color="#6d55c8"/><stop offset=".940" stop-color="#6a5bcc"/><stop offset=".987" stop-color="#7b44b7"/><stop offset=".994" stop-color="#813dac"/><stop offset="1.000" stop-color="#843aa6"/></linearGradient>
<linearGradient id="g523" x2="0" y2="1"><stop offset=".000" stop-color="#edf4fb"/><stop offset=".457" stop-color="#ecf3fb"/><stop offset=".608" stop-color="#ddebf8"/><stop offset=".734" stop-color="#c9dff4"/><stop offset=".768" stop-color="#86bce9"/><stop offset=".810" stop-color="#64a9e3"/><stop offset=".883" stop-color="#3e8edb"/><stop offset=".918" stop-color="#6d56c8"/><stop offset=".953" stop-color="#596ad5"/><stop offset=".958" stop-color="#4e72d8"/><stop offset=".987" stop-color="#6a5acb"/><stop offset=".994" stop-color="#813dac"/><stop offset="1.000" stop-color="#843aa6"/></linearGradient>
<linearGradient id="g524" x2="0" y2="1"><stop offset=".000" stop-color="#edf4fb"/><stop offset=".472" stop-color="#ecf3fb"/><stop offset=".623" stop-color="#dceaf8"/><stop offset=".749" stop-color="#c9dff4"/><stop offset=".785" stop-color="#88bde9"/><stop offset=".828" stop-color="#64aae3"/><stop offset=".902" stop-color="#3e8edb"/><stop offset=".938" stop-color="#6d55c8"/><stop offset=".973" stop-color="#5969d5"/><stop offset=".978" stop-color="#4e72d8"/><stop offset=".987" stop-color="#6a5acb"/><stop offset=".994" stop-color="#813dac"/><stop offset="1.000" stop-color="#843aa6"/></linearGradient>
<linearGradient id="g525" x2="0" y2="1"><stop offset=".000" stop-color="#edf4fb"/><stop offset=".481" stop-color="#ecf3fb"/><stop offset=".633" stop-color="#dceaf8"/><stop offset=".758" stop-color="#c9dff4"/><stop offset=".789" stop-color="#99c5ec"/><stop offset=".825" stop-color="#72b1e6"/><stop offset=".890" stop-color="#4595dc"/><stop offset=".925" stop-color="#6a5bcc"/><stop offset=".960" stop-color="#6c57c9"/><stop offset=".965" stop-color="#6a5acb"/><stop offset=".987" stop-color="#7b44b7"/><stop offset=".994" stop-color="#813dac"/><stop offset="1.000" stop-color="#843aa6"/></linearGradient>
<linearGradient id="g526" x2="0" y2="1"><stop offset=".000" stop-color="#edf4fb"/><stop offset=".489" stop-color="#ecf3fb"/><stop offset=".640" stop-color="#dceaf8"/><stop offset=".766" stop-color="#c9dff4"/><stop offset=".792" stop-color="#93c2eb"/><stop offset=".823" stop-color="#6caee4"/><stop offset=".880" stop-color="#4191db"/><stop offset=".915" stop-color="#6c58ca"/><stop offset=".951" stop-color="#6d56c8"/><stop offset=".956" stop-color="#6c58ca"/><stop offset=".987" stop-color="#7b44b7"/><stop offset=".994" stop-color="#813dac"/><stop offset="1.000" stop-color="#843aa6"/></linearGradient>
<linearGradient id="g527" x2="0" y2="1"><stop offset=".000" stop-color="#edf4fb"/><stop offset=".495" stop-color="#ecf3fb"/><stop offset=".646" stop-color="#dceaf8"/><stop offset=".772" stop-color="#c9dff4"/><stop offset=".798" stop-color="#8ec0ea"/><stop offset=".829" stop-color="#67abe4"/><stop offset=".886" stop-color="#3f8edb"/><stop offset=".921" stop-color="#6d56c8"/><stop offset=".956" stop-color="#6e55c8"/><stop offset=".961" stop-color="#6b58ca"/><stop offset=".987" stop-color="#7b44b7"/><stop offset=".994" stop-color="#813dac"/><stop offset="1.000" stop-color="#843aa6"/></linearGradient>
<linearGradient id="g528" x2="0" y2="1"><stop offset=".000" stop-color="#edf4fb"/><stop offset=".501" stop-color="#ecf3fb"/><stop offset=".652" stop-color="#dceaf8"/><stop offset=".778" stop-color="#c9dff4"/><stop offset=".803" stop-color="#97c4ec"/><stop offset=".833" stop-color="#6fafe5"/><stop offset=".889" stop-color="#4192dc"/><stop offset=".924" stop-color="#6b58ca"/><stop offset=".960" stop-color="#6d56c9"/><stop offset=".965" stop-color="#6c58ca"/><stop offset=".987" stop-color="#7b44b7"/><stop offset=".994" stop-color="#813dac"/><stop offset="1.000" stop-color="#843aa6"/></linearGradient>
<linearGradient id="g529" x2="0" y2="1"><stop offset=".000" stop-color="#edf4fb"/><stop offset=".506" stop-color="#ecf3fb"/><stop offset=".657" stop-color="#dceaf8"/><stop offset=".783" stop-color="#c9dff4"/><stop offset=".806" stop-color="#8fc0ea"/><stop offset=".835" stop-color="#67abe3"/><stop offset=".888" stop-color="#3e8edb"/><stop offset=".923" stop-color="#6e55c8"/><stop offset=".958" stop-color="#6c57c9"/><stop offset=".963" stop-color="#6a5acb"/><stop offset=".987" stop-color="#7b44b7"/><stop offset=".994" stop-color="#813dac"/><stop offset="1.000" stop-color="#843aa6"/></linearGradient>
<linearGradient id="g530" x2="0" y2="1"><stop offset=".000" stop-color="#edf4fb"/><stop offset=".510" stop-color="#ecf3fb"/><stop offset=".661" stop-color="#dceaf8"/><stop offset=".787" stop-color="#c9dff4"/><stop offset=".813" stop-color="#94c3eb"/><stop offset=".843" stop-color="#6bade4"/><stop offset=".899" stop-color="#3f8fdb"/><stop offset=".935" stop-color="#6d57c9"/><stop offset=".970" stop-color="#6c58ca"/><stop offset=".975" stop-color="#6c58ca"/><stop offset=".987" stop-color="#7b44b7"/><stop offset=".994" stop-color="#813dac"/><stop offset="1.000" stop-color="#843aa6"/></linearGradient>
<linearGradient id="g531" x2="0" y2="1"><stop offset=".000" stop-color="#edf4fb"/><stop offset=".449" stop-color="#ecf3fb"/><stop offset=".600" stop-color="#ddebf8"/><stop offset=".726" stop-color="#c9dff4"/><stop offset=".763" stop-color="#96c4ec"/><stop offset=".808" stop-color="#72b1e5"/><stop offset=".886" stop-color="#4595dc"/><stop offset=".922" stop-color="#6a5bcc"/><stop offset=".957" stop-color="#5969d5"/><stop offset=".962" stop-color="#4c74d8"/><stop offset=".987" stop-color="#6a5acb"/><stop offset=".994" stop-color="#813dac"/><stop offset="1.000" stop-color="#843aa6"/></linearGradient>
<linearGradient id="g532" x2="0" y2="1"><stop offset=".000" stop-color="#edf4fb"/><stop offset=".472" stop-color="#ecf3fb"/><stop offset=".623" stop-color="#dceaf8"/><stop offset=".749" stop-color="#c9dff4"/><stop offset=".782" stop-color="#94c3eb"/><stop offset=".821" stop-color="#6fafe5"/><stop offset=".889" stop-color="#4393dc"/><stop offset=".925" stop-color="#6b5acb"/><stop offset=".960" stop-color="#5969d5"/><stop offset=".965" stop-color="#4c74d8"/><stop offset=".987" stop-color="#6a5acb"/><stop offset=".994" stop-color="#813dac"/><stop offset="1.000" stop-color="#843aa6"/></linearGradient>
<linearGradient id="g533" x2="0" y2="1"><stop offset=".000" stop-color="#edf4fb"/><stop offset=".482" stop-color="#ecf3fb"/><stop offset=".633" stop-color="#dceaf8"/><stop offset=".759" stop-color="#c9dff4"/><stop offset=".786" stop-color="#87bce9"/><stop offset=".819" stop-color="#62a8e3"/><stop offset=".879" stop-color="#3d8cda"/><stop offset=".914" stop-color="#6e54c7"/><stop offset=".949" stop-color="#5b68d5"/><stop offset=".954" stop-color="#4c73d8"/><stop offset=".987" stop-color="#6a5acb"/><stop offset=".994" stop-color="#813dac"/><stop offset="1.000" stop-color="#843aa6"/></linearGradient>
<linearGradient id="g534" x2="0" y2="1"><stop offset=".000" stop-color="#edf4fb"/><stop offset=".489" stop-color="#ecf3fb"/><stop offset=".640" stop-color="#dceaf8"/><stop offset=".766" stop-color="#c9dff4"/><stop offset=".794" stop-color="#8abeea"/><stop offset=".827" stop-color="#64a9e3"/><stop offset=".888" stop-color="#3e8ddb"/><stop offset=".923" stop-color="#6e55c8"/><stop offset=".958" stop-color="#6e55c8"/><stop offset=".963" stop-color="#6a5bcc"/><stop offset=".987" stop-color="#7b44b7"/><stop offset=".994" stop-color="#813dac"/><stop offset="1.000" stop-color="#843aa6"/></linearGradient>
<linearGradient id="g535" x2="0" y2="1"><stop offset=".000" stop-color="#edf4fb"/><stop offset=".494" stop-color="#ecf3fb"/><stop offset=".645" stop-color="#dceaf8"/><stop offset=".771" stop-color="#c9dff4"/><stop offset=".800" stop-color="#8cbfea"/><stop offset=".834" stop-color="#65aae3"/><stop offset=".896" stop-color="#3e8edb"/><stop offset=".931" stop-color="#6e55c8"/><stop offset=".966" stop-color="#6d55c8"/><stop offset=".971" stop-color="#6c57c9"/><stop offset=".987" stop-color="#7b44b7"/><stop offset=".994" stop-color="#813dac"/><stop offset="1.000" stop-color="#843aa6"/></linearGradient>
<linearGradient id="g536" x2="0" y2="1"><stop offset=".000" stop-color="#edf4fb"/><stop offset=".499" stop-color="#ecf3fb"/><stop offset=".650" stop-color="#dceaf8"/><stop offset=".776" stop-color="#c9dff4"/><stop offset=".802" stop-color="#8fc0eb"/><stop offset=".832" stop-color="#67abe4"/><stop offset=".888" stop-color="#3e8edb"/><stop offset=".924" stop-color="#6d55c8"/><stop offset=".959" stop-color="#6c57c9"/><stop offset=".964" stop-color="#6a5bcc"/><stop offset=".987" stop-color="#7b44b7"/><stop offset=".994" stop-color="#813dac"/><stop offset="1.000" stop-color="#843aa6"/></linearGradient>
<linearGradient id="g537" x2="0" y2="1"><stop offset=".000" stop-color="#edf4fb"/><stop offset=".504" stop-color="#ecf3fb"/><stop offset=".655" stop-color="#dceaf8"/><stop offset=".781" stop-color="#c9dff4"/><stop offset=".803" stop-color="#92c2eb"/><stop offset=".829" stop-color="#6aade4"/><stop offset=".878" stop-color="#3f8fdb"/><stop offset=".914" stop-color="#6d56c9"/><stop offset=".949" stop-color="#6c58ca"/><stop offset=".954" stop-color="#6c58ca"/><stop offset=".987" stop-color="#7b44b7"/><stop offset=".994" stop-color="#813dac"/><stop offset="1.000" stop-color="#843aa6"/></linearGradient>
<linearGradient id="g538" x2="0" y2="1"><stop offset=".000" stop-color="#edf4fb"/><stop offset=".508" stop-color="#ecf3fb"/><stop offset=".659" stop-color="#dceaf8"/><stop offset=".785" stop-color="#c9dff4"/><stop offset=".810" stop-color="#95c3eb"/><stop offset=".840" stop-color="#6caee4"/><stop offset=".895" stop-color="#4090db"/><stop offset=".930" stop-color="#6c57c9"/><stop offset=".965" stop-color="#6d55c8"/><stop offset=".970" stop-color="#6a5acb"/><stop offset=".987" stop-color="#7b44b7"/><stop offset=".994" stop-color="#813dac"/><stop offset="1.000" stop-color="#843aa6"/></linearGradient>
<linearGradient id="g539" x2="0" y2="1"><stop offset=".000" stop-color="#edf4fb"/><stop offset=".512" stop-color="#ecf3fb"/><stop offset=".663" stop-color="#dceaf8"/><stop offset=".789" stop-color="#c9dff4"/><stop offset=".809" stop-color="#9bc6ec"/><stop offset=".834" stop-color="#71b0e5"/><stop offset=".881" stop-color="#4292dc"/><stop offset=".917" stop-color="#6b59cb"/><stop offset=".952" stop-color="#6e55c8"/><stop offset=".957" stop-color="#6b59ca"/><stop offset=".987" stop-color="#7b44b7"/><stop offset=".994" stop-color="#813dac"/><stop offset="1.000" stop-color="#843aa6"/></linearGradient>
<linearGradient id="g540" x2="0" y2="1"><stop offset=".000" stop-color="#edf4fb"/><stop offset=".515" stop-color="#ecf3fb"/><stop offset=".666" stop-color="#dceaf8"/><stop offset=".792" stop-color="#c9dff4"/><stop offset=".816" stop-color="#9ac6ec"/><stop offset=".845" stop-color="#70b0e5"/><stop offset=".898" stop-color="#4192dc"/><stop offset=".934" stop-color="#6b58ca"/><stop offset=".969" stop-color="#6d56c9"/><stop offset=".974" stop-color="#6b5acb"/><stop offset=".987" stop-color="#7b44b7"/><stop offset=".994" stop-color="#813dac"/><stop offset="1.000" stop-color="#843aa6"/></linearGradient>
<linearGradient id="g541" x2="0" y2="1"><stop offset=".000" stop-color="#edf4fb"/><stop offset=".519" stop-color="#ecf3fb"/><stop offset=".670" stop-color="#dceaf8"/><stop offset=".796" stop-color="#c9dff4"/><stop offset=".814" stop-color="#95c4ec"/><stop offset=".837" stop-color="#6bade4"/><stop offset=".880" stop-color="#3f8fdb"/><stop offset=".915" stop-color="#6d56c9"/><stop offset=".951" stop-color="#6d56c9"/><stop offset=".956" stop-color="#6a5acb"/><stop offset=".987" stop-color="#7b44b7"/><stop offset=".994" stop-color="#813dac"/><stop offset="1.000" stop-color="#843aa6"/></linearGradient>
<linearGradient id="g542" x2="0" y2="1"><stop offset=".000" stop-color="#edf4fb"/><stop offset=".522" stop-color="#ecf3fb"/><stop offset=".673" stop-color="#dceaf8"/><stop offset=".799" stop-color="#c9dff4"/><stop offset=".820" stop-color="#8fc0eb"/><stop offset=".846" stop-color="#65aae3"/><stop offset=".894" stop-color="#3d8cda"/><stop offset=".930" stop-color="#6e54c7"/><stop offset=".965" stop-color="#6e55c8"/><stop offset=".970" stop-color="#6c58ca"/><stop offset=".987" stop-color="#7b44b7"/><stop offset=".994" stop-color="#813dac"/><stop offset="1.000" stop-color="#843aa6"/></linearGradient>
<linearGradient id="g543" x2="0" y2="1"><stop offset=".000" stop-color="#edf4fb"/><stop offset=".525" stop-color="#ecf3fb"/><stop offset=".676" stop-color="#dceaf8"/><stop offset=".802" stop-color="#c9dff4"/><stop offset=".824" stop-color="#9ec8ed"/><stop offset=".851" stop-color="#73b1e6"/><stop offset=".901" stop-color="#4293dc"/><stop offset=".936" stop-color="#6b59cb"/><stop offset=".971" stop-color="#6c58ca"/><stop offset=".976" stop-color="#6c58ca"/><stop offset=".987" stop-color="#7b44b7"/><stop offset=".994" stop-color="#813dac"/><stop offset="1.000" stop-color="#843aa6"/></linearGradient>
<linearGradient id="g544" x2="0" y2="1"><stop offset=".000" stop-color="#edf4fb"/><stop offset=".528" stop-color="#ecf3fb"/><stop offset=".679" stop-color="#dceaf8"/><stop offset=".805" stop-color="#c9dff4"/><stop offset=".826" stop-color="#93c2eb"/><stop offset=".850" stop-color="#69ace4"/><stop offset=".898" stop-color="#3e8edb"/><stop offset=".933" stop-color="#6e55c8"/><stop offset=".968" stop-color="#6d56c8"/><stop offset=".973" stop-color="#6a5bcc"/><stop offset=".987" stop-color="#7b44b7"/><stop offset=".994" stop-color="#813dac"/><stop offset="1.000" stop-color="#843aa6"/></linearGradient>
<linearGradient id="g545" x2="0" y2="1"><stop offset=".000" stop-color="#edf4fb"/><stop offset=".528" stop-color="#ecf3fb"/><stop offset=".679" stop-color="#dceaf8"/><stop offset=".805" stop-color="#c9dff4"/><stop offset=".828" stop-color="#95c4ec"/><stop offset=".856" stop-color="#6bade4"/><stop offset=".907" stop-color="#3f8edb"/><stop offset=".942" stop-color="#6d56c8"/><stop offset=".977" stop-color="#6d56c9"/><stop offset=".979" stop-color="#6a5acb"/><stop offset=".987" stop-color="#7b44b7"/><stop offset=".994" stop-color="#813dac"/><stop offset="1.000" stop-color="#843aa6"/></linearGradient>
<linearGradient id="g546" x2="0" y2="1"><stop offset=".000" stop-color="#edf4fb"/><stop offset=".529" stop-color="#ecf3fb"/><stop offset=".680" stop-color="#dceaf8"/><stop offset=".805" stop-color="#c9dff4"/><stop offset=".820" stop-color="#99c5ec"/><stop offset=".838" stop-color="#6daee5"/><stop offset=".875" stop-color="#4090db"/><stop offset=".910" stop-color="#6c57c9"/><stop offset=".945" stop-color="#6d57c9"/><stop offset=".950" stop-color="#6b59ca"/><stop offset=".987" stop-color="#7b44b7"/><stop offset=".994" stop-color="#813dac"/><stop offset="1.000" stop-color="#843aa6"/></linearGradient>
<linearGradient id="g547" x2="0" y2="1"><stop offset=".000" stop-color="#edf4fb"/><stop offset=".450" stop-color="#ecf3fb"/><stop offset=".602" stop-color="#ddebf8"/><stop offset=".727" stop-color="#c9dff4"/><stop offset=".768" stop-color="#85bbe9"/><stop offset=".817" stop-color="#63a9e3"/><stop offset=".900" stop-color="#3e8edb"/><stop offset=".936" stop-color="#6d56c8"/><stop offset=".971" stop-color="#5b68d5"/><stop offset=".976" stop-color="#4976d8"/><stop offset=".987" stop-color="#6a5acb"/><stop offset=".994" stop-color="#813dac"/><stop offset="1.000" stop-color="#843aa6"/></linearGradient>
<linearGradient id="g548" x2="0" y2="1"><stop offset=".000" stop-color="#edf4fb"/><stop offset=".471" stop-color="#ecf3fb"/><stop offset=".622" stop-color="#dceaf8"/><stop offset=".748" stop-color="#c9dff4"/><stop offset=".785" stop-color="#8bbeea"/><stop offset=".830" stop-color="#67abe4"/><stop offset=".908" stop-color="#4090db"/><stop offset=".944" stop-color="#6c57c9"/><stop offset=".977" stop-color="#5b68d5"/><stop offset=".979" stop-color="#4e73d8"/><stop offset=".987" stop-color="#6a5acb"/><stop offset=".994" stop-color="#813dac"/><stop offset="1.000" stop-color="#843aa6"/></linearGradient>
<linearGradient id="g549" x2="0" y2="1"><stop offset=".000" stop-color="#edf4fb"/><stop offset=".481" stop-color="#ecf3fb"/><stop offset=".632" stop-color="#dceaf8"/><stop offset=".758" stop-color="#c9dff4"/><stop offset=".789" stop-color="#8dbfea"/><stop offset=".826" stop-color="#68ace4"/><stop offset=".892" stop-color="#4090db"/><stop offset=".927" stop-color="#6c57c9"/><stop offset=".962" stop-color="#5b68d5"/><stop offset=".967" stop-color="#4977d8"/><stop offset=".987" stop-color="#6a5acb"/><stop offset=".994" stop-color="#813dac"/><stop offset="1.000" stop-color="#843aa6"/></linearGradient>
<linearGradient id="g550" x2="0" y2="1"><stop offset=".000" stop-color="#edf4fb"/><stop offset=".489" stop-color="#ecf3fb"/><stop offset=".640" stop-color="#dceaf8"/><stop offset=".766" stop-color="#c9dff4"/><stop offset=".797" stop-color="#8bbeea"/><stop offset=".833" stop-color="#65aae3"/><stop offset=".899" stop-color="#3e8edb"/><stop offset=".934" stop-color="#6d55c8"/><stop offset=".969" stop-color="#6d56c9"/><stop offset=".974" stop-color="#6b59cb"/><stop offset=".987" stop-color="#7b44b7"/><stop offset=".994" stop-color="#813dac"/><stop offset="1.000" stop-color="#843aa6"/></linearGradient>
<linearGradient id="g551" x2="0" y2="1"><stop offset=".000" stop-color="#edf4fb"/><stop offset=".496" stop-color="#ecf3fb"/><stop offset=".647" stop-color="#dceaf8"/><stop offset=".773" stop-color="#c9dff4"/><stop offset=".799" stop-color="#96c4ec"/><stop offset=".831" stop-color="#6fafe5"/><stop offset=".889" stop-color="#4292dc"/><stop offset=".924" stop-color="#6b59ca"/><stop offset=".960" stop-color="#6d56c9"/><stop offset=".965" stop-color="#6a5bcc"/><stop offset=".987" stop-color="#7b44b7"/><stop offset=".994" stop-color="#813dac"/><stop offset="1.000" stop-color="#843aa6"/></linearGradient>
<linearGradient id="g552" x2="0" y2="1"><stop offset=".000" stop-color="#edf4fb"/><stop offset=".502" stop-color="#ecf3fb"/><stop offset=".653" stop-color="#dceaf8"/><stop offset=".778" stop-color="#c9dff4"/><stop offset=".803" stop-color="#93c2eb"/><stop offset=".833" stop-color="#6bade4"/><stop offset=".888" stop-color="#4090db"/><stop offset=".923" stop-color="#6c57c9"/><stop offset=".958" stop-color="#6c57ca"/><stop offset=".963" stop-color="#6c57c9"/><stop offset=".987" stop-color="#7b44b7"/><stop offset=".994" stop-color="#813dac"/><stop offset="1.000" stop-color="#843aa6"/></linearGradient>
<linearGradient id="g553" x2="0" y2="1"><stop offset=".000" stop-color="#edf4fb"/><stop offset=".507" stop-color="#ecf3fb"/><stop offset=".658" stop-color="#dceaf8"/><stop offset=".784" stop-color="#c9dff4"/><stop offset=".809" stop-color="#8ec0ea"/><stop offset=".839" stop-color="#67abe3"/><stop offset=".895" stop-color="#3e8edb"/><stop offset=".930" stop-color="#6e55c8"/><stop offset=".965" stop-color="#6d57c9"/><stop offset=".970" stop-color="#6c58ca"/><stop offset=".987" stop-color="#7b44b7"/><stop offset=".994" stop-color="#813dac"/><stop offset="1.000" stop-color="#843aa6"/></linearGradient>
<linearGradient id="g554" x2="0" y2="1"><stop offset=".000" stop-color="#edf4fb"/><stop offset=".512" stop-color="#ecf3fb"/><stop offset=".663" stop-color="#dceaf8"/><stop offset=".789" stop-color="#c9dff4"/><stop offset=".811" stop-color="#98c5ec"/><stop offset=".838" stop-color="#6fafe5"/><stop offset=".889" stop-color="#4192dc"/><stop offset=".924" stop-color="#6c58ca"/><stop offset=".959" stop-color="#6d56c9"/><stop offset=".965" stop-color="#6a5bcc"/><stop offset=".987" stop-color="#7b44b7"/><stop offset=".994" stop-color="#813dac"/><stop offset="1.000" stop-color="#843aa6"/></linearGradient>
<linearGradient id="g555" x2="0" y2="1"><stop offset=".000" stop-color="#edf4fb"/><stop offset=".423" stop-color="#ecf3fb"/><stop offset=".575" stop-color="#dfecf8"/><stop offset=".700" stop-color="#c9dff4"/><stop offset=".747" stop-color="#7fb8e8"/><stop offset=".802" stop-color="#60a7e2"/><stop offset=".896" stop-color="#3e8ddb"/><stop offset=".931" stop-color="#6e55c8"/><stop offset=".966" stop-color="#5a68d5"/><stop offset=".971" stop-color="#4e72d8"/><stop offset=".987" stop-color="#6a5acb"/><stop offset=".994" stop-color="#813dac"/><stop offset="1.000" stop-color="#843aa6"/></linearGradient>
<linearGradient id="g556" x2="0" y2="1"><stop offset=".000" stop-color="#edf4fb"/><stop offset=".454" stop-color="#ecf3fb"/><stop offset=".605" stop-color="#ddebf8"/><stop offset=".731" stop-color="#c9dff4"/><stop offset=".766" stop-color="#91c1eb"/><stop offset=".810" stop-color="#6eafe5"/><stop offset=".884" stop-color="#4494dc"/><stop offset=".919" stop-color="#6a5bcc"/><stop offset=".955" stop-color="#5b68d5"/><stop offset=".960" stop-color="#4977d8"/><stop offset=".987" stop-color="#6a5acb"/><stop offset=".994" stop-color="#813dac"/><stop offset="1.000" stop-color="#843aa6"/></linearGradient>
<linearGradient id="g557" x2="0" y2="1"><stop offset=".000" stop-color="#edf4fb"/><stop offset=".468" stop-color="#ecf3fb"/><stop offset=".619" stop-color="#dceaf8"/><stop offset=".745" stop-color="#c9dff4"/><stop offset=".782" stop-color="#8abeea"/><stop offset=".825" stop-color="#67abe3"/><stop offset=".901" stop-color="#4090db"/><stop offset=".936" stop-color="#6c57c9"/><stop offset=".971" stop-color="#596ad5"/><stop offset=".976" stop-color="#4977d8"/><stop offset=".987" stop-color="#6a5acb"/><stop offset=".994" stop-color="#813dac"/><stop offset="1.000" stop-color="#843aa6"/></linearGradient>
<linearGradient id="g558" x2="0" y2="1"><stop offset=".000" stop-color="#edf4fb"/><stop offset=".479" stop-color="#ecf3fb"/><stop offset=".630" stop-color="#dceaf8"/><stop offset=".756" stop-color="#c9dff4"/><stop offset=".788" stop-color="#8fc0eb"/><stop offset=".827" stop-color="#6aade4"/><stop offset=".896" stop-color="#4191db"/><stop offset=".931" stop-color="#6c58ca"/><stop offset=".966" stop-color="#6e55c8"/><stop offset=".971" stop-color="#6b59ca"/><stop offset=".987" stop-color="#7b44b7"/><stop offset=".994" stop-color="#813dac"/><stop offset="1.000" stop-color="#843aa6"/></linearGradient>
<linearGradient id="g559" x2="0" y2="1"><stop offset=".000" stop-color="#edf4fb"/><stop offset=".487" stop-color="#ecf3fb"/><stop offset=".638" stop-color="#dceaf8"/><stop offset=".764" stop-color="#c9dff4"/><stop offset=".792" stop-color="#93c2eb"/><stop offset=".824" stop-color="#6daee5"/><stop offset=".883" stop-color="#4292dc"/><stop offset=".919" stop-color="#6b59ca"/><stop offset=".954" stop-color="#6d55c8"/><stop offset=".959" stop-color="#6a5acb"/><stop offset=".987" stop-color="#7b44b7"/><stop offset=".994" stop-color="#813dac"/><stop offset="1.000" stop-color="#843aa6"/></linearGradient>
<linearGradient id="g560" x2="0" y2="1"><stop offset=".000" stop-color="#edf4fb"/><stop offset=".495" stop-color="#ecf3fb"/><stop offset=".646" stop-color="#dceaf8"/><stop offset=".772" stop-color="#c9dff4"/><stop offset=".801" stop-color="#89bdea"/><stop offset=".836" stop-color="#64a9e3"/><stop offset=".899" stop-color="#3e8dda"/><stop offset=".934" stop-color="#6e54c7"/><stop offset=".970" stop-color="#6c57c9"/><stop offset=".975" stop-color="#6a5bcc"/><stop offset=".987" stop-color="#7b44b7"/><stop offset=".994" stop-color="#813dac"/><stop offset="1.000" stop-color="#843aa6"/></linearGradient>
<linearGradient id="g561" x2="0" y2="1"><stop offset=".000" stop-color="#edf4fb"/><stop offset=".501" stop-color="#ecf3fb"/><stop offset=".652" stop-color="#dceaf8"/><stop offset=".778" stop-color="#c9dff4"/><stop offset=".802" stop-color="#89bdea"/><stop offset=".830" stop-color="#63a9e3"/><stop offset=".882" stop-color="#3d8cda"/><stop offset=".917" stop-color="#6e54c7"/><stop offset=".953" stop-color="#6c58ca"/><stop offset=".958" stop-color="#6a5acc"/><stop offset=".987" stop-color="#7b44b7"/><stop offset=".994" stop-color="#813dac"/><stop offset="1.000" stop-color="#843aa6"/></linearGradient>
<linearGradient id="g562" x2="0" y2="1"><stop offset=".000" stop-color="#edf4fb"/><stop offset=".507" stop-color="#ecf3fb"/><stop offset=".658" stop-color="#dceaf8"/><stop offset=".784" stop-color="#c9dff4"/><stop offset=".810" stop-color="#8ec0ea"/><stop offset=".841" stop-color="#67abe4"/><stop offset=".897" stop-color="#3e8edb"/><stop offset=".932" stop-color="#6d55c8"/><stop offset=".967" stop-color="#6c58ca"/><stop offset=".972" stop-color="#6b59cb"/><stop offset=".987" stop-color="#7b44b7"/><stop offset=".994" stop-color="#813dac"/><stop offset="1.000" stop-color="#843aa6"/></linearGradient>
<linearGradient id="g563" x2="0" y2="1"><stop offset=".000" stop-color="#edf4fb"/><stop offset=".513" stop-color="#ecf3fb"/><stop offset=".664" stop-color="#dceaf8"/><stop offset=".790" stop-color="#c9dff4"/><stop offset=".811" stop-color="#8ebfea"/><stop offset=".837" stop-color="#66aae3"/><stop offset=".886" stop-color="#3e8ddb"/><stop offset=".921" stop-color="#6e55c8"/><stop offset=".956" stop-color="#6d56c9"/><stop offset=".961" stop-color="#6a5acb"/><stop offset=".987" stop-color="#7b44b7"/><stop offset=".994" stop-color="#813dac"/><stop offset="1.000" stop-color="#843aa6"/></linearGradient>
<linearGradient id="g564" x2="0" y2="1"><stop offset=".000" stop-color="#edf4fb"/><stop offset=".460" stop-color="#ecf3fb"/><stop offset=".611" stop-color="#ddebf8"/><stop offset=".737" stop-color="#c9dff4"/><stop offset=".772" stop-color="#85bbe9"/><stop offset=".815" stop-color="#63a9e3"/><stop offset=".888" stop-color="#3e8edb"/><stop offset=".923" stop-color="#6d55c8"/><stop offset=".959" stop-color="#5b68d5"/><stop offset=".964" stop-color="#4c73d8"/><stop offset=".987" stop-color="#6a5acb"/><stop offset=".994" stop-color="#813dac"/><stop offset="1.000" stop-color="#843aa6"/></linearGradient>
<linearGradient id="g565" x2="0" y2="1"><stop offset=".000" stop-color="#edf4fb"/><stop offset=".475" stop-color="#ecf3fb"/><stop offset=".626" stop-color="#dceaf8"/><stop offset=".752" stop-color="#c9dff4"/><stop offset=".787" stop-color="#8abeea"/><stop offset=".829" stop-color="#67abe3"/><stop offset=".902" stop-color="#3f8fdb"/><stop offset=".937" stop-color="#6d56c9"/><stop offset=".972" stop-color="#576ad6"/><stop offset=".977" stop-color="#4b74d8"/><stop offset=".987" stop-color="#6a5acb"/><stop offset=".994" stop-color="#813dac"/><stop offset="1.000" stop-color="#843aa6"/></linearGradient>
<linearGradient id="g566" x2="0" y2="1"><stop offset=".000" stop-color="#edf4fb"/><stop offset=".485" stop-color="#ecf3fb"/><stop offset=".636" stop-color="#dceaf8"/><stop offset=".762" stop-color="#c9dff4"/><stop offset=".792" stop-color="#85bbe9"/><stop offset=".829" stop-color="#61a8e2"/><stop offset=".893" stop-color="#3d8cda"/><stop offset=".929" stop-color="#6e54c7"/><stop offset=".964" stop-color="#6e55c8"/><stop offset=".969" stop-color="#695ccc"/><stop offset=".987" stop-color="#7b44b7"/><stop offset=".994" stop-color="#813dac"/><stop offset="1.000" stop-color="#843aa6"/></linearGradient>
<linearGradient id="g567" x2="0" y2="1"><stop offset=".000" stop-color="#edf4fb"/><stop offset=".492" stop-color="#ecf3fb"/><stop offset=".643" stop-color="#dceaf8"/><stop offset=".769" stop-color="#c9dff4"/><stop offset=".797" stop-color="#97c4ec"/><stop offset=".830" stop-color="#70b0e5"/><stop offset=".890" stop-color="#4393dc"/><stop offset=".925" stop-color="#6b5acb"/><stop offset=".961" stop-color="#6c58ca"/><stop offset=".966" stop-color="#6c58ca"/><stop offset=".987" stop-color="#7b44b7"/><stop offset=".994" stop-color="#813dac"/><stop offset="1.000" stop-color="#843aa6"/></linearGradient>
<linearGradient id="g568" x2="0" y2="1"><stop offset=".000" stop-color="#edf4fb"/><stop offset=".499" stop-color="#ecf3fb"/><stop offset=".650" stop-color="#dceaf8"/><stop offset=".776" stop-color="#c9dff4"/><stop offset=".808" stop-color="#98c5ec"/><stop offset=".847" stop-color="#71b0e5"/><stop offset=".915" stop-color="#4393dc"/><stop offset=".950" stop-color="#6b5acb"/><stop offset=".977" stop-color="#6c58ca"/><stop offset=".979" stop-color="#6c58ca"/><stop offset=".987" stop-color="#7b44b7"/><stop offset=".994" stop-color="#813dac"/><stop offset="1.000" stop-color="#843aa6"/></linearGradient>
<linearGradient id="g569" x2="0" y2="1"><stop offset=".000" stop-color="#edf4fb"/><stop offset=".505" stop-color="#ecf3fb"/><stop offset=".656" stop-color="#dceaf8"/><stop offset=".782" stop-color="#c9dff4"/><stop offset=".819" stop-color="#9ac6ec"/><stop offset=".864" stop-color="#72b1e5"/><stop offset=".941" stop-color="#4394dc"/><stop offset=".976" stop-color="#6a5acb"/><stop offset=".977" stop-color="#6e55c8"/><stop offset=".979" stop-color="#6b5acb"/><stop offset=".987" stop-color="#7b44b7"/><stop offset=".994" stop-color="#813dac"/><stop offset="1.000" stop-color="#843aa6"/></linearGradient>
<linearGradient id="g570" x2="0" y2="1"><stop offset=".000" stop-color="#edf4fb"/><stop offset=".510" stop-color="#ecf3fb"/><stop offset=".661" stop-color="#dceaf8"/><stop offset=".787" stop-color="#c9dff4"/><stop offset=".817" stop-color="#8dbfea"/><stop offset=".853" stop-color="#65aae3"/><stop offset=".918" stop-color="#3e8dda"/><stop offset=".953" stop-color="#6e54c7"/><stop offset=".977" stop-color="#6d55c8"/><stop offset=".979" stop-color="#6a5bcc"/><stop offset=".987" stop-color="#7b44b7"/><stop offset=".994" stop-color="#813dac"/><stop offset="1.000" stop-color="#843aa6"/></linearGradient>
<linearGradient id="g571" x2="0" y2="1"><stop offset=".000" stop-color="#edf4fb"/><stop offset=".515" stop-color="#ecf3fb"/><stop offset=".666" stop-color="#dceaf8"/><stop offset=".792" stop-color="#c9dff4"/><stop offset=".819" stop-color="#90c1eb"/><stop offset=".852" stop-color="#67abe4"/><stop offset=".911" stop-color="#3e8edb"/><stop offset=".946" stop-color="#6d55c8"/><stop offset=".977" stop-color="#6c57c9"/><stop offset=".979" stop-color="#6a5bcc"/><stop offset=".987" stop-color="#7b44b7"/><stop offset=".994" stop-color="#813dac"/><stop offset="1.000" stop-color="#843aa6"/></linearGradient>
<linearGradient id="g572" x2="0" y2="1"><stop offset=".000" stop-color="#edf4fb"/><stop offset=".361" stop-color="#ecf3fb"/><stop offset=".512" stop-color="#e2eef9"/><stop offset=".637" stop-color="#c9dff4"/><stop offset=".693" stop-color="#82bae8"/><stop offset=".777" stop-color="#68ace4"/><stop offset=".900" stop-color="#4495dc"/><stop offset=".936" stop-color="#6a5bcc"/><stop offset=".971" stop-color="#5969d5"/><stop offset=".976" stop-color="#4c73d8"/><stop offset=".987" stop-color="#6a5acb"/><stop offset=".994" stop-color="#813dac"/><stop offset="1.000" stop-color="#843aa6"/></linearGradient>
<linearGradient id="g573" x2="0" y2="1"><stop offset=".000" stop-color="#edf4fb"/><stop offset=".415" stop-color="#ecf3fb"/><stop offset=".566" stop-color="#dfecf8"/><stop offset=".691" stop-color="#c9dff4"/><stop offset=".739" stop-color="#82b9e8"/><stop offset=".796" stop-color="#65aae3"/><stop offset=".891" stop-color="#4292dc"/><stop offset=".926" stop-color="#6b59cb"/><stop offset=".961" stop-color="#5b68d5"/><stop offset=".966" stop-color="#4976d8"/><stop offset=".987" stop-color="#6a5acb"/><stop offset=".994" stop-color="#813dac"/><stop offset="1.000" stop-color="#843aa6"/></linearGradient>
<linearGradient id="g574" x2="0" y2="1"><stop offset=".000" stop-color="#edf4fb"/><stop offset=".434" stop-color="#ecf3fb"/><stop offset=".585" stop-color="#deebf8"/><stop offset=".711" stop-color="#c9dff4"/><stop offset=".757" stop-color="#83bae9"/><stop offset=".813" stop-color="#65aae3"/><stop offset=".906" stop-color="#4191db"/><stop offset=".941" stop-color="#6c58ca"/><stop offset=".977" stop-color="#576bd6"/><stop offset=".979" stop-color="#4b75d8"/><stop offset=".987" stop-color="#6a5acb"/><stop offset=".994" stop-color="#813dac"/><stop offset="1.000" stop-color="#843aa6"/></linearGradient>
<linearGradient id="g575" x2="0" y2="1"><stop offset=".000" stop-color="#edf4fb"/><stop offset=".449" stop-color="#ecf3fb"/><stop offset=".600" stop-color="#ddebf8"/><stop offset=".726" stop-color="#c9dff4"/><stop offset=".771" stop-color="#7eb7e8"/><stop offset=".824" stop-color="#5fa6e2"/><stop offset=".914" stop-color="#3e8ddb"/><stop offset=".949" stop-color="#6e55c7"/><stop offset=".977" stop-color="#6d56c9"/><stop offset=".979" stop-color="#6a5bcc"/><stop offset=".987" stop-color="#7b44b7"/><stop offset=".994" stop-color="#813dac"/><stop offset="1.000" stop-color="#843aa6"/></linearGradient>
<linearGradient id="g576" x2="0" y2="1"><stop offset=".000" stop-color="#edf4fb"/><stop offset=".461" stop-color="#ecf3fb"/><stop offset=".613" stop-color="#ddebf8"/><stop offset=".738" stop-color="#c9dff4"/><stop offset=".779" stop-color="#8ebfea"/><stop offset=".827" stop-color="#6bade4"/><stop offset=".910" stop-color="#4393dc"/><stop offset=".945" stop-color="#6b59cb"/><stop offset=".977" stop-color="#6d56c8"/><stop offset=".979" stop-color="#6a5acb"/><stop offset=".987" stop-color="#7b44b7"/><stop offset=".994" stop-color="#813dac"/><stop offset="1.000" stop-color="#843aa6"/></linearGradient>
<linearGradient id="g577" x2="0" y2="1"><stop offset=".000" stop-color="#edf4fb"/><stop offset=".472" stop-color="#ecf3fb"/><stop offset=".623" stop-color="#dceaf8"/><stop offset=".749" stop-color="#c9dff4"/><stop offset=".790" stop-color="#83bae9"/><stop offset=".839" stop-color="#61a8e2"/><stop offset=".923" stop-color="#3e8ddb"/><stop offset=".958" stop-color="#6e55c7"/><stop offset=".977" stop-color="#6c58ca"/><stop offset=".979" stop-color="#6c58ca"/><stop offset=".987" stop-color="#7b44b7"/><stop offset=".994" stop-color="#813dac"/><stop offset="1.000" stop-color="#843aa6"/></linearGradient>
<linearGradient id="g578" x2="0" y2="1"><stop offset=".000" stop-color="#edf4fb"/><stop offset=".482" stop-color="#ecf3fb"/><stop offset=".633" stop-color="#dceaf8"/><stop offset=".759" stop-color="#c9dff4"/><stop offset=".798" stop-color="#8bbeea"/><stop offset=".844" stop-color="#67abe3"/><stop offset=".924" stop-color="#3f8fdb"/><stop offset=".959" stop-color="#6d56c9"/><stop offset=".977" stop-color="#6d55c8"/><stop offset=".979" stop-color="#6a5acb"/><stop offset=".987" stop-color="#7b44b7"/><stop offset=".994" stop-color="#813dac"/><stop offset="1.000" stop-color="#843aa6"/></linearGradient>
<linearGradient id="g579" x2="0" y2="1"><stop offset=".000" stop-color="#edf4fb"/><stop offset=".491" stop-color="#ecf3fb"/><stop offset=".642" stop-color="#dceaf8"/><stop offset=".768" stop-color="#c9dff4"/><stop offset=".798" stop-color="#98c5ec"/><stop offset=".834" stop-color="#72b1e5"/><stop offset=".899" stop-color="#4495dc"/><stop offset=".934" stop-color="#6a5bcc"/><stop offset=".969" stop-color="#6c58ca"/><stop offset=".974" stop-color="#6b59ca"/><stop offset=".987" stop-color="#7b44b7"/><stop offset=".994" stop-color="#813dac"/><stop offset="1.000" stop-color="#843aa6"/></linearGradient>
<linearGradient id="g580" x2="0" y2="1"><stop offset=".000" stop-color="#edf4fb"/><stop offset=".499" stop-color="#ecf3fb"/><stop offset=".650" stop-color="#dceaf8"/><stop offset=".776" stop-color="#c9dff4"/><stop offset=".797" stop-color="#9bc6ec"/><stop offset=".823" stop-color="#74b2e6"/><stop offset=".872" stop-color="#4595dc"/><stop offset=".907" stop-color="#6a5bcc"/><stop offset=".943" stop-color="#6c58ca"/><stop offset=".948" stop-color="#6c58ca"/><stop offset=".987" stop-color="#7b44b7"/><stop offset=".994" stop-color="#813dac"/><stop offset="1.000" stop-color="#843aa6"/></linearGradient>
<linearGradient id="g581" x2="0" y2="1"><stop offset=".000" stop-color="#edf4fb"/><stop offset=".506" stop-color="#ecf3fb"/><stop offset=".658" stop-color="#dceaf8"/><stop offset=".783" stop-color="#c9dff4"/><stop offset=".811" stop-color="#8bbeea"/><stop offset=".845" stop-color="#64aae3"/><stop offset=".906" stop-color="#3e8ddb"/><stop offset=".941" stop-color="#6e55c8"/><stop offset=".976" stop-color="#6e55c8"/><stop offset=".979" stop-color="#6c58ca"/><stop offset=".987" stop-color="#7b44b7"/><stop offset=".994" stop-color="#813dac"/><stop offset="1.000" stop-color="#843aa6"/></linearGradient>
<linearGradient id="g582" x2="0" y2="1"><stop offset=".000" stop-color="#edf4fb"/><stop offset=".514" stop-color="#ecf3fb"/><stop offset=".665" stop-color="#dceaf8"/><stop offset=".791" stop-color="#c9dff4"/><stop offset=".824" stop-color="#93c2eb"/><stop offset=".864" stop-color="#6bade4"/><stop offset=".935" stop-color="#4090db"/><stop offset=".970" stop-color="#6c57c9"/><stop offset=".977" stop-color="#6e55c8"/><stop offset=".979" stop-color="#6b58ca"/><stop offset=".987" stop-color="#7b44b7"/><stop offset=".994" stop-color="#813dac"/><stop offset="1.000" stop-color="#843aa6"/></linearGradient>
<linearGradient id="g583" x2="0" y2="1"><stop offset=".000" stop-color="#edf4fb"/><stop offset=".520" stop-color="#ecf3fb"/><stop offset=".672" stop-color="#dceaf8"/><stop offset=".797" stop-color="#c9dff4"/><stop offset=".823" stop-color="#94c3eb"/><stop offset=".854" stop-color="#6bade4"/><stop offset=".911" stop-color="#4090db"/><stop offset=".946" stop-color="#6c57c9"/><stop offset=".977" stop-color="#6c57c9"/><stop offset=".979" stop-color="#695ccc"/><stop offset=".987" stop-color="#7b44b7"/><stop offset=".994" stop-color="#813dac"/><stop offset="1.000" stop-color="#843aa6"/></linearGradient>
<linearGradient id="g584" x2="0" y2="1"><stop offset=".000" stop-color="#edf4fb"/><stop offset=".471" stop-color="#ecf3fb"/><stop offset=".622" stop-color="#dceaf8"/><stop offset=".748" stop-color="#c9dff4"/><stop offset=".785" stop-color="#95c4ec"/><stop offset=".830" stop-color="#70b0e5"/><stop offset=".907" stop-color="#4494dc"/><stop offset=".942" stop-color="#6a5bcc"/><stop offset=".977" stop-color="#576ad6"/><stop offset=".979" stop-color="#4c74d8"/><stop offset=".987" stop-color="#6a5acb"/><stop offset=".994" stop-color="#813dac"/><stop offset="1.000" stop-color="#843aa6"/></linearGradient>
<linearGradient id="g585" x2="0" y2="1"><stop offset=".000" stop-color="#edf4fb"/><stop offset=".484" stop-color="#ecf3fb"/><stop offset=".635" stop-color="#dceaf8"/><stop offset=".761" stop-color="#c9dff4"/><stop offset=".800" stop-color="#97c4ec"/><stop offset=".846" stop-color="#71b0e5"/><stop offset=".925" stop-color="#4494dc"/><stop offset=".960" stop-color="#6a5acb"/><stop offset=".977" stop-color="#5b68d5"/><stop offset=".979" stop-color="#4c73d8"/><stop offset=".987" stop-color="#6a5acb"/><stop offset=".994" stop-color="#813dac"/><stop offset="1.000" stop-color="#843aa6"/></linearGradient>
<linearGradient id="g586" x2="0" y2="1"><stop offset=".000" stop-color="#edf4fb"/><stop offset=".492" stop-color="#ecf3fb"/><stop offset=".643" stop-color="#dceaf8"/><stop offset=".769" stop-color="#c9dff4"/><stop offset=".801" stop-color="#8cbfea"/><stop offset=".840" stop-color="#66abe3"/><stop offset=".908" stop-color="#3f8edb"/><stop offset=".943" stop-color="#6d56c8"/><stop offset=".977" stop-color="#6e55c8"/><stop offset=".979" stop-color="#6a5bcc"/><stop offset=".987" stop-color="#7b44b7"/><stop offset=".994" stop-color="#813dac"/><stop offset="1.000" stop-color="#843aa6"/></linearGradient>
<linearGradient id="g587" x2="0" y2="1"><stop offset=".000" stop-color="#edf4fb"/><stop offset=".498" stop-color="#ecf3fb"/><stop offset=".649" stop-color="#dceaf8"/><stop offset=".775" stop-color="#c9dff4"/><stop offset=".817" stop-color="#8bbeea"/><stop offset=".866" stop-color="#64aae3"/><stop offset=".950" stop-color="#3e8ddb"/><stop offset=".986" stop-color="#6e55c7"/><stop offset=".986" stop-color="#6e55c8"/><stop offset=".986" stop-color="#6a5acc"/><stop offset=".987" stop-color="#7b44b7"/><stop offset=".994" stop-color="#813dac"/><stop offset="1.000" stop-color="#843aa6"/></linearGradient>
<linearGradient id="g588" x2="0" y2="1"><stop offset=".000" stop-color="#edf4fb"/><stop offset=".504" stop-color="#ecf3fb"/><stop offset=".655" stop-color="#dceaf8"/><stop offset=".781" stop-color="#c9dff4"/><stop offset=".814" stop-color="#9bc7ed"/><stop offset=".855" stop-color="#73b1e6"/><stop offset=".926" stop-color="#4494dc"/><stop offset=".961" stop-color="#6a5acb"/><stop offset=".977" stop-color="#6d55c8"/><stop offset=".979" stop-color="#6c58ca"/><stop offset=".987" stop-color="#7b44b7"/><stop offset=".994" stop-color="#813dac"/><stop offset="1.000" stop-color="#843aa6"/></linearGradient>
<linearGradient id="g589" x2="0" y2="1"><stop offset=".000" stop-color="#edf4fb"/><stop offset=".508" stop-color="#ecf3fb"/><stop offset=".659" stop-color="#dceaf8"/><stop offset=".785" stop-color="#c9dff4"/><stop offset=".823" stop-color="#8fc0eb"/><stop offset=".868" stop-color="#67abe3"/><stop offset=".945" stop-color="#3e8edb"/><stop offset=".981" stop-color="#6e55c8"/><stop offset=".981" stop-color="#6c57c9"/><stop offset=".981" stop-color="#6b59ca"/><stop offset=".987" stop-color="#7b44b7"/><stop offset=".994" stop-color="#813dac"/><stop offset="1.000" stop-color="#843aa6"/></linearGradient>
</defs>
<rect x="34.0" y="21" width="1.05" height="198.6" fill="url(#g0)"/>
<rect x="35.0" y="21" width="1.05" height="198.6" fill="url(#g1)"/>
<rect x="36.0" y="21" width="1.05" height="198.6" fill="url(#g2)"/>
<rect x="37.0" y="21" width="1.05" height="198.6" fill="url(#g3)"/>
<rect x="38.0" y="21" width="1.05" height="198.6" fill="url(#g4)"/>
<rect x="39.0" y="21" width="1.05" height="198.6" fill="url(#g5)"/>
<rect x="40.0" y="21" width="1.05" height="198.6" fill="url(#g6)"/>
<rect x="41.0" y="21" width="1.05" height="198.6" fill="url(#g7)"/>
<rect x="42.0" y="21" width="1.05" height="198.6" fill="url(#g8)"/>
<rect x="43.0" y="21" width="1.05" height="198.6" fill="url(#g9)"/>
<rect x="44.0" y="21" width="1.05" height="198.6" fill="url(#g10)"/>
<rect x="45.0" y="21" width="1.05" height="198.6" fill="url(#g11)"/>
<rect x="46.0" y="21" width="1.05" height="198.6" fill="url(#g12)"/>
<rect x="47.0" y="21" width="1.05" height="198.6" fill="url(#g13)"/>
<rect x="48.0" y="21" width="1.05" height="198.6" fill="url(#g14)"/>
<rect x="49.0" y="21" width="1.05" height="198.6" fill="url(#g15)"/>
<rect x="50.0" y="21" width="1.05" height="198.6" fill="url(#g16)"/>
<rect x="51.0" y="21" width="1.05" height="198.6" fill="url(#g17)"/>
<rect x="52.0" y="21" width="1.05" height="198.6" fill="url(#g18)"/>
<rect x="53.0" y="21" width="1.05" height="198.6" fill="url(#g19)"/>
<rect x="54.0" y="21" width="1.05" height="198.6" fill="url(#g20)"/>
<rect x="55.0" y="21" width="1.05" height="198.6" fill="url(#g21)"/>
<rect x="56.0" y="21" width="1.05" height="198.6" fill="url(#g22)"/>
<rect x="57.0" y="21" width="1.05" height="198.6" fill="url(#g23)"/>
<rect x="58.0" y="21" width="1.05" height="198.6" fill="url(#g24)"/>
<rect x="59.0" y="21" width="1.05" height="198.6" fill="url(#g25)"/>
<rect x="60.0" y="21" width="1.05" height="198.6" fill="url(#g26)"/>
<rect x="61.0" y="21" width="1.05" height="198.6" fill="url(#g27)"/>
<rect x="62.0" y="21" width="1.05" height="198.6" fill="url(#g28)"/>
<rect x="63.0" y="21" width="1.05" height="198.6" fill="url(#g29)"/>
<rect x="64.0" y="21" width="1.05" height="198.6" fill="url(#g30)"/>
<rect x="65.0" y="21" width="1.05" height="198.6" fill="url(#g31)"/>
<rect x="66.0" y="21" width="1.05" height="198.6" fill="url(#g32)"/>
<rect x="67.0" y="21" width="1.05" height="198.6" fill="url(#g33)"/>
<rect x="68.0" y="21" width="1.05" height="198.6" fill="url(#g34)"/>
<rect x="69.0" y="21" width="1.05" height="198.6" fill="url(#g35)"/>
<rect x="70.0" y="21" width="1.05" height="198.6" fill="url(#g36)"/>
<rect x="71.0" y="21" width="1.05" height="198.6" fill="url(#g37)"/>
<rect x="72.0" y="21" width="1.05" height="198.6" fill="url(#g38)"/>
<rect x="73.0" y="21" width="1.05" height="198.6" fill="url(#g39)"/>
<rect x="74.0" y="21" width="1.05" height="198.6" fill="url(#g40)"/>
<rect x="75.0" y="21" width="1.05" height="198.6" fill="url(#g41)"/>
<rect x="76.0" y="21" width="1.05" height="198.6" fill="url(#g42)"/>
<rect x="77.0" y="21" width="1.05" height="198.6" fill="url(#g43)"/>
<rect x="78.0" y="21" width="1.05" height="198.6" fill="url(#g44)"/>
<rect x="79.0" y="21" width="1.05" height="198.6" fill="url(#g45)"/>
<rect x="80.0" y="21" width="1.05" height="198.6" fill="url(#g46)"/>
<rect x="81.0" y="21" width="1.05" height="198.6" fill="url(#g47)"/>
<rect x="82.0" y="21" width="1.05" height="198.6" fill="url(#g48)"/>
<rect x="83.0" y="21" width="1.05" height="198.6" fill="url(#g49)"/>
<rect x="84.0" y="21" width="1.05" height="198.6" fill="url(#g50)"/>
<rect x="85.0" y="21" width="1.05" height="198.6" fill="url(#g51)"/>
<rect x="86.0" y="21" width="1.05" height="198.6" fill="url(#g52)"/>
<rect x="87.0" y="21" width="1.05" height="198.6" fill="url(#g53)"/>
<rect x="88.0" y="21" width="1.05" height="198.6" fill="url(#g54)"/>
<rect x="89.0" y="21" width="1.05" height="198.6" fill="url(#g55)"/>
<rect x="90.0" y="21" width="1.05" height="198.6" fill="url(#g56)"/>
<rect x="91.0" y="21" width="1.05" height="198.6" fill="url(#g57)"/>
<rect x="92.0" y="21" width="1.05" height="198.6" fill="url(#g58)"/>
<rect x="93.0" y="21" width="1.05" height="198.6" fill="url(#g59)"/>
<rect x="94.0" y="21" width="1.05" height="198.6" fill="url(#g60)"/>
<rect x="95.0" y="21" width="1.05" height="198.6" fill="url(#g61)"/>
<rect x="96.0" y="21" width="1.05" height="198.6" fill="url(#g62)"/>
<rect x="97.0" y="21" width="1.05" height="198.6" fill="url(#g63)"/>
<rect x="98.0" y="21" width="1.05" height="198.6" fill="url(#g64)"/>
<rect x="99.0" y="21" width="1.05" height="198.6" fill="url(#g65)"/>
<rect x="100.0" y="21" width="1.05" height="198.6" fill="url(#g66)"/>
<rect x="101.0" y="21" width="1.05" height="198.6" fill="url(#g67)"/>
<rect x="102.0" y="21" width="1.05" height="198.6" fill="url(#g68)"/>
<rect x="103.0" y="21" width="1.05" height="198.6" fill="url(#g69)"/>
<rect x="104.0" y="21" width="1.05" height="198.6" fill="url(#g70)"/>
<rect x="105.0" y="21" width="1.05" height="198.6" fill="url(#g71)"/>
<rect x="106.0" y="21" width="1.05" height="198.6" fill="url(#g72)"/>
<rect x="107.0" y="21" width="1.05" height="198.6" fill="url(#g73)"/>
<rect x="108.0" y="21" width="1.05" height="198.6" fill="url(#g74)"/>
<rect x="109.0" y="21" width="1.05" height="198.6" fill="url(#g75)"/>
<rect x="110.0" y="21" width="1.05" height="198.6" fill="url(#g76)"/>
<rect x="111.0" y="21" width="1.05" height="198.6" fill="url(#g77)"/>
<rect x="112.0" y="21" width="1.05" height="198.6" fill="url(#g78)"/>
<rect x="113.0" y="21" width="1.05" height="198.6" fill="url(#g79)"/>
<rect x="114.0" y="21" width="1.05" height="198.6" fill="url(#g80)"/>
<rect x="115.0" y="21" width="1.05" height="198.6" fill="url(#g81)"/>
<rect x="116.0" y="21" width="1.05" height="198.6" fill="url(#g82)"/>
<rect x="117.0" y="21" width="1.05" height="198.6" fill="url(#g83)"/>
<rect x="118.0" y="21" width="1.05" height="198.6" fill="url(#g84)"/>
<rect x="119.0" y="21" width="1.05" height="198.6" fill="url(#g85)"/>
<rect x="120.0" y="21" width="1.05" height="198.6" fill="url(#g86)"/>
<rect x="121.0" y="21" width="1.05" height="198.6" fill="url(#g87)"/>
<rect x="122.0" y="21" width="1.05" height="198.6" fill="url(#g88)"/>
<rect x="123.0" y="21" width="1.05" height="198.6" fill="url(#g89)"/>
<rect x="124.0" y="21" width="1.05" height="198.6" fill="url(#g90)"/>
<rect x="125.0" y="21" width="1.05" height="198.6" fill="url(#g91)"/>
<rect x="126.0" y="21" width="1.05" height="198.6" fill="url(#g92)"/>
<rect x="127.0" y="21" width="1.05" height="198.6" fill="url(#g93)"/>
<rect x="128.0" y="21" width="1.05" height="198.6" fill="url(#g94)"/>
<rect x="129.0" y="21" width="1.05" height="198.6" fill="url(#g95)"/>
<rect x="130.0" y="21" width="1.05" height="198.6" fill="url(#g96)"/>
<rect x="131.0" y="21" width="1.05" height="198.6" fill="url(#g97)"/>
<rect x="132.0" y="21" width="1.05" height="198.6" fill="url(#g98)"/>
<rect x="133.0" y="21" width="1.05" height="198.6" fill="url(#g99)"/>
<rect x="134.0" y="21" width="1.05" height="198.6" fill="url(#g100)"/>
<rect x="135.0" y="21" width="1.05" height="198.6" fill="url(#g101)"/>
<rect x="136.0" y="21" width="1.05" height="198.6" fill="url(#g102)"/>
<rect x="137.0" y="21" width="1.05" height="198.6" fill="url(#g103)"/>
<rect x="138.0" y="21" width="1.05" height="198.6" fill="url(#g104)"/>
<rect x="139.0" y="21" width="1.05" height="198.6" fill="url(#g105)"/>
<rect x="140.0" y="21" width="1.05" height="198.6" fill="url(#g106)"/>
<rect x="141.0" y="21" width="1.05" height="198.6" fill="url(#g107)"/>
<rect x="142.0" y="21" width="1.05" height="198.6" fill="url(#g108)"/>
<rect x="143.0" y="21" width="1.05" height="198.6" fill="url(#g109)"/>
<rect x="144.0" y="21" width="1.05" height="198.6" fill="url(#g110)"/>
<rect x="145.0" y="21" width="1.05" height="198.6" fill="url(#g111)"/>
<rect x="146.0" y="21" width="1.05" height="198.6" fill="url(#g112)"/>
<rect x="147.0" y="21" width="1.05" height="198.6" fill="url(#g113)"/>
<rect x="148.0" y="21" width="1.05" height="198.6" fill="url(#g114)"/>
<rect x="149.0" y="21" width="1.05" height="198.6" fill="url(#g115)"/>
<rect x="150.0" y="21" width="1.05" height="198.6" fill="url(#g116)"/>
<rect x="151.0" y="21" width="1.05" height="198.6" fill="url(#g117)"/>
<rect x="152.0" y="21" width="1.05" height="198.6" fill="url(#g118)"/>
<rect x="153.0" y="21" width="1.05" height="198.6" fill="url(#g119)"/>
<rect x="154.0" y="21" width="1.05" height="198.6" fill="url(#g120)"/>
<rect x="155.0" y="21" width="1.05" height="198.6" fill="url(#g121)"/>
<rect x="156.0" y="21" width="1.05" height="198.6" fill="url(#g122)"/>
<rect x="157.0" y="21" width="1.05" height="198.6" fill="url(#g123)"/>
<rect x="158.0" y="21" width="1.05" height="198.6" fill="url(#g124)"/>
<rect x="159.0" y="21" width="1.05" height="198.6" fill="url(#g125)"/>
<rect x="160.0" y="21" width="1.05" height="198.6" fill="url(#g126)"/>
<rect x="161.0" y="21" width="1.05" height="198.6" fill="url(#g127)"/>
<rect x="162.0" y="21" width="1.05" height="198.6" fill="url(#g128)"/>
<rect x="163.0" y="21" width="1.05" height="198.6" fill="url(#g129)"/>
<rect x="164.0" y="21" width="1.05" height="198.6" fill="url(#g130)"/>
<rect x="165.0" y="21" width="1.05" height="198.6" fill="url(#g131)"/>
<rect x="166.0" y="21" width="1.05" height="198.6" fill="url(#g132)"/>
<rect x="167.0" y="21" width="1.05" height="198.6" fill="url(#g133)"/>
<rect x="168.0" y="21" width="1.05" height="198.6" fill="url(#g134)"/>
<rect x="169.0" y="21" width="1.05" height="198.6" fill="url(#g135)"/>
<rect x="170.0" y="21" width="1.05" height="198.6" fill="url(#g136)"/>
<rect x="171.0" y="21" width="1.05" height="198.6" fill="url(#g137)"/>
<rect x="172.0" y="21" width="1.05" height="198.6" fill="url(#g138)"/>
<rect x="173.0" y="21" width="1.05" height="198.6" fill="url(#g139)"/>
<rect x="174.0" y="21" width="1.05" height="198.6" fill="url(#g140)"/>
<rect x="175.0" y="21" width="1.05" height="198.6" fill="url(#g141)"/>
<rect x="176.0" y="21" width="1.05" height="198.6" fill="url(#g142)"/>
<rect x="177.0" y="21" width="1.05" height="198.6" fill="url(#g143)"/>
<rect x="178.0" y="21" width="1.05" height="198.6" fill="url(#g144)"/>
<rect x="179.0" y="21" width="1.05" height="198.6" fill="url(#g145)"/>
<rect x="180.0" y="21" width="1.05" height="198.6" fill="url(#g146)"/>
<rect x="181.0" y="21" width="1.05" height="198.6" fill="url(#g147)"/>
<rect x="182.0" y="21" width="1.05" height="198.6" fill="url(#g148)"/>
<rect x="183.0" y="21" width="1.05" height="198.6" fill="url(#g149)"/>
<rect x="184.0" y="21" width="1.05" height="198.6" fill="url(#g150)"/>
<rect x="185.0" y="21" width="1.05" height="198.6" fill="url(#g151)"/>
<rect x="186.0" y="21" width="1.05" height="198.6" fill="url(#g152)"/>
<rect x="187.0" y="21" width="1.05" height="198.6" fill="url(#g153)"/>
<rect x="188.0" y="21" width="1.05" height="198.6" fill="url(#g154)"/>
<rect x="189.0" y="21" width="1.05" height="198.6" fill="url(#g155)"/>
<rect x="190.0" y="21" width="1.05" height="198.6" fill="url(#g156)"/>
<rect x="191.0" y="21" width="1.05" height="198.6" fill="url(#g157)"/>
<rect x="192.0" y="21" width="1.05" height="198.6" fill="url(#g158)"/>
<rect x="193.0" y="21" width="1.05" height="198.6" fill="url(#g159)"/>
<rect x="194.0" y="21" width="1.05" height="198.6" fill="url(#g160)"/>
<rect x="195.0" y="21" width="1.05" height="198.6" fill="url(#g161)"/>
<rect x="196.0" y="21" width="1.05" height="198.6" fill="url(#g162)"/>
<rect x="197.0" y="21" width="1.05" height="198.6" fill="url(#g163)"/>
<rect x="198.0" y="21" width="1.05" height="198.6" fill="url(#g164)"/>
<rect x="199.0" y="21" width="1.05" height="198.6" fill="url(#g165)"/>
<rect x="200.0" y="21" width="1.05" height="198.6" fill="url(#g166)"/>
<rect x="201.0" y="21" width="1.05" height="198.6" fill="url(#g167)"/>
<rect x="202.0" y="21" width="1.05" height="198.6" fill="url(#g168)"/>
<rect x="203.0" y="21" width="1.05" height="198.6" fill="url(#g169)"/>
<rect x="204.0" y="21" width="1.05" height="198.6" fill="url(#g170)"/>
<rect x="205.0" y="21" width="1.05" height="198.6" fill="url(#g171)"/>
<rect x="206.0" y="21" width="1.05" height="198.6" fill="url(#g172)"/>
<rect x="207.0" y="21" width="1.05" height="198.6" fill="url(#g173)"/>
<rect x="208.0" y="21" width="1.05" height="198.6" fill="url(#g174)"/>
<rect x="209.0" y="21" width="1.05" height="198.6" fill="url(#g175)"/>
<rect x="210.0" y="21" width="1.05" height="198.6" fill="url(#g176)"/>
<rect x="211.0" y="21" width="1.05" height="198.6" fill="url(#g177)"/>
<rect x="212.0" y="21" width="1.05" height="198.6" fill="url(#g178)"/>
<rect x="213.0" y="21" width="1.05" height="198.6" fill="url(#g179)"/>
<rect x="214.0" y="21" width="1.05" height="198.6" fill="url(#g180)"/>
<rect x="215.0" y="21" width="1.05" height="198.6" fill="url(#g181)"/>
<rect x="216.0" y="21" width="1.05" height="198.6" fill="url(#g182)"/>
<rect x="217.0" y="21" width="1.05" height="198.6" fill="url(#g183)"/>
<rect x="218.0" y="21" width="1.05" height="198.6" fill="url(#g184)"/>
<rect x="219.0" y="21" width="1.05" height="198.6" fill="url(#g185)"/>
<rect x="220.0" y="21" width="1.05" height="198.6" fill="url(#g186)"/>
<rect x="221.0" y="21" width="1.05" height="198.6" fill="url(#g187)"/>
<rect x="222.0" y="21" width="1.05" height="198.6" fill="url(#g188)"/>
<rect x="223.0" y="21" width="1.05" height="198.6" fill="url(#g189)"/>
<rect x="224.0" y="21" width="1.05" height="198.6" fill="url(#g190)"/>
<rect x="225.0" y="21" width="1.05" height="198.6" fill="url(#g191)"/>
<rect x="226.0" y="21" width="1.05" height="198.6" fill="url(#g192)"/>
<rect x="227.0" y="21" width="1.05" height="198.6" fill="url(#g193)"/>
<rect x="228.0" y="21" width="1.05" height="198.6" fill="url(#g194)"/>
<rect x="229.0" y="21" width="1.05" height="198.6" fill="url(#g195)"/>
<rect x="230.0" y="21" width="1.05" height="198.6" fill="url(#g196)"/>
<rect x="231.0" y="21" width="1.05" height="198.6" fill="url(#g197)"/>
<rect x="232.0" y="21" width="1.05" height="198.6" fill="url(#g198)"/>
<rect x="233.0" y="21" width="1.05" height="198.6" fill="url(#g199)"/>
<rect x="234.0" y="21" width="1.05" height="198.6" fill="url(#g200)"/>
<rect x="235.0" y="21" width="1.05" height="198.6" fill="url(#g201)"/>
<rect x="236.0" y="21" width="1.05" height="198.6" fill="url(#g202)"/>
<rect x="237.0" y="21" width="1.05" height="198.6" fill="url(#g203)"/>
<rect x="238.0" y="21" width="1.05" height="198.6" fill="url(#g204)"/>
<rect x="239.0" y="21" width="1.05" height="198.6" fill="url(#g205)"/>
<rect x="240.0" y="21" width="1.05" height="198.6" fill="url(#g206)"/>
<rect x="241.0" y="21" width="1.05" height="198.6" fill="url(#g207)"/>
<rect x="242.0" y="21" width="1.05" height="198.6" fill="url(#g208)"/>
<rect x="243.0" y="21" width="1.05" height="198.6" fill="url(#g209)"/>
<rect x="244.0" y="21" width="1.05" height="198.6" fill="url(#g210)"/>
<rect x="245.0" y="21" width="1.05" height="198.6" fill="url(#g211)"/>
<rect x="246.0" y="21" width="1.05" height="198.6" fill="url(#g212)"/>
<rect x="247.0" y="21" width="1.05" height="198.6" fill="url(#g213)"/>
<rect x="248.0" y="21" width="1.05" height="198.6" fill="url(#g214)"/>
<rect x="249.0" y="21" width="1.05" height="198.6" fill="url(#g215)"/>
<rect x="250.0" y="21" width="1.05" height="198.6" fill="url(#g216)"/>
<rect x="251.0" y="21" width="1.05" height="198.6" fill="url(#g217)"/>
<rect x="252.0" y="21" width="1.05" height="198.6" fill="url(#g218)"/>
<rect x="253.0" y="21" width="1.05" height="198.6" fill="url(#g219)"/>
<rect x="254.0" y="21" width="1.05" height="198.6" fill="url(#g220)"/>
<rect x="255.0" y="21" width="1.05" height="198.6" fill="url(#g221)"/>
<rect x="256.0" y="21" width="1.05" height="198.6" fill="url(#g222)"/>
<rect x="257.0" y="21" width="1.05" height="198.6" fill="url(#g223)"/>
<rect x="258.0" y="21" width="1.05" height="198.6" fill="url(#g224)"/>
<rect x="259.0" y="21" width="1.05" height="198.6" fill="url(#g225)"/>
<rect x="260.0" y="21" width="1.05" height="198.6" fill="url(#g226)"/>
<rect x="261.0" y="21" width="1.05" height="198.6" fill="url(#g227)"/>
<rect x="262.0" y="21" width="1.05" height="198.6" fill="url(#g228)"/>
<rect x="263.0" y="21" width="1.05" height="198.6" fill="url(#g229)"/>
<rect x="264.0" y="21" width="1.05" height="198.6" fill="url(#g230)"/>
<rect x="265.0" y="21" width="1.05" height="198.6" fill="url(#g231)"/>
<rect x="266.0" y="21" width="1.05" height="198.6" fill="url(#g232)"/>
<rect x="267.0" y="21" width="1.05" height="198.6" fill="url(#g233)"/>
<rect x="268.0" y="21" width="1.05" height="198.6" fill="url(#g234)"/>
<rect x="269.0" y="21" width="1.05" height="198.6" fill="url(#g235)"/>
<rect x="270.0" y="21" width="1.05" height="198.6" fill="url(#g236)"/>
<rect x="271.0" y="21" width="1.05" height="198.6" fill="url(#g237)"/>
<rect x="272.0" y="21" width="1.05" height="198.6" fill="url(#g238)"/>
<rect x="273.0" y="21" width="1.05" height="198.6" fill="url(#g239)"/>
<rect x="274.0" y="21" width="1.05" height="198.6" fill="url(#g240)"/>
<rect x="275.0" y="21" width="1.05" height="198.6" fill="url(#g241)"/>
<rect x="276.0" y="21" width="1.05" height="198.6" fill="url(#g242)"/>
<rect x="277.0" y="21" width="1.05" height="198.6" fill="url(#g243)"/>
<rect x="278.0" y="21" width="1.05" height="198.6" fill="url(#g244)"/>
<rect x="279.0" y="21" width="1.05" height="198.6" fill="url(#g245)"/>
<rect x="280.0" y="21" width="1.05" height="198.6" fill="url(#g246)"/>
<rect x="281.0" y="21" width="1.05" height="198.6" fill="url(#g247)"/>
<rect x="282.0" y="21" width="1.05" height="198.6" fill="url(#g248)"/>
<rect x="283.0" y="21" width="1.05" height="198.6" fill="url(#g249)"/>
<rect x="284.0" y="21" width="1.05" height="198.6" fill="url(#g250)"/>
<rect x="285.0" y="21" width="1.05" height="198.6" fill="url(#g251)"/>
<rect x="286.0" y="21" width="1.05" height="198.6" fill="url(#g252)"/>
<rect x="287.0" y="21" width="1.05" height="198.6" fill="url(#g253)"/>
<rect x="288.0" y="21" width="1.05" height="198.6" fill="url(#g254)"/>
<rect x="289.0" y="21" width="1.05" height="198.6" fill="url(#g255)"/>
<rect x="290.0" y="21" width="1.05" height="198.6" fill="url(#g256)"/>
<rect x="291.0" y="21" width="1.05" height="198.6" fill="url(#g257)"/>
<rect x="292.0" y="21" width="1.05" height="198.6" fill="url(#g258)"/>
<rect x="293.0" y="21" width="1.05" height="198.6" fill="url(#g259)"/>
<rect x="294.0" y="21" width="1.05" height="198.6" fill="url(#g260)"/>
<rect x="295.0" y="21" width="1.05" height="198.6" fill="url(#g261)"/>
<rect x="296.0" y="21" width="1.05" height="198.6" fill="url(#g262)"/>
<rect x="297.0" y="21" width="1.05" height="198.6" fill="url(#g263)"/>
<rect x="298.0" y="21" width="1.05" height="198.6" fill="url(#g264)"/>
<rect x="299.0" y="21" width="1.05" height="198.6" fill="url(#g265)"/>
<rect x="300.0" y="21" width="1.05" height="198.6" fill="url(#g266)"/>
<rect x="301.0" y="21" width="1.05" height="198.6" fill="url(#g267)"/>
<rect x="302.0" y="21" width="1.05" height="198.6" fill="url(#g268)"/>
<rect x="303.0" y="21" width="1.05" height="198.6" fill="url(#g269)"/>
<rect x="304.0" y="21" width="1.05" height="198.6" fill="url(#g270)"/>
<rect x="305.0" y="21" width="1.05" height="198.6" fill="url(#g271)"/>
<rect x="306.0" y="21" width="1.05" height="198.6" fill="url(#g272)"/>
<rect x="307.0" y="21" width="1.05" height="198.6" fill="url(#g273)"/>
<rect x="308.0" y="21" width="1.05" height="198.6" fill="url(#g274)"/>
<rect x="309.0" y="21" width="1.05" height="198.6" fill="url(#g275)"/>
<rect x="310.0" y="21" width="1.05" height="198.6" fill="url(#g276)"/>
<rect x="311.0" y="21" width="1.05" height="198.6" fill="url(#g277)"/>
<rect x="312.0" y="21" width="1.05" height="198.6" fill="url(#g278)"/>
<rect x="313.0" y="21" width="1.05" height="198.6" fill="url(#g279)"/>
<rect x="314.0" y="21" width="1.05" height="198.6" fill="url(#g280)"/>
<rect x="315.0" y="21" width="1.05" height="198.6" fill="url(#g281)"/>
<rect x="316.0" y="21" width="1.05" height="198.6" fill="url(#g282)"/>
<rect x="317.0" y="21" width="1.05" height="198.6" fill="url(#g283)"/>
<rect x="318.0" y="21" width="1.05" height="198.6" fill="url(#g284)"/>
<rect x="319.0" y="21" width="1.05" height="198.6" fill="url(#g285)"/>
<rect x="320.0" y="21" width="1.05" height="198.6" fill="url(#g286)"/>
<rect x="321.0" y="21" width="1.05" height="198.6" fill="url(#g287)"/>
<rect x="322.0" y="21" width="1.05" height="198.6" fill="url(#g288)"/>
<rect x="323.0" y="21" width="1.05" height="198.6" fill="url(#g289)"/>
<rect x="324.0" y="21" width="1.05" height="198.6" fill="url(#g290)"/>
<rect x="325.0" y="21" width="1.05" height="198.6" fill="url(#g291)"/>
<rect x="326.0" y="21" width="1.05" height="198.6" fill="url(#g292)"/>
<rect x="327.0" y="21" width="1.05" height="198.6" fill="url(#g293)"/>
<rect x="328.0" y="21" width="1.05" height="198.6" fill="url(#g294)"/>
<rect x="329.0" y="21" width="1.05" height="198.6" fill="url(#g295)"/>
<rect x="330.0" y="21" width="1.05" height="198.6" fill="url(#g296)"/>
<rect x="331.0" y="21" width="1.05" height="198.6" fill="url(#g297)"/>
<rect x="332.0" y="21" width="1.05" height="198.6" fill="url(#g298)"/>
<rect x="333.0" y="21" width="1.05" height="198.6" fill="url(#g299)"/>
<rect x="334.0" y="21" width="1.05" height="198.6" fill="url(#g300)"/>
<rect x="335.0" y="21" width="1.05" height="198.6" fill="url(#g301)"/>
<rect x="336.0" y="21" width="1.05" height="198.6" fill="url(#g302)"/>
<rect x="337.0" y="21" width="1.05" height="198.6" fill="url(#g303)"/>
<rect x="338.0" y="21" width="1.05" height="198.6" fill="url(#g304)"/>
<rect x="339.0" y="21" width="1.05" height="198.6" fill="url(#g305)"/>
<rect x="340.0" y="21" width="1.05" height="198.6" fill="url(#g306)"/>
<rect x="341.0" y="21" width="1.05" height="198.6" fill="url(#g307)"/>
<rect x="342.0" y="21" width="1.05" height="198.6" fill="url(#g308)"/>
<rect x="343.0" y="21" width="1.05" height="198.6" fill="url(#g309)"/>
<rect x="344.0" y="21" width="1.05" height="198.6" fill="url(#g310)"/>
<rect x="345.0" y="21" width="1.05" height="198.6" fill="url(#g311)"/>
<rect x="346.0" y="21" width="1.05" height="198.6" fill="url(#g312)"/>
<rect x="347.0" y="21" width="1.05" height="198.6" fill="url(#g313)"/>
<rect x="348.0" y="21" width="1.05" height="198.6" fill="url(#g314)"/>
<rect x="349.0" y="21" width="1.05" height="198.6" fill="url(#g315)"/>
<rect x="350.0" y="21" width="1.05" height="198.6" fill="url(#g316)"/>
<rect x="351.0" y="21" width="1.05" height="198.6" fill="url(#g317)"/>
<rect x="352.0" y="21" width="1.05" height="198.6" fill="url(#g318)"/>
<rect x="353.0" y="21" width="1.05" height="198.6" fill="url(#g319)"/>
<rect x="354.0" y="21" width="1.05" height="198.6" fill="url(#g320)"/>
<rect x="355.0" y="21" width="1.05" height="198.6" fill="url(#g321)"/>
<rect x="356.0" y="21" width="1.05" height="198.6" fill="url(#g322)"/>
<rect x="357.0" y="21" width="1.05" height="198.6" fill="url(#g323)"/>
<rect x="358.0" y="21" width="1.05" height="198.6" fill="url(#g324)"/>
<rect x="359.0" y="21" width="1.05" height="198.6" fill="url(#g325)"/>
<rect x="360.0" y="21" width="1.05" height="198.6" fill="url(#g326)"/>
<rect x="361.0" y="21" width="1.05" height="198.6" fill="url(#g327)"/>
<rect x="362.0" y="21" width="1.05" height="198.6" fill="url(#g328)"/>
<rect x="363.0" y="21" width="1.05" height="198.6" fill="url(#g329)"/>
<rect x="364.0" y="21" width="1.05" height="198.6" fill="url(#g330)"/>
<rect x="365.0" y="21" width="1.05" height="198.6" fill="url(#g331)"/>
<rect x="366.0" y="21" width="1.05" height="198.6" fill="url(#g332)"/>
<rect x="367.0" y="21" width="1.05" height="198.6" fill="url(#g333)"/>
<rect x="368.0" y="21" width="1.05" height="198.6" fill="url(#g334)"/>
<rect x="369.0" y="21" width="1.05" height="198.6" fill="url(#g335)"/>
<rect x="370.0" y="21" width="1.05" height="198.6" fill="url(#g336)"/>
<rect x="371.0" y="21" width="1.05" height="198.6" fill="url(#g337)"/>
<rect x="372.0" y="21" width="1.05" height="198.6" fill="url(#g338)"/>
<rect x="373.0" y="21" width="1.05" height="198.6" fill="url(#g339)"/>
<rect x="374.0" y="21" width="1.05" height="198.6" fill="url(#g340)"/>
<rect x="375.0" y="21" width="1.05" height="198.6" fill="url(#g341)"/>
<rect x="376.0" y="21" width="1.05" height="198.6" fill="url(#g342)"/>
<rect x="377.0" y="21" width="1.05" height="198.6" fill="url(#g343)"/>
<rect x="378.0" y="21" width="1.05" height="198.6" fill="url(#g344)"/>
<rect x="379.0" y="21" width="1.05" height="198.6" fill="url(#g345)"/>
<rect x="380.0" y="21" width="1.05" height="198.6" fill="url(#g346)"/>
<rect x="381.0" y="21" width="1.05" height="198.6" fill="url(#g347)"/>
<rect x="382.0" y="21" width="1.05" height="198.6" fill="url(#g348)"/>
<rect x="383.0" y="21" width="1.05" height="198.6" fill="url(#g349)"/>
<rect x="384.0" y="21" width="1.05" height="198.6" fill="url(#g350)"/>
<rect x="385.0" y="21" width="1.05" height="198.6" fill="url(#g351)"/>
<rect x="386.0" y="21" width="1.05" height="198.6" fill="url(#g352)"/>
<rect x="387.0" y="21" width="1.05" height="198.6" fill="url(#g353)"/>
<rect x="388.0" y="21" width="1.05" height="198.6" fill="url(#g354)"/>
<rect x="389.0" y="21" width="1.05" height="198.6" fill="url(#g355)"/>
<rect x="390.0" y="21" width="1.05" height="198.6" fill="url(#g356)"/>
<rect x="391.0" y="21" width="1.05" height="198.6" fill="url(#g357)"/>
<rect x="392.0" y="21" width="1.05" height="198.6" fill="url(#g358)"/>
<rect x="393.0" y="21" width="1.05" height="198.6" fill="url(#g359)"/>
<rect x="394.0" y="21" width="1.05" height="198.6" fill="url(#g360)"/>
<rect x="395.0" y="21" width="1.05" height="198.6" fill="url(#g361)"/>
<rect x="396.0" y="21" width="1.05" height="198.6" fill="url(#g362)"/>
<rect x="397.0" y="21" width="1.05" height="198.6" fill="url(#g363)"/>
<rect x="398.0" y="21" width="1.05" height="198.6" fill="url(#g364)"/>
<rect x="399.0" y="21" width="1.05" height="198.6" fill="url(#g365)"/>
<rect x="400.0" y="21" width="1.05" height="198.6" fill="url(#g366)"/>
<rect x="401.0" y="21" width="1.05" height="198.6" fill="url(#g367)"/>
<rect x="402.0" y="21" width="1.05" height="198.6" fill="url(#g368)"/>
<rect x="403.0" y="21" width="1.05" height="198.6" fill="url(#g369)"/>
<rect x="404.0" y="21" width="1.05" height="198.6" fill="url(#g370)"/>
<rect x="405.0" y="21" width="1.05" height="198.6" fill="url(#g371)"/>
<rect x="406.0" y="21" width="1.05" height="198.6" fill="url(#g372)"/>
<rect x="407.0" y="21" width="1.05" height="198.6" fill="url(#g373)"/>
<rect x="408.0" y="21" width="1.05" height="198.6" fill="url(#g374)"/>
<rect x="409.0" y="21" width="1.05" height="198.6" fill="url(#g375)"/>
<rect x="410.0" y="21" width="1.05" height="198.6" fill="url(#g376)"/>
<rect x="411.0" y="21" width="1.05" height="198.6" fill="url(#g377)"/>
<rect x="412.0" y="21" width="1.05" height="198.6" fill="url(#g378)"/>
<rect x="413.0" y="21" width="1.05" height="198.6" fill="url(#g379)"/>
<rect x="414.0" y="21" width="1.05" height="198.6" fill="url(#g380)"/>
<rect x="415.0" y="21" width="1.05" height="198.6" fill="url(#g381)"/>
<rect x="416.0" y="21" width="1.05" height="198.6" fill="url(#g382)"/>
<rect x="417.0" y="21" width="1.05" height="198.6" fill="url(#g383)"/>
<rect x="418.0" y="21" width="1.05" height="198.6" fill="url(#g384)"/>
<rect x="419.0" y="21" width="1.05" height="198.6" fill="url(#g385)"/>
<rect x="420.0" y="21" width="1.05" height="198.6" fill="url(#g386)"/>
<rect x="421.0" y="21" width="1.05" height="198.6" fill="url(#g387)"/>
<rect x="422.0" y="21" width="1.05" height="198.6" fill="url(#g388)"/>
<rect x="423.0" y="21" width="1.05" height="198.6" fill="url(#g389)"/>
<rect x="424.0" y="21" width="1.05" height="198.6" fill="url(#g390)"/>
<rect x="425.0" y="21" width="1.05" height="198.6" fill="url(#g391)"/>
<rect x="426.0" y="21" width="1.05" height="198.6" fill="url(#g392)"/>
<rect x="427.0" y="21" width="1.05" height="198.6" fill="url(#g393)"/>
<rect x="428.0" y="21" width="1.05" height="198.6" fill="url(#g394)"/>
<rect x="429.0" y="21" width="1.05" height="198.6" fill="url(#g395)"/>
<rect x="430.0" y="21" width="1.05" height="198.6" fill="url(#g396)"/>
<rect x="431.0" y="21" width="1.05" height="198.6" fill="url(#g397)"/>
<rect x="432.0" y="21" width="1.05" height="198.6" fill="url(#g398)"/>
<rect x="433.0" y="21" width="1.05" height="198.6" fill="url(#g399)"/>
<rect x="434.0" y="21" width="1.05" height="198.6" fill="url(#g400)"/>
<rect x="435.0" y="21" width="1.05" height="198.6" fill="url(#g401)"/>
<rect x="436.0" y="21" width="1.05" height="198.6" fill="url(#g402)"/>
<rect x="437.0" y="21" width="1.05" height="198.6" fill="url(#g403)"/>
<rect x="438.0" y="21" width="1.05" height="198.6" fill="url(#g404)"/>
<rect x="439.0" y="21" width="1.05" height="198.6" fill="url(#g405)"/>
<rect x="440.0" y="21" width="1.05" height="198.6" fill="url(#g406)"/>
<rect x="441.0" y="21" width="1.05" height="198.6" fill="url(#g407)"/>
<rect x="442.0" y="21" width="1.05" height="198.6" fill="url(#g408)"/>
<rect x="443.0" y="21" width="1.05" height="198.6" fill="url(#g409)"/>
<rect x="444.0" y="21" width="1.05" height="198.6" fill="url(#g410)"/>
<rect x="445.0" y="21" width="1.05" height="198.6" fill="url(#g411)"/>
<rect x="446.0" y="21" width="1.05" height="198.6" fill="url(#g412)"/>
<rect x="447.0" y="21" width="1.05" height="198.6" fill="url(#g413)"/>
<rect x="448.0" y="21" width="1.05" height="198.6" fill="url(#g414)"/>
<rect x="449.0" y="21" width="1.05" height="198.6" fill="url(#g415)"/>
<rect x="450.0" y="21" width="1.05" height="198.6" fill="url(#g416)"/>
<rect x="451.0" y="21" width="1.05" height="198.6" fill="url(#g417)"/>
<rect x="452.0" y="21" width="1.05" height="198.6" fill="url(#g418)"/>
<rect x="453.0" y="21" width="1.05" height="198.6" fill="url(#g419)"/>
<rect x="454.0" y="21" width="1.05" height="198.6" fill="url(#g420)"/>
<rect x="455.0" y="21" width="1.05" height="198.6" fill="url(#g421)"/>
<rect x="456.0" y="21" width="1.05" height="198.6" fill="url(#g422)"/>
<rect x="457.0" y="21" width="1.05" height="198.6" fill="url(#g423)"/>
<rect x="458.0" y="21" width="1.05" height="198.6" fill="url(#g424)"/>
<rect x="459.0" y="21" width="1.05" height="198.6" fill="url(#g425)"/>
<rect x="460.0" y="21" width="1.05" height="198.6" fill="url(#g426)"/>
<rect x="461.0" y="21" width="1.05" height="198.6" fill="url(#g427)"/>
<rect x="462.0" y="21" width="1.05" height="198.6" fill="url(#g428)"/>
<rect x="463.0" y="21" width="1.05" height="198.6" fill="url(#g429)"/>
<rect x="464.0" y="21" width="1.05" height="198.6" fill="url(#g430)"/>
<rect x="465.0" y="21" width="1.05" height="198.6" fill="url(#g431)"/>
<rect x="466.0" y="21" width="1.05" height="198.6" fill="url(#g432)"/>
<rect x="467.0" y="21" width="1.05" height="198.6" fill="url(#g433)"/>
<rect x="468.0" y="21" width="1.05" height="198.6" fill="url(#g434)"/>
<rect x="469.0" y="21" width="1.05" height="198.6" fill="url(#g435)"/>
<rect x="470.0" y="21" width="1.05" height="198.6" fill="url(#g436)"/>
<rect x="471.0" y="21" width="1.05" height="198.6" fill="url(#g437)"/>
<rect x="472.0" y="21" width="1.05" height="198.6" fill="url(#g438)"/>
<rect x="473.0" y="21" width="1.05" height="198.6" fill="url(#g439)"/>
<rect x="474.0" y="21" width="1.05" height="198.6" fill="url(#g440)"/>
<rect x="475.0" y="21" width="1.05" height="198.6" fill="url(#g441)"/>
<rect x="476.0" y="21" width="1.05" height="198.6" fill="url(#g442)"/>
<rect x="477.0" y="21" width="1.05" height="198.6" fill="url(#g443)"/>
<rect x="478.0" y="21" width="1.05" height="198.6" fill="url(#g444)"/>
<rect x="479.0" y="21" width="1.05" height="198.6" fill="url(#g445)"/>
<rect x="480.0" y="21" width="1.05" height="198.6" fill="url(#g446)"/>
<rect x="481.0" y="21" width="1.05" height="198.6" fill="url(#g447)"/>
<rect x="482.0" y="21" width="1.05" height="198.6" fill="url(#g448)"/>
<rect x="483.0" y="21" width="1.05" height="198.6" fill="url(#g449)"/>
<rect x="484.0" y="21" width="1.05" height="198.6" fill="url(#g450)"/>
<rect x="485.0" y="21" width="1.05" height="198.6" fill="url(#g451)"/>
<rect x="486.0" y="21" width="1.05" height="198.6" fill="url(#g452)"/>
<rect x="487.0" y="21" width="1.05" height="198.6" fill="url(#g453)"/>
<rect x="488.0" y="21" width="1.05" height="198.6" fill="url(#g454)"/>
<rect x="489.0" y="21" width="1.05" height="198.6" fill="url(#g455)"/>
<rect x="490.0" y="21" width="1.05" height="198.6" fill="url(#g456)"/>
<rect x="491.0" y="21" width="1.05" height="198.6" fill="url(#g457)"/>
<rect x="492.0" y="21" width="1.05" height="198.6" fill="url(#g458)"/>
<rect x="493.0" y="21" width="1.05" height="198.6" fill="url(#g459)"/>
<rect x="494.0" y="21" width="1.05" height="198.6" fill="url(#g460)"/>
<rect x="495.0" y="21" width="1.05" height="198.6" fill="url(#g461)"/>
<rect x="496.0" y="21" width="1.05" height="198.6" fill="url(#g462)"/>
<rect x="497.0" y="21" width="1.05" height="198.6" fill="url(#g463)"/>
<rect x="498.0" y="21" width="1.05" height="198.6" fill="url(#g464)"/>
<rect x="499.0" y="21" width="1.05" height="198.6" fill="url(#g465)"/>
<rect x="500.0" y="21" width="1.05" height="198.6" fill="url(#g466)"/>
<rect x="501.0" y="21" width="1.05" height="198.6" fill="url(#g467)"/>
<rect x="502.0" y="21" width="1.05" height="198.6" fill="url(#g468)"/>
<rect x="503.0" y="21" width="1.05" height="198.6" fill="url(#g469)"/>
<rect x="504.0" y="21" width="1.05" height="198.6" fill="url(#g470)"/>
<rect x="505.0" y="21" width="1.05" height="198.6" fill="url(#g471)"/>
<rect x="506.0" y="21" width="1.05" height="198.6" fill="url(#g472)"/>
<rect x="507.0" y="21" width="1.05" height="198.6" fill="url(#g473)"/>
<rect x="508.0" y="21" width="1.05" height="198.6" fill="url(#g474)"/>
<rect x="509.0" y="21" width="1.05" height="198.6" fill="url(#g475)"/>
<rect x="510.0" y="21" width="1.05" height="198.6" fill="url(#g476)"/>
<rect x="511.0" y="21" width="1.05" height="198.6" fill="url(#g477)"/>
<rect x="512.0" y="21" width="1.05" height="198.6" fill="url(#g478)"/>
<rect x="513.0" y="21" width="1.05" height="198.6" fill="url(#g479)"/>
<rect x="514.0" y="21" width="1.05" height="198.6" fill="url(#g480)"/>
<rect x="515.0" y="21" width="1.05" height="198.6" fill="url(#g481)"/>
<rect x="516.0" y="21" width="1.05" height="198.6" fill="url(#g482)"/>
<rect x="517.0" y="21" width="1.05" height="198.6" fill="url(#g483)"/>
<rect x="518.0" y="21" width="1.05" height="198.6" fill="url(#g484)"/>
<rect x="519.0" y="21" width="1.05" height="198.6" fill="url(#g485)"/>
<rect x="520.0" y="21" width="1.05" height="198.6" fill="url(#g486)"/>
<rect x="521.0" y="21" width="1.05" height="198.6" fill="url(#g487)"/>
<rect x="522.0" y="21" width="1.05" height="198.6" fill="url(#g488)"/>
<rect x="523.0" y="21" width="1.05" height="198.6" fill="url(#g489)"/>
<rect x="524.0" y="21" width="1.05" height="198.6" fill="url(#g490)"/>
<rect x="525.0" y="21" width="1.05" height="198.6" fill="url(#g491)"/>
<rect x="526.0" y="21" width="1.05" height="198.6" fill="url(#g492)"/>
<rect x="527.0" y="21" width="1.05" height="198.6" fill="url(#g493)"/>
<rect x="528.0" y="21" width="1.05" height="198.6" fill="url(#g494)"/>
<rect x="529.0" y="21" width="1.05" height="198.6" fill="url(#g495)"/>
<rect x="530.0" y="21" width="1.05" height="198.6" fill="url(#g496)"/>
<rect x="531.0" y="21" width="1.05" height="198.6" fill="url(#g497)"/>
<rect x="532.0" y="21" width="1.05" height="198.6" fill="url(#g498)"/>
<rect x="533.0" y="21" width="1.05" height="198.6" fill="url(#g499)"/>
<rect x="534.0" y="21" width="1.05" height="198.6" fill="url(#g500)"/>
<rect x="535.0" y="21" width="1.05" height="198.6" fill="url(#g501)"/>
<rect x="536.0" y="21" width="1.05" height="198.6" fill="url(#g502)"/>
<rect x="537.0" y="21" width="1.05" height="198.6" fill="url(#g503)"/>
<rect x="538.0" y="21" width="1.05" height="198.6" fill="url(#g504)"/>
<rect x="539.0" y="21" width="1.05" height="198.6" fill="url(#g505)"/>
<rect x="540.0" y="21" width="1.05" height="198.6" fill="url(#g506)"/>
<rect x="541.0" y="21" width="1.05" height="198.6" fill="url(#g507)"/>
<rect x="542.0" y="21" width="1.05" height="198.6" fill="url(#g508)"/>
<rect x="543.0" y="21" width="1.05" height="198.6" fill="url(#g509)"/>
<rect x="544.0" y="21" width="1.05" height="198.6" fill="url(#g510)"/>
<rect x="545.0" y="21" width="1.05" height="198.6" fill="url(#g511)"/>
<rect x="546.0" y="21" width="1.05" height="198.6" fill="url(#g512)"/>
<rect x="547.0" y="21" width="1.05" height="198.6" fill="url(#g513)"/>
<rect x="548.0" y="21" width="1.05" height="198.6" fill="url(#g514)"/>
<rect x="549.0" y="21" width="1.05" height="198.6" fill="url(#g515)"/>
<rect x="550.0" y="21" width="1.05" height="198.6" fill="url(#g516)"/>
<rect x="551.0" y="21" width="1.05" height="198.6" fill="url(#g517)"/>
<rect x="552.0" y="21" width="1.05" height="198.6" fill="url(#g518)"/>
<rect x="553.0" y="21" width="1.05" height="198.6" fill="url(#g519)"/>
<rect x="554.0" y="21" width="1.05" height="198.6" fill="url(#g520)"/>
<rect x="555.0" y="21" width="1.05" height="198.6" fill="url(#g521)"/>
<rect x="556.0" y="21" width="1.05" height="198.6" fill="url(#g522)"/>
<rect x="557.0" y="21" width="1.05" height="198.6" fill="url(#g523)"/>
<rect x="558.0" y="21" width="1.05" height="198.6" fill="url(#g524)"/>
<rect x="559.0" y="21" width="1.05" height="198.6" fill="url(#g525)"/>
<rect x="560.0" y="21" width="1.05" height="198.6" fill="url(#g526)"/>
<rect x="561.0" y="21" width="1.05" height="198.6" fill="url(#g527)"/>
<rect x="562.0" y="21" width="1.05" height="198.6" fill="url(#g528)"/>
<rect x="563.0" y="21" width="1.05" height="198.6" fill="url(#g529)"/>
<rect x="564.0" y="21" width="1.05" height="198.6" fill="url(#g530)"/>
<rect x="565.0" y="21" width="1.05" height="198.6" fill="url(#g531)"/>
<rect x="566.0" y="21" width="1.05" height="198.6" fill="url(#g532)"/>
<rect x="567.0" y="21" width="1.05" height="198.6" fill="url(#g533)"/>
<rect x="568.0" y="21" width="1.05" height="198.6" fill="url(#g534)"/>
<rect x="569.0" y="21" width="1.05" height="198.6" fill="url(#g535)"/>
<rect x="570.0" y="21" width="1.05" height="198.6" fill="url(#g536)"/>
<rect x="571.0" y="21" width="1.05" height="198.6" fill="url(#g537)"/>
<rect x="572.0" y="21" width="1.05" height="198.6" fill="url(#g538)"/>
<rect x="573.0" y="21" width="1.05" height="198.6" fill="url(#g539)"/>
<rect x="574.0" y="21" width="1.05" height="198.6" fill="url(#g540)"/>
<rect x="575.0" y="21" width="1.05" height="198.6" fill="url(#g541)"/>
<rect x="576.0" y="21" width="1.05" height="198.6" fill="url(#g542)"/>
<rect x="577.0" y="21" width="1.05" height="198.6" fill="url(#g543)"/>
<rect x="578.0" y="21" width="1.05" height="198.6" fill="url(#g544)"/>
<rect x="579.0" y="21" width="1.05" height="198.6" fill="url(#g545)"/>
<rect x="580.0" y="21" width="1.05" height="198.6" fill="url(#g546)"/>
<rect x="581.0" y="21" width="1.05" height="198.6" fill="url(#g547)"/>
<rect x="582.0" y="21" width="1.05" height="198.6" fill="url(#g548)"/>
<rect x="583.0" y="21" width="1.05" height="198.6" fill="url(#g549)"/>
<rect x="584.0" y="21" width="1.05" height="198.6" fill="url(#g550)"/>
<rect x="585.0" y="21" width="1.05" height="198.6" fill="url(#g551)"/>
<rect x="586.0" y="21" width="1.05" height="198.6" fill="url(#g552)"/>
<rect x="587.0" y="21" width="1.05" height="198.6" fill="url(#g553)"/>
<rect x="588.0" y="21" width="1.05" height="198.6" fill="url(#g554)"/>
<rect x="589.0" y="21" width="1.05" height="198.6" fill="url(#g555)"/>
<rect x="590.0" y="21" width="1.05" height="198.6" fill="url(#g556)"/>
<rect x="591.0" y="21" width="1.05" height="198.6" fill="url(#g557)"/>
<rect x="592.0" y="21" width="1.05" height="198.6" fill="url(#g558)"/>
<rect x="593.0" y="21" width="1.05" height="198.6" fill="url(#g559)"/>
<rect x="594.0" y="21" width="1.05" height="198.6" fill="url(#g560)"/>
<rect x="595.0" y="21" width="1.05" height="198.6" fill="url(#g561)"/>
<rect x="596.0" y="21" width="1.05" height="198.6" fill="url(#g562)"/>
<rect x="597.0" y="21" width="1.05" height="198.6" fill="url(#g563)"/>
<rect x="598.0" y="21" width="1.05" height="198.6" fill="url(#g564)"/>
<rect x="599.0" y="21" width="1.05" height="198.6" fill="url(#g565)"/>
<rect x="600.0" y="21" width="1.05" height="198.6" fill="url(#g566)"/>
<rect x="601.0" y="21" width="1.05" height="198.6" fill="url(#g567)"/>
<rect x="602.0" y="21" width="1.05" height="198.6" fill="url(#g568)"/>
<rect x="603.0" y="21" width="1.05" height="198.6" fill="url(#g569)"/>
<rect x="604.0" y="21" width="1.05" height="198.6" fill="url(#g570)"/>
<rect x="605.0" y="21" width="1.05" height="198.6" fill="url(#g571)"/>
<rect x="606.0" y="21" width="1.05" height="198.6" fill="url(#g572)"/>
<rect x="607.0" y="21" width="1.05" height="198.6" fill="url(#g573)"/>
<rect x="608.0" y="21" width="1.05" height="198.6" fill="url(#g574)"/>
<rect x="609.0" y="21" width="1.05" height="198.6" fill="url(#g575)"/>
<rect x="610.0" y="21" width="1.05" height="198.6" fill="url(#g576)"/>
<rect x="611.0" y="21" width="1.05" height="198.6" fill="url(#g577)"/>
<rect x="612.0" y="21" width="1.05" height="198.6" fill="url(#g578)"/>
<rect x="613.0" y="21" width="1.05" height="198.6" fill="url(#g579)"/>
<rect x="614.0" y="21" width="1.05" height="198.6" fill="url(#g580)"/>
<rect x="615.0" y="21" width="1.05" height="198.6" fill="url(#g581)"/>
<rect x="616.0" y="21" width="1.05" height="198.6" fill="url(#g582)"/>
<rect x="617.0" y="21" width="1.05" height="198.6" fill="url(#g583)"/>
<rect x="618.0" y="21" width="1.05" height="198.6" fill="url(#g584)"/>
<rect x="619.0" y="21" width="1.05" height="198.6" fill="url(#g585)"/>
<rect x="620.0" y="21" width="1.05" height="198.6" fill="url(#g586)"/>
<rect x="621.0" y="21" width="1.05" height="198.6" fill="url(#g587)"/>
<rect x="622.0" y="21" width="1.05" height="198.6" fill="url(#g588)"/>
<rect x="623.0" y="21" width="1.05" height="198.6" fill="url(#g589)"/>
<polyline points="34.9,203.5 35.7,204.4 36.5,205.7 37.3,208.1 38.1,203.3 38.9,209.4 39.7,202.9 40.5,209.7 41.3,204.4 42.1,208.6 42.9,208.6 43.7,209.6 44.5,206.1 45.3,207.7 46.1,204.8 46.9,208.7 47.7,203.5 48.5,209.1 49.3,207.0 50.1,203.1 50.9,209.5 51.7,205.0 52.5,203.2 53.3,204.6 54.1,202.9 54.9,204.7 55.7,207.8 56.5,209.8 57.3,207.2 58.1,208.8 58.9,208.6 59.7,207.8 60.5,205.5 61.3,204.5 62.1,203.8 62.9,206.6 63.7,204.2 64.5,208.0 65.3,205.0 66.1,206.9 66.9,206.6 67.7,207.2 68.5,203.8" fill="none" stroke="#fb6520" stroke-width="1.4" stroke-linejoin="round"/>
<polyline points="34.5,203.9 35.3,206.4 36.1,205.0 36.9,206.8 37.7,207.0 38.5,202.5 39.3,202.1 40.1,208.7 40.9,204.1 41.7,203.9 42.5,210.0 43.3,205.8 44.1,208.7 44.9,205.8 45.7,207.1 46.5,203.2 47.3,207.1 48.1,208.9 48.9,206.2 49.7,207.9 50.5,207.4 51.3,202.5 52.1,208.1 52.9,206.7 53.7,204.4 54.5,202.2 55.3,208.9 56.1,205.8 56.9,207.8 57.7,209.0 58.5,207.7 59.3,209.4 60.1,205.2 60.9,208.4 61.7,205.6 62.5,209.5 63.3,209.0 64.1,202.8 64.9,203.1 65.7,203.7 66.5,209.7 67.3,205.5 68.1,207.0 68.9,204.4 69.2,216.0 70.4,185.9 72.0,185.9 73.4,175.0 74.7,160.0 75.9,161.7 77.5,165.9 79.2,172.5 80.4,166.7 81.7,170.0 83.4,177.5 85.0,169.2 86.7,173.4 88.0,170.0 88.7,150.0 89.8,144.0 91.7,151.7 94.2,157.5 95.9,152.5 98.4,153.3 101.7,154.2 104.2,152.5 106.7,158.3 110.1,166.7 112.1,158.3 114.3,168.4 117.6,181.7 119.3,157.5 120.9,168.4 123.1,180.9 125.9,157.5 128.1,165.0 129.8,178.4 131.5,152.5 133.5,163.4 136.0,173.4 139.3,185.1 141.0,156.7 142.6,166.7 145.1,173.4 148.5,181.7 151.0,192.6 152.2,141.0 154.3,161.7 156.7,185.1 158.3,151.7 160.1,175.2 162.6,186.3 165.4,194.3 166.7,157.5 168.6,176.8 171.2,187.2 174.2,193.4 175.9,161.7 176.8,179.4 178.2,188.9 179.7,193.4 180.9,158.4 183.0,178.7 185.9,189.1 189.2,194.3 190.9,159.2 192.2,179.1 193.9,188.7 195.9,193.4 198.1,170.1 199.2,184.4 200.8,189.6 202.6,195.1 203.7,173.4 204.7,186.0 206.0,191.9 207.6,194.3 208.8,172.6 210.5,187.1 212.8,192.7 215.4,196.8 216.8,167.6 217.8,185.2 219.3,192.0 220.9,198.4 221.8,173.4 223.5,189.1 225.8,195.5 228.5,200.1 230.5,175.1 231.2,186.4 232.3,191.6 233.5,196.8 234.5,165.9 236.8,185.3 239.9,194.8 243.5,199.3 245.5,160.9 246.5,179.8 247.9,191.8 249.5,197.5 250.0,193.4 251.7,198.4 254.2,197.6 256.3,186.7 258.0,195.1 260.9,198.4 263.4,205.1 265.0,176.7 266.7,188.4 268.4,195.1 269.7,186.7 271.4,196.8 274.2,182.6 276.7,196.8 278.7,197.6 280.9,180.1 283.4,196.8 285.9,200.1 288.4,206.0 289.7,160.0 291.4,190.1 294.2,197.6 297.6,202.6 300.9,182.6 302.6,197.6 305.1,180.1 307.6,193.4 310.9,198.4 313.1,165.0 315.1,190.1 318.4,196.8 321.8,202.6 325.1,183.4 327.1,196.8 329.3,185.1 331.8,196.8 334.8,200.1 336.5,157.5 338.5,183.4 340.2,193.4 342.7,183.4 345.2,193.4 347.5,199.2 350.0,180.9 351.7,191.7 354.2,195.9 355.9,185.9 358.4,195.1 361.7,199.2 364.7,185.1 365.9,195.1 367.5,185.1 369.2,195.9 371.7,199.2 375.0,198.4 376.7,191.7 378.4,195.1 379.7,184.2 381.7,196.7 385.1,198.4 387.6,200.9 389.2,198.4 390.4,180.9 392.6,195.1 395.1,198.4 398.1,186.7 400.1,196.7 403.4,199.2 405.9,187.6 407.6,196.7 409.3,189.2 410.9,194.2 413.4,182.6 415.1,193.4 416.8,198.4 419.3,189.2 421.8,193.4 424.8,190.1 426.8,195.9 428.5,195.9 431.0,190.9 432.6,195.1 436.0,190.1 437.7,196.7 438.5,198.8 439.4,193.4 440.2,194.6 441.0,195.9 441.8,194.0 442.5,195.1 443.3,196.1 444.2,196.3 445.0,197.6 446.0,194.5 447.0,191.7 448.1,196.8 449.2,198.4 450.0,195.6 450.9,199.2 451.9,192.2 453.0,190.9 454.0,191.4 455.0,196.7 455.8,195.1 456.7,195.6 457.5,199.2 458.6,199.5 459.7,193.7 460.7,197.9 461.7,197.6 462.5,196.2 463.4,200.1 464.2,196.4 465.0,192.6 465.9,194.3 466.7,198.4 467.5,197.2 468.4,197.4 469.2,198.4 470.0,198.5 470.9,197.3 471.7,195.9 472.6,195.2 473.4,194.3 474.2,195.4 475.1,196.7 475.9,194.7 476.8,197.9 477.6,199.4 478.4,198.4 479.2,196.8 480.1,194.0 480.9,195.9 481.7,195.3 482.5,198.0 483.4,201.0 484.2,201.8 485.0,202.5 485.9,198.8 486.7,198.4 487.6,200.5 488.4,199.6 489.2,198.6 490.1,199.2 490.9,198.6 491.8,199.6 492.6,201.2 493.4,200.1 494.2,200.3 495.1,202.7 495.9,201.8 496.8,201.1 497.6,203.4 498.4,202.2 499.3,201.8 500.1,199.2 500.9,197.1 501.8,200.0 502.6,200.7 503.4,201.8 504.5,197.7 505.6,188.7 506.6,195.5 507.6,196.7 508.4,196.5 509.3,200.4 510.1,198.4 511.1,196.9 512.1,191.7 513.2,192.7 514.3,196.7 515.1,196.2 516.0,193.8 516.8,195.9 517.6,198.3 518.5,197.8 519.3,199.7 520.1,197.6 521.0,199.2 521.8,198.2 522.6,198.4 523.5,196.7 524.3,197.5 525.1,195.0 526.0,198.5 526.8,198.4 527.6,195.9 528.5,197.4 529.4,202.0 530.2,200.9 531.0,197.2 531.9,196.6 532.7,195.9 533.5,197.6 534.3,200.2 535.1,195.9 536.0,195.2 536.8,198.4 537.6,200.8 538.4,196.4 539.2,201.2 540.0,199.2 541.0,198.7 541.7,196.3 542.4,197.6 543.1,202.0 543.8,202.9 544.5,195.3 545.2,200.6 545.9,195.3 546.6,201.5 547.3,197.9 548.0,203.0 548.7,203.9 549.4,199.5 550.1,204.1 550.8,197.7 551.5,195.6 552.2,200.4 552.9,195.2 553.6,196.7 554.3,198.7 555.0,200.5 555.7,196.4 556.4,195.5 557.1,203.2 557.8,198.2 558.5,204.2 559.2,203.7 559.9,199.1 560.6,199.9 561.3,200.6 562.0,201.8 562.7,201.5 563.4,201.2 564.1,201.9 564.8,204.9 565.5,201.0 566.2,200.4 566.9,203.2 567.6,198.9 568.3,199.5 569.0,205.9 569.7,201.8 570.4,202.1 571.1,197.3 571.8,201.1 572.5,202.7 573.2,197.6 573.9,203.2 574.6,203.5 575.3,198.3 576.0,203.6 576.7,202.2 577.4,204.3 578.1,201.4 578.8,204.7 579.5,205.1 580.2,198.6 580.9,199.0 581.6,204.6 582.3,207.3 583.0,200.7 583.7,202.6 584.4,203.9 585.1,201.3 585.8,201.7 586.5,201.3 587.2,201.8 587.9,203.9 588.6,201.2 589.3,201.9 590.0,205.5 590.7,198.6 591.4,203.6 592.1,205.2 592.8,201.3 593.5,200.4 594.2,205.8 594.9,200.6 595.6,200.1 596.3,202.4 597.0,204.8 597.7,199.3 598.4,201.4 599.1,201.5 599.8,206.1 600.5,202.4 601.2,199.9 601.9,204.3 602.6,207.2 603.3,212.0 604.0,211.6 604.7,205.6 605.4,205.6 606.1,208.1 606.8,200.6 607.5,201.9 608.2,201.8 608.9,209.1 609.6,206.1 610.3,201.9 611.0,214.9 611.7,205.6 612.4,208.7 613.1,207.5 613.8,200.4 614.5,198.2 615.2,204.1 615.9,206.0 616.6,211.5 617.3,207.2 618.0,202.4 618.7,206.2 619.4,209.9 620.1,201.9 620.8,207.9 621.5,213.7 622.2,205.9 622.9,212.8" fill="none" stroke="#fb6520" stroke-width="1.65" stroke-linejoin="round"/>
<rect x="34.5" y="21.6" width="589.3" height="197.8" fill="none" stroke="#1a1a1a" stroke-width="1.2"/>
<path d="M34.5 219.4V216M34.5 21.6V25M95.7 219.4V216M95.7 21.6V25M156.9 219.4V216M156.9 21.6V25M218.1 219.4V216M218.1 21.6V25M279.3 219.4V216M279.3 21.6V25M340.5 219.4V216M340.5 21.6V25M401.7 219.4V216M401.7 21.6V25M462.9 219.4V216M462.9 21.6V25M524.1 219.4V216M524.1 21.6V25M585.3 219.4V216M585.3 21.6V25M34 186.4H37.6M34 153.4H37.6M34 120.4H37.6M34 87.4H37.6M34 54.4H37.6" stroke="#1a1a1a" stroke-width="1.1" fill="none"/>
<text x="30.4" y="224.2" font-size="14" text-anchor="end">0</text>
<text x="30.4" y="191.2" font-size="14" text-anchor="end">2</text>
<text x="30.4" y="158.2" font-size="14" text-anchor="end">4</text>
<text x="30.4" y="125.2" font-size="14" text-anchor="end">6</text>
<text x="30.4" y="92.2" font-size="14" text-anchor="end">8</text>
<text x="30.4" y="59.2" font-size="14" text-anchor="end">10</text>
<text x="30.4" y="26.2" font-size="14" text-anchor="end">12</text>
<text x="34.5" y="237.3" font-size="14" text-anchor="middle">0</text>
<text x="95.7" y="237.3" font-size="14" text-anchor="middle">200</text>
<text x="156.9" y="237.3" font-size="14" text-anchor="middle">400</text>
<text x="218.1" y="237.3" font-size="14" text-anchor="middle">600</text>
<text x="279.3" y="237.3" font-size="14" text-anchor="middle">800</text>
<text x="340.5" y="237.3" font-size="14" text-anchor="middle">1000</text>
<text x="401.7" y="237.3" font-size="14" text-anchor="middle">1200</text>
<text x="462.9" y="237.3" font-size="14" text-anchor="middle">1400</text>
<text x="524.1" y="237.3" font-size="14" text-anchor="middle">1600</text>
<text x="585.3" y="237.3" font-size="14" text-anchor="middle">1800</text>
<text x="329.5" y="254.3" font-size="15.3" text-anchor="middle">Time (s)</text>
<text transform="translate(10,119.4) rotate(-90)" font-size="15.3" text-anchor="middle">Doppler velocities (m/s)</text>
<text x="0.8" y="10.2" font-size="13.5" font-weight="bold">(a)</text>
<text x="34.5" y="16" font-size="11.15">#DF20220605, t0=11:29:05 UTC, RG2</text>
<text x="40" y="37.6" font-size="12.5" fill="#f9652a">Median velocity (m/s)</text>
<text x="50" y="59.7" font-size="14">Velocity</text>
<text x="49.5" y="76.3" font-size="14">jump</text>
<text x="42" y="106" font-size="14">Front</text>
<text x="122.2" y="70.3" font-size="14.4">Series of</text>
<text x="122.2" y="86.2" font-size="14.4">roll waves</text>
<path d="M79.5 76L86 98.5M65.8 108.5L72.2 132" stroke="#1a1a1a" stroke-width="1.6" stroke-dasharray="1.3 1.0" fill="none"/>
<path d="M122.5 94.5H402" stroke="#1a1a1a" stroke-width="1.7" stroke-dasharray="1.3 1.0" fill="none"/>
<path d="M400.9 87L407.2 94.4L400.9 101.6" stroke="#262626" stroke-width="1.9" fill="none"/>
<text x="444.5" y="52.3" font-size="14.2">Ø Bulk density ~ 1690 kg m<tspan font-size="9" dy="-5.5">-3</tspan></text>
<rect x="630.5" y="21.6" width="12.5" height="197.8" fill="url(#cb)" stroke="#333" stroke-width="1"/>
<path d="M643 179.8H640.5M643 140.3H640.5M643 100.7H640.5M643 61.2H640.5" stroke="#333" stroke-width="1"/>
<text x="648" y="224.6" font-size="14">0</text>
<text x="648" y="185.0" font-size="14">50</text>
<text x="648" y="145.5" font-size="14">100</text>
<text x="648" y="105.9" font-size="14">150</text>
<text x="648" y="66.4" font-size="14">200</text>
<text x="648" y="26.8" font-size="14">250</text>
<text transform="translate(673.5,120) rotate(90)" font-size="15" text-anchor="middle">Echo intensity (absolute)</text>
<path d="M96.7 265.5V380M157.9 265.5V380M219.1 265.5V380M280.3 265.5V380M341.5 265.5V380M402.7 265.5V380M463.9 265.5V380M35.5 342.0H464M35.5 303.8H464M35.5 265.5H464" stroke="#d6d6d6" stroke-width="1.1" fill="none"/>
<polyline points="73.6,338.0 74.3,320.8 75.7,296.2 76.5,298.6 78.6,306.5 80.5,314.4 81.5,311.2 82.5,312.9 85.0,321.5 86.8,313.6 88.2,318.7 89.1,319.4 90.1,292.9 90.8,299.3 91.5,304.3 92.9,305.0 94.4,308.6 97.9,310.8 102.9,315.8 104.4,315.1 108.0,318.0 109.4,320.1 111.5,324.0 113.4,318.7 115.8,325.8 119.4,332.3 120.6,316.5 122.4,326.3 124.5,331.3 126.0,317.9 127.8,317.9 129.0,323.3 131.3,331.3 132.5,315.3 133.4,316.7 135.3,322.7 137.3,328.7 138.5,330.4 140.3,335.2 141.3,336.4 141.9,317.7 142.7,317.9 143.5,323.9 145.1,324.5 147.5,328.1 149.9,336.4 151.0,339.2 152.5,341.2 153.4,312.5 154.6,319.7 155.8,329.9 158.2,339.4 159.4,318.5 160.6,323.9 162.4,333.4 164.8,339.4 167.2,340.6 167.8,320.3 169.0,321.5 170.7,329.9 173.1,339.4 174.9,343.2 176.1,343.0 177.1,324.5 177.9,325.1 179.1,337.0 181.1,344.4 182.1,325.7 183.9,328.1 186.3,339.4 189.3,345.4 191.0,344.8 191.6,321.5 193.4,329.9 195.8,341.8 198.0,346.4 198.8,328.9 199.8,329.7 201.6,342.2 202.8,345.8 203.6,345.8 204.3,331.3 205.1,332.7 206.6,345.2 208.7,345.8 209.7,331.3 210.5,332.7 212.3,345.2 213.5,347.0 215.3,347.3 216.5,348.2 217.4,329.3 218.3,331.5 220.1,347.6 221.9,348.2 222.8,330.3 223.7,332.1 225.4,345.2 227.2,345.8 229.0,347.6 230.8,349.2 231.8,329.1 233.0,337.5 234.2,347.0 235.0,327.7 236.2,332.7 238.2,344.6 240.4,347.0 242.8,348.8 244.2,347.6 245.7,343.4 246.7,320.7 247.5,333.9 249.3,344.6 251.1,347.0 252.9,348.2 255.3,351.2 256.9,336.3 258.3,344.6 260.1,348.2 263.1,352.4 265.2,356.6 266.4,331.5 267.8,342.8 269.6,348.8 270.6,339.3 272.0,349.4 273.3,350.2 274.5,335.1 275.4,341.3 276.2,347.2 277.8,348.4 280.1,353.2 281.0,333.5 281.9,341.3 283.1,346.6 284.9,347.8 286.7,353.2 289.7,357.4 290.5,333.5 291.5,343.7 293.3,346.6 295.7,351.4 298.7,354.4 300.8,339.5 301.6,340.7 303.4,349.6 304.9,331.7 305.8,335.3 307.6,349.6 310.0,350.2 312.4,353.2 313.3,330.3 314.8,347.2 317.2,349.6 320.1,353.2 322.5,355.6 324.9,335.5 326.1,343.7 327.9,350.2 328.9,337.4 329.7,338.3 330.9,347.2 333.3,350.2 335.7,353.2 336.9,327.9 338.7,338.9 340.4,347.8 342.8,341.0 344.0,344.9 345.8,349.6 348.8,349.9 350.0,335.3 351.0,342.7 352.2,347.5 354.6,349.9 355.7,336.1 356.7,342.7 358.1,348.1 359.9,349.9 361.7,350.4 363.5,352.2 364.1,336.1 365.3,346.3 366.3,348.7 367.4,342.4 368.3,346.9 370.1,349.9 371.9,351.6 373.7,353.4 376.3,345.7 377.2,348.7 378.7,350.4 379.9,340.3 380.8,348.7 383.2,350.4 385.6,352.8 389.2,353.4 390.4,337.3 391.6,346.3 393.4,350.4 396.3,351.3 397.8,338.1 399.0,349.3 401.1,351.3 404.1,351.6 405.9,343.9 407.1,349.9 408.3,351.0 409.5,342.4 410.7,348.7 411.9,346.9 413.7,342.4 414.9,349.3 416.6,352.0 418.4,351.0 419.3,341.4 420.3,347.4 421.7,349.4 423.6,351.3 424.6,348.4 425.5,350.8 426.5,353.2 427.9,351.3 429.8,350.8 431.0,345.8 432.0,350.8 433.6,351.9 435.2,345.2 436.5,351.0 438.4,352.2 440.3,351.3 442.2,350.8 443.5,349.4 444.4,351.3 445.6,350.3 446.5,345.5 447.5,350.3 449.4,353.2 451.1,352.2 453.0,347.4 454.2,351.7 455.6,352.2 457.5,354.1" fill="none" stroke="#262626" stroke-width="1.5" stroke-linejoin="round"/>
<path d="M35.5 265V380.3H464.2" stroke="#111" stroke-width="1.5" fill="none"/>
<path d="M96.7 380.3V377.5M157.9 380.3V377.5M219.1 380.3V377.5M280.3 380.3V377.5M341.5 380.3V377.5M402.7 380.3V377.5M463.9 380.3V377.5M35.5 342.0H38.5M35.5 303.8H38.5M35.5 265.5H38.5" stroke="#111" stroke-width="1.3" fill="none"/>
<text x="30.8" y="385.8" font-size="14" text-anchor="end">0</text>
<text x="30.8" y="347.5" font-size="14" text-anchor="end">1</text>
<text x="30.8" y="309.3" font-size="14" text-anchor="end">2</text>
<text x="30.8" y="271.0" font-size="14" text-anchor="end">3</text>
<text x="35.5" y="397.5" font-size="14" text-anchor="middle">0</text>
<text x="96.7" y="397.5" font-size="14" text-anchor="middle">200</text>
<text x="157.9" y="397.5" font-size="14" text-anchor="middle">400</text>
<text x="219.1" y="397.5" font-size="14" text-anchor="middle">600</text>
<text x="280.3" y="397.5" font-size="14" text-anchor="middle">800</text>
<text x="341.5" y="397.5" font-size="14" text-anchor="middle">1000</text>
<text x="402.7" y="397.5" font-size="14" text-anchor="middle">1200</text>
<text x="463.9" y="397.5" font-size="14" text-anchor="middle">1400</text>
<text x="249.5" y="415.5" font-size="15" text-anchor="middle">Time (s)</text>
<text transform="translate(18.5,323) rotate(-90)" font-size="15" text-anchor="middle">h (m)</text>
<text x="2.4" y="263.2" font-size="14.2" font-weight="bold">(b)</text>
<path d="M523.7 343.1H567.3M523.7 303.9H567.3M523.7 264.7H567.3" stroke="#d0d0d0" stroke-width="1.1" fill="none"/>
<path d="M523.7 264.7V382.8M567.3 264.7V382.8" stroke="#111" stroke-width="1.4" fill="none"/>
<path d="M523.7 382.4H567.3" stroke="#444" stroke-width="1.1" fill="none"/>
<path d="M523.7 343.1H526.7M523.7 303.9H526.7M523.7 264.7H526.7" stroke="#111" stroke-width="1.2" fill="none"/>
<path d="M545.5 382.3V385.8" stroke="#444" stroke-width="1.1" fill="none"/>
<text x="518.7" y="386.9" font-size="13.5" text-anchor="end">0</text>
<text x="518.7" y="347.7" font-size="13.5" text-anchor="end">1</text>
<text x="518.7" y="308.5" font-size="13.5" text-anchor="end">2</text>
<text x="518.7" y="269.3" font-size="13.5" text-anchor="end">3</text>
<path d="M545.5 333.2V315.5M545.5 351.3V353.5" stroke="#111" stroke-width="1.4"/>
<rect x="534.2" y="333.2" width="22.4" height="18.1" fill="#bdbdbd" fill-opacity="0.9" stroke="#111" stroke-width="1.4"/>
<path d="M534.2 346.6H556.6" stroke="#111" stroke-width="1.6"/>
<rect x="543.85" y="295.4" width="3.3" height="19.6" fill="#333"/>
<rect x="543.85" y="353.8" width="3.3" height="6.2" fill="#333"/>
<path d="M543.6 293.8L545.4 290.6L547.2 293.8Z" fill="#333" stroke="#333" stroke-width="0.8"/>
<path d="M614.0 343.1H657.5M614.0 303.9H657.5M614.0 264.7H657.5" stroke="#d0d0d0" stroke-width="1.1" fill="none"/>
<path d="M614.0 264.7V382.8M657.5 264.7V382.8" stroke="#111" stroke-width="1.4" fill="none"/>
<path d="M614.0 382.4H657.5" stroke="#444" stroke-width="1.1" fill="none"/>
<path d="M614.0 343.1H617.0M614.0 303.9H617.0M614.0 264.7H617.0" stroke="#111" stroke-width="1.2" fill="none"/>
<path d="M635.8 382.3V385.8" stroke="#444" stroke-width="1.1" fill="none"/>
<text x="609.0" y="386.9" font-size="13.5" text-anchor="end">0</text>
<text x="609.0" y="347.7" font-size="13.5" text-anchor="end">2</text>
<text x="609.0" y="308.5" font-size="13.5" text-anchor="end">4</text>
<text x="609.0" y="269.3" font-size="13.5" text-anchor="end">6</text>
<path d="M635.8 335.2V308.5M635.8 357.0V365.5" stroke="#111" stroke-width="1.4"/>
<rect x="624.4" y="335.2" width="22.0" height="21.8" fill="#bdbdbd" fill-opacity="0.9" stroke="#111" stroke-width="1.4"/>
<path d="M624.4 350.0H646.4" stroke="#111" stroke-width="1.6"/>
<rect x="634.10" y="296.0" width="3.3" height="12.0" fill="#fb6520"/>
<rect x="634.10" y="365.8" width="3.3" height="12.7" fill="#fb6520"/>
<circle cx="635.5" cy="289.5" r="1.75" fill="#fb6520"/><circle cx="635.5" cy="292.5" r="1.75" fill="#fb6520"/><circle cx="635.5" cy="295.5" r="1.75" fill="#fb6520"/><circle cx="635.5" cy="298.0" r="1.75" fill="#fb6520"/>
<path d="M633.4 380L635.5 376.5L637.6 380Z" fill="#fb6520" stroke="#fb6520" stroke-width="0.8"/>
<text x="491" y="262.8" font-size="14" font-weight="bold">(c)</text>
<text transform="translate(507.8,373.2) rotate(-90)" font-size="13.3">Flow height <tspan font-style="italic">h</tspan> (m)</text>
<text transform="translate(598.4,382.8) rotate(-90)" font-size="13.3" fill="#f9652a">Median velocity (m/s)</text>
</svg></body></html>
